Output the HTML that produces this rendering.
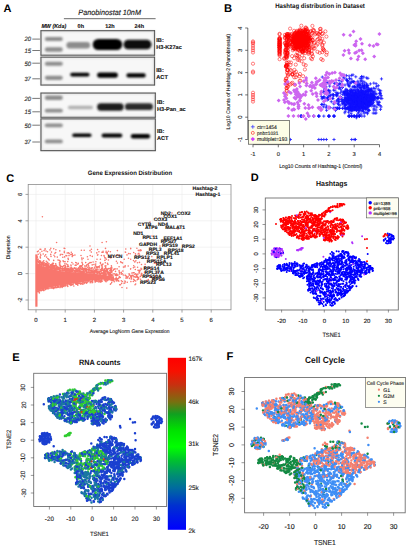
<!DOCTYPE html><html><head><meta charset="utf-8"><style>
html,body{margin:0;padding:0;background:#fff;width:410px;height:550px;overflow:hidden}
svg{display:block;font-family:"Liberation Sans",sans-serif;text-rendering:geometricPrecision}
</style></head><body>
<svg width="410" height="550" viewBox="0 0 410 550">
<defs><filter id="b1" x="-50%" y="-100%" width="200%" height="300%"><feGaussianBlur stdDeviation="1.0"/></filter><filter id="b2" x="-50%" y="-100%" width="200%" height="300%"><feGaussianBlur stdDeviation="1.3"/></filter></defs>
<rect width="410" height="550" fill="#fff"/>
<text x="3.4" y="11.9" font-size="11" font-weight="bold">A</text>
<text x="78.30" y="14.80" font-size="7.71" textLength="62.69" lengthAdjust="spacingAndGlyphs" font-style="italic" fill="#222" stroke="#222" stroke-width="0.15">Panobinostat 10nM</text>
<line x1="63.9" y1="18.7" x2="155.6" y2="18.7" stroke="#444" stroke-width="0.8"/>
<text x="41.40" y="28.00" font-size="5.70" textLength="24.80" lengthAdjust="spacingAndGlyphs" font-weight="bold" font-style="italic" fill="#111" stroke="#111" stroke-width="0.1">MW (Kda)</text>
<text x="80.8" y="28" font-size="5.5" font-weight="bold" text-anchor="middle" fill="#111" stroke="#111" stroke-width="0.12">0h</text>
<text x="110" y="28" font-size="5.5" font-weight="bold" text-anchor="middle" fill="#111" stroke="#111" stroke-width="0.12">12h</text>
<text x="139.3" y="28" font-size="5.5" font-weight="bold" text-anchor="middle" fill="#111" stroke="#111" stroke-width="0.12">24h</text>
<text x="24.44" y="41.40" font-size="6.26" textLength="6.57" lengthAdjust="spacingAndGlyphs" font-style="italic" fill="#333" stroke="#333" stroke-width="0.15">20</text>
<line x1="32.3" y1="39.1" x2="40" y2="39.1" stroke="#555" stroke-width="0.8"/>
<text x="24.40" y="52.80" font-size="6.27" textLength="6.58" lengthAdjust="spacingAndGlyphs" font-style="italic" fill="#333" stroke="#333" stroke-width="0.15">15</text>
<line x1="32.3" y1="50.5" x2="40" y2="50.5" stroke="#555" stroke-width="0.8"/>
<text x="24.40" y="65.50" font-size="6.29" textLength="6.60" lengthAdjust="spacingAndGlyphs" font-style="italic" fill="#333" stroke="#333" stroke-width="0.15">50</text>
<line x1="32.3" y1="63.2" x2="40" y2="63.2" stroke="#555" stroke-width="0.8"/>
<text x="24.40" y="81.10" font-size="6.12" textLength="6.42" lengthAdjust="spacingAndGlyphs" font-style="italic" fill="#333" stroke="#333" stroke-width="0.15">37</text>
<line x1="32.3" y1="78.8" x2="40" y2="78.8" stroke="#555" stroke-width="0.8"/>
<text x="24.44" y="100.70" font-size="6.26" textLength="6.57" lengthAdjust="spacingAndGlyphs" font-style="italic" fill="#333" stroke="#333" stroke-width="0.15">20</text>
<line x1="32.3" y1="98.4" x2="40" y2="98.4" stroke="#555" stroke-width="0.8"/>
<text x="24.40" y="114.10" font-size="6.27" textLength="6.58" lengthAdjust="spacingAndGlyphs" font-style="italic" fill="#333" stroke="#333" stroke-width="0.15">15</text>
<line x1="32.3" y1="111.8" x2="40" y2="111.8" stroke="#555" stroke-width="0.8"/>
<text x="24.40" y="127.50" font-size="6.29" textLength="6.60" lengthAdjust="spacingAndGlyphs" font-style="italic" fill="#333" stroke="#333" stroke-width="0.15">50</text>
<line x1="32.3" y1="125.2" x2="40" y2="125.2" stroke="#555" stroke-width="0.8"/>
<text x="24.40" y="144.30" font-size="6.12" textLength="6.42" lengthAdjust="spacingAndGlyphs" font-style="italic" fill="#333" stroke="#333" stroke-width="0.15">37</text>
<line x1="32.3" y1="142" x2="40" y2="142" stroke="#555" stroke-width="0.8"/>
<rect x="41" y="30.7" width="113.5" height="24.5" fill="#f7f7f7" stroke="#222" stroke-width="1.2"/>
<rect x="41.5" y="31.2" width="112.5" height="23.5" fill="none" stroke="#d8d8d8" stroke-width="1.2" filter="url(#b1)"/>
<rect x="41" y="57.2" width="113.5" height="27.8" fill="#f7f7f7" stroke="#222" stroke-width="1.2"/>
<rect x="41.5" y="57.7" width="112.5" height="26.8" fill="none" stroke="#d8d8d8" stroke-width="1.2" filter="url(#b1)"/>
<rect x="41" y="93.1" width="114.3" height="24.2" fill="#f7f7f7" stroke="#222" stroke-width="1.2"/>
<rect x="41.5" y="93.6" width="113.3" height="23.2" fill="none" stroke="#d8d8d8" stroke-width="1.2" filter="url(#b1)"/>
<rect x="41" y="118.9" width="114.3" height="31.7" fill="#f7f7f7" stroke="#222" stroke-width="1.2"/>
<rect x="41.5" y="119.4" width="113.3" height="30.7" fill="none" stroke="#d8d8d8" stroke-width="1.2" filter="url(#b1)"/>
<rect x="44.8" y="37.1" width="18" height="3.8" rx="1.9" fill="#8c8c8c" filter="url(#b2)"/>
<rect x="44.8" y="47.3" width="18" height="4.4" rx="2.2" fill="#8c8c8c" filter="url(#b2)"/>
<rect x="44.8" y="61.7" width="18" height="4.1" rx="2" fill="#8c8c8c" filter="url(#b2)"/>
<rect x="44.8" y="75.8" width="18" height="4.1" rx="2.1" fill="#8c8c8c" filter="url(#b2)"/>
<rect x="44.8" y="95.6" width="18" height="4.4" rx="2.2" fill="#8c8c8c" filter="url(#b2)"/>
<rect x="44.8" y="108.8" width="18" height="3.8" rx="1.9" fill="#8c8c8c" filter="url(#b2)"/>
<rect x="44.8" y="123.4" width="18" height="3.8" rx="1.9" fill="#8c8c8c" filter="url(#b2)"/>
<rect x="44.8" y="139.5" width="18" height="3.8" rx="1.9" fill="#8c8c8c" filter="url(#b2)"/>
<rect x="66.4" y="41.9" width="23.7" height="6.5" rx="3.2" fill="#8c8c8c" filter="url(#b1)"/>
<rect x="92.7" y="38.9" width="29.6" height="11.2" rx="5.6" fill="#000" filter="url(#b1)"/>
<rect x="123.5" y="39.8" width="28" height="9.5" rx="4.7" fill="#080808" filter="url(#b1)"/>
<rect x="70.2" y="72.7" width="19.3" height="3.8" rx="1.9" fill="#000" filter="url(#b1)"/>
<rect x="97.1" y="72.4" width="20.8" height="5.3" rx="2.6" fill="#000" filter="url(#b1)"/>
<rect x="126.4" y="73.3" width="19.3" height="4.1" rx="2" fill="#000" filter="url(#b1)"/>
<rect x="67.9" y="105.7" width="25.1" height="3.6" rx="1.8" fill="#b0b0b0" filter="url(#b1)"/>
<rect x="97.1" y="103.3" width="26.6" height="7.4" rx="3.7" fill="#1a1a1a" filter="url(#b1)"/>
<rect x="124.9" y="103.3" width="28.1" height="6.8" rx="3.4" fill="#2a2a2a" filter="url(#b1)"/>
<rect x="72.2" y="133.5" width="19.3" height="3.6" rx="1.8" fill="#000" filter="url(#b1)"/>
<rect x="101.6" y="133.5" width="20.7" height="4.1" rx="2.1" fill="#000" filter="url(#b1)"/>
<rect x="130.8" y="134.1" width="19.3" height="4.4" rx="2.2" fill="#000" filter="url(#b1)"/>
<text x="156.3" y="42.2" font-size="5.6" font-weight="bold" fill="#111" stroke="#111" stroke-width="0.12">IB:</text>
<text x="156.3" y="49.3" font-size="5.6" font-weight="bold" fill="#111" stroke="#111" stroke-width="0.12">H3-K27ac</text>
<text x="156.3" y="71.5" font-size="5.6" font-weight="bold" fill="#111" stroke="#111" stroke-width="0.12">IB:</text>
<text x="156.3" y="78.5" font-size="5.6" font-weight="bold" fill="#111" stroke="#111" stroke-width="0.12">ACT</text>
<text x="157" y="103.8" font-size="5.6" font-weight="bold" fill="#111" stroke="#111" stroke-width="0.12">IB:</text>
<text x="157" y="110.6" font-size="5.6" font-weight="bold" fill="#111" stroke="#111" stroke-width="0.12">H3-Pan_ac</text>
<text x="157" y="132.8" font-size="5.6" font-weight="bold" fill="#111" stroke="#111" stroke-width="0.12">IB:</text>
<text x="157" y="139.5" font-size="5.6" font-weight="bold" fill="#111" stroke="#111" stroke-width="0.12">ACT</text>
<text x="250.8" y="181.1" font-size="11" font-weight="bold">D</text>
<text x="316.00" y="186.40" font-size="7.39" textLength="31.40" lengthAdjust="spacingAndGlyphs" font-weight="bold" fill="#111">Hashtags</text>
<rect x="265.3" y="198" width="133" height="112" fill="none" stroke="#707070" stroke-width="0.9"/>
<path d="M265.3 297.9H262.5M265.3 283.3H262.5M265.3 268.6H262.5M265.3 253.9H262.5M265.3 239.2H262.5M265.3 224.5H262.5M265.3 209.9H262.5M281.6 309.8V312.5M302.9 309.8V312.5M324.3 309.8V312.5M345.7 309.8V312.5M367 309.8V312.5M388.4 309.8V312.5" stroke="#555" stroke-width="0.6" fill="none"/>
<text x="257.6" y="297.9" font-size="6" text-anchor="middle" fill="#222" transform="rotate(-90 257.6 297.9)" stroke="#222" stroke-width="0.12">-30</text>
<text x="257.6" y="283.3" font-size="6" text-anchor="middle" fill="#222" transform="rotate(-90 257.6 283.3)" stroke="#222" stroke-width="0.12">-20</text>
<text x="257.6" y="268.6" font-size="6" text-anchor="middle" fill="#222" transform="rotate(-90 257.6 268.6)" stroke="#222" stroke-width="0.12">-10</text>
<text x="257.6" y="253.9" font-size="6" text-anchor="middle" fill="#222" transform="rotate(-90 257.6 253.9)" stroke="#222" stroke-width="0.12">0</text>
<text x="257.6" y="239.2" font-size="6" text-anchor="middle" fill="#222" transform="rotate(-90 257.6 239.2)" stroke="#222" stroke-width="0.12">10</text>
<text x="257.6" y="224.5" font-size="6" text-anchor="middle" fill="#222" transform="rotate(-90 257.6 224.5)" stroke="#222" stroke-width="0.12">20</text>
<text x="257.6" y="209.9" font-size="6" text-anchor="middle" fill="#222" transform="rotate(-90 257.6 209.9)" stroke="#222" stroke-width="0.12">30</text>
<text x="281.6" y="323.3" font-size="6" text-anchor="middle" fill="#222" stroke="#222" stroke-width="0.12">-20</text>
<text x="302.9" y="323.3" font-size="6" text-anchor="middle" fill="#222" stroke="#222" stroke-width="0.12">-10</text>
<text x="324.3" y="323.3" font-size="6" text-anchor="middle" fill="#222" stroke="#222" stroke-width="0.12">0</text>
<text x="345.7" y="323.3" font-size="6" text-anchor="middle" fill="#222" stroke="#222" stroke-width="0.12">10</text>
<text x="367" y="323.3" font-size="6" text-anchor="middle" fill="#222" stroke="#222" stroke-width="0.12">20</text>
<text x="388.4" y="323.3" font-size="6" text-anchor="middle" fill="#222" stroke="#222" stroke-width="0.12">30</text>
<text x="322.40" y="337.20" font-size="6.02" textLength="18.30" lengthAdjust="spacingAndGlyphs" fill="#222" stroke="#222" stroke-width="0.12">TSNE1</text>
<path d="M300 212.6h0M330.9 239.2h0M315.5 214.9h0M341.5 223h0M318.9 220.8h0M289.8 234.9h0M318.5 221h0M335.8 227.4h0M308.2 222.6h0M294.3 234.5h0M294.5 231.7h0M304.7 233.6h0M294.1 230.8h0M323.5 230.3h0M336.6 231.9h0M287 232.3h0M285.3 229.7h0M329.4 239.1h0M338.8 237.1h0M317.8 220.8h0M291.9 221.5h0M290.5 221h0M341 226.5h0M321 232.3h0M317.7 231.9h0M295.4 235.1h0M306 216.6h0M290.9 231.3h0M339.7 227.5h0M335.4 237.8h0M319.5 231.5h0M316.8 216.1h0M367 261.2h0M293.5 235.2h0M292.3 220.7h0M280.4 219.4h0M316.6 234.8h0M285.1 231.3h0M325.7 228.4h0M317.1 232.3h0M332.4 221.7h0M325.2 214.3h0M305.9 225.5h0M319.2 223h0M387.3 234.2h0M341 235h0M295.5 223.6h0M301.7 229.5h0M286.1 225.9h0M289.9 229.2h0M294.2 227.8h0M328.8 235.7h0M331.9 240.8h0M318.9 221.6h0M316.8 217.2h0M313.5 228.8h0M325.8 228.4h0M302 229.9h0M303.8 221.4h0M331 230.2h0M295.6 231.4h0M297.5 236.1h0M387.2 234.7h0M303.5 214.1h0M308 216.2h0M331.6 236.2h0M326.3 227.5h0M325.6 240.3h0M314.5 218.7h0M330.6 222.1h0M316.7 220.4h0M325.6 224.7h0M285.5 230.9h0M336.1 237.5h0M290.8 231.6h0M309.2 231.8h0M318.9 223.3h0M342 224.6h0M310.8 235.3h0M326.2 234.1h0M316.4 219.9h0M317.3 216.6h0M286.7 221.4h0M311.7 232.3h0M320.3 234.7h0M289.5 219.2h0M314.5 215.9h0M337 230.1h0M283.7 218.3h0M367 248h0M337.7 236h0M347.4 226.1h0M306.7 211.6h0M334.5 206.3h0" stroke="#ff0000" stroke-width="2.0" stroke-linecap="round" fill="none"/>
<path d="M329.1 293.1h0M281.7 249h0M300.5 248.8h0M276.6 249.3h0M273.8 250.8h0M279 254.3h0M285.8 258.9h0M362.2 264.7h0M279.7 248.6h0M315.3 231.5h0M274.2 249h0" stroke="#b030ff" stroke-width="2.0" stroke-linecap="round" fill="none"/>
<path d="M326.8 296.3h0M333 262.9h0M353.4 282.3h0M303.2 265.7h0M294.5 263.6h0M361.2 266h0M348.2 291.2h0M345.3 273.5h0M286.5 264.8h0M339.5 273.5h0M314 275.5h0M284.4 267.2h0M345 293.3h0M336.4 285h0M360.9 276.7h0M329 259.8h0M316 281.3h0M350.4 270.5h0M339.2 298.6h0M308.7 268.7h0M308.4 281.2h0M308.9 276.5h0M349.1 287.9h0M361.8 272.3h0M349 268h0M320.1 281.2h0M320.3 295.7h0M343.1 288.5h0M354.6 283.6h0M344.8 292h0M335.2 262.2h0M318.4 280.8h0M331.7 305.7h0M309.4 279.2h0M333.9 263.6h0M330.8 300.8h0M336 276.7h0M391.3 236.8h0M333.2 286.9h0M364.3 273h0M324.8 262.2h0M347 288.7h0M340.2 279.4h0M356.8 277.1h0M285.5 269.3h0M310.6 292.5h0M370.2 267.2h0M281.3 253h0M284 270.6h0M309.3 285.4h0M354 281h0M306.6 265.4h0M317.7 284.3h0M315.4 288.5h0M337.4 261.1h0M348.5 255h0M337.1 261.6h0M319.6 276.8h0M353.5 260.6h0M315.5 267h0M351.7 257.2h0M333.4 291.8h0M360.8 262.8h0M333 269.3h0M328.8 286h0M348.6 266.8h0M356.4 270.4h0M333.9 295.3h0M360.4 272h0M347.1 269.7h0M390.8 241.3h0M316.8 284.6h0M336.4 284.9h0M338.1 270.9h0M325 294.2h0M320.8 287.8h0M314.3 286.8h0M330 279.8h0M370.1 268.5h0M390.9 242.6h0M359.4 276.2h0M331.6 295.2h0M301.6 266.9h0M352.3 259h0M320.1 280.1h0M359.4 275.5h0M348.6 253.4h0M346.4 274.7h0M363.7 268.6h0M334.4 279.4h0M327.9 272.3h0M341.6 263.5h0M319.1 273.4h0M327.8 259.9h0M293.5 267.4h0M316.2 294h0M352.9 277.4h0M331.8 285.8h0M327.9 267.6h0M318.4 281.8h0M333.1 271.2h0M343.1 293.6h0M327.1 298.5h0M342.3 291.2h0M354.5 274.1h0M389.3 234.9h0M338.5 288.8h0M343.1 296.4h0M350.6 269.6h0M331.2 284.5h0M313.6 277.1h0M346.2 263.7h0M302.8 275.2h0M309.5 283.5h0M308.9 270.2h0M355.4 265.4h0M317.4 275.3h0M339.7 271.5h0M329.3 283.9h0M351.6 279.6h0M368.4 271.9h0M389.1 238.3h0M339.2 260h0M340.9 290.6h0M349.9 288.9h0M309.4 274.7h0M325.8 267.6h0M327.9 267.9h0M348.7 267.4h0M318.5 284h0M331.8 271.4h0M354.8 270.5h0M323.6 293.7h0M331 284.1h0M318.7 269.9h0M280.4 249.6h0M347.7 274h0M313.4 272.8h0M317.6 273.5h0M310.2 288.6h0" stroke="#0000ff" stroke-width="2.0" stroke-linecap="round" fill="none"/>
<path d="M280.4 269h0M332.4 275h0M329.2 273.9h0M343.5 276h0M365 274.1h0M367.7 253.9h0M323.6 298.7h0M361.2 269.8h0M338 264.7h0M286.7 263.8h0M317.2 263.3h0M347.6 285.9h0M324.1 279.5h0M313 293.4h0M307.4 277.3h0M327.1 266.7h0M365.3 273.4h0M313.2 284.2h0M338.1 285.5h0M321.9 292.5h0M332.9 266h0M321.5 277.9h0M336.7 281.7h0M309.9 276.4h0M333 285.9h0M362.9 262.2h0M351.2 271.5h0M390.3 243h0M297.3 263.8h0M335.1 290h0M296.8 270.7h0M326.2 294.1h0M326.7 262.1h0M319.4 264.9h0M309.4 279.6h0M355.3 263.7h0M339.1 262.6h0M321.4 286.1h0M366.4 273.2h0M325 296.9h0M348.6 257.6h0M340.6 264.3h0M293 263.7h0M355 257.8h0M312.8 288.8h0M372.9 270.4h0M308.8 274.5h0M340.3 253.9h0M322.8 269.7h0M328.8 301.7h0M313.2 285.7h0M331.7 273.6h0M349.8 290.2h0M309.9 273h0M322.7 269.1h0M326.4 266.3h0M317.3 266.2h0M317.7 283.5h0M343.4 269.2h0M318.5 288.3h0M282.6 266.8h0M319.2 285.8h0M348.5 272.8h0M293.9 270.7h0M354.6 272h0M332.1 254.9h0M316.9 266.3h0M369.3 272.1h0M350.7 256.6h0M350.8 278.3h0M314 264.7h0M355.5 280.5h0M332 303.3h0M331.9 279h0M344.9 295.2h0M313.4 293.5h0M326.9 291.5h0M334 280h0M301.8 276.3h0M352.9 279.4h0M332.4 267.1h0M348.8 258.5h0M338.3 293h0M326.1 300.8h0M329.7 292.8h0M351.1 268.6h0M390.6 239.9h0M329.5 257.5h0M284 268.6h0M314.3 264.9h0M299.2 265h0M320.3 277.7h0M326.9 286.7h0M369.3 270.9h0M310.9 280h0M342.6 288.8h0M326.4 287.6h0M313.2 271.1h0M348.8 268.7h0M283.4 269.1h0M353.7 280.5h0M325.1 296.8h0M356.4 268.1h0M334.7 264h0M321.2 264.6h0M357.8 268.3h0M317 300.4h0M325.2 279.1h0M332.1 284.4h0M322.9 274.3h0M291.5 269.6h0M340.5 292.5h0M343.5 281.2h0M343.9 253.2h0M342.4 266.3h0M335.9 277.6h0M350.4 276.6h0" stroke="#0000ff" stroke-width="2.0" stroke-linecap="round" fill="none"/>
<path d="M295.9 222.3h0M340.3 222.9h0M283.8 220.1h0M291.5 220h0M303.3 236.8h0M320.1 220.1h0M341.1 230.5h0M307.6 235.3h0M302.6 229h0M285.2 228h0M316.3 216.5h0M310.8 214.7h0M289.6 217.5h0M343.7 233.6h0M337.5 223.8h0M291.9 233.7h0M324.5 235h0M324.4 216.4h0M295.8 230.8h0M304.2 234.9h0M310 232.3h0M310.5 222.3h0M338.6 227.2h0M291.6 233.6h0M321.7 233.6h0M320.9 231.9h0M302.7 237.8h0M312.3 215h0M299.7 225.1h0M339.5 205.4h0M329.8 240h0M334.8 234.5h0M281.1 225.6h0M308.3 236.9h0M348 226.4h0M299.8 227.4h0M341.9 204h0M316.8 230.7h0M327.8 230.5h0M318.5 216.5h0M328.1 211.1h0M282.3 220.7h0M306.7 220.9h0M383.5 236.4h0M307.2 220h0M326.7 236.6h0M333.7 233.2h0M291.5 235h0M312.2 232.6h0M332.5 222h0M344.1 221.3h0M284 219h0M334.5 233.9h0M318.8 219h0M281.1 219h0M311.9 227.9h0M317.9 230.6h0M328.1 235.2h0M331.7 221.4h0M288.6 227.1h0M323.8 225.2h0M323.6 229.7h0M301.3 225.1h0M324 224.9h0M288.9 229.1h0M307.5 225.5h0M303.9 238.3h0M327.3 221.9h0M325.4 228.2h0M292 224.4h0M303.1 236.1h0M326.1 234.8h0M344.3 222.8h0M282 220.7h0M325.9 238.9h0M289.6 231.6h0M304.5 226.5h0M344.8 226.2h0M301.2 235.4h0M293.3 231.3h0M323.3 235.9h0M295.4 226.3h0M290.6 231.1h0M329.1 237.6h0M322.9 229.1h0M320.7 222h0M336.6 229.2h0M307.6 217.2h0M300.2 225.4h0M295.9 217.8h0M296.4 227.4h0M325.3 224.8h0M339.5 224.7h0M298.3 228.2h0M295.9 216.3h0M300.2 220.9h0M344.8 222.1h0M300.8 229.1h0M317.5 231.9h0M285.7 222.7h0M343.4 220.8h0M332.6 210.3h0M341.5 205.5h0M330.3 237.8h0M288.6 222h0M383.5 236.3h0M311.7 236.8h0M334.4 231.5h0M286.4 224.5h0M302.2 236.1h0M289.9 233.1h0M337.8 230.9h0" stroke="#ff0000" stroke-width="2.0" stroke-linecap="round" fill="none"/>
<path d="M275.6 256.2h0M301.1 248.8h0M280.1 254.5h0M280.1 251.7h0M272.1 250.6h0M343 251.3h0M323.4 256.7h0M283.2 253.5h0M297 250.3h0M278.7 249.1h0M277 254.4h0M278.7 255.3h0M316.7 266.1h0M273 252.2h0M301.6 248.6h0M302.8 247.9h0" stroke="#b030ff" stroke-width="2.0" stroke-linecap="round" fill="none"/>
<path d="M327.9 269h0M334.2 295.2h0M331.7 297.5h0M331.2 293h0M277.6 268.7h0M355.1 270.5h0M308.1 275.5h0M323.5 266.4h0M307.1 279.1h0M344.4 253h0M330 259.9h0M338.8 272h0M323 289.6h0M348.9 276.8h0M364.3 272.7h0M319.5 272.8h0M351.3 261.9h0M338.9 258.3h0M357.2 265.6h0M337.8 264.1h0M285.2 268.9h0M332.9 260.4h0M334.1 285h0M320.1 302.7h0M364.1 262.1h0M346.9 252.8h0M320.3 269.5h0M308.8 290.3h0M331.4 280.6h0M337.1 267h0M323.4 277h0M339.5 264.1h0M347.7 270h0M337.4 293.5h0M326.6 301.3h0M348.7 259.8h0M368.7 266.1h0M320.2 292.8h0M309.8 268.1h0M350.4 266.5h0M316.6 299.4h0M335.5 292.4h0M338.2 255.6h0M347 268.2h0M350.5 279h0M301 267h0M349.5 265.6h0M335.5 271.1h0M339.2 261.5h0M346.1 270.1h0M306.8 264.9h0M356.7 276.1h0M278.4 252.4h0M316.8 290.5h0M308.5 275.5h0M338.3 273.6h0M307.1 278.1h0M341.5 274.7h0M365.3 273.7h0M313.4 290.3h0M331.4 299.6h0M322 266.4h0M329.7 263.2h0M323.7 293.1h0M333.1 263.2h0M292.4 264.3h0M347.8 269.7h0M312.6 278.7h0M291.5 263.2h0M328.4 301.2h0M338 267.1h0M306.9 278.2h0M363.4 266.7h0M390.6 239.2h0M346.6 279.8h0M350.7 276.2h0M347.6 272.2h0M338.9 289.6h0M393.2 236.2h0M355.3 276.9h0M365.1 270.9h0M353.3 268.9h0M326.3 260.2h0M336.6 251.3h0M306.3 264.7h0M339.8 276.9h0M358.1 260.5h0M333.4 294.3h0M331.5 270.4h0M294.7 265.8h0M330.7 269.8h0M346.7 277.6h0M369.9 269.7h0M334.5 285.9h0M306.5 272.5h0M334.8 267.8h0M304.2 270.1h0M366.4 268.6h0M394 238.2h0M289.5 264.2h0M329.8 300.7h0M291.2 270.8h0M338.1 281.2h0M391 238.3h0M344.6 254.5h0M310.6 289.9h0M294.9 265.2h0M337.2 294.4h0M339.6 290h0M284.6 266.1h0M287.8 270.2h0M353.3 262.7h0M388.6 241.5h0M345.3 268.7h0M337.1 300h0M306.7 276.5h0M355.8 273.7h0M351.3 274.4h0M293.6 271h0M336.7 288h0M323.9 269.2h0M309.6 281.8h0M352.3 285.9h0M333.6 274.2h0M282.3 270.3h0M354 275.1h0M292.3 264.7h0M308.1 280.1h0M307.5 267.8h0M350.1 287h0M337.3 271.5h0M349.7 265.6h0M339.8 272.1h0M312.8 273h0M308.2 290.7h0M325.8 276.1h0M352.9 271.5h0M352.3 277.6h0M341.5 293.6h0M324.9 295.7h0M366.5 270.8h0M281.8 270.5h0M315.7 293h0M342.3 273.9h0M321.7 299.2h0M389.8 238.4h0M357.6 272.1h0M334.6 299.4h0M326.8 261.6h0M307.8 272.6h0M296.7 263.2h0M329.1 273.6h0M301.6 270.2h0M297.2 270.7h0" stroke="#0000ff" stroke-width="2.0" stroke-linecap="round" fill="none"/>
<path d="M364.2 274.4h0M320.7 300.8h0M342.8 257.4h0M276.4 253.3h0M280.1 249.5h0M276.9 251.8h0M277.9 250.4h0M276.2 252.4h0M279.4 248h0M301.5 249.6h0M273.2 252.4h0M274.4 255.2h0M275.2 254.1h0M301.1 249.8h0" stroke="#b030ff" stroke-width="2.0" stroke-linecap="round" fill="none"/>
<path d="M321.9 228.6h0M343.3 226.5h0M289.8 234.1h0M318.7 229.8h0M311.8 223.1h0M341.6 227.6h0M326.2 235.2h0M326.2 232.5h0M315.7 226.2h0M334.7 218.8h0M320.8 218.9h0M337.5 206h0M328.6 208.3h0M282 226.9h0M321.9 213.8h0M337.2 206.6h0M303.2 232.1h0M309.5 230.2h0M291.5 231.4h0M302.3 221.6h0M284.9 220.1h0M340.3 203.9h0M299.2 230.8h0M325.2 229h0M307.6 227.1h0M314.6 230.1h0M304.2 230.9h0M280.8 221.7h0M299.6 227.5h0M324.1 216.2h0M333.7 236.6h0M335.7 236.9h0M312.3 226.4h0M304.7 212.4h0M341 222.6h0M317.1 224.3h0M291 233.7h0M297.6 223.6h0M287.1 221.3h0M306.3 235.9h0M280.5 219.5h0M313 230.1h0M325.6 236h0M326.4 211.4h0M314.2 235h0M321 214.9h0M316.2 228.5h0M292.6 233.3h0M290.9 225.3h0M336.4 226.8h0M281.9 228.1h0M332.8 206.9h0M336.2 218.3h0M324.8 240.6h0M312 227h0M327.4 232.8h0M292 215.9h0M305.1 228.8h0M313 218.4h0M295.1 215.5h0M315.8 216.4h0M329.9 237.1h0M299.8 235.9h0M297.8 217.2h0M305 214.3h0M301.6 239.2h0M317.1 232.1h0M342.9 234.6h0M322.6 227.7h0M325.4 213.1h0M304.1 214.5h0M300.5 217.6h0M347.4 225.8h0M345.2 223.1h0M313.3 236.5h0M324.5 224.3h0M320.4 221.7h0" stroke="#ff0000" stroke-width="2.0" stroke-linecap="round" fill="none"/>
<path d="M271.9 254.8h0M276.9 250.4h0M275.3 252.7h0M319 274.8h0M280.2 251.4h0M274.8 250.5h0" stroke="#b030ff" stroke-width="2.0" stroke-linecap="round" fill="none"/>
<path d="M316.8 225.7h0M341.2 226.4h0M283 225.2h0M305.8 223.6h0M330.7 232.2h0M313.7 229.6h0M310 230.4h0M385.2 234.1h0M301.2 235.7h0M332.7 230.3h0M316.2 230.4h0M305.7 223.8h0M322.6 232.3h0M299.6 235.6h0M303.6 234.7h0M302.3 229.7h0M311.4 225.9h0M327.5 211.5h0M317 231.6h0M304.7 220.8h0M325.1 211.8h0M299.1 222.7h0M286.2 228.8h0M284.4 220.3h0M293.4 221.8h0M329.9 230.5h0M292.9 232.3h0M322.7 216.1h0M322.4 214.4h0M346.4 228.6h0M337.1 218.5h0M324.4 231.6h0M326.9 210.5h0M321.9 233h0M312.2 233.2h0M301.6 232.8h0M315.7 218.4h0M290.5 228h0M328.5 240h0M339.7 220h0M313.5 223.7h0M310.4 236.7h0M326.8 211.6h0M324 234.8h0M329.4 208.2h0M310 232.9h0M314.3 228.8h0M325.8 223.5h0M309.5 233h0M300.4 223.5h0M333.4 230.6h0M340.1 223.9h0M307.2 219.9h0M299.5 232.1h0M310.9 226.9h0M342.5 233.4h0M298.9 226.3h0M304.1 220.3h0M286.1 221h0M312.4 230.9h0M340.6 223h0M308.4 218.2h0M337.9 225.9h0M333.9 230.6h0M333.6 234h0M315.3 220.5h0M321.1 228.4h0M309 236.5h0M327 230.3h0M304.9 237.3h0M340.6 204.3h0M280.7 219.6h0M326.3 234.6h0M327.9 229.5h0M310.5 219.3h0M284.3 228.9h0M294.2 222.8h0M337.7 226h0M300.4 232.7h0M284.1 227.2h0M327.4 211.7h0M284.2 227.4h0M315.8 237.5h0M287.1 223.2h0M293.9 218h0M322.9 225.1h0M331.4 241.5h0M317.6 233.3h0" stroke="#ff0000" stroke-width="2.0" stroke-linecap="round" fill="none"/>
<path d="M312.1 288.2h0M358.1 279.2h0M364.8 266h0M344.3 276.6h0M329.1 299.7h0M311.6 266.3h0M349.4 282.3h0M329.2 274.9h0M318.9 270.8h0M307.9 275.9h0M314.2 277.7h0M314.5 264.6h0M341.3 254h0M320.2 274.5h0M354.4 269.8h0M348 252.3h0M342.3 256.4h0M306.9 281.3h0M340.5 289.3h0M321.9 262.3h0M359.2 270.6h0M315.1 266h0M280.8 253.7h0M354.5 280.3h0M346 292.9h0M356.1 257.2h0M309.3 273.5h0M357.9 271h0M316.8 297.1h0M326.8 278.9h0M335.2 259.2h0M357.1 271.6h0M330.6 271.3h0M312.2 291.4h0M347.4 255.9h0M323.9 262.2h0M360.6 267.6h0M389.7 239.4h0M318.7 274.2h0M332 291.9h0M357.6 270.5h0M388.8 241.7h0M341.3 255.1h0M393.1 237.1h0M355.4 258h0M313 291.4h0M352.8 285.9h0M347.8 267.7h0M339.8 270.7h0M349.4 263.4h0M352.8 277.8h0M327.8 297.7h0M286.5 267.8h0M364.2 268.8h0M277.6 266.4h0M346.1 263.1h0M349.7 277h0M327.8 299.7h0M312.1 265.2h0M341.2 287h0M322.6 281.5h0M324.4 266h0M385.5 238.5h0M309.4 272.5h0M336.6 261h0M358.7 267.5h0M295.3 271.4h0M347.9 273.1h0M330.3 305h0M330.5 295.4h0M336.5 256.4h0M344.6 292.3h0M358.7 264.5h0M337.6 259.8h0M292.9 263.8h0M321 288.6h0M335.3 273.8h0M333.6 255.2h0M340.6 275.2h0M344 274h0M360.3 263.9h0M337.6 300.3h0M329.9 302.7h0M318.6 271.5h0M338.6 270.2h0M325.9 271.8h0M341.4 294.2h0M313 269.5h0M355.3 276.6h0M310.6 267.7h0M325.7 259.3h0M333.9 258.2h0M322.8 267.6h0M351.1 265h0M358.5 266.3h0M311.4 274.2h0M343.3 275.8h0M390.9 234.4h0M312.2 266.6h0M353.3 282.3h0M361.6 266.7h0M290.3 267.3h0M334.3 269.6h0M305 271.5h0M300.4 267.9h0M323.6 294.4h0M350.3 280.3h0M287 268.4h0M327.6 295.1h0M281.3 271h0M316.7 263.5h0M342.3 262.4h0M317.6 286.9h0M330.3 292h0M331.9 303.3h0M387.4 240.7h0M346.5 292.6h0M304 272h0M290.4 269.3h0M329.5 287.6h0M287.9 267.2h0M362.2 270h0M325 269.4h0M298.8 273.4h0M329.8 278.5h0M325.2 285.8h0M357.9 264.7h0M348.3 258.7h0M334.2 256.9h0M337.4 264.6h0M367.5 264.2h0M383.8 240.1h0M279.4 267.8h0M329.2 259.4h0M312.2 269.9h0M357.6 263.1h0M328.5 260.6h0M341.3 264.6h0M302.1 274.6h0M338.8 286.6h0M349.5 275.8h0M320.4 296.3h0M329.8 296.7h0M302.4 271.8h0M307.5 284.8h0M311.9 265.8h0M334.3 264.8h0M308.3 289.8h0M361.8 264.7h0M322.2 264.1h0M323.6 264.6h0" stroke="#0000ff" stroke-width="2.0" stroke-linecap="round" fill="none"/>
<path d="M344.7 272.3h0M321.2 303.1h0M313.8 265.3h0M366.1 273.7h0M372.4 268.5h0M324.3 266h0M350.5 287.8h0M352.4 274.6h0M292.1 265.6h0M325.5 268.9h0M336.1 282.9h0M391.7 239.6h0M357.4 272.9h0M311 278.6h0M329.2 266.1h0M304.2 274h0M331 258.4h0M295.3 272.8h0M324.2 294.6h0M347.2 291.9h0M321.3 273.3h0M289.5 263h0M336.3 292.3h0M345.3 294.1h0M334.1 267.2h0M334.3 299.2h0M349.1 287.5h0M366.8 273.1h0M318 295.7h0M319.1 290h0M332.1 297.1h0M322.5 304.1h0M339.7 268.9h0M319.5 282.7h0M317.5 295.8h0M313.3 279.5h0M316.1 284.2h0M338.8 281.1h0M277.2 268.3h0M331.3 264h0M357.1 272.9h0M331.8 295.4h0M281 268.2h0M354.1 257.6h0M294.7 265.4h0M337 273.9h0M326.4 285.7h0M336.6 259.7h0M332.9 256.8h0M310.8 282.4h0M320.1 291.1h0M309.8 276.4h0M329.8 295.8h0M286.7 272h0M300.6 276.6h0M319.7 296.3h0M304 273.5h0M337.1 277.8h0M309.1 288.5h0M320.3 300.7h0M313.3 293.5h0M338.6 281h0M318.7 273.8h0M311.7 278.5h0M344.8 294.4h0M327.2 303.1h0M316 290.6h0M323.6 306h0M306.4 272.7h0M299.7 269.8h0M344.7 257.8h0M336.8 256.8h0M301.7 271.2h0M324.7 293.7h0M360.2 266.7h0M340.2 279.3h0M349.4 268h0M359.3 272.1h0M321.2 291.6h0M314 298h0M342.3 272.3h0M362 270.8h0M326.7 272.4h0M362.8 270.5h0M334.8 277.6h0M361.4 265.9h0M369.5 269.4h0M322.3 271.6h0M350.1 268.6h0M321.8 282.7h0M312.8 293h0M342.5 262.8h0M311.9 267.7h0M313.7 290.3h0M349.3 286.1h0M343.1 258.3h0M346.1 262.5h0M320.2 291.6h0M328 287.3h0M346.4 282.4h0M361.1 262.1h0M348 255.4h0M313.7 297.4h0M353.9 279h0M316.9 273.4h0M337.6 261.6h0M331 278.5h0M335.4 297.9h0M304.9 270.9h0M340.5 284.2h0M327.1 263.6h0M327.1 301.7h0M318.7 277.3h0M296.3 270.7h0M337.5 272.3h0M334.7 279.4h0M333.2 285.8h0M343.9 290h0M336.2 269.8h0M368.6 267.1h0M354.6 258h0M356.6 261.9h0M326.6 269.1h0M346.5 277.4h0M339.5 299.1h0M346.6 283h0M352.5 261.8h0M316.6 287.2h0M280.6 265.9h0M354.4 261h0M363.5 266.7h0M315.9 282.6h0M349.5 259.7h0M338.3 281h0" stroke="#0000ff" stroke-width="2.0" stroke-linecap="round" fill="none"/>
<path d="M290.7 221.7h0M343.6 233.5h0M317.3 228.9h0M285.8 222.4h0M296.4 229.4h0M294 222.1h0M316.7 219.2h0M332.4 221.9h0M308.7 218.8h0M340.4 219.9h0M347.4 225.3h0M301.9 238.2h0M304.5 228.3h0M335.1 229h0M290.6 220.9h0M296.1 228.5h0M295.5 223.3h0M288.6 227.9h0M317 236.7h0M303.5 225.1h0M282.8 229.2h0M312.9 223.2h0M336.4 228.4h0M306.9 219.1h0M302.3 232h0M317.4 218.8h0M331.2 223.7h0M295.4 221.6h0M322.3 234.2h0M287 222.6h0M306.4 217.9h0M319 227.4h0M311.8 214.6h0M333.8 221.8h0M293.7 227.2h0M294.3 223.5h0M332.1 236.4h0M341.1 222.1h0M330.5 232.1h0M303.2 226.9h0M335.9 207.3h0M309.5 215.6h0M297.4 236.8h0M296.2 216.3h0M332.8 230.4h0M332.9 234.1h0M335.7 206.7h0M331.4 234.7h0M326.9 230.4h0M306.7 238.7h0M295.4 228.6h0M333.2 238.1h0M333.2 231.3h0M324 221.2h0M322.1 222.9h0M334.5 239.4h0M309 230.8h0M290.6 223.2h0M316.2 217.9h0M305.4 213.8h0M321.5 225.8h0M317.5 226.9h0M312.6 219.7h0M328.6 240.1h0M334.9 206.4h0M336.6 206.3h0M328.6 208.7h0M306.3 228.9h0M292.3 221.7h0M310.9 237.2h0M339.8 206.6h0M304.5 232.3h0M319.6 233.7h0M283.1 220.4h0M320.1 218.8h0M294 233.1h0M283.8 229.4h0M292.4 228.8h0M300.9 229.5h0M306.8 215.5h0M289.1 220h0M329.6 222.3h0M339.2 224.2h0M286.9 224.1h0M289.5 235.1h0M298.1 228.8h0M293 225.8h0M333.9 236.4h0M294.2 230.1h0M288.3 233.7h0M342.3 220.1h0M301.4 228.5h0M320.8 227.1h0M333.1 225.9h0M310.9 214.9h0M328.8 238.6h0M342.9 220.3h0M307.1 224.1h0M301.7 212.3h0M297.9 221h0" stroke="#ff0000" stroke-width="2.0" stroke-linecap="round" fill="none"/>
<path d="M327.4 295h0M301.7 248h0M352.1 242.2h0M281.2 252.8h0M276.1 254.8h0M316.9 266.4h0M361.1 266.3h0M280.2 254.3h0M353.2 258.1h0M275.4 248.4h0M275.4 256.9h0" stroke="#b030ff" stroke-width="2.0" stroke-linecap="round" fill="none"/>
<path d="M340.9 222.3h0M277.2 248.6h0M364.4 262.8h0M281.7 249.7h0M276.9 253.9h0M330.3 210.9h0M274.6 256.5h0M279.1 254.2h0M279.2 255.8h0M277.9 257h0M281.4 248.9h0M316.7 290.8h0" stroke="#b030ff" stroke-width="2.0" stroke-linecap="round" fill="none"/>
<path d="M323.4 279.8h0M319.9 303.9h0M353.3 256.4h0M330.4 253.7h0M301 270.4h0M326.5 273.9h0M360.4 262.1h0M346.7 284.1h0M278.6 265.5h0M339.3 284.2h0M312.4 264.9h0M338 289.4h0M343.4 296.1h0M300.3 273.5h0M308.4 281.2h0M342.2 252.1h0M393.5 236.3h0M317.5 280.4h0M359.1 270.8h0M304.2 277.5h0M320.8 275.9h0M347.8 276.6h0M332.8 296.2h0M325.8 265.8h0M305.5 267.1h0M334.7 303.7h0M345.7 265.5h0M355.4 263h0M300.6 271.3h0M309 269.7h0M303.3 263.7h0M372.6 268.5h0M294.6 271.8h0M354.4 281.1h0M333.8 253.4h0M350.6 288.5h0M336 291.6h0M325.3 275.6h0M312.7 281.6h0M391.7 235.1h0M335.1 279.2h0M309.1 278.7h0M332.1 298.1h0M346 272.3h0M338.4 262.8h0M330.4 294.3h0M328.3 295.2h0M300.2 266.5h0M317.3 283.5h0M352.2 261.5h0M309.8 275.8h0M344.6 294.9h0M319.2 263.7h0M328 263h0M345.8 291.4h0M309.4 274.3h0M341.6 297.5h0M368.9 267.1h0M350 257.8h0M316.2 266.1h0M334.5 260.8h0M295.7 266.4h0M340.2 256.1h0M337.6 267.4h0M304.2 272.7h0M286.1 265.1h0M326.4 287h0M316.2 283.3h0M323.2 276.8h0M338.9 279.3h0M327.5 263.2h0M353.2 260.7h0M330.4 294.8h0M347.4 277.9h0M361.3 276.4h0M333.6 280.6h0M364 264.7h0M309 269.6h0M359 271.8h0M315.2 291.7h0M320.3 262.9h0M314.3 293.4h0M353.6 274.7h0M342.3 267h0M291.1 269.3h0M350.6 270.7h0M349.2 275.7h0M329.3 268.2h0M302.3 266h0M348.9 274h0M342.7 251.1h0M316.6 276.8h0M301 275.4h0M342.4 255.2h0M345.6 275.8h0M358.2 270.4h0M365.3 264.7h0M328.5 282.6h0M311.7 267.2h0M349.3 257.5h0M323.5 273.5h0M330.5 265.9h0M319.1 304.4h0M329.7 300.5h0M314.2 279.4h0M338.5 256.2h0M298.9 276.3h0M331 295.5h0M291.1 268.2h0M314.5 289.4h0M332.6 260.1h0M333.1 302h0M301.3 268.1h0M323.2 263.4h0M336.7 260.9h0M326 276h0M337.4 263.1h0M349.7 269.5h0M292.9 273.1h0M318.1 298.8h0M337.8 268h0M334 296.3h0M343.9 289.9h0M368.5 269.9h0M319.2 285.5h0M323.6 271.5h0M312.2 291.4h0M360.6 274.1h0M314 265.8h0M338.1 295h0M339.7 278h0M311 273.8h0M347.2 268.1h0M297.6 265.9h0M314.4 266.5h0M314.6 280.6h0M357.7 278.6h0" stroke="#0000ff" stroke-width="2.0" stroke-linecap="round" fill="none"/>
<path d="M341.8 230.6h0M304 221.6h0M325.4 238h0M343.3 229.9h0M325.5 211.5h0M321 223.6h0M297 237.8h0M330.8 207.1h0M324.4 240h0M340.7 231.4h0M334.8 219.7h0M324.1 215.9h0M320.9 219.8h0M298.4 216.9h0M348.5 228.1h0M298.4 224.3h0M302 219.6h0M292.2 224.5h0M330.3 225.7h0M312.7 217.9h0M338.1 220.2h0M317.8 218.8h0M320.1 227.8h0M298.9 218.1h0M318.9 223.8h0M329.6 234.5h0M321.6 216.9h0M327.4 221h0M286 228.4h0M307.4 238.4h0M287.2 228.3h0M303.3 225.7h0M308.3 219.7h0M286.1 228.7h0M303.2 216.6h0M289.9 220.8h0M330.7 227h0M336.8 229h0M332.4 229.6h0M283 222.3h0M301.4 223.5h0M284.2 223h0M289.8 217.5h0M283.3 218.1h0M308.6 222.4h0M311.2 232.4h0M323.2 230.5h0M318.8 220.9h0M288.4 227.4h0M329.5 207.9h0M312.8 230.4h0M292.9 231.1h0M312 226.2h0M310.1 228h0M322.6 213.5h0M286.2 228.1h0M304.9 220.9h0M303.9 239.5h0M306.9 238.1h0M321.3 228.7h0M331.5 235.9h0M327.7 226.3h0M305.5 230.8h0M294 229.7h0M319.1 231.5h0M291 222.9h0M307.4 237.8h0M314.6 233.7h0M285.6 229.9h0M316.2 218.5h0M317.3 225.1h0M325.6 231h0M314.3 223.8h0M341.6 204.6h0M330.8 225.5h0M302.9 239.9h0M308.3 230.6h0M337.5 204.1h0M310.1 213.2h0M323.5 234.8h0M294.9 220.6h0M315.5 221.5h0M299.8 235.4h0M303 217.1h0M293 224.1h0M288.8 220.9h0M291.7 217.9h0M335.6 225.1h0M337.7 238.7h0M313.6 225.5h0M341.9 229h0M311.3 221.4h0M340.5 234.3h0M305.2 222.7h0M335 226.6h0M289.7 227.9h0" stroke="#ff0000" stroke-width="2.0" stroke-linecap="round" fill="none"/>
<path d="M293.3 268.9h0M340.7 279.1h0M331.1 292.3h0M328.3 263.7h0M327.9 279h0M328.5 282.8h0M331.7 259.4h0M332.1 272.4h0M320.3 267.1h0M328.7 300.9h0M372.4 268.2h0M299.1 275.9h0M387.2 243.4h0M327 300h0M321.6 285.3h0M350.3 284.2h0M323.3 293.4h0M317.4 276h0M292.1 264.4h0M358.9 261.3h0M330.6 263h0M366.1 272.2h0M332.2 272.1h0M306.5 268.8h0M320.9 281.8h0M340.1 286.7h0M314.1 279.5h0M341.5 274.1h0M300.9 275.3h0M293.8 273.5h0M338.2 268.4h0M320.7 274h0M336.1 262h0M393.2 239.5h0M389.2 239.2h0M321.1 270.6h0M338.8 292.5h0M317.5 284.8h0M284.4 264.1h0M276.4 257.2h0M364.8 266.9h0M337.8 269.1h0M277.2 268.9h0M332.6 305.3h0M289.5 268.5h0M351.2 267.8h0M348.2 273.7h0M333.5 278.9h0M343.7 275.1h0M312.2 285.5h0M392.3 235.9h0M343.7 286.8h0M338.6 258.8h0M356.7 261.9h0M333.2 274h0M328.3 291.2h0M295.2 271h0M286.3 267.8h0M368.3 269.2h0M348.6 286.5h0M308.2 289.7h0M332.1 279.7h0M306.6 266.2h0M341.2 292.5h0M319.6 277h0M317.1 265.1h0M360.6 271.8h0M326.5 268.5h0M350.3 273.4h0M343.6 267h0M315.8 293.7h0M324.3 261h0M320.4 275.9h0M386 243h0M283.5 268.5h0M371.5 268.5h0M338.8 251.4h0M324.1 294.5h0M278.8 265.3h0M329.4 268.8h0M317.4 273.1h0M352.9 270.6h0M336.8 258.8h0M342.4 251.3h0M307.8 275.7h0M305.9 267.1h0M293.4 271.7h0M326.6 265.1h0M336.3 299.3h0M335.6 257h0M317.2 299.8h0M297.4 263.8h0M338.2 272h0M313.8 281h0M329 283.7h0M309.1 286.3h0M279.9 249h0M309 290.1h0M291.8 267h0M324.5 292h0M309.2 288.2h0M353.7 266.8h0M351.6 260.5h0M358.5 280.1h0M277.5 266.3h0M326.8 280.9h0M333 256.6h0M322.3 292.6h0M325.2 292.5h0M342.1 274.1h0M341.9 272.6h0M309.2 276h0M333 305.2h0M304.1 263.4h0M309.3 274.8h0M302.7 265.2h0M322.3 288.6h0M314.5 264.4h0M324.6 266.4h0M326.4 284.9h0M365.5 271.9h0M322.4 270.6h0M302.8 268.7h0M343.3 264.4h0M303.1 278.3h0M331.1 264.8h0M345.6 277.7h0M333.6 265.4h0M300.8 265.4h0M352.8 264.2h0M385.3 239.3h0M343.7 251.2h0M361.6 272.4h0M346.8 264.6h0" stroke="#0000ff" stroke-width="2.0" stroke-linecap="round" fill="none"/>
<path d="M298.7 228.4h0M294.3 228.3h0M335.7 238h0M346.1 222.6h0M326 221.2h0M313.1 222.3h0M304.1 215.2h0M310.6 219.5h0M284.9 227.7h0M331.9 233.7h0M294.7 223h0M331.3 223.9h0M327 235.3h0M333.3 236.3h0M306.4 224.3h0M343.1 228.4h0M301.7 227.9h0M307.1 226.5h0M298 215.4h0M326.1 234.3h0M328 238.3h0M332.5 229.9h0M313.5 215.7h0M281.5 220.3h0M332.1 232h0M306.3 233.7h0M329.7 231.8h0M302.1 229.5h0M302.4 237.9h0M302.1 228.6h0M316.1 236.3h0M303 219.5h0M306.7 236.5h0M332.9 224.9h0M298.3 215.5h0M333.3 220.2h0M286.2 230.5h0M342.7 225h0M303.4 233.5h0M301.5 217.5h0M300.1 235.6h0M331.3 236.7h0M297.5 226.7h0M326.4 239.3h0M295.5 227.3h0M319.4 215.2h0M319 214.8h0M347.4 226.5h0M309 227.4h0M322 218.8h0M338.2 237.6h0M316.4 216.3h0M293.5 235.8h0M284.2 223.8h0M285.6 221h0M285.6 225.7h0M336.6 238h0M293.3 235.4h0M294.7 223.8h0M318.5 216.8h0M326 237h0M306.5 221.3h0M292.1 226.5h0M341.1 205h0M342.5 220.1h0M335.1 234.1h0M344.4 230.1h0M301.6 231.6h0M293.9 231.7h0M313 230.4h0M319.6 236h0M305.5 218.1h0M322 226.5h0M306.9 230.4h0M328.6 229.1h0M313.5 221h0M314.1 215.1h0M330.5 230.5h0M293.3 224.3h0M298.1 229.1h0M300.3 221.1h0M315.1 237h0M311.1 233.2h0M367 238.9h0M328 221.2h0M296.1 219h0M343.1 234.3h0M310.4 218.4h0M288.6 227.6h0M319.4 234.3h0M288.3 222.5h0M317.1 220.5h0M339.6 231.3h0M328.7 223.6h0M287.9 220.8h0M302.2 226.5h0M301.9 221.9h0M289.5 222.8h0" stroke="#ff0000" stroke-width="2.0" stroke-linecap="round" fill="none"/>
<path d="M279.3 249.3h0M305.8 227.9h0M274.4 249.1h0M297.4 250.1h0M275 249.6h0M275.3 255.8h0M272.3 251.2h0M301.5 270.6h0M272.1 250.7h0M329.8 281.8h0M290.4 270.8h0M343.7 234.8h0M341.6 235.2h0" stroke="#b030ff" stroke-width="2.0" stroke-linecap="round" fill="none"/>
<path d="M343.9 234.1h0M297.6 231h0M309.1 227.5h0M302.3 234.5h0M299.8 238.2h0M335.6 224.2h0M284.9 225.1h0M313.8 221.7h0M285.6 223.8h0M317.9 221.1h0M298.8 238.4h0M325.4 236.8h0M293.5 225.4h0M294.8 218.5h0M319.6 224.5h0M309.2 230.9h0M312.3 225.1h0M329.1 234.4h0M303 236.4h0M302.7 236.2h0M312.9 236.3h0M340.9 219.7h0M326.7 211.8h0M340.9 233.4h0M281 219.1h0M315 222.8h0M313.4 219h0M334.5 228.1h0M334.7 224.8h0M384.5 236h0M311.2 217h0M313.1 235.2h0M342.8 221.9h0M333.3 227h0M298.6 226.6h0M293 224.1h0M288.1 232.6h0M323.6 212.6h0M309.6 234.6h0M291.8 233.4h0M322.5 215.3h0M287.8 218.6h0M331.8 224.4h0M318.1 223.9h0M318.9 218.4h0M308 212.6h0M304.7 211.8h0M292.1 232.4h0M298.8 216.7h0M315.6 222.7h0M337.3 218.3h0M328.5 209.9h0M302.3 234.6h0M314.4 229.4h0M341.8 232h0M331.8 231.5h0M316.2 231.5h0M317.4 222.8h0M332.6 228.3h0M308.2 232.8h0M305 213.6h0M347.8 229h0M319.8 215h0M315.8 225.1h0M305.4 212.9h0M318 216.4h0M289.3 221h0M311.7 233.2h0M340.2 219.2h0M292 221.1h0M299.3 214.3h0M320.2 230h0M318.9 225.7h0M331 233.3h0M335.7 240h0M286.7 219.5h0M327.1 237.8h0M326.7 221.9h0M309.1 221.7h0M287.5 226.8h0M340.5 233.3h0M290 221.4h0M332.2 228.1h0M322.9 222.4h0" stroke="#ff0000" stroke-width="2.0" stroke-linecap="round" fill="none"/>
<path d="M313.3 280h0M363.7 268h0M327.6 260h0M337.8 264.9h0M360.6 273.9h0M322.3 292.3h0M318.7 300.5h0M328.7 290.5h0M366.7 269.5h0M329.8 274.3h0M317.7 273.1h0M308.8 266.6h0M280 265.1h0M346.8 272.8h0M313.4 283.2h0M351.3 269.7h0M341.3 261.7h0M355.3 274.7h0M361.8 268.6h0M351.4 261h0M337 259.8h0M342 279.1h0M315 281.8h0M325.9 271.5h0M337.6 300.4h0M327.9 291.2h0M298.6 270.5h0M330.5 276.4h0M388 236.9h0M389.7 241.2h0M301.5 273.2h0M354.8 277.6h0M315.6 273.6h0M356.6 266.9h0M325.2 286.2h0M320.7 298.4h0M312.1 288.5h0M329.1 273.5h0M292.7 265.7h0M315.1 274.1h0M387.7 233.6h0M309 283.2h0M331 275.6h0M316.7 289h0M342.6 266.2h0M341 267.4h0M349.6 271.9h0M342 261.4h0M349.5 273.1h0M331.4 275h0M328.5 263.8h0M297.1 264.8h0M346.4 260.2h0M347 267.5h0M325 265.8h0M346.7 278.9h0M315.2 278.2h0M332.5 273.8h0M352.2 277.3h0M341.4 256.8h0M332.6 258.4h0M320.2 302.4h0M309.5 279.7h0M308.1 266.7h0M284.6 264.5h0M295 263.5h0M326.1 283.4h0M349.6 281.8h0M329.6 262.3h0M346 268.8h0M323.4 277.1h0M326.9 279.4h0M292 271.1h0M315 266.8h0M297.9 270.2h0M296.2 273.2h0M388.8 240.2h0M313.8 265.2h0M326.7 289.3h0M392.3 239.1h0M278.3 268h0M298 273h0M345.9 290h0M333.4 301.9h0M330.4 290.4h0M282.3 252.7h0M334.3 275.5h0M355.7 258.2h0M317.3 297.9h0M358.8 261.2h0M331.9 252.1h0M372.2 269.6h0M283.1 252.4h0M333.2 268.3h0M351.9 287.2h0M316 263.8h0M340.2 292.9h0M352.5 281.7h0M329.3 258.3h0M315.5 283.9h0M360.4 274.8h0M300.8 276.1h0M338.5 265.2h0M331.8 288.2h0M364.7 262.2h0M341.8 259.7h0M360.1 265.9h0M310.7 277.6h0M334.6 302.3h0M336.1 300.4h0M311.3 285.5h0M310.1 268.8h0M338 280.2h0M321.1 300.4h0M331.3 277.8h0M330.8 266.6h0M357.8 274.5h0M362.1 272.2h0M362.2 272.7h0M302.4 273.9h0M348.7 266.3h0M350.3 272.5h0M360.1 274.4h0M310.4 283.4h0M360 275.9h0M344 256.4h0M347.2 252.6h0M321.2 265.9h0M347.4 291.1h0M337.9 262.4h0M335.1 258h0M308.6 270.9h0M352.6 261.8h0M333.4 295.1h0M359.9 259.9h0M389.4 235.3h0M345 274.4h0M341.3 269.5h0M336.7 267.7h0M328.2 288.8h0M334.7 303.4h0M336.7 282.2h0M341.9 278.6h0M354.3 278.2h0M280.9 253.3h0M350.6 275.9h0M337.1 266.1h0M319.8 280.7h0M331.2 291.7h0" stroke="#0000ff" stroke-width="2.0" stroke-linecap="round" fill="none"/>
<path d="M279.6 252.3h0M274.8 252.4h0M272.7 252h0M276.7 247.9h0M274.2 248.3h0M281.6 255.4h0M296.8 215.2h0M281.3 255.7h0M300.8 248.8h0M321.9 300.8h0M330.2 212.3h0M275.1 253.7h0" stroke="#b030ff" stroke-width="2.0" stroke-linecap="round" fill="none"/>
<path d="M330.8 278.9h0M362.1 236.3h0M281.6 249.1h0M282.7 251h0M274.7 248.6h0M352.5 243.2h0M298.2 250.5h0M278.3 255.8h0M298.5 250.1h0M271.5 253.4h0M277.5 256.4h0M277.9 250.4h0M282.2 252.7h0M313.8 230.3h0M344.9 285.5h0" stroke="#b030ff" stroke-width="2.0" stroke-linecap="round" fill="none"/>
<path d="M323.7 275.5h0M333.8 301.8h0M322.2 284.3h0M279.3 266.8h0M316.3 283.5h0M337.1 281h0M330.9 277.2h0M345.7 252.1h0M329.6 271.5h0M317.5 283.3h0M344.3 291.5h0M309.2 284.3h0M346.6 261.7h0M319.1 271.7h0M357.1 264.5h0M359.4 265.7h0M309 278h0M333.5 279.3h0M306.1 270h0M337.7 286.3h0M289.2 268.5h0M339.2 280.2h0M331.5 272.6h0M344.6 262.4h0M367.3 267.5h0M350.4 261.3h0M343.3 257.6h0M371.7 267.8h0M328.9 264.8h0M333 296.5h0M315.3 298.3h0M338.6 290.6h0M331 284.4h0M338 265.3h0M330.6 292.5h0M347.2 292.5h0M325.5 260.8h0M273.9 252.1h0M297.8 275h0M346 284.9h0M365 263.9h0M356.4 286.2h0M317.2 267.3h0M347.3 292.5h0M312.7 274.3h0M347.6 264.8h0M303.8 273h0M340.5 260.5h0M328.6 280.5h0M333 288.8h0M331.9 291.4h0M392.7 235.7h0M294.3 267.5h0M311.6 276h0M303.9 268h0M366 267.9h0M372.2 268.9h0M351.2 287.5h0M289.3 266.1h0M329.7 280.5h0M321.9 274.5h0M338.3 256.8h0M311.3 284.8h0M351.9 283.3h0M335.9 262.7h0M369.8 265.9h0M340.7 291.3h0M362 270.1h0M322.8 289.2h0M338.8 280.8h0M344.5 293.7h0M331.1 295.9h0M345.2 279.4h0M336.5 267.7h0M333.2 273.7h0M360.7 270.6h0M301.7 271.2h0M343.4 271.8h0M356.1 262.1h0M337.3 295.5h0M317.4 263.9h0M350.6 280.6h0M388.8 235.5h0M294.8 262h0M324.8 267.2h0M340.8 293.8h0M280.1 267.1h0M334.5 266.7h0M330 295.9h0M302.2 266.4h0M317.8 277.6h0M300.1 276.1h0M356 263.6h0M352.5 258.1h0M355 273h0M370.4 265.9h0M346.4 259.9h0M350.6 272.5h0M345.7 286.9h0M349.9 280.9h0M308.4 270.3h0M302.5 275.9h0M346.1 270.9h0M351.9 282.2h0M331 283.4h0M310.7 285.7h0M328.2 282.1h0M348.3 253.7h0M352.1 272.1h0M323.7 301.9h0M331.7 271.2h0M312.8 266.8h0M289.2 270.9h0M389.5 233.9h0M346.2 251.9h0M312.5 279.4h0M326.6 291.5h0M350.7 276.3h0M348.6 259.4h0M330.6 280h0M293 273.3h0M335.5 289.7h0M345.6 263.2h0M287.6 265.1h0M295.2 272.5h0M287.4 265.2h0" stroke="#0000ff" stroke-width="2.0" stroke-linecap="round" fill="none"/>
<path d="M291.7 235.9h0M326.1 212.2h0M347.7 228.1h0M343.1 219.8h0M311.9 213.3h0M307.1 219.9h0M300.8 214.7h0M342.1 219.5h0M301.1 223h0M330.9 211h0M305.6 224.7h0M314 230.5h0M280.7 220.5h0M325.8 211h0M283 226.3h0M308.5 218.8h0M328.5 237.3h0M329.1 210.7h0M308 238.7h0M309.7 219.8h0M325.5 214.8h0M335.3 227.5h0M364.9 239.2h0M384.7 235h0M286 217.4h0M339.8 203.9h0M329.5 211.2h0M337.2 238h0M327.5 240.2h0M319.9 220.5h0M305.8 217.5h0M341.5 230.4h0M303.2 229.8h0M288.3 218.1h0M302.1 225.1h0M327 229.8h0M308.9 219.4h0M309.1 219.1h0M306.8 238.1h0M285.9 217.5h0M340.4 204.3h0M322.3 214.3h0M316.9 230.6h0M291.5 224.1h0M280.5 219.6h0M314.4 222.1h0M335.9 225.3h0M317.9 218.5h0M314.9 235.7h0M296.3 226h0M324.9 213.9h0M296.8 237.2h0M304.6 219.2h0M288.2 224h0M339.1 230.6h0M293.3 225.1h0M333.3 222.1h0M283.1 224.4h0M288.6 217h0M313.5 229.6h0M292.6 227.2h0M330.6 230h0M322.1 228.1h0M283.4 221.3h0M325.5 239.6h0M321.7 230.7h0M327.8 232.3h0M333.5 233h0M325.4 238.9h0M290 231.3h0M310.2 232.5h0M342.2 220.8h0M303.1 239h0M323.8 239.9h0M312 220.7h0M309 238.7h0M325.2 235.5h0M324 232.3h0M325 231.5h0M304.5 231.9h0M313.2 230.4h0M290.7 220.7h0M307.1 223.4h0M280.8 221h0M289.7 217.1h0M298.3 222.4h0M288.5 228h0M339.7 203.9h0M284.2 229h0M332.8 206.2h0M300.7 233.1h0M292.6 225.4h0M308 217.1h0M325.1 237.7h0M294.4 234.9h0M307.6 222.8h0M307.8 224.4h0M300.4 224h0M320 219.3h0M321.9 226.4h0M322.3 226.4h0M300.6 214.9h0M325 225.8h0M286.1 223.2h0" stroke="#ff0000" stroke-width="2.0" stroke-linecap="round" fill="none"/>
<path d="M308.7 213.5h0M306.3 236.3h0M331.1 221h0M314.9 237.4h0M281.2 227.1h0M294.5 223.6h0M284.9 224h0M313 218.8h0M346 227.8h0M303.2 231.6h0M303.6 216.7h0M331.5 234.3h0M342.3 205.5h0M306.4 222.1h0M322.9 225.7h0M328.4 210.1h0M302.1 211.9h0M320 234.2h0M294.8 227h0M288 229.9h0M296.2 223.8h0M302.8 222.3h0M310.2 220.8h0M338.3 237.5h0M316.1 220h0M318.3 230.7h0M302.7 216.8h0M308.9 230h0M301.7 235.7h0M308.7 228.7h0M298 221h0M290.4 227.5h0M342.5 236.5h0M328.1 226.9h0M287.5 224.1h0M330.8 239.9h0M309.2 233h0M341.5 229.4h0M330.1 238.7h0M323 223.8h0M347.5 227.6h0M298.2 231.5h0M324.7 233.1h0M343.4 203.9h0M298 227.2h0M387.2 235.6h0M297.7 224h0M296.5 233.9h0M289.8 218.1h0M304 221.9h0M312.8 235.1h0M302.6 234.4h0M306.2 223.2h0M314.5 224.9h0M318.4 219.6h0M315.6 230.8h0M313.8 224.2h0M314.7 217h0M326 236.1h0M332.2 206.9h0M276 224h0M298.3 237h0M310.2 236.7h0M317 225.6h0M342.2 229.8h0M295.5 223.2h0M326.2 221.4h0M329.4 241.6h0M285.4 219.3h0M305.3 238.2h0M329.1 221.8h0M288.2 228.1h0M344.3 230.7h0M322.5 227.1h0M336.8 220.1h0M316.7 232.9h0M285.3 219.4h0M318.2 224.8h0M281.2 221.2h0M307 215.7h0M293.5 226.9h0M324.8 229.2h0M324.9 221.6h0M316.9 232.3h0M309 230.2h0M344.4 204.6h0M298.7 215.9h0M340.6 233.5h0M289.1 221.9h0M332.3 233.7h0M337.8 207.3h0M343.7 223.7h0M307.7 225.8h0M329.8 235.7h0M308.1 217.9h0" stroke="#ff0000" stroke-width="2.0" stroke-linecap="round" fill="none"/>
<path d="M281 249.7h0M299.2 249.6h0M352.7 264h0M300.1 249.5h0M277.1 256.2h0M323.7 237.9h0M278.8 249.7h0M273.3 253.8h0M278.6 256.9h0" stroke="#b030ff" stroke-width="2.0" stroke-linecap="round" fill="none"/>
<path d="M386.8 241.1h0M354.4 256.7h0M349.1 260.4h0M332.9 272h0M361.5 262.8h0M348.4 254.9h0M359 259.1h0M305.1 272.8h0M324.6 283.9h0M311.2 276.8h0M356.9 273.7h0M338.5 268.2h0M340.2 269.9h0M327.3 277.1h0M352.7 277.3h0M284.1 267.1h0M335 283.8h0M314.9 288.1h0M299.9 277.1h0M328 283.4h0M361.8 265.7h0M326.5 269.7h0M349.7 256.8h0M327.5 281.4h0M358.7 261.3h0M324.2 293.4h0M341 269.5h0M351.8 256.9h0M341.9 267.6h0M370.1 268.2h0M388.8 243.3h0M296.4 264.6h0M333.6 270.4h0M337.4 289h0M330.1 261h0M356.2 272h0M326 279.5h0M351.5 257.6h0M358.4 269.1h0M349.9 267.5h0M318.1 274.5h0M325.7 304.6h0M341.4 264.1h0M318.8 302.4h0M341.4 263.1h0M332.9 290.2h0M350.6 274.4h0M338.1 292.4h0M287.6 268.6h0M360.3 271h0M339.7 294.3h0M328.4 282.7h0M325.5 299.4h0M357.2 268.6h0M344.1 296.1h0M282.9 265h0M332.5 257.1h0M353.9 260.9h0M286 269.9h0M341.2 268.6h0M344.9 272.3h0M279.2 267.9h0M318.5 302.2h0M321.6 284.1h0M295.3 274.9h0M281 270h0M329.9 299h0M335.9 280h0M341 258.8h0M357.6 270.8h0M345.7 252.4h0M321.3 270.2h0M311.4 269.8h0M348.2 290.6h0M342 257.6h0M338 262h0M344.8 274.1h0M332.9 253h0M345.3 261.1h0M341.1 295.8h0M305.5 272.9h0M344.9 265.7h0M308.8 279.8h0M279.2 268.5h0M383.8 240.7h0M338.1 284h0M318.2 284.2h0M316.7 281.8h0M343.2 283.8h0M339 285.2h0M342.2 283.7h0M350.2 262.3h0M339.2 276.5h0M351.5 260.3h0M286.8 269h0M355.7 260.4h0M308 278.6h0M360.6 261.9h0M346.8 277.7h0M339.3 255.3h0M346.9 276.6h0M351.8 256.9h0M301.4 275.3h0M328.3 286.5h0M326 305.2h0M342.3 294.3h0M308.8 270.5h0M354.8 282.5h0M328.5 274.8h0M335 265.5h0M327.2 272.8h0M343.2 266.3h0M345.2 285.6h0M324.6 276.2h0M309.8 269h0M390.6 238.2h0M312.2 283.4h0M325.4 275h0M309.6 271.3h0M351.6 279.4h0M307.7 279.3h0M303.1 268.9h0M372.6 271.1h0M288.4 266.1h0M329.7 260.2h0M327.3 274.1h0M339.6 293.8h0M359.9 261.4h0M346.8 264.2h0M351.7 282.3h0M296.3 275h0M323 298.5h0M352.4 271.1h0M319.3 269.1h0M369.4 272.5h0M353 256.3h0M362 264.2h0M351.1 273h0M366.3 263.3h0M333.7 283h0M341.9 280.2h0M275.7 248.7h0" stroke="#0000ff" stroke-width="2.0" stroke-linecap="round" fill="none"/>
<rect x="366.3" y="197.9" width="32.2" height="20" fill="#fdfdf0" stroke="#555" stroke-width="0.6"/>
<circle cx="370.2" cy="202.8" r="1.7" fill="#0000ff"/><circle cx="370.2" cy="207.7" r="1.7" fill="#ff0000"/><circle cx="370.2" cy="212.9" r="1.7" fill="#b030ff"/>
<text x="373.5" y="204.6" font-size="4.3" fill="#222" stroke="#222" stroke-width="0.18">ctr=1355</text>
<text x="373.5" y="209.5" font-size="4.3" fill="#222" stroke="#222" stroke-width="0.18">pnb=938</text>
<text x="373.5" y="214.7" font-size="4.3" fill="#222" stroke="#222" stroke-width="0.18">multiplet=96</text>
<text x="12.2" y="360.8" font-size="11.2" font-weight="bold">E</text>
<text x="79.10" y="365.40" font-size="7.72" textLength="41.40" lengthAdjust="spacingAndGlyphs" font-weight="bold" fill="#111">RNA counts</text>
<rect x="33.7" y="373.3" width="132.9" height="133.2" fill="none" stroke="#707070" stroke-width="0.9"/>
<path d="M33.9 493H30.8M33.9 475.4H30.8M33.9 457.8H30.8M33.9 440.2H30.8M33.9 422.6H30.8M33.9 405H30.8M33.9 387.4H30.8M49.4 506.5V509.5M70.8 506.5V509.5M92.2 506.5V509.5M113.6 506.5V509.5M135 506.5V509.5M156.4 506.5V509.5" stroke="#555" stroke-width="0.6" fill="none"/>
<text x="25.5" y="493" font-size="6.3" text-anchor="middle" fill="#222" transform="rotate(-90 25.5 493)" stroke="#222" stroke-width="0.12">-30</text>
<text x="25.5" y="475.4" font-size="6.3" text-anchor="middle" fill="#222" transform="rotate(-90 25.5 475.4)" stroke="#222" stroke-width="0.12">-20</text>
<text x="25.5" y="457.8" font-size="6.3" text-anchor="middle" fill="#222" transform="rotate(-90 25.5 457.8)" stroke="#222" stroke-width="0.12">-10</text>
<text x="25.5" y="440.2" font-size="6.3" text-anchor="middle" fill="#222" transform="rotate(-90 25.5 440.2)" stroke="#222" stroke-width="0.12">0</text>
<text x="25.5" y="422.6" font-size="6.3" text-anchor="middle" fill="#222" transform="rotate(-90 25.5 422.6)" stroke="#222" stroke-width="0.12">10</text>
<text x="25.5" y="405" font-size="6.3" text-anchor="middle" fill="#222" transform="rotate(-90 25.5 405)" stroke="#222" stroke-width="0.12">20</text>
<text x="25.5" y="387.4" font-size="6.3" text-anchor="middle" fill="#222" transform="rotate(-90 25.5 387.4)" stroke="#222" stroke-width="0.12">30</text>
<text x="49.4" y="520.9" font-size="6.3" text-anchor="middle" fill="#222" stroke="#222" stroke-width="0.12">-20</text>
<text x="70.8" y="520.9" font-size="6.3" text-anchor="middle" fill="#222" stroke="#222" stroke-width="0.12">-10</text>
<text x="92.2" y="520.9" font-size="6.3" text-anchor="middle" fill="#222" stroke="#222" stroke-width="0.12">0</text>
<text x="113.6" y="520.9" font-size="6.3" text-anchor="middle" fill="#222" stroke="#222" stroke-width="0.12">10</text>
<text x="135" y="520.9" font-size="6.3" text-anchor="middle" fill="#222" stroke="#222" stroke-width="0.12">20</text>
<text x="156.4" y="520.9" font-size="6.3" text-anchor="middle" fill="#222" stroke="#222" stroke-width="0.12">30</text>
<text x="89.90" y="535.50" font-size="6.25" textLength="19.00" lengthAdjust="spacingAndGlyphs" fill="#222" stroke="#222" stroke-width="0.12">TSNE1</text>
<text x="10.70" y="448.90" font-size="6.28" textLength="19.10" lengthAdjust="spacingAndGlyphs" transform="rotate(-90 10.70 448.90)" fill="#222" stroke="#222" stroke-width="0.12">TSNE2</text>
<path d="M85.3 465.8h0" stroke="#d04010" stroke-width="2.5" stroke-linecap="round" fill="none"/>
<path d="M121.3 474.2h0M109.4 403.2h0M57.7 417.4h0M129.2 454.7h0M49.5 434.3h0M113.2 463.7h0M62.3 413.6h0M72.6 415.9h0M112.9 487.4h0M104.3 477.5h0M128.8 467.6h0M44.4 434.7h0M107.1 493.8h0M54.8 414.3h0M76.6 457.9h0M76.3 472.9h0M76.8 467.3h0M41.6 436.5h0M106.8 420.1h0M116.9 457.1h0M85.7 400.5h0M59.7 401.3h0M111 481.7h0M122.5 475.8h0M58.4 400.8h0M112.7 485.9h0M103.1 450.1h0M86.3 472.4h0M88.9 414.4h0M99.6 502.3h0M73.9 395.4h0M159.3 419.7h0M107.6 408.5h0M101.1 479.8h0M132.2 463.1h0M103.4 421h0M135 449h0M61.4 417.8h0M46.9 440.7h0M48.2 398.9h0M124.7 468h0M53.3 458.7h0M138.1 456.1h0M49.1 439.2h0M93.6 409.6h0M105.4 448.9h0M116.5 441.5h0M105 449.4h0M100.3 401.5h0M53.7 446.2h0M121.5 448.2h0M119.7 444.1h0M101.3 485.7h0M128.7 450.8h0M155.3 416.5h0M116.5 455.6h0M124.3 460h0M109 417.5h0M63.3 403.9h0M69.5 411h0M101.8 489.8h0M128.4 461.9h0M130.1 453.1h0M115 459.1h0M158.8 425.1h0M62 408.9h0M84.7 477h0M104.4 477.4h0M88.7 480.9h0M138.1 457.7h0M158.9 426.7h0M96.7 418.3h0M127.4 467h0M99.8 424.4h0M99.5 489.7h0M127.3 466.1h0M116.5 439.6h0M114.4 465.2h0M131.6 457.8h0M102.3 470.7h0M109.6 451.7h0M47.6 433.9h0M95.7 447.4h0M84.1 488.3h0M120.9 468.3h0M99.7 478.4h0M111 487.7h0M155.2 417.2h0M95 493.6h0M110.2 484.9h0M122.5 464.5h0M157.3 417.4h0M106.4 482.1h0M111 491.2h0M118.6 459h0M99.1 476.9h0M94.2 408.6h0M93.5 423.9h0M114.2 452h0M123.3 454h0M98.6 402.1h0M93.5 405.2h0M53.3 412.6h0M109.9 405h0M119.5 471.1h0M136.4 461.8h0M157.1 421.5h0M107.2 447.5h0M54.5 401.3h0M108.9 484.2h0M117.9 482.2h0M77.3 465.2h0M104.9 411.6h0M116.6 456.4h0M135 433.2h0M105.6 418.7h0M99.7 461.2h0M122.8 460.1h0M98.9 476.4h0M48.2 435h0M115.6 464.3h0M115.3 406.9h0M78.1 481.8h0M42 434.3h0" stroke="#1a3fd0" stroke-width="2.5" stroke-linecap="round" fill="none"/>
<path d="M67.9 390.7h0M100.9 450.9h0M86.8 400.5h0M71.1 454.3h0M107.4 463.7h0M68.3 434.1h0M76 402.7h0M91.4 411.9h0M104.5 413.9h0M101.8 451.8h0M103.9 467.6h0M84.7 394.9h0M92.7 450.2h0M87.5 467.6h0M83.4 455.9h0M73.8 406.2h0M87.1 403.2h0M100.9 458.7h0M96.7 478.7h0M57.7 410.6h0M97.9 471.2h0M88 471.6h0M84.7 396.2h0M95.8 462.3h0M81.4 410.1h0M69.9 411.4h0M71.7 401.3h0M98.9 411.8h0M87 463.5h0M61.4 456.4h0M101 461h0M83.2 413.4h0M81.4 468.1h0M107.6 461.3h0M104.1 420.5h0M77 413.7h0M84.3 399.5h0M85.2 395.4h0M88.2 417.2h0M82.4 394.6h0M91.5 488h0M86.6 459.4h0M85.5 463.7h0M74.6 389.5h0M102.5 383.1h0" stroke="#30cc30" stroke-width="2.5" stroke-linecap="round" fill="none"/>
<path d="M98.8 422.5h0M94.7 491.1h0M83.4 393.4h0M86.4 400.8h0M62.4 451.9h0M97.1 487.2h0M116.2 484.9h0M103.7 408.4h0M54.3 453.2h0M81.9 466.1h0M62.1 417h0M52.3 456.2h0M61.9 412.5h0M97 447.2h0M83.9 473h0M118.3 460.1h0M117 481h0M129.8 462.3h0M53.2 411.2h0M97.3 422.5h0M88 473h0M88.2 490.3h0M109 407.3h0M77.3 470.6h0M85.6 413.8h0M63.3 417.7h0M58.7 413.1h0M98.7 496.5h0M87.4 413.3h0M114.9 481.9h0M60.1 400.5h0M108.1 470.8h0M84.5 417.3h0M53 413.1h0M78.5 486.5h0M51.8 460.2h0M77.1 477.9h0M122 472.7h0M74.5 454h0M85.6 476.6h0M83.3 481.7h0M85 414.3h0M93.1 392.7h0M54 406.6h0M106 460.6h0M92.9 488.5h0M82.2 479.7h0M69.5 455.8h0M120.2 446.3h0M86.8 401.5h0M93.7 409.6h0M63.5 413.2h0M65.4 418.9h0M95.8 456.6h0M86.3 473.7h0M71.4 392.4h0M75.9 395h0M99.5 419h0M82.4 398h0M70.7 465.7h0M77.4 475.7h0M76.8 459.7h0M84.6 400h0M97.2 476.1h0M58.7 413.5h0M86.8 403.5h0M78.6 417.9h0M94.1 416.5h0M79.5 414.3h0M57.3 398.6h0M93.7 456.6h0M95.8 457h0M51.6 397.6h0M86.3 476.3h0M81.3 462.9h0" stroke="#1a78a0" stroke-width="2.5" stroke-linecap="round" fill="none"/>
<path d="M108.2 403h0M71.2 419.7h0M97.2 464.2h0M88 399.7h0M75.5 417.9h0M53 409.1h0M85.1 451.5h0M92 470.9h0M59.8 416h0M95 455.5h0M81.1 476.6h0M106.5 408.2h0M89.6 415.8h0M88.8 413.8h0M77.8 467.2h0M119.1 461.3h0M80.2 393.5h0M102.8 417h0M103 483.5h0M48.9 406.3h0M94.1 488.4h0M87.3 453.4h0M123.2 452h0M109.9 380.4h0M95.7 412.1h0M86.4 395.4h0M96 388.9h0M101.6 415.4h0M59.4 417.6h0M112 401.1h0M102.4 416.3h0M90.7 459.2h0M48.9 398.3h0M96.7 497.5h0M81.1 478.3h0M90.6 458.4h0M85.2 454.9h0M96 417.8h0M56.4 408.1h0M86.4 481.4h0M91.5 411.2h0M69.1 405.7h0M61.7 460.4h0M122.6 461.9h0M84.8 455h0M71.8 421.6h0M81.9 453.2h0M95.2 401.9h0M81.3 487.7h0M94.8 485.3h0M101.9 471.5h0M69.7 467.1h0M93.8 422.3h0M57.5 413.4h0M94 496.5h0M72.4 407.4h0M112.7 407h0M97.6 486.9h0M91.2 418.6h0M63.2 407.1h0M58.5 412.8h0M97.4 444.5h0M90.8 410.5h0M104.5 410.5h0M88.2 468.7h0M137.2 460.5h0M110.5 482.1h0M63.8 395.1h0M68.1 400.6h0M116.8 457.9h0M85.4 413.9h0M51.3 458.4h0M84.6 454.9h0M79.6 419.7h0M54.2 405h0M59.4 459h0M70.1 418.9h0M105.8 412.6h0" stroke="#1a78a0" stroke-width="2.5" stroke-linecap="round" fill="none"/>
<path d="M75.1 399.5h0M79.8 409h0M94.3 455h0M93.2 405.3h0" stroke="#d04010" stroke-width="2.5" stroke-linecap="round" fill="none"/>
<path d="M100.3 465.5h0M70.5 410.4h0M84.2 395.4h0M78.7 393.2h0M57.4 396.5h0M75.2 468.3h0M68.9 434.1h0M92.4 417.6h0M92.3 395.2h0M78.4 402.3h0M89.8 486.5h0M100.8 454.8h0M89.4 469h0M64.6 460.4h0M115.9 407.2h0M94.6 450.1h0M84.7 412.3h0M74.6 400.6h0M60.8 452h0M76.7 464.9h0M86.7 398.4h0M99.6 463.8h0M77.7 463.2h0M85.8 412.3h0M91.7 405.7h0M50.4 455.6h0M87 478.4h0M91.9 405.5h0M93.3 409.4h0M99.8 470.3h0M100.3 456h0M69.1 418h0M64.9 435.9h0M82.2 453.4h0M88.6 402h0M94.8 479.6h0M53.6 402.8h0M100.6 387.9h0M102.6 452.3h0M89.1 453.1h0M93.1 470.4h0M90.8 464.6h0M69.4 433.8h0M70.6 433h0M103.8 468.6h0" stroke="#30cc30" stroke-width="2.5" stroke-linecap="round" fill="none"/>
<path d="M63.8 402.3h0M51.7 399.7h0M48.3 458.3h0M59.4 399.5h0M111.4 466.7h0M132.9 464.4h0M135.6 440.2h0M109.1 412.2h0M91.5 493.9h0M129.2 459.3h0M106 453.1h0M54.6 452.1h0M115.5 478.6h0M111.6 415.9h0M105.4 404.1h0M80.9 487.5h0M43.4 443h0M63.7 412.5h0M72.1 417.4h0M133.3 463.6h0M77.9 414.3h0M106 478h0M59.4 415.8h0M70.5 420.9h0M104.6 473.5h0M47.9 441h0M100.9 478.5h0M130.8 450.1h0M67.6 405.6h0M107.4 382.1h0M158.3 427.2h0M65.2 452.1h0M97.7 423.5h0M76.2 419.8h0M67.7 408.4h0M77.3 471h0M107 450.7h0M89.3 478.8h0M50.1 400.4h0M151.5 419.2h0M134.4 463.4h0M92.9 491.8h0M94.6 419.5h0M116.5 444.6h0M108.5 452.7h0M122.9 444.8h0M80.7 482.1h0M80.1 414.6h0M140.9 460h0M100.4 401.9h0M48 437.5h0M108.3 440.2h0M51.8 398.4h0M117.7 483.8h0M85.6 475.7h0M99.6 401.2h0M111.3 458.5h0M39.9 436.3h0M116.4 462.8h0M56.7 410.5h0M100 441.4h0M75.4 406.2h0M137.3 462h0M118.6 443.5h0M118.7 469.4h0M110.9 437h0M91.3 443.5h0M51 439.7h0M123.5 472.1h0M59.8 404.9h0M71 418.9h0M94 417.3h0M100 499.4h0M112.8 489.7h0M112.2 402.9h0M49.9 400.5h0M120.8 470.8h0M116.8 445.7h0M106.2 487.1h0M61.1 413.1h0M119 457.8h0M97 420.7h0M158.6 423.4h0M51.8 457.9h0M46.5 434.4h0M44.8 440.8h0M67 453.6h0M75.5 396.2h0M68.1 406.1h0M63.8 396.9h0M64.3 408.5h0M78.7 471.5h0M107.5 405.1h0M66.1 409.4h0M94.3 480.6h0M46.5 441.9h0M81.1 460.8h0M112.7 402.1h0M68.7 410.5h0M111.3 400.6h0M121.6 472h0M109.4 382.1h0M93 491.6h0M124.3 457.2h0M98.2 420.9h0M56.4 402h0M151.5 419.1h0M125.7 457.5h0M102.3 413.4h0M84.9 496h0M100 476.7h0M40.9 438.1h0M108.5 486.5h0M111.4 472.9h0M111.8 439.3h0M110.3 455h0M57.8 415.3h0M118.3 467.4h0" stroke="#1a3fd0" stroke-width="2.5" stroke-linecap="round" fill="none"/>
<path d="M95.8 458.2h0M76 466.1h0M86.5 411.3h0M97.9 447.4h0M105.5 382.8h0M96.5 385.6h0M77.4 411.8h0M52.8 399.7h0M93.1 410.4h0M75.5 408.1h0M77.7 457.3h0M92 395h0M106.3 463.9h0M80.2 407.3h0M101 451.4h0M58.8 415.9h0M106 456.1h0M99.4 460h0M69.4 435h0M98.6 459.3h0M102.7 456.9h0M88.9 393.4h0M72.1 459.7h0M57.3 452.5h0M79.9 407.9h0M74.6 467.3h0M91.8 458.6h0M63 394.1h0M50.2 459.9h0M105.2 461.3h0M65.6 396.2h0M107.7 462h0M80.7 463.1h0M90.5 408.8h0M93.3 391.3h0M49.7 460.1h0M69 435.3h0M94.7 449.4h0M75.7 462.6h0M64.5 451.4h0M81.2 419.4h0M97 463.9h0M69.5 459.7h0M92.4 404.7h0M88.3 401.6h0" stroke="#30cc30" stroke-width="2.5" stroke-linecap="round" fill="none"/>
<path d="M102.1 489.7h0M99.6 492.4h0M99.1 487h0M45.4 458h0M111.3 407.4h0M123 460h0M132.2 464.7h0M109.5 408.7h0M112.3 439.1h0M106.8 461.9h0M90.9 483h0M116.8 467.7h0M132.3 462.8h0M94.1 417.8h0M87.4 462.9h0M119.2 449.8h0M102.6 398.1h0M105.8 452.4h0M100.8 448h0M102 477.5h0M49.9 407.8h0M89.8 392.1h0M110.7 444.4h0M132.1 450h0M114.8 438.9h0M71.1 414.1h0M67.1 412.5h0M99.3 472.3h0M105 455.9h0M107.4 452.4h0M115.6 459.5h0M105.3 487.7h0M44.2 439.5h0M116.7 447.3h0M88.1 486.8h0M72.1 412.7h0M47.9 434.9h0M103.4 486.4h0M106.1 442.2h0M114.9 457.4h0M118.4 470.2h0M44.7 437.7h0M117.4 454.2h0M67.5 408.6h0M103.4 460.8h0M107.2 449.3h0M114 459.6h0M74.7 453.3h0M45.8 436h0M124.7 466.8h0M101.6 419.5h0M46.3 438.4h0M84.7 484h0M103.7 419.8h0M109.4 465.1h0M133.3 463.9h0M81.3 483.9h0M99.3 495h0M44 438.4h0M47.2 433.1h0M91.6 487.2h0M72.6 390.5h0M108.9 402.7h0M115.7 459.1h0M59.4 451.4h0M96.3 496.9h0M65.5 403.9h0M131.3 455.5h0M158.6 422.6h0M114.5 471.2h0M54.9 401.1h0M115.6 462.2h0M106.8 483h0M161.2 419h0M123.2 467.8h0M133 460.6h0M121.3 458.2h0M94.2 447.8h0M104.5 437h0M74.1 418.6h0M107.7 467.7h0M48.3 399h0M126.1 448.1h0M101.3 488.6h0M80.8 411.6h0M93.5 418.7h0M62.6 454.5h0M114.6 468.6h0M137.9 459.2h0M102.5 478.6h0M134.3 457.8h0M162 421.4h0M97.7 496.4h0M106 472.9h0M41 438.4h0M159 421.5h0M112.5 440.9h0M60.5 415.5h0M42.3 441.8h0M43.1 440.4h0M105.1 488.8h0M107.5 483.5h0M121.2 450.7h0M156.6 425.3h0M113.2 457.9h0M104.2 397.5h0M105 495.4h0M92.7 424.2h0M95.3 414.9h0M59.9 394.6h0M119.3 464.7h0M73 410.1h0M61.5 460.7h0M104.6 481.1h0M80.9 397.6h0M120.2 478.5h0M101.5 464.6h0M122 465.6h0M97.8 420.1h0M75.4 456.9h0M118 479.9h0M67.7 418.6h0M117.7 454.3h0M72.8 392.7h0M120.8 461.3h0M120.3 468.7h0M109.4 487.8h0M92.8 490.4h0M134.5 460.4h0M71.9 393h0M68.4 396.7h0M83.6 487h0M110.2 464.2h0M89.6 494.5h0M157.8 421.6h0M125.5 462.1h0M115.3 406.5h0M102.5 494.7h0M113.1 403.3h0M65.1 460.3h0" stroke="#1a3fd0" stroke-width="2.5" stroke-linecap="round" fill="none"/>
<path d="M57.7 416.5h0M91.4 455.2h0M75 470.5h0M79.7 403.3h0M94.1 414.6h0M88.6 496.4h0M106.9 445.5h0M83.6 407h0M125.2 454.3h0M53.1 458.2h0M88 498.7h0M105.1 383.5h0M88.2 458.9h0M76.7 483.8h0M59.3 413.2h0M70.2 401.5h0M108.2 380.3h0M91.3 467.8h0M94.5 497h0M82.5 411.7h0M136.7 454.9h0M118.3 455.4h0M84.5 494.7h0M68.9 455.9h0M48.6 401.6h0M76.3 466.1h0M75 469.2h0M89.9 455.2h0M97.6 451.4h0M60.2 452.6h0M85 404.7h0M80.5 469.9h0M74.8 469.3h0M118.6 467h0M74.2 453.1h0M94.3 389.3h0M82.1 417.6h0M74.4 462.5h0M59.1 460.5h0M84.1 409.7h0M78.5 483.4h0M58.7 405.9h0M104.3 407.7h0M62.7 453.8h0M49.7 409.3h0M100.7 383.8h0M52.5 454.8h0M55.6 459.7h0M123.7 463.9h0M77.5 473.7h0M83.6 395.2h0M60.2 453.1h0M76 471.6h0M69.5 422.6h0M76.1 484.3h0M93.7 466.8h0M85 414.1h0M110.8 417h0" stroke="#1a78a0" stroke-width="2.5" stroke-linecap="round" fill="none"/>
<path d="M89.8 409.8h0M88.7 398.2h0" stroke="#d04010" stroke-width="2.5" stroke-linecap="round" fill="none"/>
<path d="M109.1 407.2h0M80 481.4h0M50.8 405.8h0M132.7 454.7h0M112.2 467.4h0M73.7 403.8h0M97 495.1h0M98.6 414.2h0M39.8 441.3h0M77.8 412h0M153.2 416.5h0M69.1 418.4h0M117.4 474.2h0M86.8 460.5h0M90.5 414.4h0M75.8 466.5h0M82.4 453h0M44.7 436h0M109.3 440.3h0M122.4 459.3h0M115.9 438.3h0M110.2 443.2h0M108.4 482.7h0M89.8 450.3h0M127.2 460.3h0M48.6 440h0M113.9 486.9h0M124 444.1h0M71.4 417.2h0M77.2 463.7h0M125.8 460.7h0M84.7 491.9h0M103.1 446.6h0M125.1 461.4h0M115.3 442.6h0M128.5 456.6h0M72.6 400.5h0M157.7 422.8h0M99.9 485.7h0M43.1 438.8h0M156.8 425.5h0M109.2 441.6h0M161.1 420h0M123.4 445.1h0M54.1 410.1h0M120.7 478.5h0M115.8 456.7h0M117.3 451.6h0M120.7 468.9h0M97.8 412.1h0M60.7 414.3h0M132.2 458h0M114 451.2h0M117.6 467.9h0M95.7 495.1h0M109.1 479.8h0M90.5 473.3h0M92.3 454.7h0M153.5 421.7h0M89.8 415.2h0M104.5 448.8h0M126.6 456.5h0M80.1 415.4h0M115.9 463.2h0M112.5 486.3h0M126.6 452.9h0M105.5 447.2h0M69.4 415h0M58.4 409.2h0M60.8 452.1h0M96.4 423.5h0M107.6 399.6h0M103.2 464h0M108.5 465.7h0M111.9 464.3h0M128.3 452.2h0M91.9 417.3h0M105.5 495.9h0M86.8 465.3h0M109.3 488.5h0M93.6 446.7h0M101.8 445.3h0M90.7 456.6h0M119 453.4h0M126.4 455.1h0M48 437.2h0M111.2 466.4h0M158.9 416.9h0M42.6 436.2h0M121.3 474.3h0M129.5 455.5h0M118.2 471.9h0M101.3 412.3h0M95.5 489.6h0M108 404.3h0M67.4 414h0M78.8 407.8h0M84.6 451.7h0M110.3 450.4h0M85.4 479.8h0M99.8 499.4h0M110.5 415.7h0M155.4 424.4h0M114.4 486.6h0M66.7 407.1h0M71.9 399.9h0M53.9 400.7h0M97.4 480.6h0M55.8 456.1h0M130.1 459.5h0M92.9 458.8h0M105.8 406.7h0M101.8 412.2h0M101.6 416.4h0M97.7 469.7h0M93.1 478.4h0M125.9 453.2h0M76.9 419.4h0M116.2 445.9h0M102.1 443.8h0M105.3 453h0M48.6 399.1h0M135.4 452.6h0M151.8 423.7h0M47.2 456.8h0M125.6 451.2h0M109.2 453h0M70 465h0M106.7 479.5h0M78.4 398.7h0M117.4 466.5h0M88.3 491h0M52.1 410.2h0M68.2 414.7h0M51.9 408.1h0M83.7 420.6h0M54.9 403.4h0M76.2 483.3h0M129.7 453.1h0M90.8 405.7h0M99.3 425.3h0" stroke="#1a3fd0" stroke-width="2.5" stroke-linecap="round" fill="none"/>
<path d="M126 470.6h0M79.5 455.1h0M100.6 411.9h0M82.1 468.7h0M88.1 464.9h0M74.7 473.1h0M67.4 418.2h0M82.9 454.7h0M122.4 471.8h0M70.2 411.2h0M84.9 413.5h0M80 485.2h0M66.9 402.8h0M125.6 460.1h0M52.3 400h0M61.3 401.7h0M54.3 456.9h0M45.4 455.1h0M114.3 409.9h0M105 397.8h0M77.3 462.5h0M92.3 413.4h0M63.2 461.2h0M98.2 501.4h0M98.4 490h0M104.4 443.2h0M83.6 397.7h0M88.9 481.7h0M101.5 441.8h0M78.2 419.5h0M97.8 498.7h0M86.5 461.3h0M97.3 385.4h0M93.8 461.6h0M123.3 467.4h0M78.5 456.7h0M77.9 415h0M82.2 410h0M93.7 403.7h0M77.4 415.1h0M58.2 456.2h0M102.2 459h0M72.8 461.3h0M68.2 457h0M91.5 488.8h0M54.9 457.5h0M49.1 460.7h0M98.2 485.9h0M71.8 461.9h0M108.5 380.7h0M94.2 417.1h0M97.1 446.8h0M95.9 410.9h0M96.4 448.2h0M62 403h0M105.6 406.8h0M97.7 491.5h0M70.3 461.7h0M52.1 408.4h0M79.8 454.4h0M61.7 397.2h0M85.5 415.5h0M91.5 453h0" stroke="#1a78a0" stroke-width="2.5" stroke-linecap="round" fill="none"/>
<path d="M84.7 406.4h0M81.5 411.1h0M97.1 465.4h0M84.1 412h0M73.6 404.1h0M94.7 470.2h0M79.3 406.6h0M98.5 461h0M95.4 389.3h0M91.8 450.2h0M93 389.7h0M86.6 464.5h0M80.9 485.1h0M107.7 460.4h0M95.7 492.7h0M90.6 394.9h0M90.3 392.8h0M80 453.8h0M94.8 388.1h0M81.4 404h0M94.7 389.5h0M106.5 459.7h0M80.9 458.9h0M79.3 464.5h0M80.1 455.4h0M68.3 403.8h0M75.1 399.4h0M58.3 458.7h0M80.3 412.7h0M108.5 403.2h0M76.3 397.4h0M66.6 463.6h0M83.2 400.1h0M89 409.6h0M94.9 412h0M72.8 420.3h0M80.1 459.4h0M75.4 477.3h0M95.3 389.6h0M102.3 453.2h0M90.1 452.5h0" stroke="#30cc30" stroke-width="2.5" stroke-linecap="round" fill="none"/>
<path d="M58.5 401.6h0M112.7 462.3h0M111.5 415.8h0M134.1 464h0M95.3 489.4h0M53.7 402.4h0M140.4 457.7h0M118.5 480.9h0M59.9 454.3h0M120 426.1h0M104 475h0M159.7 423.1h0M115.4 406h0M125.3 462.9h0M69.8 421.3h0M98.9 445.6h0M63.1 462.8h0M72.4 409.5h0M103 410.3h0M104.3 486.2h0M49 438.9h0M113.3 488.4h0M102.2 494.5h0M134.8 463.2h0M43.9 441.3h0M85.9 490.3h0M56.5 409.1h0M100 492h0M90.4 500.3h0M84.8 419.5h0M104.3 409.6h0M81.2 470.9h0M84.8 455.2h0M84 476.5h0M106.7 472.8h0M63.2 401.5h0M125 463h0M99.7 490h0M48.8 457.4h0M122 444.6h0M54.8 402.7h0M62.6 454h0M104.9 464.2h0M94.3 478.4h0M104.5 447.1h0M101.7 401.7h0M100.8 443.7h0M61.6 408.1h0M62.2 403.7h0M100 419.2h0M109 402.1h0M98.5 414.1h0M71.1 407.8h0M76.9 481.7h0M106.5 472.7h0M100.8 412h0M100.8 416.4h0M99.3 417.2h0M112.8 488.7h0M112.6 444.8h0M104.7 443.7h0M92.6 487.9h0M128.2 455.5h0M63.3 409.9h0M108.1 470.7h0M117.4 457.1h0M91.9 401h0M127.3 462h0M81.8 493.1h0M102.4 422.8h0M110.3 462.3h0M84.1 397.1h0M130 460.5h0M130.8 460.1h0M129.4 454.6h0M104.5 383.1h0M118 457.8h0M60.1 401.6h0M80.7 487.1h0M110.5 450.8h0M48 440.7h0M81.6 483.8h0M121.1 445.3h0M117.2 478.8h0M51 400h0M111.1 445.5h0M88 398.1h0M88.1 485.3h0M61.9 415.2h0M114.3 474.3h0M129.1 450h0M97.5 402.3h0M116 442h0M107.1 404.6h0M105.5 449.5h0M103.4 492.9h0M72.8 460.5h0M60.8 406.5h0M101.8 419.2h0M102.6 470.7h0M101.1 478.4h0M111.9 483.4h0M62 411.6h0M110.3 399.7h0M136.6 456h0M69.2 409.7h0M43.2 433.6h0M101 406.6h0M43.2 443.8h0M94.5 458.4h0M96.7 421.9h0M107.5 494.4h0M114.5 475.1h0M120.4 449.6h0M48.5 454.6h0M131.5 455.5h0M117.4 447.1h0" stroke="#1a3fd0" stroke-width="2.5" stroke-linecap="round" fill="none"/>
<path d="M81.7 453.9h0M94.8 412h0M104.1 459.3h0M78.8 393.4h0M75 404.5h0" stroke="#d04010" stroke-width="2.5" stroke-linecap="round" fill="none"/>
<path d="M89.1 499.2h0M92.2 454.7h0M64.3 410.9h0M120.4 465h0M61.8 402.1h0M100.3 401.8h0M76.6 398.1h0M108.3 399.4h0M93.4 458.2h0M78.9 469.8h0M92.1 489h0M115.1 485.8h0M89.1 463.5h0M57.3 451.1h0M117.1 480.4h0M64 409.7h0M63.4 403.5h0M87 483.5h0M107.6 458.2h0M71.3 405.7h0M87.4 474.7h0M85.4 490.5h0M50.7 410.6h0M70.2 414h0M99.1 404h0M45.1 457.5h0M99.2 452.4h0M90.2 416.5h0M86.8 408.4h0M78.7 474.4h0M88 484.8h0M77.7 467.2h0M97.7 490.5h0M54.6 461.9h0M68.4 467.4h0M103.8 384.3h0M87.6 491h0M71.8 463.7h0M105 468.8h0M88.2 496.4h0M81.1 487.7h0M64.1 395.1h0M79.6 469.7h0M103.6 383.6h0M95.1 499.1h0M83.8 484.2h0M91.5 502.6h0M74.3 462.7h0M67.6 459.2h0M74.6 422h0M101.2 421.2h0M89.9 403h0M89.1 485.4h0M85.4 407.8h0M94.6 462.4h0M80.4 399.2h0M96.5 423.7h0M129.1 455.1h0M137.4 458.8h0M90.2 461.4h0M96.5 386.1h0M78.8 420.2h0M89.7 474.7h0M107.7 383.4h0M72.4 414.3h0M79.8 456.8h0M114 450.5h0M95.9 480.2h0M51.6 410.8h0M60.3 410.1h0M68.8 410.9h0M81.6 492.3h0M54.7 404.5h0M121.9 470.3h0M84.8 463.6h0M57.4 417.6h0M65.9 410.1h0M108.4 476.6h0M95 497.5h0M64.2 460.3h0M105.4 462.2h0M56.2 416h0M122.6 445.2h0M124.6 449.8h0M114.5 468.4h0M84.4 480.1h0M110.8 399.9h0M122.4 448.7h0M69.5 390.3h0M65.8 400.8h0M83.8 474.7h0M106.2 472.7h0" stroke="#1a78a0" stroke-width="2.5" stroke-linecap="round" fill="none"/>
<path d="M85.2 410.2h0M69.6 433.1h0M84.6 398.6h0M97.1 454.9h0M72.1 464.3h0M58.5 400.6h0M102 456.1h0M80.8 403.3h0M74.8 398.5h0M85.3 398.1h0M74.3 397h0M79.6 393h0M77.4 394.3h0M65.3 419.7h0M86.6 464h0M69.6 461h0M101.1 413.1h0M76.9 412.5h0M58.4 403.3h0M73.3 392.2h0M89.4 406.5h0M102.7 468.6h0M102.8 383.3h0M74.2 410.2h0M87.4 416h0M74.7 394.2h0M56.9 399.6h0M98.9 469.7h0M95 451.9h0M86.6 468.2h0M88.7 408.1h0" stroke="#30cc30" stroke-width="2.5" stroke-linecap="round" fill="none"/>
<path d="M76.5 402.4h0M91.5 461.3h0M82.3 455.3h0" stroke="#d04010" stroke-width="2.5" stroke-linecap="round" fill="none"/>
<path d="M94.5 464.2h0M98.7 384.1h0M80.2 453.4h0M88.8 399.3h0M88.7 466.6h0M76.9 459.2h0M80.6 397.1h0M85.7 398.1h0M88 408.9h0M86.8 404.1h0M89.5 395.8h0M95.3 400.8h0M76.1 399.2h0M71.1 395.5h0M52.1 403.1h0M57.6 396.5h0M95.9 451.2h0M77.2 464.7h0M91.1 412.1h0M86.7 400.6h0M80.6 412.1h0M78 409.1h0M91 467.6h0M95.4 451.4h0M59 458.7h0M97.2 457.3h0M82.5 416h0M79.6 456.2h0M98.4 454.5h0M85.2 405.7h0M93.5 412.8h0M82.1 404.2h0M76.1 412.3h0M105.4 380.6h0M91.4 417.2h0M67.7 418h0M93.9 466.7h0M81.5 406.1h0M79.2 401.2h0M78.9 464.1h0M73.1 402.8h0" stroke="#30cc30" stroke-width="2.5" stroke-linecap="round" fill="none"/>
<path d="M91.3 471.2h0M109.7 412.2h0M87.8 500.2h0M71.8 401.4h0M93.3 421.1h0M121.2 443.2h0M111.2 411.4h0M98.3 440h0M68.9 460h0M128.4 450h0M114.6 476.4h0M108.8 402.3h0M107.2 476.5h0M92.3 423.6h0M105.9 482.7h0M111.4 490.8h0M102.8 399.2h0M68.2 463.7h0M76.3 472.9h0M110.2 438.1h0M161.5 419.2h0M127 460.4h0M115.7 467.5h0M100.7 491h0M116.5 409.2h0M102.6 499.9h0M45 433.8h0M123.4 451.1h0M132.3 450.9h0M69.9 399.1h0M71.2 452h0M98.2 406.4h0M122.4 472.8h0M101.7 439.6h0M118.6 481.7h0M49.5 435.2h0M106 399.9h0M103.9 485.4h0M97.5 416.9h0M159.7 417.7h0M103 470.5h0M75.3 421.6h0M113.9 462.2h0M106.3 450.8h0M98.3 488.7h0M68.1 455.3h0M98.6 408h0M104.7 410.4h0M120.1 449.3h0M100.3 411.1h0M77.7 466.5h0M50.9 402.3h0M112.5 489.3h0M87.1 452h0M113.7 485.2h0M44.7 440.2h0M109.5 492.4h0M136.9 456.1h0M117.9 444.9h0M102.4 448.5h0M63.5 455.2h0M108.2 442.9h0M60.8 412.8h0M79.9 406.9h0M105.5 456.3h0M72.1 462.7h0M94.3 479.9h0M54.1 409.3h0M106.8 470.6h0M72.8 400.7h0M71.8 422.9h0M98.3 489.2h0M115.3 468.9h0M129.3 467.1h0M101.5 472.2h0M132 453.2h0M95.6 407.1h0M73.4 412.5h0M126.9 461.6h0M42.5 443.3h0M82.2 487.5h0M61.8 411.2h0M110.2 455.8h0M87 413.3h0M118.5 460.4h0M58.9 403.1h0M117.2 466.4h0M116.8 464.3h0M46.9 440.6h0M75.3 420.9h0M110.6 436.8h0M53.4 411.5h0M84.5 467.7h0M110.3 441.8h0M113.6 466.4h0M126.1 460h0M133.3 453.1h0M117.2 444.5h0M87 500.7h0M106.4 443h0M66.7 467.1h0M98.9 490.1h0M58.9 457.3h0M47 442.5h0M100.5 447.6h0M101 497.9h0M77.9 391.4h0M105.3 451.3h0M70.9 396.1h0M117.7 458.9h0M60.8 404.5h0M60.8 463.3h0M56.7 400.6h0M101.9 491h0M111.8 483.4h0M103.5 405.7h0M136.5 459.3h0M105.6 422h0M80.1 485.2h0M128.6 464.4h0M109.8 410.3h0M81.9 454.4h0M106 489.5h0M45.7 444h0M107.6 469.1h0M49.2 434.2h0M115.1 457.2h0M84.6 484.5h0M125.6 469.8h0M57.6 409h0" stroke="#1a3fd0" stroke-width="2.5" stroke-linecap="round" fill="none"/>
<path d="M93.4 389.3h0M88.9 403.8h0M46.4 454.1h0M64.9 420.9h0M108.6 413.2h0M92 394.7h0M85.4 472h0M72.1 468.5h0M66.2 395.9h0M93.7 454.5h0M73.4 456h0M113.7 454h0M68.5 461h0M66.3 404.8h0M60.1 404.9h0M140.6 457.7h0M62.5 461.7h0M93.2 466.2h0M66.7 397.2h0M80.6 473.4h0M53.8 409.7h0M77 470h0M55.1 409.5h0M71.1 406.4h0M100 493.1h0M54 410h0M96.2 489.7h0M57.7 400.5h0M85.2 475.6h0M69.3 403.8h0M51.1 397.2h0M84.1 454.8h0M79.1 414.4h0M56.2 408.5h0M97.4 385h0M53.9 453.6h0M84.1 475.5h0M90.5 391.7h0M121.1 448.3h0M74.8 421.3h0M89.2 410h0M99.4 418.6h0M98.2 388.6h0M76.9 459.1h0M83.1 485.5h0M88.2 451h0M121.5 465.2h0M70.1 454.8h0M68.9 466h0M84 397.7h0M96.4 474.6h0M91.4 463.8h0M97.6 496h0M82 470.8h0M82.4 482.7h0M109.5 381.1h0M98.7 406.1h0M70.8 423.4h0M62.8 400.3h0M69.2 457.2h0M83.4 401.4h0M91.1 451.6h0M104.6 448.6h0M85.9 494h0M105.7 457.2h0M59.5 397h0M87.1 478.1h0M108.4 416.7h0M65.5 454.6h0M82.5 472.2h0M102.9 407.5h0" stroke="#1a78a0" stroke-width="2.5" stroke-linecap="round" fill="none"/>
<path d="M61.1 458.2h0M95.8 470.3h0M88.2 456h0M85.2 466.7h0M98.6 451.1h0M74.2 404.7h0M74.2 415.9h0M61.7 463.6h0M106.1 457.6h0M88.6 464.3h0M52.3 452.4h0M100.8 405.5h0M101.4 470.1h0M65.3 435.7h0M87.3 393.8h0M101.1 464.3h0M86.9 393.4h0M76.9 408.4h0M89.9 398.2h0M84.3 395.1h0M94.4 457.7h0M92.2 448.7h0M46.7 453.9h0M97.3 458.1h0M85.3 463.2h0M109 381.6h0M106.2 461.8h0M81.9 393.7h0M65.9 410.5h0M77.1 465.3h0M70.5 453.7h0M78.3 397.7h0M92.5 455.2h0M84.9 400.1h0M99 453.3h0" stroke="#30cc30" stroke-width="2.5" stroke-linecap="round" fill="none"/>
<path d="M96.2 452h0M96.6 496.5h0M78.5 399h0M140.4 457.4h0M67 466.6h0M89.5 477.9h0M99.8 415.9h0M91.2 487.5h0M62.6 403.2h0M59.9 452.8h0M94.9 417.8h0M101.2 419.1h0M134 462.1h0M100.1 462.1h0M69.6 409.1h0M94 416.7h0M74.3 458h0M100.4 411.4h0M88.7 473.7h0M81.4 394.4h0M68.8 465.8h0M70 409.8h0M85.4 477.2h0M73.6 409h0M70.9 398.9h0M74.5 419.3h0M54.1 412.2h0M110.6 405.5h0M71.3 415.8h0M69.3 396.6h0M111.7 479.7h0M96.2 484.9h0M115.4 407.3h0M74.5 455h0M87.5 467.9h0M61.2 418.1h0M111.6 455.9h0M69.4 460.2h0M62.6 404.2h0M92 488.9h0M110.5 399.6h0M110.3 437.1h0M75.7 466.3h0M73.7 456h0M61.3 461.5h0M94.5 453.7h0M104.2 494.7h0M85.1 495.2h0M65.2 452.1h0M80.9 412h0M81.7 472.7h0M73.3 397.3h0M89.9 407.3h0M96.5 410.4h0M76.9 483.6h0M81.4 400.7h0M94.7 472.5h0M100.9 443.4h0M97.7 473.6h0M90.2 486.6h0M68.1 400.9h0M95.9 401h0M64 398.4h0M111 416.8h0M90.2 481.7h0M82.4 452.8h0M56.4 408.6h0M87.3 416.7h0M56.2 402.5h0M90.3 460.2h0M70.9 469.4h0M101.5 454h0M68.6 454h0M70.1 407.4h0" stroke="#1a78a0" stroke-width="2.5" stroke-linecap="round" fill="none"/>
<path d="M66.5 409.6h0M62.2 409.5h0M108.6 470.4h0M99 486.2h0M103.7 421.1h0M114 402.7h0M93.9 401h0M47.2 434.6h0M96.4 474.9h0M99.6 446.7h0M81 402.3h0M72 393.8h0M155.2 427.6h0M94.9 495.4h0M52.8 408.8h0M118.2 476.6h0M99.2 404.2h0M126.8 449h0M111 409.6h0M75 407.4h0M65.8 394h0M95.9 421.5h0M108.1 479.5h0M82 470.9h0M49.3 399.9h0M109.5 464.4h0M100 414h0M97.6 413.7h0M70 411h0M70.2 421h0M84 419.1h0M104 450h0M161.2 423h0M157.2 422.6h0M89 460.3h0M106.7 486.5h0M44.3 444.2h0M132.7 455.8h0M105.7 458.4h0M45 458.1h0M100.5 501.8h0M57.4 457.8h0M119.1 456.9h0M66.2 394.2h0M116.1 463.9h0M111.6 465.6h0M80.1 478.1h0M101.2 399.8h0M42.2 434.5h0M160.3 418.6h0M67.9 418.2h0M99.2 419.5h0M65.4 407.6h0M94.3 422.7h0M63.3 408.3h0M106.5 446h0M124.7 449.7h0M63 460.7h0M54.2 456.9h0M106.1 420.7h0M136.3 458.5h0M42.9 435.1h0M61.4 418.5h0M116.6 479.3h0M52 404.1h0M76.1 483.1h0M100 471.1h0M109.1 486.5h0M53.4 400.7h0M53.4 406.4h0M104.6 421.1h0M43.1 442.5h0M85 453.6h0M40.1 437h0M128.5 461.7h0M118.3 463.6h0M83.7 487.9h0M88.3 466.6h0M154 427.1h0M51.4 457.7h0M139.5 457.7h0M106.7 437.2h0M86.3 395.8h0M93.9 420h0M40 436.4h0M60 407.3h0M120.8 460.3h0M104.7 446.1h0M103 416.5h0M112.4 411.6h0M103.5 443.9h0M69.5 413.4h0M61.7 413.6h0M87.5 418.8h0M96.9 475.9h0M77 479h0M74.8 412h0M47.8 434.3h0M59.7 455.9h0M92.4 485.9h0M77.1 481.4h0M98.4 412.1h0M121.7 455.7h0M61.2 404.7h0M119.5 448.1h0M126.4 471.6h0M45.4 455h0M93.1 486.5h0M110 464.4h0M109.8 462.6h0M77.1 466.7h0M100.9 501.8h0M72 451.6h0M83 420h0M78.9 415.4h0M135 422.2h0M58.2 460.5h0M111.6 417.3h0M94.3 477.4h0M133.4 461.8h0M109.5 417.7h0M70.7 458h0M111.3 452.8h0M107.5 413.1h0M96.6 403.9h0M55.7 400.5h0M113.5 468.7h0M120.7 452.5h0M69.8 401.9h0M153.3 422.7h0M57.3 402.9h0M111.7 437h0M129.6 462.3h0M114.8 453.1h0" stroke="#1a3fd0" stroke-width="2.5" stroke-linecap="round" fill="none"/>
<path d="M100 462.4h0M74.4 401.2h0" stroke="#d04010" stroke-width="2.5" stroke-linecap="round" fill="none"/>
<path d="M81.2 398.3h0M91.3 468h0M86.8 406.4h0" stroke="#d04010" stroke-width="2.5" stroke-linecap="round" fill="none"/>
<path d="M111.9 416.4h0M81.2 471.5h0M131.6 457.2h0M105.7 453.3h0M103.5 404.6h0M128.6 464.2h0M134.7 458.9h0M47.4 438.3h0M42.6 438.4h0M53.5 404.1h0M47.8 453.6h0M114.7 462.9h0M119.2 459.1h0M109.2 449.5h0M123.3 465.1h0M129.8 457.8h0M40.6 437.9h0M66.7 421.6h0M119.3 448.7h0M104.9 447.2h0M109.9 470.4h0M82.9 473.7h0M44.6 433h0M105.5 495.9h0M66.5 460.1h0M156 419.8h0M157.7 424.9h0M42 433.5h0M69.4 463.4h0M122.8 468.6h0M124.5 455.8h0M88.6 493.6h0M155.7 415.9h0M76.9 475.3h0M110.5 454.9h0M108.9 456.3h0M117.5 461.8h0M109.9 449.1h0M97 416.8h0M117.4 463.2h0M49.4 442h0M70.6 418.9h0M114.9 456.5h0M80.8 419.1h0M114.6 470.2h0M108.8 399.2h0M120.1 468.3h0M109.3 443.7h0M100.5 445.6h0M77.4 471.2h0M75.9 455.6h0M108.8 415.7h0M48.8 398.4h0M117.5 473.7h0M102.5 409.2h0M113.9 458h0M102.6 405.3h0M152.5 418.7h0M79.1 395.9h0M81 417.8h0M49.2 442.4h0M110.7 401.8h0M101.2 408h0M65.8 459.7h0M156.8 423.8h0M60.9 404.5h0M81.7 453.7h0M160.3 422.5h0M65.9 463.1h0M113.8 483.5h0M101.3 497.8h0M98.3 483.9h0M50.2 438.8h0M123.7 445.4h0M99.7 404.8h0M126.7 449h0M99.8 438.1h0M86 404.3h0M140.2 459h0M50.9 438.4h0M119.8 480.2h0M108.1 487h0M120.4 473.6h0M97.2 445.4h0M128.4 465.2h0M105.2 397.5h0M68.6 466.8h0M106.5 453.7h0M70.2 417.1h0M99.8 481.4h0M132.6 450.2h0M109.8 447.2h0M128.1 454.6h0M102.5 498.2h0M104.1 496h0M79.2 478.1h0M106 471.7h0M109.7 414h0M89 495.9h0M99.7 413.4h0M98.8 455.4h0M125.8 464.9h0M130.2 462.7h0M116.6 455h0M118.3 462.5h0M128.1 464.8h0M72.9 391.9h0M112 443.3h0M115.7 410.4h0M115.2 438.6h0M89.1 454.5h0M115.3 484.8h0M105.8 450.4h0M57.1 400.7h0M79.6 415.4h0M108.1 398.6h0M59.9 400.9h0M67.2 392.8h0M103.1 445.2h0M120.5 449.7h0M101.3 489.6h0M103.6 423.6h0M54.5 399h0M127.8 447.4h0M95 420.8h0M94.6 401.8h0M157.4 417.9h0M55.3 407.8h0M112.9 464.8h0M109.3 458.9h0M108.4 415.6h0M96.1 482h0M57.8 401.2h0M104.7 474.1h0M109.8 469.8h0M42.9 440h0M48.8 439.5h0M118.5 466.6h0M100.1 409.2h0M99.1 485.5h0" stroke="#1a3fd0" stroke-width="2.5" stroke-linecap="round" fill="none"/>
<path d="M65.5 412.7h0M95.5 447.5h0M70.2 417h0M67.7 421.4h0M96.6 484.1h0M97.7 464.7h0M85.6 463.2h0M76.7 455.4h0M81.3 475.3h0M93.8 461.4h0M95.8 484.9h0M93.3 419.7h0M61.4 406h0M93.1 478.9h0M80 481.7h0M62.7 397.7h0M97 463.7h0M60.5 454.3h0M84.6 482.3h0M70.8 419.2h0M96.4 452.1h0M64.9 453.3h0M114.3 447.7h0M100.4 464h0M88.1 498.3h0M52.5 452.9h0M62.9 451.8h0M97.5 450.3h0M64.7 393.8h0M59.8 460.8h0M82.9 455.7h0M64 463.3h0M66.5 407.4h0M55.9 414.6h0M94.7 482.7h0M46.1 457.1h0M77.4 417.1h0M55.6 397.9h0M85.2 493h0M86.8 397.7h0M75.9 390.7h0M101.1 457.5h0M66.7 395.6h0M83.4 476.2h0M83.5 402.7h0M78.6 468.7h0M77.9 458h0M99.2 468.9h0M130.1 462.2h0M70.3 464.2h0M100.5 409.5h0M78.3 475.5h0M76.1 414.9h0M127.9 466.6h0M87.7 393.6h0M83.7 405.7h0M73.2 391.1h0M88.1 411.6h0M76.5 460.6h0M98.9 415.5h0M102.6 499.6h0M98.1 390.4h0M122.2 469.3h0M87.6 472.4h0" stroke="#1a78a0" stroke-width="2.5" stroke-linecap="round" fill="none"/>
<path d="M77 408.6h0M52.7 405.7h0M90.2 486.2h0M81.6 401.6h0M86.6 496.1h0M85.8 400.9h0M98.4 467.2h0M83.5 463.8h0M82.9 464.4h0M98.9 466.2h0M87.5 405h0M77.1 412.6h0M80.2 405.6h0M99.3 465.5h0M92.9 454.4h0M83.1 469.3h0M94.6 389.7h0M82.9 402.9h0M94 475.6h0M94.8 470.8h0M91.5 390.7h0M59.7 415.6h0M68.6 434.1h0M90.4 393.9h0M102.2 466.1h0M83.9 452.1h0M72.6 389.8h0M60 414.4h0M96.4 387.4h0M82.3 410.8h0M84.1 413.4h0M85.3 403h0M85.9 395.2h0M89.8 496.4h0M77 401.6h0M104.6 456.7h0M105 454.8h0M90.8 402.5h0" stroke="#30cc30" stroke-width="2.5" stroke-linecap="round" fill="none"/>
<path d="M47.2 455.6h0M79.8 391.5h0M98.7 470.2h0M98.8 388.7h0M73.5 405.2h0M87 461.5h0M76.8 469.1h0M77.6 399.3h0M53.8 396.5h0M107.8 380.3h0M73.7 396.5h0M56.2 397.2h0M94.9 411.3h0M98.5 486.4h0M76.9 398.4h0M85.1 456.2h0M66.1 436.1h0M71.8 457.2h0M84.8 412.2h0M89.8 464.8h0M66.4 435.7h0M85.8 397.8h0M92.8 392.2h0M85.3 452.2h0M98.5 411.6h0M90 409.2h0M89.6 412.4h0M93.3 422.2h0M71 422.4h0M92.9 413.3h0M78.6 478.4h0M81.1 412h0M75 403.6h0M80.7 455.7h0M107.6 380.2h0M75.9 396h0M75.4 402.9h0M98.5 471.5h0M87.9 398.7h0M90.2 407.2h0M92.9 406.5h0" stroke="#30cc30" stroke-width="2.5" stroke-linecap="round" fill="none"/>
<path d="M101.8 497.6h0M111 399.3h0M105 472.7h0M113.6 438h0M97.5 461.3h0M112.2 485.3h0M130.1 419.1h0M77.1 476.7h0M81.9 412.2h0M114.6 449.5h0M125.1 453h0M49.4 434.4h0M96.4 420.4h0M101.4 470.7h0M75.9 422h0M93.4 393.3h0M105.6 479.1h0M50.5 436.7h0M57.1 457.7h0M132.9 422.6h0M107.1 471.8h0M152.7 417.6h0M42.5 433.8h0M112.5 450.4h0M135.3 456.6h0M118.3 449h0M111.2 444.6h0M139.7 456.9h0M96.8 453.3h0M105.1 421.2h0M95.4 423.7h0M100.9 491.3h0M109.4 412h0M98.9 476.7h0M70 405.6h0M115.1 486.5h0M41.7 438.1h0M65.7 465.5h0M124.3 478.9h0M115.2 486.4h0M74.7 421.3h0M120.4 427.4h0M115.5 453.3h0M108.5 448.2h0M96.5 472.1h0M100.9 482.1h0M160.7 418.4h0M62.2 456.4h0M133.9 456.9h0M140.1 458.2h0M119.1 480.4h0M57.1 454.8h0M106.2 443.7h0M79.2 477.2h0M119.8 475.4h0M103.8 450.8h0M46.2 442.5h0M137.8 454.6h0M108.6 485.1h0M103.8 405.9h0M129.9 459.6h0M106.7 472.5h0M82.8 418.4h0M64.2 406.7h0M112.4 487.9h0M99 490.6h0M113.2 470.8h0M128.6 460.2h0M64.6 420.2h0M72.5 398.6h0M39.3 439.6h0M69.6 460.9h0M107 412.3h0M101.2 402.1h0M111.3 461.7h0M124.1 450.1h0M105.2 490h0M45.4 443.2h0M156.7 418.2h0M60.5 408.1h0M108.7 488.1h0M48 456h0M45.7 436h0M70 455.1h0M93.4 423.1h0M120.5 445.3h0M95.7 414.3h0M122.9 463.1h0M101.4 415.1h0M138.3 454.6h0M118.6 462.5h0M78 414.6h0M113.6 479.7h0M117.8 472.6h0M50 438.7h0M76.3 459.8h0M114 460.6h0M119.9 474.1h0M79.9 400.3h0M76.8 422h0M93.1 418.1h0M91.9 414.2h0M72.4 413.8h0M120 462.1h0M48.7 400.8h0M57.1 460.6h0M157.5 416.2h0M114.1 437.8h0M56.4 409.1h0M68.6 415.3h0M60.4 406h0M93 420.8h0M118.7 467h0M116.6 446.7h0M112.8 478h0M60.8 463.4h0M103.4 483.1h0M113.5 451.4h0M55.3 453.7h0" stroke="#1a3fd0" stroke-width="2.5" stroke-linecap="round" fill="none"/>
<path d="M91.6 466.1h0M59.6 418.7h0M90.1 476.6h0M94 390.2h0M115.7 409.3h0M68.7 393.2h0M110 399h0M84.2 475.6h0M69 403.2h0M98.8 468.1h0M85.3 475.4h0M48.5 400.1h0M93.7 388.8h0M50.8 407.1h0M127.3 454.4h0M76.4 398.1h0M97 388.4h0M74 459.5h0M103.2 408.5h0M99.4 462.6h0M97.4 389h0M87.7 400.1h0M83.2 493.5h0M106.6 484.1h0M71 411.2h0M106 453.9h0M93.4 448.5h0M113.9 477.4h0M133 452.2h0M80.6 464.7h0M71.7 463.1h0M53.8 396.6h0M99.8 485.2h0M108.3 380.7h0M79.5 466.7h0M90.2 392.7h0M59.3 404.4h0M97.6 472.1h0M48.3 399.1h0M82.3 402.1h0M90.7 482.6h0M104.5 456.7h0M101.1 464h0M56.1 404.3h0M61.1 405.7h0M50.9 404.9h0M56.4 396h0M118.5 472.2h0M81.4 411.1h0M62.6 449.9h0M92.7 456.2h0M102.4 455.5h0M97.9 490.6h0M85.7 468.6h0M51.2 401.1h0M68 466.8h0M123.9 451.9h0M114.3 447.4h0M57.9 413.1h0M110.2 400.6h0M91.7 423.4h0M70.4 466.6h0M98.9 475.5h0M96.1 474h0M58.5 400.5h0M116.2 440h0M91.6 497.7h0M99.6 460.9h0M57.5 396.1h0M66.1 402.4h0M52 410.4h0M100.7 383h0M80.4 470.8h0M94.5 485.3h0M62.2 417.4h0M75.7 404.8h0M68.3 404.4h0M55.5 453.6h0M63.1 462.5h0M68.4 393.4h0M53.9 403.4h0" stroke="#1a78a0" stroke-width="2.5" stroke-linecap="round" fill="none"/>
<path d="M74.9 399.5h0M76.7 398.8h0M81.7 412h0M89.8 407.2h0" stroke="#d04010" stroke-width="2.5" stroke-linecap="round" fill="none"/>
<path d="M52.7 404.3h0M95.2 468h0M110.2 382.2h0M74.3 402.1h0M90.8 406.4h0M69.9 389.8h0M84 399.5h0M94.4 459.1h0M101.5 460h0M67.1 435.1h0M55.4 404.5h0M67.9 434.9h0M57.7 397.3h0M71.8 401.8h0M86.4 498.1h0M82.4 405.4h0M83.5 412.5h0M81.7 404.6h0M89.2 459.7h0M100.2 383.9h0M53.2 398.8h0M90.4 408.1h0M53.2 398.8h0M76.7 460.1h0M102.9 454.1h0M95.1 462.8h0M61.3 407.8h0M77.4 461.1h0M75.6 470.6h0M92.7 410.6h0M56.2 454.8h0M112.3 381.1h0M87.1 458.5h0M75.6 406.5h0M76 397h0" stroke="#30cc30" stroke-width="2.5" stroke-linecap="round" fill="none"/>
<path d="M76.5 391.8h0M154.8 424.8h0M122.3 443.6h0M99 400.8h0M129.5 450.8h0M116.4 441.3h0M127 446.4h0M80.8 398.1h0M113.9 408.9h0M124.8 463.9h0M108.1 459.4h0M71.1 413.4h0M99.4 416.7h0M120.6 468.2h0M51.9 456.1h0M87.9 416.6h0M55.8 411.4h0M102.9 476h0M70.6 402.3h0M82.8 481.3h0M129.7 454.4h0M86.2 412.4h0M117.6 443.6h0M70.6 395.7h0M126.7 449h0M119.7 443.8h0M69.5 418.4h0M138.1 457.3h0M156.8 427.4h0M64.3 453h0M48.8 435.2h0M105.4 482.2h0M65.8 400.8h0M58.2 408.6h0M110.4 419.3h0M93.9 470.9h0M119.4 444.6h0M126.4 458.4h0M86 464.9h0M93.6 501h0M98.7 423.4h0M109.4 410.8h0M109.4 452.4h0M86.6 498.4h0M98 422h0M109.3 451.2h0M100.8 483.7h0M118.6 464.8h0M92.6 415.3h0M106 486.4h0M128.2 460.7h0M107.6 488.6h0M65.9 408.2h0M155.2 418.3h0M65.6 404.3h0M64.4 416.2h0M125.1 457.8h0M112.1 490.7h0M50.7 453.5h0M100.4 444h0M121.9 448.6h0M53.9 459.4h0M109.2 457.8h0M112.9 462.3h0M80.7 417.7h0M74.1 403.4h0M103.8 471.5h0M45 443h0M108.9 446h0M125.6 460.4h0M113.6 438.4h0M82.6 396h0M116.1 484.3h0M109.9 444.6h0M105.9 449.9h0M93.9 418.9h0M112.7 464.4h0M100.8 439.2h0M113.2 448.8h0M43.8 404.3h0M66.1 420h0M109 490.5h0M78.1 419.6h0M112.9 454.3h0M76.7 471.3h0M151.8 424.4h0M106 476.3h0M111.1 476.1h0M106.9 477.8h0M63.3 403.4h0M97.3 425.4h0M118.1 450.2h0M107.1 467.3h0M119.5 447.9h0M91.6 421h0M73.2 421.3h0M123.6 448h0M128.6 449.8h0M114.7 468.7h0M114.8 467.5h0M119.8 443.8h0M96.2 479.3h0M93.9 501.7h0M110.2 488.6h0M122.7 474.5h0M96.4 465.3h0M46.6 435.2h0M111.1 455.1h0M113.1 478.2h0M92.5 467h0M49.1 401h0M74.9 394.4h0M158.6 421.4h0M80 475.6h0M41.1 440.1h0M71 458.1h0M92.8 401.4h0M84.8 414.3h0M140.5 460.9h0M46.4 443.8h0M97.6 447.8h0M108.5 415.8h0M95.2 464.4h0M107.5 488h0M127.8 449.1h0M114.8 452.6h0M119.7 474.3h0M64.1 465.4h0M90.9 493.7h0M120.3 460.9h0M137.4 462.5h0M120.9 443.1h0M100.2 416h0M119 463.1h0M134.3 451.4h0M101.7 475h0M109.8 471.8h0M43.5 434h0" stroke="#1a3fd0" stroke-width="2.5" stroke-linecap="round" fill="none"/>
<path d="M76.8 411.5h0" stroke="#d04010" stroke-width="2.5" stroke-linecap="round" fill="none"/>
<path d="M74.1 419.1h0M117.1 448h0M100.8 461.8h0M82.7 420.4h0M49 408.1h0M62.3 403.8h0M73 462.9h0M92.5 476.2h0M79.1 467.7h0M106.5 457.3h0M71.5 395.7h0M96.3 387.7h0M62.7 407.9h0M64.1 404.1h0M78.1 400.5h0M106.2 420.6h0M67.8 468h0M95.9 475.6h0M95.4 473.1h0M92.1 487.5h0M108.9 458.9h0M109.9 456.6h0M98.1 448.7h0M124.2 461.9h0M76.5 410h0M96 407.9h0M117.9 456.6h0M77.1 415.2h0M90.9 404.1h0M115.5 408.6h0M66.1 413.4h0M55.4 457.8h0M111.4 380.2h0M120.7 452.4h0M96.3 474.7h0M93.4 494.7h0M47 456.9h0M70.5 416.8h0M89.4 476.4h0M86.3 399.1h0M63.2 465.3h0M48.8 459.5h0M97.8 494.3h0M79.3 459.3h0M73.4 462.9h0M84.9 406.3h0M47 457.7h0M86.1 476.6h0M110.1 411.3h0M84.6 473.6h0M110.1 476h0M94.1 401.3h0M97 401.7h0M56.1 409.2h0M54.6 458.3h0M75.9 469.8h0M112.2 412.4h0M107.2 441.9h0M104.7 399.7h0M84.6 415h0M69.3 465.8h0M86.1 405.3h0M77.7 458.3h0M93.3 465.5h0M119.5 470.7h0M76.9 411.8h0M66.5 394.7h0M56.9 401.8h0M130 452.5h0M105.8 384.4h0M111.7 403.9h0M97.8 418.4h0" stroke="#1a78a0" stroke-width="2.5" stroke-linecap="round" fill="none"/>
<defs><linearGradient id="cb" x1="0" y1="0" x2="0" y2="1"><stop offset="0" stop-color="#ff0000"/><stop offset="0.076" stop-color="#f81000"/><stop offset="0.156" stop-color="#c83010"/><stop offset="0.257" stop-color="#787010"/><stop offset="0.327" stop-color="#10a020"/><stop offset="0.417" stop-color="#00e000"/><stop offset="0.518" stop-color="#00ff00"/><stop offset="0.598" stop-color="#00c030"/><stop offset="0.679" stop-color="#009070"/><stop offset="0.759" stop-color="#006aa0"/><stop offset="0.859" stop-color="#0030d0"/><stop offset="1" stop-color="#0000ff"/></linearGradient></defs>
<rect x="167.8" y="357.8" width="18.2" height="172" fill="url(#cb)"/>
<text x="188.4" y="360.7" font-size="6.4" fill="#222" stroke="#222" stroke-width="0.12">167k</text>
<text x="188.4" y="403.8" font-size="6.4" fill="#222" stroke="#222" stroke-width="0.12">46k</text>
<text x="188.4" y="446.1" font-size="6.4" fill="#222" stroke="#222" stroke-width="0.12">31k</text>
<text x="188.4" y="489.9" font-size="6.4" fill="#222" stroke="#222" stroke-width="0.12">25k</text>
<text x="188.4" y="532.7" font-size="6.4" fill="#222" stroke="#222" stroke-width="0.12">2k</text>
<text x="226.5" y="360.3" font-size="11.2" font-weight="bold">F</text>
<text x="305.00" y="362.90" font-size="8.87" textLength="40.00" lengthAdjust="spacingAndGlyphs" font-weight="bold" fill="#111">Cell Cycle</text>
<rect x="244.6" y="377.5" width="160.6" height="135.3" fill="none" stroke="#707070" stroke-width="0.9"/>
<path d="M244.6 498.3H241.5M244.6 480.5H241.5M244.6 462.7H241.5M244.6 444.9H241.5M244.6 427.1H241.5M244.6 409.3H241.5M244.6 391.5H241.5M263.6 512.7V515.8M289.6 512.7V515.8M315.6 512.7V515.8M341.6 512.7V515.8M367.6 512.7V515.8M393.6 512.7V515.8" stroke="#555" stroke-width="0.6" fill="none"/>
<text x="234.4" y="498.3" font-size="7.1" text-anchor="middle" fill="#222" transform="rotate(-90 234.4 498.3)" stroke="#222" stroke-width="0.15">-30</text>
<text x="234.4" y="480.5" font-size="7.1" text-anchor="middle" fill="#222" transform="rotate(-90 234.4 480.5)" stroke="#222" stroke-width="0.15">-20</text>
<text x="234.4" y="462.7" font-size="7.1" text-anchor="middle" fill="#222" transform="rotate(-90 234.4 462.7)" stroke="#222" stroke-width="0.15">-10</text>
<text x="234.4" y="444.9" font-size="7.1" text-anchor="middle" fill="#222" transform="rotate(-90 234.4 444.9)" stroke="#222" stroke-width="0.15">0</text>
<text x="234.4" y="427.1" font-size="7.1" text-anchor="middle" fill="#222" transform="rotate(-90 234.4 427.1)" stroke="#222" stroke-width="0.15">10</text>
<text x="234.4" y="409.3" font-size="7.1" text-anchor="middle" fill="#222" transform="rotate(-90 234.4 409.3)" stroke="#222" stroke-width="0.15">20</text>
<text x="234.4" y="391.5" font-size="7.1" text-anchor="middle" fill="#222" transform="rotate(-90 234.4 391.5)" stroke="#222" stroke-width="0.15">30</text>
<text x="263.6" y="529.2" font-size="7.1" text-anchor="middle" fill="#222" stroke="#222" stroke-width="0.15">-20</text>
<text x="289.6" y="529.2" font-size="7.1" text-anchor="middle" fill="#222" stroke="#222" stroke-width="0.15">-10</text>
<text x="315.6" y="529.2" font-size="7.1" text-anchor="middle" fill="#222" stroke="#222" stroke-width="0.15">0</text>
<text x="341.6" y="529.2" font-size="7.1" text-anchor="middle" fill="#222" stroke="#222" stroke-width="0.15">10</text>
<text x="367.6" y="529.2" font-size="7.1" text-anchor="middle" fill="#222" stroke="#222" stroke-width="0.15">20</text>
<text x="393.6" y="529.2" font-size="7.1" text-anchor="middle" fill="#222" stroke="#222" stroke-width="0.15">30</text>
<text x="313.90" y="545.40" font-size="7.24" textLength="22.00" lengthAdjust="spacingAndGlyphs" fill="#222" stroke="#222" stroke-width="0.12">TSNE1</text>
<text x="218.10" y="455.90" font-size="7.20" textLength="21.90" lengthAdjust="spacingAndGlyphs" transform="rotate(-90 218.10 455.90)" fill="#222" stroke="#222" stroke-width="0.12">TSNE2</text>
<path d="M304.9 397.6h0M336.5 407.4h0M309 404.7h0M289.9 459.2h0M279.4 456.7h0M263.7 439h0M269.6 458.1h0M267.1 461.1h0M296.6 462.8h0M296.9 472.3h0M254.1 441.1h0M297.5 475.6h0M316.2 455h0M367.6 453.8h0M268.3 463.6h0M266.5 465.1h0M316.6 396.9h0M304.9 460.7h0M392.2 421h0M321 483.8h0M303.5 484.8h0M288 460.7h0M278.1 461.3h0M324 482h0M289.4 470.7h0M394.4 426h0M299.1 422.4h0M307.1 399.6h0M297.5 470.1h0M314.7 493.2h0M302.4 467.9h0M328.1 387.2h0" stroke="#138a43" stroke-width="2.5" stroke-linecap="round" fill="none"/>
<path d="M318.6 496.4h0M326.2 455.8h0M351 479.3h0M360.5 459.6h0M321.5 492.4h0M344.7 490.1h0M341.1 468.7h0M334.1 468.7h0M303.1 471.1h0M279 421.4h0M291.8 420.3h0M340.8 492.6h0M278.8 416.9h0M330.3 482.7h0M360.1 472.6h0M257.5 439.3h0M305.5 478.1h0M347.3 465h0M345.7 486.1h0M268.2 415.5h0M310.5 478h0M310.8 495.6h0M307.7 404.8h0M276.2 405.6h0M338.4 486.9h0M352.4 480.9h0M340.5 491.1h0M328.8 454.9h0M308.5 477.5h0M311.6 418.8h0M324.6 507.7h0M327.2 456.6h0M293.4 399.6h0M275 417.5h0M329.8 472.6h0M397.2 424.2h0M326.5 484.9h0M364.2 468.1h0M343.2 487.1h0M278.2 422.2h0M276.6 404.7h0M260.5 445.4h0M262.2 403.1h0M334.9 475.8h0M298.9 491.7h0M263.2 443.9h0M297.3 483h0M351.8 477.8h0M307.6 481.7h0M331.6 453.6h0M306.8 418.7h0M331.1 454.2h0M309.9 472.6h0M268.8 451h0M349 448.9h0M326.7 490.9h0M336 422h0M280.5 408.2h0M288.1 415.3h0M327.3 495.1h0M269.1 410.9h0M361.7 457.9h0M396.5 429.6h0M273.7 414.9h0M279 413.2h0M306.5 482.1h0M330.4 482.5h0M332.4 465.5h0M316.5 493.7h0M311.3 486h0M322.5 476.3h0M396.6 431.2h0M358.3 472h0M324.8 429h0M324.5 494.9h0M310.5 476.7h0M309.1 405.7h0M327.8 475.8h0M302.5 414.5h0M336.7 456.6h0M280.7 417.6h0M261.4 438.5h0M309.3 468.5h0M305.7 493.5h0M350.4 473.4h0M324.7 483.6h0M308.4 478.8h0M326.3 465.9h0M338.5 493h0M392.1 421.6h0M319 498.9h0M337.4 490.1h0M352.4 469.4h0M394.7 421.9h0M304.7 417.8h0M332.9 487.3h0M338.5 496.5h0M347.6 463.9h0M342.3 456.8h0M303.7 402.2h0M297.6 480.8h0M296.9 464.6h0M307.3 470.8h0M317.2 409.5h0M268.3 417h0M321.7 481.2h0M297.2 418.1h0M309 407.8h0M348.8 476.1h0M369.3 466.7h0M333.8 452.3h0M335.8 489.4h0M300.2 418.7h0M346.8 487.4h0M310.7 421.6h0M317.4 461.5h0M266.3 401.8h0M308.5 481.4h0M324.8 466.1h0M352.8 465.1h0M323.7 481.5h0M308.8 464.3h0M262.1 439.6h0M307.5 468.7h0M298.4 486.9h0M254.7 438.9h0" stroke="#3f8ef5" stroke-width="2.5" stroke-linecap="round" fill="none"/>
<path d="M286 394.8h0M323.6 427h0M273.6 421.9h0M308.5 405h0M329.6 412.8h0M286.6 438.8h0M296 407h0M279.3 418h0M314.7 416.2h0M321.4 452h0M330.6 418.3h0M333.7 499.1h0M270.2 418.7h0M296.3 478h0M361.2 467.3h0M321.8 427h0M333.3 424.5h0M345.6 462h0M274.5 405.1h0M336 411.7h0M307.6 418.2h0M280.5 422.1h0M323.5 501.8h0M334.3 412.8h0M329.2 425.4h0M309.8 417.7h0M306.5 399.1h0M306.2 421.7h0M355.1 473h0M267.9 417.4h0M371.4 461h0M294.1 458.9h0M317.3 414h0M304.8 486.9h0M345.1 446.2h0M325.4 405.8h0M351.2 453h0M293.3 410.5h0M309.4 407.5h0M360 455.6h0M326.1 463.6h0M345.1 460.5h0M354.6 465h0M359.6 466.8h0M343.3 464.1h0M371.3 462.6h0M321.1 422.8h0M349.6 451.1h0M358.3 471.1h0M306.5 400.4h0M345.1 444.3h0M342.5 470.2h0M363.5 462.7h0M320 467.3h0M317.4 414h0M288.5 415.8h0M290.7 405.5h0M323.7 416.2h0M319.8 452.2h0M283 423.4h0M319.9 461.5h0M290.3 396.6h0M295.8 399.1h0M324.5 423.5h0M318.1 412.9h0M317.2 428.4h0M302.5 473.1h0M353.4 458.8h0M323.3 406.3h0M334.4 466.3h0M306.3 404.3h0M330 425h0M274.9 417.9h0M337.1 409.3h0M317.9 420.9h0M306 403.7h0M269.8 405.5h0M273.3 402.9h0M303.7 398.8h0M331.1 416h0M319.9 461.9h0M345.3 461.3h0M367.6 437.8h0M331.9 423.1h0M344.1 469.3h0M343.7 411.2h0M294.2 393.6h0" stroke="#f5806f" stroke-width="2.5" stroke-linecap="round" fill="none"/>
<path d="M281 406.5h0M266.4 403.9h0M262.2 463.2h0M325.4 470.5h0M365.1 469.4h0M336.1 416.6h0M360.5 464.2h0M299.2 397.4h0M273.3 400.7h0M339.2 420.3h0M331.7 408.4h0M287.3 438.7h0M315.9 422h0M319 460.4h0M291.2 421.9h0M365.5 468.6h0M298.8 406.6h0M333 412.5h0M275.8 420.3h0M326 459.6h0M362.5 454.9h0M348.3 466.2h0M285.7 409.9h0M328.4 421.4h0M344.4 411.6h0M353.3 456.8h0M320.2 393h0M312 484h0M264.5 404.6h0M294.2 404.9h0M387.6 423.7h0M294.8 403.8h0M366.8 468.3h0M318.5 423.9h0M327.1 419.8h0M335.4 457.5h0M352.9 449.6h0M296.7 469.8h0M325.6 406.2h0M335.1 444.9h0M339.7 405.3h0M328 420.7h0M308.9 402.6h0M298 468.1h0M318.2 459.9h0M307.8 416.7h0M307.1 459.8h0M320.2 422.2h0M314.9 410.1h0M338.8 463.4h0M345 467.8h0M314.7 415.5h0M352.5 466.8h0M295.1 410.5h0M347.7 448.2h0M319.2 406.1h0M316.9 413.8h0M317.8 421.8h0M339.9 407.2h0M264.2 404.7h0M317.6 426.8h0M291.5 411.7h0M340.5 411.3h0M287.6 422.5h0M322.2 492.1h0M314.4 423h0M280.4 411.4h0M348.2 462.7h0M321.4 425.1h0M321.9 449.2h0M303.5 458.3h0M260.1 439.1h0M313.8 414.8h0M311.2 406.2h0M318.7 484.7h0M281.7 412.8h0M334.1 409.4h0M302.1 465.8h0M345.4 462.8h0M354.7 462.1h0M328.3 457.1h0M322.9 425.4h0M272.1 406.3h0M356.3 462.4h0M327.8 417.8h0M269.5 409.3h0M316.7 475.4h0M273.8 419.7h0M289.4 437.6h0M332.1 417h0M347.4 472.4h0" stroke="#f5806f" stroke-width="2.5" stroke-linecap="round" fill="none"/>
<path d="M305.9 399.5h0M269.9 456.9h0M295 473.3h0M315.7 399.4h0M261.8 445.7h0M301 397.7h0M334.1 386.1h0M282.8 456.9h0M263 410.6h0M282.1 465.3h0M337.1 384.4h0M308.5 399.6h0M277.5 456.8h0M301.7 487.2h0M302.1 483.4h0M264.9 460.5h0M287.6 410h0M278.6 465.3h0M325.1 446.1h0M288.2 472.1h0M274.6 417.2h0M266.5 462.8h0M285 458.4h0M295.3 400.4h0M260.1 446.6h0M265.9 463.3h0M325.8 392h0M336.5 386.2h0M387.6 423.5h0M275.7 464h0M339.4 444h0" stroke="#138a43" stroke-width="2.5" stroke-linecap="round" fill="none"/>
<path d="M335 407.3h0M275.7 403.8h0M290 424.2h0M321.6 469.1h0M339 471.7h0M310.5 403.9h0M368.4 444.9h0M314.8 499.3h0M295.3 422.4h0M289.2 414.7h0M332.3 457.9h0M268 413.5h0M307 456.4h0M344 483.7h0M315.4 475.9h0M301.9 492.8h0M276.2 420.4h0M256.3 447.7h0M281 416.9h0M298.3 418.7h0M302.1 481.7h0M332.4 483.2h0M312.7 491.7h0M312.2 474.1h0M312.5 420.3h0M311.5 418.2h0M289.3 425.4h0M330.7 478.6h0M298.1 472.2h0M326.1 483.7h0M395.9 431.7h0M322.3 428h0M328.8 488.7h0M317.9 493.6h0M296.1 424.3h0M285.8 412.8h0M318.6 454.9h0M309.6 458.2h0M297.5 476.1h0M333.6 455.5h0M306.5 416.7h0M319.8 416.5h0M316.5 497.1h0M345.2 449.4h0M275.7 422h0M300.9 419h0M374.8 464.9h0M261.9 442.2h0M266.6 402.6h0M313.8 464.1h0M263 402.5h0M321.1 502.8h0M324.6 468.8h0M346.6 489h0M300.6 413.4h0M313.7 463.3h0M307.6 480.8h0M324.6 405.4h0M272.1 412.4h0M308.6 486.6h0M252.1 440.9h0M309.3 483.5h0M315.3 409.8h0M272.5 414.9h0M306.6 459.9h0M370.4 466.9h0M290.8 426h0M347.8 474.5h0M338.3 441.7h0M303 458h0M314.6 448.3h0M265.5 444.4h0M353.6 477.2h0M276.3 409.2h0M289.8 423.3h0M325 504.8h0M324.8 475.3h0M340.7 494.9h0M302.3 493h0M318.8 490.5h0M327.4 476.5h0M350.4 475.8h0M325.4 460.9h0M345.5 450.4h0M332.6 492.3h0M273.4 417.8h0M317.8 501.8h0M277.9 417.5h0M282.4 440.6h0M396.2 428h0M330.6 414.9h0M258.1 445.5h0M310.7 473.8h0M286.3 410.4h0M281.1 401.1h0M370.3 465.5h0M299.2 476.5h0M316.8 409.6h0M337.8 487.2h0M283.9 413.8h0M318.1 485.7h0M281.1 399.3h0M286.3 404.9h0M340.5 406.4h0M287.1 414.8h0M307.4 418.3h0M268.7 407.1h0M338.8 404.8h0M351.3 477.1h0M316.6 496.9h0M306.4 459.7h0M311.8 457.9h0M300.2 424.2h0M306.7 501.3h0M325.1 481.9h0M313.9 469.6h0M253.2 442.8h0M288.7 423.3h0M335.4 491.7h0M287.9 438.4h0M339 478h0M337.6 459.9h0M329.7 473.7h0" stroke="#3f8ef5" stroke-width="2.5" stroke-linecap="round" fill="none"/>
<path d="M258.7 462.9h0M309.8 467.9h0M268.1 463.1h0M320.8 389.6h0M312.6 396.3h0M331.3 387.6h0M296.7 489h0M335.1 384.3h0M297.9 462.2h0M261.8 439.5h0M287.2 460.7h0M257.9 442.4h0M315.3 399.2h0M294.3 458.2h0M302.3 489.1h0M257.1 443.1h0M301 411.6h0M261 437.8h0M276.7 457.5h0M301.4 475h0M275.7 456.2h0M332.3 460.9h0M396.3 427.1h0M330.5 441.7h0M293.7 458h0M279.6 459.3h0M318.2 393.4h0M293.9 467.5h0M328.4 461.8h0M311.5 397.6h0M291.2 464.6h0M273.2 457.4h0M275.3 465.4h0M299 488.6h0M279.8 458.6h0M325.9 387.9h0M267.3 459.7h0M271.1 464.6h0M393.8 429.8h0M294.2 472.3h0M278.3 465.6h0M297.8 478.8h0M349.7 483.7h0M264.5 464.8h0M305.2 399.4h0M276.7 458h0M295.2 461.8h0M292.1 396.9h0M301.6 468h0M296 489.5h0M316.9 395.5h0M395.3 426.1h0M295.6 467.6h0M282 456.2h0M341 407.6h0M288 464.6h0M282.7 465.3h0" stroke="#138a43" stroke-width="2.5" stroke-linecap="round" fill="none"/>
<path d="M353 465h0M308.7 415.7h0M314.7 460.1h0M294.7 475.5h0M336.6 413h0M340 443.8h0M322.6 452.2h0M333.3 466.8h0M345.5 472.7h0M364.3 467.7h0M317.9 422.3h0M317.9 419h0M355.6 459.1h0M328.3 402.4h0M331.7 386.8h0M326 452.8h0M364.1 454.8h0M343 443.6h0M310.8 463.8h0M267.7 404h0M331.2 460.8h0M316.7 414.7h0M334.1 457.2h0M344.1 464.4h0M318.5 502.4h0M295.3 412.4h0M369.6 459.7h0M262.7 405.8h0M346.2 459h0M285.5 412.9h0M329.2 465.8h0M333.8 454.1h0M342.1 464.5h0M355 471.8h0M327 423.9h0M329.5 424.2h0M365.5 468.9h0M312.8 460.1h0M322.2 456.2h0M291.8 394.6h0M326.3 456.2h0M306.9 409h0M344.1 464.1h0M275 420.3h0M283.1 408.1h0M294.4 474.3h0M363.1 460.4h0M342.7 476.3h0M347.7 472h0M270.3 405.4h0M344 467.1h0M353.3 472.8h0M365.2 465.5h0M350.9 463.1h0M293.6 423.1h0M262.3 403.2h0M324.3 465h0M317.1 423.2h0M323.4 464.2h0M366.8 462.7h0M253.4 443.1h0M396.8 425.9h0M254.9 446.5h0M255.9 445.1h0M330.1 401.7h0M316.2 428.7h0M300.7 412.2h0M319.4 419.3h0M353.9 468.9h0M276.4 398.8h0M348.5 469.7h0M315.1 463.5h0M301.9 401.9h0M280.1 398.3h0M351.8 470.6h0M322.4 424.6h0M295.9 476.7h0M283.3 400.4h0M334.4 466.9h0M350.4 466.2h0M306.8 418.5h0M338.2 421.5h0M336.5 493.1h0M313.5 413.2h0M367 465.3h0M291 397.2h0M263.9 465h0M286.7 400.9h0M343.6 410.8h0M318.7 454.2h0M310.9 405.9h0" stroke="#f5806f" stroke-width="2.5" stroke-linecap="round" fill="none"/>
<path d="M312.7 414.2h0M320 463.2h0M327.7 495h0M324.6 497.7h0M324 492.3h0M338.7 411.7h0M295.9 471.1h0M273.6 420.9h0M364.1 469.7h0M300.4 407.6h0M314 488.2h0M311.2 501.7h0M348.4 454.6h0M333.4 450.3h0M305.2 411.3h0M332.1 457.2h0M311.3 402.5h0M327.5 482.6h0M264.2 412.2h0M310.5 504.1h0M338.1 449.1h0M290 418.5h0M297.6 416.1h0M275.7 417.6h0M288.9 405.8h0M285.1 416.9h0M324.2 477.3h0M314.5 472.9h0M331.5 493h0M257.3 444.2h0M345.3 452.1h0M303.8 416h0M310.6 492.1h0M291.2 417.1h0M347.4 460.2h0M306.2 500.1h0M329.2 491.6h0M332.5 447h0M343.2 462.3h0M347.4 475.3h0M259.2 440.6h0M259.8 443h0M306.5 489.2h0M296.3 471.1h0M332.7 468.8h0M294.7 474.2h0M336.5 470.1h0M324.2 500.4h0M314.9 492.5h0M335.9 407h0M320.5 502.2h0M333.3 488.2h0M399.4 423.4h0M318.1 452.6h0M334.5 472.8h0M356.8 452.9h0M326.7 493.9h0M301.8 416h0M303.4 422h0M287.9 439.7h0M342.8 473.6h0M371.1 464.1h0M328.1 483.7h0M400.4 425.9h0M322.3 501.7h0M305.8 414.1h0M332.4 478h0M340.2 445.6h0M277 419.9h0M274.9 410.3h0M330.3 412.1h0M331.3 494h0M264 413.7h0M334.2 488.7h0M350.8 455.5h0M341.1 462.8h0M331.1 500.8h0M292.2 414.5h0M330.7 486.2h0M327 469.6h0M346.9 485h0M285.9 423h0M331.4 466.2h0M346.5 459.1h0M288 427.1h0M317.5 471.8h0M349.7 473.7h0M316.3 495.6h0M305.1 492.3h0M337.5 469.2h0M312.4 499.8h0M356.1 467h0M328.1 500h0M287.4 440h0M302.3 423.8h0M321.5 468.8h0M315.9 409h0" stroke="#3f8ef5" stroke-width="2.5" stroke-linecap="round" fill="none"/>
<path d="M336.1 411.5h0M300.8 486.5h0M364.9 459.5h0M293.1 408.1h0M323.4 418.6h0M298.2 416.4h0M300.2 460h0M346.2 479.3h0M325.8 416.2h0M305.7 416.4h0M313.5 418.8h0M303.3 473.7h0M352.2 464.2h0M344.4 442.9h0M304.4 459.6h0M262.7 444.7h0M356.4 465.7h0M288.8 415.6h0M323.2 466h0M343.7 447.3h0M359.8 461.5h0M284.9 407h0M356.1 465.1h0M353.5 449.9h0M334.5 465.3h0M346.1 456.5h0M278 406h0M322.4 416.5h0M364.2 462.9h0M342.1 456h0M342.5 414.2h0M331.2 402h0M346.5 472.9h0M300.7 458.6h0M315.7 459.5h0M315.8 417.8h0M318.7 392.2h0M357.4 461.4h0M344.3 468.1h0M323.2 495.2h0M330.4 448h0M340.3 491.5h0M357.4 457.7h0M331.8 452h0M274.5 413.6h0M320.7 428h0M334.4 403.9h0M298.7 424h0M359.4 457h0M315.2 421.8h0M299 461.6h0M327.3 450.1h0M313.8 461.5h0M348.2 458.3h0M357.2 459.9h0M299.9 469.5h0M396.6 421.3h0M300.9 460.3h0M317.4 408h0M360.9 460.4h0M326.7 416.7h0M299.3 412.2h0M337.8 420.1h0M284.6 411.4h0M291 404.1h0M301.2 417.1h0M316.4 463.7h0M327 420.8h0M311.7 414h0M344.8 450.7h0M327.6 448.5h0M331.5 457.8h0M262.6 403.4h0M318 421.5h0M388 428.2h0M320 415.3h0M356.1 456h0M320.7 453h0M310.8 496.3h0M278.9 407.2h0M266.8 412.8h0M305.3 425h0M270.3 407.7h0M313.1 457.3h0M324.3 429.9h0" stroke="#f5806f" stroke-width="2.5" stroke-linecap="round" fill="none"/>
<path d="M306.5 410.7h0M265.3 410.1h0M356.7 475.6h0M339.9 472.4h0M321.4 500.4h0M302.7 415.4h0M389.7 420.9h0M287.5 422.9h0M321.5 470.3h0M309 465.4h0M293 408.4h0M257.9 440.6h0M336.3 445h0M310.6 469.9h0M285.5 422.7h0M335.3 487.9h0M312.7 455.1h0M358.1 465.2h0M352.3 476.9h0M342 492.1h0M354.2 448.8h0M290.4 421.6h0M297.4 468.7h0M306.5 497.2h0M318.7 475.2h0M328.8 451.4h0M355.6 466.4h0M299.9 410.9h0M306.7 417.9h0M315.1 455h0M291.7 404.7h0M395.2 427.3h0M308.8 469.5h0M325 491h0M256 443.4h0M394.1 430.1h0M399.3 424.5h0M301.8 490.3h0M269.3 414.5h0M350.3 483.7h0M267.1 404.2h0M344.2 461.6h0M350.2 473.9h0M319.9 498h0M277.4 418.7h0M319.8 500.5h0M336.2 485h0M313.5 478.4h0M390 426.2h0M297.5 467.4h0M312.7 419.6h0M330.6 453.6h0M322.9 506.8h0M287.9 419.4h0M311.6 486.9h0M302.5 408.3h0M328.9 469h0M335.4 470.7h0M339.6 469.3h0M331.7 501.2h0M322.4 504.1h0M333 464.7h0M317.6 466.6h0M309.1 470.3h0M336.4 493.7h0M301.9 463.8h0M353.4 472.4h0M298.2 419.5h0M317.3 451.5h0M303.4 414.4h0M261.9 441.9h0M338.7 471.4h0M255.3 440.8h0M350.9 479.4h0M297.6 419.5h0M327.8 463.9h0M286.5 408h0M314.7 494.1h0M347.2 476.9h0M319.7 494.9h0M334.8 408.5h0M294.8 403.7h0M285.4 418.4h0M306.3 456.6h0M337.6 455.2h0M307.4 485h0M322.9 491.1h0M324.8 504.7h0M392.4 428.9h0M342.6 491.8h0M269.1 405h0M321.9 485.8h0M335.4 407.5h0M361.7 464.4h0M332.1 411h0M327.2 416.6h0M322.3 474.7h0M316.7 483.5h0M356.5 458h0M297 423.8h0M318.9 416.3h0M292 424.8h0M368.1 457.4h0M321.6 451.5h0M300.9 464.3h0M336.2 457.9h0M333.2 484.6h0M298.8 403h0M346.2 471.5h0M266.9 414.6h0M331.9 411.1h0M322.3 496.7h0M286.5 419.1h0M266.6 412.5h0M327.8 458.1h0M296.2 488.5h0M361.2 457.9h0M278.6 401.4h0M313.9 410h0M307.4 419.9h0M314.8 457.9h0" stroke="#3f8ef5" stroke-width="2.5" stroke-linecap="round" fill="none"/>
<path d="M251.9 446h0M295.7 471.5h0M303.7 457.9h0M337.5 447.9h0M294.4 478.1h0M319.5 393.5h0M300.8 490.4h0M316.6 393.9h0M336.3 446.4h0M313.7 399.1h0M269.6 461.8h0M313.3 397h0M258.8 460h0M280.4 466.1h0M300.9 419.8h0M305.2 401.9h0M277.4 456.9h0M326.9 446.5h0M318.7 393.6h0M308.7 466.2h0M321.8 389.5h0M274.3 461.1h0M292.1 466.3h0M286.5 461.9h0M270.3 462.4h0M263.3 465.6h0M290.9 466.9h0M274.4 463.6h0M271.3 461h0M296.3 401.7h0M284.5 468.5h0M304.7 404.3h0M335.4 384.7h0M261 461.7h0M288.6 470h0M289 466.6h0M295.1 482.4h0M319.4 393.8h0M300.5 459.3h0" stroke="#138a43" stroke-width="2.5" stroke-linecap="round" fill="none"/>
<path d="M311.9 504.6h0M302.8 458.7h0M307 414.5h0M319.4 494.7h0M315.6 459.6h0M347.5 486h0M281.7 415.2h0M349.8 469.9h0M306.3 402.8h0M335.2 403.7h0M317.1 463.1h0M329.9 480.1h0M343.7 410.3h0M288.4 425.8h0M299.4 474.9h0M321.5 459.7h0M323.8 450.4h0M315.4 494.3h0M343.5 491h0M311.9 468.4h0M330.2 491.5h0M263.1 443.6h0M341.2 493.7h0M327.5 461h0M327.8 499.8h0M345.8 485.6h0M367.4 468.1h0M280.6 407.8h0M308 495.6h0M309.3 488.7h0M325 497.3h0M313.4 505.7h0M334.3 463.1h0M290.3 410h0M309.8 479.8h0M307.3 495.7h0M265.1 415h0M301.7 407.6h0M294.4 402.8h0M333.2 477.9h0M288.8 418.4h0M324 408.3h0M280.4 405.7h0M324.1 457.2h0M324.8 495.3h0M270.2 406.9h0M331.1 469.2h0M318.2 483.5h0M330.6 451.9h0M310.5 490.1h0M279.2 408h0M336 406.3h0M322.3 495.8h0M290 412.2h0M310 496.3h0M297.6 398.4h0M282.9 424.2h0M331.1 473.8h0M310.7 501.7h0M302.2 493h0M333 477.8h0M308.7 469h0M300.3 474.8h0M324.2 421.6h0M340.6 494h0M319.1 504.5h0M305.5 489.4h0M314.7 508h0M316.1 493.2h0M359.3 460.4h0M280.5 414.2h0M346.2 462h0M315.2 405.2h0M311.9 490.6h0M303 498.4h0M297 416.9h0M305.7 401.3h0M307.4 412.2h0M301.3 403.4h0M328.4 473.7h0M320.8 428.2h0M313.1 466.4h0M293.7 414.5h0M299.3 424.7h0M312.6 479.8h0M301.6 492.3h0M291.5 418.7h0M337.8 455.6h0M300.5 461.7h0M302.7 489h0M309.8 420.5h0M342.1 455.3h0M310.6 490.6h0M278.8 419.6h0M320.1 485.4h0M266.3 415.2h0M276.8 414.4h0M344.5 446.7h0M333.7 408.9h0M302.7 497.6h0M351.6 475.3h0M306.6 468.6h0M323.8 474.8h0M329.1 498.2h0M283.7 414.5h0M335.3 481.7h0M319 456.7h0M319 502.9h0M308.8 473.2h0M331.7 467.2h0M328.3 475.8h0M326.4 483.5h0M339.5 488.6h0M278.9 416h0M271.8 420.5h0M369.5 460.9h0M287.7 414.1h0M256.1 438.3h0M311.3 412.5h0M326.3 410.9h0M299.3 397.6h0M342.6 473.4h0M334.2 499.7h0M342.7 480.2h0M306.2 485.2h0M338.2 404.2h0M352.2 453.5h0M363.3 460.4h0M305.4 479.8h0M332.7 477.7h0" stroke="#3f8ef5" stroke-width="2.5" stroke-linecap="round" fill="none"/>
<path d="M340.4 467.2h0M276.4 459.1h0M291.2 469.3h0M280.3 467.8h0M273.2 455.9h0M307.2 402.4h0M258.4 462.4h0M262.9 462.2h0M279.6 458.9h0M299.2 479.5h0M298 472.2h0M269.9 466.9h0M286.7 472.4h0M329.7 388.4h0M290.9 468.7h0M297.1 486.8h0M329.5 387.7h0M318.7 416.4h0M293.9 467.7h0M285.7 464.1h0M288.2 465.9h0M318.5 467.3h0M328.5 387.3h0M330.5 387.2h0M320.9 390.1h0M334.4 387.5h0M342.5 479.4h0M292 465.5h0M281.6 465.2h0M262.5 459.5h0" stroke="#138a43" stroke-width="2.5" stroke-linecap="round" fill="none"/>
<path d="M274.7 405.9h0M339.1 420.2h0M366.5 468.9h0M268.8 406.7h0M374.1 462.6h0M288.2 437.8h0M278.7 406.3h0M325.4 406.1h0M296.7 402.3h0M349.4 430.7h0M397.6 427.6h0M355.8 467.9h0M291.5 413.8h0M328.8 414.7h0M274.6 404.8h0M256.9 446h0M281.3 414.1h0M272.2 413.4h0M306.7 424h0M330.4 414h0M302.3 476h0M306.6 460.1h0M305.6 481.7h0M355.5 468h0M313.1 421h0M351.8 449.4h0M293.8 401.2h0M309.1 412.8h0M300.3 397.2h0M327.1 406h0M326.1 448.4h0M278.4 412.5h0M325.1 423.7h0M323.2 418.5h0M281.5 399.3h0M326 416.4h0M326 420.9h0M340.4 449.6h0M330.8 448.4h0M294.2 426.5h0M334.9 475.7h0M326.5 425.7h0M326.4 417.5h0M358.2 467h0M312.9 407.3h0M328 427.3h0M337.5 467.2h0M274.6 407.6h0M292.6 396.3h0M312.2 410.8h0M361.5 465.4h0M362.5 465h0M360.8 459.5h0M360.4 459.9h0M370.6 463.7h0M347 462.7h0M276.6 405.9h0M261.9 445.4h0M350.7 450h0M346 484h0M265.5 404.2h0M338.5 450.3h0M310.5 402.3h0M287.1 415.3h0M294.3 398.3h0M360.4 454.8h0M272.8 403.8h0M322.1 406.6h0M270 408.8h0M331.8 454.3h0M273.3 422.1h0M277.5 410.8h0M327.3 423.7h0M330.1 464.2h0M337.5 403.9h0M352.5 449.9h0M354.9 454.6h0M256.1 448.6h0M318.4 463.3h0M321.1 426.4h0M349.9 454.4h0M294.7 408.8h0M288.1 394.5h0M283.5 405.1h0M346.2 451.9h0" stroke="#f5806f" stroke-width="2.5" stroke-linecap="round" fill="none"/>
<path d="M336.9 416.6h0M310.2 505.6h0M316.9 425.6h0M350.9 448h0M338.7 415.8h0M323 444.7h0M287.2 464.9h0M359.5 454.8h0M315.7 428.1h0M335.6 417.6h0M328.4 403.4h0M311.4 403.5h0M357.9 465.3h0M284.1 400.1h0M344.1 472.5h0M317.4 459.4h0M345.1 413.6h0M341.7 458.9h0M353.5 455.9h0M284.1 409.1h0M288.5 403.3h0M276.6 409.2h0M327.1 444.3h0M332.3 404.1h0M316.8 471.2h0M309 408.4h0M301.5 478.5h0M322.1 421.4h0M319.4 405.1h0M342 467.2h0M332.7 455.7h0M289.9 399.7h0M273.7 404.8h0M323.3 412.3h0M330.8 414.7h0M349.5 454.1h0M325.5 415.4h0M287.8 408.1h0M266.8 407.4h0M320.1 456h0M257.9 444.9h0M265.7 401.4h0M369.9 460.9h0M346.8 449.7h0M299.7 418.8h0M328 453.3h0M314.3 416.5h0M271.9 412.8h0M269.3 413.6h0M292 404.9h0M350.7 453.1h0M360.7 472.1h0M324.3 423h0M363.9 458.1h0M319.7 411.4h0M357.8 466.6h0M304.5 490.7h0M351.3 470.1h0M337.5 460.7h0M309.3 417.7h0M345.9 471.4h0M345.5 469.2h0M295 425.4h0M338 441.4h0M268.5 415.8h0M337.6 446.5h0M365.5 458h0M346 449.2h0M323.1 459.4h0M303.3 475.8h0M260.7 447.2h0M325.7 452.4h0M289.6 427.9h0M314.6 421.7h0M279.9 404.5h0M331.5 456.1h0M289.7 400.3h0M346.5 463.8h0M308 499.3h0M369.4 464.2h0M331.9 426.5h0M302.6 410.4h0M359.8 469.4h0M337 414.7h0M299.8 405.5h0M259.1 448.7h0M343.5 462.1h0M303.5 460.2h0M292.4 407.1h0M328.6 411.9h0M273.5 413.3h0" stroke="#f5806f" stroke-width="2.5" stroke-linecap="round" fill="none"/>
<path d="M314.5 476.3h0M290.9 405.7h0M311.6 408.1h0M318.3 469.2h0M282.4 425.4h0M335.8 406.6h0M333.9 481.6h0M301.1 458.3h0M332.3 487.9h0M338.9 496.1h0M399.8 423.6h0M307.3 477h0M311.3 471.6h0M326 496.2h0M328.3 505.2h0M258.3 438.4h0M364.3 455.7h0M322.9 410.8h0M374.4 462.6h0M352.3 477.9h0M347.7 486.8h0M263.7 439.8h0M301.5 401.3h0M307.7 402.3h0M329.8 490.6h0M310.5 413.2h0M284.7 401.4h0M397.6 422.1h0M269 414h0M328.7 475.6h0M295 426.1h0M270.5 413.8h0M290 410.7h0M325.1 498.4h0M296.1 403.4h0M269.1 414.3h0M323.1 493.9h0M320.4 495h0M307.1 480.7h0M265.4 406.6h0M340.3 494.6h0M273.6 400.7h0M309.4 456.8h0M341.8 490.4h0M296.5 406.7h0M336.7 497.7h0M305.7 459.7h0M301.6 416.4h0M277.4 417.2h0M300.7 411.3h0M331.8 461.2h0M298.3 413.5h0M318.1 485h0M305.7 480.6h0M314.2 472.6h0M333.3 475.6h0M319.4 456.2h0M290.8 427.4h0M294.5 425.8h0M312 414.4h0M323 494.4h0M343.7 474h0M326.9 477.2h0M292.8 416.9h0M310.7 455.8h0M255.2 448h0M278.7 415.6h0M347.6 465.3h0M275.1 407.4h0M321.6 462.2h0M260.5 445.3h0M303.8 420.4h0M306.2 472.7h0M341.6 471.4h0M356.8 465h0M320.7 479.7h0M300.3 461.1h0M314.7 468.7h0M309.2 506.1h0M322.1 501.4h0M307.1 410h0M317.1 417.2h0M303.4 408.4h0M323.5 410.5h0M296.1 416.7h0M326.3 503.2h0M304.9 405.7h0M314.3 456.5h0M330.7 453.4h0M285.8 422.5h0M317.7 471.7h0M277.5 408.8h0M332.1 462h0M272.5 404.8h0M327.4 496.3h0M275.9 401.3h0M339.4 488.5h0M329.4 410h0M314.8 466.2h0M303.1 459.3h0M332.4 494.7h0M334.3 474.2h0M263.4 438.9h0M335.3 421.1h0M306.3 489.7h0M356.2 474.9h0" stroke="#3f8ef5" stroke-width="2.5" stroke-linecap="round" fill="none"/>
<path d="M317.1 393.5h0M342.8 481.5h0M260 458.9h0M323.5 388.2h0M286.4 468.7h0M296.3 478h0M337.4 442.8h0M315.3 398.9h0M291.2 473.5h0M292.7 460.9h0M286.8 466h0M297 464.1h0M290.1 456.8h0M279.5 466.6h0M312.3 400h0M297.1 475h0M286.3 460.2h0M298 471.4h0M297.4 469.7h0M308.9 404.9h0M321.9 389.1h0M280.8 460h0M335 447.6h0M291.2 467.7h0M269.1 458.5h0M313.5 395.9h0M322.9 392.7h0M297 464h0M303.5 492.8h0M275.2 463.6h0M288.8 459.6h0M287.3 471h0M305.7 401.9h0M332.9 447.7h0M284.7 472.1h0M323.7 495.4h0M275.2 462.2h0M303.6 487.9h0M336.7 385.2h0M331.7 384.6h0M298.3 395.5h0M287.6 462.1h0M277.4 468.2h0M309.4 483.2h0M300.9 490.4h0M299.4 469.1h0M283.2 459.5h0M303.8 477.3h0" stroke="#138a43" stroke-width="2.5" stroke-linecap="round" fill="none"/>
<path d="M329.5 425.6h0M317.7 405.2h0M324.6 451.5h0M302 406.6h0M299 403.2h0M374.1 462.3h0M324.9 420.4h0M324.1 408.5h0M276.4 457.6h0M318.8 422.3h0M326.5 423.6h0M323.3 455.9h0M366.4 467.1h0M338.4 413.9h0M294.7 411.7h0M317.8 421.2h0M320.1 426h0M325.5 415.8h0M325.1 418.4h0M287.2 470.8h0M293.7 420.4h0M322.1 418.1h0M332.5 462.5h0M288.7 415.4h0M288.6 414.2h0M330 454.8h0M293 413.4h0M257.4 448.9h0M289.7 403.1h0M294.2 423.8h0M273.3 462.7h0M326 409.8h0M284 398.4h0M344.6 468.9h0M339.2 470.6h0M338 409.8h0M282.9 440.3h0M324.1 424h0M283 412h0M318.1 427.2h0M280.5 412.6h0M333 450.8h0M355.1 454.6h0M297 412.7h0M332.5 425.2h0M369.2 463.4h0M306 399.3h0M266.8 408.4h0M268.5 404.9h0M268.5 410.7h0M330.6 425.6h0M306.8 458.5h0M359.8 466.7h0M318.3 462.6h0M347.3 468.6h0M339.1 460.8h0M315.5 453.5h0M373 462.6h0M317.6 424.5h0M252.1 441.1h0M294 405.4h0M276.5 411.7h0M321.8 463h0M350.3 465.2h0M337.8 403.9h0M328.8 420.9h0M318.4 458.5h0M329.4 448.6h0M278.6 418h0M297.1 484.2h0M297 488.8h0M323.1 416.5h0M351.4 460.6h0M348.8 452.8h0M304.5 424.4h0M320.1 405.2h0M281.3 402.6h0M338.5 421.2h0M298.7 401.9h0M316 460.1h0M339.2 421.7h0M271.8 406.8h0M365.7 466.7h0M336.6 422.2h0M306.8 404.4h0M334.2 417.5h0M271.3 404.8h0M326.9 458.9h0M288.8 411.7h0M350.3 457.3h0M288.4 406.1h0M273.2 407.2h0M361 467.3h0M343 457.9h0" stroke="#f5806f" stroke-width="2.5" stroke-linecap="round" fill="none"/>
<path d="M284.4 414h0M279.2 413.9h0M335.6 475.4h0M320.4 456.8h0M342.1 407h0M320 475.3h0M260.9 439.3h0M320.7 480h0M325 467.3h0M310.7 460.8h0M320.9 501.9h0M291.1 397.9h0M392.1 432.1h0M318.8 500.8h0M267.7 413.1h0M312.3 483h0M347.2 481.7h0M314.4 492.7h0M279.6 407.5h0M307.1 471.7h0M357.7 453.8h0M293.8 409h0M325.2 467h0M288.1 413.4h0M311.4 478.8h0M302.5 398.6h0M334.9 484.6h0M263.5 404.1h0M336.6 469.3h0M288.9 425.5h0M311.2 469.2h0M305.6 423.6h0M399.5 427.5h0M311.7 465.2h0M333.2 491.7h0M307.3 482.4h0M364.8 460.7h0M332 463.3h0M325.7 507.2h0M348.3 461.8h0M326.8 475.2h0M300.8 483.3h0M326.6 404.1h0M254.9 439.1h0M269.3 416.6h0M398.4 423.1h0M290.2 420.2h0M286.1 422.7h0M339.3 484.8h0M326.5 469.3h0M320.5 490.1h0M343.7 411.6h0M278.1 423h0M345.2 484.4h0M325.1 476.2h0M336.2 491.7h0M309.9 472.9h0M256 447.3h0M252.3 441.6h0M277.9 422.5h0M305.2 493.1h0M279.6 408.4h0M310.9 471.6h0M390.7 431.7h0M315.4 494.2h0M307.2 468.2h0M330.8 450.9h0M337.6 441.8h0M340.1 416h0M330.1 500h0M288 417.8h0M332.6 466.8h0M301.9 416.4h0M309.9 423.2h0M321.3 481h0M292.7 401.5h0M312.8 411.6h0M294.5 416.3h0M261.6 438.9h0M302.5 405h0M315.8 491.1h0M303.1 397.8h0M277.9 409h0M357.2 476.6h0M283.7 414.9h0M318.7 477.6h0M322.3 478.7h0M313.1 491.9h0M316.7 491.7h0M337.2 469.4h0M337 467.5h0M297.2 471.7h0M326.2 507.2h0M286.3 405.2h0M299.5 419.8h0M313.2 486.9h0M272.1 413h0M309.7 421.1h0M318.2 482.5h0M313.3 465.1h0M338.7 457.6h0M321 408.2h0M323.8 458.1h0M341.5 473.8h0" stroke="#3f8ef5" stroke-width="2.5" stroke-linecap="round" fill="none"/>
<path d="M277.9 463.1h0M323.9 491.5h0M284.9 471.6h0M283.6 398.2h0M293.9 462.9h0M303.1 476h0M278.5 468.6h0M394.6 427.1h0M267.1 457.2h0M258.3 463h0M287.8 400.8h0M309.7 397.9h0M309.2 397.5h0M280.1 465.6h0M269.4 461.8h0M312.8 402.4h0M255.6 439.7h0M296 488.3h0M294.1 459.9h0M287.9 465.2h0M266 462.6h0M333.2 441.8h0M308.5 399.9h0M260.3 458.7h0M336 385.6h0M295.5 471.3h0M293.2 460.9h0M278 466.5h0M307 500.6h0M282.8 456.9h0M302.8 477.8h0M320.8 414.8h0M276.1 460.8h0M297.3 486.5h0M258.7 459.9h0M326.2 448.2h0M291 456.4h0M297.3 470.3h0M289.3 458.6h0M367.6 426.7h0M274.3 465.4h0M303.7 457.6h0M289.5 462.9h0M289.8 474.5h0M287 458.9h0M389.9 427.2h0M339.2 441.7h0" stroke="#138a43" stroke-width="2.5" stroke-linecap="round" fill="none"/>
<path d="M285.8 425.8h0M296.8 460.2h0M261.7 458.4h0M302.3 480.4h0M304.3 478.8h0M284.3 465h0M393.1 424.2h0M287.9 468.4h0M300.8 486.9h0M277.1 459.2h0M263.6 446.7h0M282.5 458.1h0M335.8 403.4h0M336.4 448.4h0M318.5 393.8h0M295.8 460.5h0M267.3 457.7h0M279.9 456.6h0M276.3 465.7h0M388.8 423.2h0M283.5 464.6h0M398.4 427h0M259.6 462h0M283.6 468h0M314.8 394.8h0M313.4 398.1h0M324.7 409.1h0M309 401.9h0M287 471.8h0M320.8 391.5h0M299.7 483.2h0M289 469.1h0M298.7 480.6h0M339.6 448h0M310.1 397.7h0M308 399.4h0M335 402.8h0M328.2 505h0M322.8 394.5h0M313.8 406.8h0" stroke="#138a43" stroke-width="2.5" stroke-linecap="round" fill="none"/>
<path d="M339.5 420.9h0M302.2 476.6h0M363.5 462.1h0M332.1 458.2h0M329.4 408.8h0M359.8 469.1h0M302.8 405.9h0M367.2 463.8h0M261.2 443h0M268.6 408.4h0M307.8 405.2h0M342.9 467.8h0M348.4 464.1h0M336.3 454.3h0M361.2 462.7h0M348.6 453.5h0M331 452h0M317 424.1h0M279.7 401.9h0M301 409.9h0M335.9 461.2h0M346.4 466.8h0M337.1 453.9h0M321.4 421.2h0M320.7 457h0M343.2 461.3h0M349.5 473.3h0M325.7 450.3h0M335.8 420.1h0M262.9 402.6h0M322.1 455.1h0M328.1 413.6h0M342 462.9h0M299.6 400.1h0M338.1 406.1h0M326.5 412.3h0M281.4 468.3h0M394.1 428.3h0M277.6 408.8h0M271.5 419h0M264.5 443.4h0M353.8 450.1h0M324.9 442.8h0M308 408.6h0M373.9 463.9h0M295.7 394.8h0M326.5 462.4h0M291.8 393.9h0M284.6 399.8h0M305.1 407h0M331.4 401.7h0M288.9 421.5h0M359.2 459.5h0M298.3 462.9h0M332.3 476.7h0M336.9 418.4h0M356.4 469.9h0M361.6 467.1h0M345.2 459.9h0M347.3 467.5h0M325.7 413.9h0M296 419.3h0M292.1 396h0M344.2 414.8h0M305.2 410h0M273 405h0M300.3 419.8h0M285.2 396.9h0M328.8 449.9h0M296.6 465.5h0M350 454.5h0M323.7 419.9h0M329.5 428.1h0M269.8 403.2h0M358.9 452.2h0M319.1 425.3h0M318.5 406.1h0M297.1 405.8h0M394.9 422.4h0M336.3 463.8h0M330.6 461.6h0M273.8 405.4h0M255.7 444.7h0M262.8 444.2h0M347.6 471.6h0M325.2 413.6h0M310.1 477.4h0" stroke="#f5806f" stroke-width="2.5" stroke-linecap="round" fill="none"/>
<path d="M283.1 417.1h0M297.1 412.9h0M319.6 452.3h0M288.8 421.4h0M267.6 410h0M313.2 491.4h0M308.8 501.4h0M320.9 489.3h0M322.2 469.7h0M307.6 468.1h0M255.4 443.1h0M353.3 470.1h0M252.9 442.6h0M284.6 426.1h0M337.1 475.5h0M317.6 466.3h0M257.7 437.6h0M331.8 501.3h0M320 490.1h0M323.1 472.2h0M395.2 429.4h0M254.7 438.1h0M352.8 473.6h0M305 468.7h0M354.9 460.7h0M278.1 410.3h0M316.7 484h0M311.2 498.9h0M321.4 468.7h0M304.3 469.4h0M392.7 420.3h0M297 480.4h0M323.7 471.2h0M309.8 409.3h0M306.4 487.5h0M297.3 417h0M337.8 459.8h0M346.2 468.2h0M289.6 423.6h0M324.2 470.5h0M289.4 423.4h0M342.5 452.5h0M301.7 423.6h0M316.4 459.3h0M342.8 475.2h0M304.5 474.4h0M325.5 469h0M310.7 503.7h0M297.6 476.2h0M304.3 407.2h0M302.3 402.6h0M317.8 480.7h0M346.4 478.8h0M314.5 473.1h0M318.8 475.8h0M282.2 397.9h0M328.3 409.6h0M304.3 460.5h0M302 422.2h0M263.3 447.1h0M284.3 411.8h0M302.8 458.6h0M318.6 487.8h0M341.9 488.7h0M326.6 503.1h0M297.7 421.6h0M323 489.1h0M276.1 420h0M287 438.7h0M271.1 402.1h0M327.8 471.1h0M307.1 498.3h0M357.6 453.8h0M265.5 443.1h0M349.2 485.3h0M305.5 456.9h0M334.9 492.2h0M349.9 478.7h0M276.5 418.9h0M321.7 450.2h0M304.9 481.3h0M359.6 470.2h0M332.9 458.6h0M324.8 486.5h0M364.7 455h0M336.9 452h0M299 473.7h0M328.1 503.6h0M330 501.3h0M303.6 415.2h0M311.7 501.3h0M324.8 417.8h0M324.1 473.9h0M323.6 460.3h0M361.7 467.6h0M305.8 417.8h0M307.2 407.2h0M359.2 469.8h0M359 471.6h0M343.5 443.3h0M311.8 459.4h0M292.6 395.2h0M343.7 490h0M332.2 455.2h0M276.3 405.1h0M310.6 416h0M312.7 501.8h0M326.7 494.8h0M309 410.7h0M270.8 412.1h0M340.8 469.8h0M335.3 420h0M320.3 487.2h0M330.7 479.2h0M337 474.8h0M352.1 474.3h0M331.1 459.7h0M324 490.8h0" stroke="#3f8ef5" stroke-width="2.5" stroke-linecap="round" fill="none"/>
<path d="M314.9 471.1h0M327.2 503h0M313 481.8h0M300.5 395.7h0M305.8 480.7h0M287.4 407.4h0M331.2 477.8h0M323.6 473.1h0M323.5 475.2h0M307.3 480.5h0M303.1 416.5h0M342.8 454.3h0M309.2 466.4h0M355.5 457.8h0M296.4 402.3h0M320.7 424.8h0M331.9 484.2h0M333.8 476.8h0M389.1 422h0M324.4 467.6h0M255.2 438.5h0M340.3 455.2h0M338.7 449.3h0M321.2 458.1h0M326.2 496.6h0M293.1 400.7h0M304.6 498.8h0M333 489.3h0M289.9 415.6h0M323.7 481.8h0M323.3 491.6h0M343.4 491.7h0M317 453.3h0M342 482.5h0M296.8 403.1h0M306.9 461.1h0M343.6 491.6h0M301.5 469.7h0M294.3 425.8h0M349.9 431.9h0M335.4 453h0M320.8 477.1h0M326.2 487.3h0M324.9 490.4h0M283.9 440.7h0M300.1 471.7h0M348.3 485.6h0M275.7 408.7h0M322.2 477.1h0M312.6 469.8h0M262.3 403.3h0M349.1 480.5h0M329.8 455.6h0M371 459.5h0M284.3 440.3h0M335.5 490.3h0M329.7 410.2h0M313.8 487.8h0M333.2 477.6h0M304.2 422.8h0M281.5 411.1h0M340.2 493.2h0M323.9 495.8h0M330.5 461.6h0M326.5 468.9h0M282.1 424.7h0M251.3 444.3h0M277.8 410h0M338.8 466.7h0M331.4 495.3h0M347.5 477.3h0M394 422.6h0M302.5 415.4h0M335.7 493.3h0M328 460.4h0M322.6 495.9h0M259.1 440.6h0M312.9 413.6h0M307.7 473.6h0M265.8 405.4h0M312.5 416.8h0M319.9 418.7h0M326.7 419.6h0M371.7 459.5h0M273.9 417.5h0M298.4 419h0M341.6 484.9h0M346.8 477.6h0M264.3 443.4h0M342.1 465.6h0M349.2 479.2h0M323.7 480.6h0M302.9 416.3h0M299.1 483.5h0M320.4 479.1h0M274.7 404.7h0M314.8 503.1h0M262.7 405h0M324.6 465.8h0M273.5 400.3h0M395 420.6h0M272.1 413.5h0M277 410.3h0M318.5 490.5h0M295.8 400.2h0M316.6 425.3h0M279.2 421.9h0M345.2 451.5h0M340.6 483.2h0M286.5 408.7h0M312.7 411.6h0M329.2 488.3h0M341.5 456.2h0" stroke="#3f8ef5" stroke-width="2.5" stroke-linecap="round" fill="none"/>
<path d="M275.9 423.1h0M344.1 413.6h0M338.5 403.6h0M294.6 403.7h0M337.2 403.2h0M322 466.3h0M340 490.5h0M323.6 392.9h0M292.9 409.5h0M262.5 404.4h0M265.3 411.4h0M358.3 459.3h0M321.5 392.5h0M326.8 475.7h0M295.8 426.5h0M297.9 403.5h0M329 412.9h0M265 441.3h0M269 400.7h0M367.9 461.4h0M347.3 453.8h0M373.3 461.8h0M331.3 425.6h0M319.5 428.3h0M310.2 404.4h0M336.5 416.4h0M271.8 401.4h0M288.6 410h0M318.8 415.7h0M332.3 458.8h0M254.3 442.8h0M365.1 457h0M354.6 484.1h0M344 458.1h0M268.9 400.8h0M366.3 461.8h0M306.6 416.6h0M373.8 463.1h0M299.8 482.3h0M303.6 406.3h0M361.4 464.6h0M359.9 465.2h0M291.7 402.8h0M271.7 408.6h0M333.6 416.7h0M326.6 406.4h0M354.3 454.9h0M265.5 409.2h0M272.2 400.2h0M307.2 457h0M279.7 454.7h0M277.1 412.5h0M316.2 461h0M317.1 427.6h0M354.2 456.7h0M349.9 450h0M352.9 468.1h0M317 426.7h0M342.5 452.1h0M347.6 467.5h0M337.4 404.8h0M289.9 426.9h0M315 427.9h0M300.6 404.6h0M296.9 426.5h0M316.6 422.6h0M315.3 418.7h0M316.5 417.7h0M291.5 418.2h0M302.1 416.4h0M344.8 444.7h0M349.4 467h0M294.7 407.9h0M301.7 460.6h0M283.9 406.7h0M342.2 442.4h0M266.8 414.7h0M325.9 387.1h0M286.9 419.7h0M295.2 407.2h0M347.8 472h0M323.3 476.5h0M295.5 409.1h0M313.1 411.6h0M286.7 397.6h0M316.4 410.8h0M269.1 407.6h0" stroke="#f5806f" stroke-width="2.5" stroke-linecap="round" fill="none"/>
<path d="M317.8 394.4h0M260.9 460.5h0M287 397.4h0M341.6 442.7h0M361.6 423.5h0M297.2 481.8h0M317.5 392.9h0M263.7 439h0M296.9 474.1h0M293.5 464.5h0M317 397.5h0M273 462.6h0M365 427.1h0M334.5 384.3h0M321.9 393.1h0M283.4 470.5h0M297 402.7h0M290.6 468.1h0M398.9 422.8h0M335.1 384.7h0M279.1 461.3h0M313.1 396.8h0M290.8 462.1h0M273 459.7h0M332.6 448.4h0M259.7 447.2h0M307.8 402h0M341.1 475.9h0M316.4 396.3h0M288.2 465.9h0M258.7 447.9h0M261.9 460.9h0M288.7 460h0M323.3 416h0M286.1 471.8h0M296.2 464.8h0M289.1 471.6h0M272.9 465.5h0M334.3 384.3h0M301.2 475.8h0M310.3 402.9h0M277.5 468.4h0M271 458.5h0M280.2 467.4h0M270.7 458.5h0" stroke="#138a43" stroke-width="2.5" stroke-linecap="round" fill="none"/>
<path d="M296.6 396h0M352.2 448.3h0M345.8 452.8h0M360.9 455.7h0M263.1 412.4h0M279.3 408.1h0M345 446.1h0M267.7 408.6h0M342 413.2h0M355.2 468.9h0M332.9 462.2h0M290.5 399.8h0M324.4 421.2h0M350.1 473.2h0M313.8 410.7h0M288.6 394h0M279.7 412.2h0M271.4 415.8h0M298.5 404.8h0M332.6 425h0M361.2 459.2h0M318.3 464h0M346.4 448.4h0M357.5 453.8h0M296.8 415.9h0M349 448.6h0M337.1 461.5h0M371.3 462.2h0M262.9 439.8h0M326.9 464.9h0M322.7 453.5h0M354.5 466.8h0M296.6 414.3h0M337.7 423.8h0M285.1 439.7h0M320.2 412.2h0M348.6 449.4h0M357.1 463.3h0M346.8 461.4h0M270.9 408.7h0M323.5 427.9h0M336.5 415.1h0M336.5 457.3h0M322.6 426.5h0M314 408.4h0M343.9 413h0M347.7 469.7h0M316.1 419.7h0M359.4 465.7h0M283.6 412.5h0M350.2 457.2h0M392.1 422.7h0M283.3 408.6h0M355.6 462.7h0M273.7 401.5h0M339.7 496h0M336.2 462.7h0M290.9 406.1h0M340.7 467.2h0M302.8 408.9h0M322.4 499.6h0M335.9 450.8h0M356.1 465.4h0M303.9 400.2h0M312 464.6h0M337.1 449.4h0M332.3 454.7h0M317.7 423.4h0M326 443.9h0M306.7 410.6h0M388 428.9h0M337.4 415.6h0M321.8 430h0M347.1 455h0M348.7 452.6h0M314.8 425.5h0M321.5 406h0M339.9 416.7h0M359.8 454.6h0M313.4 412.4h0M333.8 446.6h0M343.1 472.5h0M349.1 448.5h0M268.2 403h0M328.6 459h0M308.2 409.6h0M263.2 405.3h0M294.6 398.6h0M396.3 425.9h0M297.7 466h0M316.2 415h0M316.4 405.7h0M374.3 465.8h0M335.4 420.2h0M358.9 453.9h0M272.7 406.1h0M349.7 465.8h0M370.5 467.4h0M350.5 447.8h0M361.5 457.4h0M295.4 410.8h0M322.4 422.8h0M256.4 438.6h0" stroke="#f5806f" stroke-width="2.5" stroke-linecap="round" fill="none"/>
<path d="M391.6 429.4h0M293.7 423.6h0M323.9 405h0M326.1 466.8h0M304.1 424.9h0M357.8 451.2h0M301.8 402.3h0M315.9 481.3h0M334.9 464.3h0M289.9 417.8h0M319.2 473h0M293.8 406.4h0M310.4 421h0M328.6 481.2h0M289.4 406.6h0M305.6 403.8h0M320 480.7h0M308.3 416.8h0M289.3 399.9h0M319.5 478.2h0M315.5 492.8h0M335.9 463.8h0M288 422.9h0M331.6 487.4h0M283.6 405.1h0M274.3 412.9h0M317.7 476h0M308.1 469.9h0M317.3 506.3h0M297.3 419.6h0M308.9 503.8h0M336.4 456.1h0M283.9 417.7h0M332.4 491.6h0M334.4 493.8h0M320.6 479.8h0M286.1 439.6h0M281.8 420.7h0M317 500h0M325.5 448.7h0M351.7 453.4h0M301.6 422.1h0M289.2 421.2h0M312.3 481.5h0M293.6 407.7h0M303.7 409.7h0M305 416.9h0M329.7 476.6h0M258.2 447.7h0M341.6 443.1h0M344.7 489.5h0M340.5 469.4h0M341.1 453.6h0M256.8 408.6h0M283.9 424.4h0M336 495.7h0M298.4 424.1h0M340.7 459.2h0M332.4 481.4h0M308.2 481.7h0M306.4 478.7h0M338.6 481.2h0M333.5 482.9h0M337.4 481.1h0M280.5 407.7h0M317.9 405.5h0M333.8 472.3h0M268.2 403h0M292.5 425.8h0M271.7 413.6h0M353.8 452.8h0M342.9 473.7h0M330.8 403.9h0M306.4 419.5h0M320.4 484.4h0M317.6 507.1h0M337.5 493.9h0M352.7 479.6h0M319.1 467.8h0M260.2 439.8h0M338.6 459.9h0M341 483.3h0M315.9 472h0M300.8 480.7h0M316.9 470.5h0M348.8 475.8h0M306.6 418.7h0M297 416.2h0M260 448.6h0M284.4 398.9h0M322.2 452.5h0M319.2 469.4h0M334.2 493.3h0M343 457.4h0M349 479.4h0M314 499h0M309.5 463.4h0M325.3 420.5h0M348.2 468h0M366.7 456.3h0M327.1 480.1h0M337 476.8h0M339.2 408.2h0M295.9 401.3h0" stroke="#3f8ef5" stroke-width="2.5" stroke-linecap="round" fill="none"/>
<path d="M292.3 467.8h0M299.7 472.7h0M337.5 386.2h0M266.7 460.9h0M320.6 391.9h0M281.4 408.4h0M304.2 486.4h0M285.9 473.1h0M394.1 432h0M281.7 457.8h0M326 488.9h0M270.9 462.7h0M338.9 384.2h0M265.2 458.3h0M269 464.3h0M260.7 461.8h0M308.5 503.4h0M308.5 403.3h0M280.4 470.3h0M262.9 464.4h0M299.9 464.2h0M325.3 387.9h0M292.7 467.9h0M296.8 476.3h0M260.7 462.6h0M269.9 463.2h0M295.8 474.8h0M287.7 470.8h0M296.8 465h0M320.7 470.2h0M297.9 463.2h0M278.1 412.1h0M253.5 444.8h0M295.5 475.7h0M289.9 463h0M271.9 459.7h0M340 385.2h0M281.5 470.4h0M332.1 388.4h0" stroke="#138a43" stroke-width="2.5" stroke-linecap="round" fill="none"/>
<rect x="365.5" y="377.5" width="40" height="29.9" fill="#fdfdf0" stroke="#555" stroke-width="0.6"/>
<text x="366.80" y="385.30" font-size="5.16" textLength="37.10" lengthAdjust="spacingAndGlyphs" fill="#222" stroke="#222" stroke-width="0.1">Cell Cycle Phase</text>
<circle cx="378.9" cy="389.7" r="1.1" fill="#f5806f"/><circle cx="378.9" cy="395.8" r="1.1" fill="#138a43"/><circle cx="378.9" cy="401.8" r="1.1" fill="#3f8ef5"/>
<text x="383.2" y="391.6" font-size="5.2" fill="#222" stroke="#222" stroke-width="0.1">G1</text>
<text x="383.2" y="397.7" font-size="5.2" fill="#222" stroke="#222" stroke-width="0.1">G2M</text>
<text x="383.2" y="403.7" font-size="5.2" fill="#222" stroke="#222" stroke-width="0.1">S</text>
<text x="6.2" y="181.7" font-size="11" font-weight="bold">C</text>
<text x="87.80" y="174.60" font-size="6.36" textLength="84.40" lengthAdjust="spacingAndGlyphs" font-weight="bold" fill="#111">Gene Expression Distribution</text>
<path d="M36 184.4V309.8M65.2 184.4V309.8M94.4 184.4V309.8M123.6 184.4V309.8M152.8 184.4V309.8M182 184.4V309.8M211.2 184.4V309.8M28.2 300H231M28.2 273.6H231M28.2 247.2H231M28.2 220.8H231M28.2 194.4H231" stroke="#e6e6e6" stroke-width="0.5" fill="none"/>
<rect x="28.2" y="184.4" width="202.8" height="125.4" fill="none" stroke="#8c8c8c" stroke-width="0.8"/>
<path d="M28.2 300H25.5M28.2 273.6H25.5M28.2 247.2H25.5M28.2 220.8H25.5M28.2 194.4H25.5M36 309.8V312.6M65.2 309.8V312.6M94.4 309.8V312.6M123.6 309.8V312.6M152.8 309.8V312.6M182 309.8V312.6M211.2 309.8V312.6" stroke="#666" stroke-width="0.6" fill="none"/>
<text x="22" y="300" font-size="5.8" text-anchor="middle" fill="#222" transform="rotate(-90 22 300)" stroke="#222" stroke-width="0.12">-2</text>
<text x="22" y="273.6" font-size="5.8" text-anchor="middle" fill="#222" transform="rotate(-90 22 273.6)" stroke="#222" stroke-width="0.12">0</text>
<text x="22" y="247.2" font-size="5.8" text-anchor="middle" fill="#222" transform="rotate(-90 22 247.2)" stroke="#222" stroke-width="0.12">2</text>
<text x="22" y="220.8" font-size="5.8" text-anchor="middle" fill="#222" transform="rotate(-90 22 220.8)" stroke="#222" stroke-width="0.12">4</text>
<text x="22" y="194.4" font-size="5.8" text-anchor="middle" fill="#222" transform="rotate(-90 22 194.4)" stroke="#222" stroke-width="0.12">6</text>
<text x="36" y="321.6" font-size="6" text-anchor="middle" fill="#222" stroke="#222" stroke-width="0.12">0</text>
<text x="65.2" y="321.6" font-size="6" text-anchor="middle" fill="#222" stroke="#222" stroke-width="0.12">1</text>
<text x="94.4" y="321.6" font-size="6" text-anchor="middle" fill="#222" stroke="#222" stroke-width="0.12">2</text>
<text x="123.6" y="321.6" font-size="6" text-anchor="middle" fill="#222" stroke="#222" stroke-width="0.12">3</text>
<text x="152.8" y="321.6" font-size="6" text-anchor="middle" fill="#222" stroke="#222" stroke-width="0.12">4</text>
<text x="182" y="321.6" font-size="6" text-anchor="middle" fill="#222" stroke="#222" stroke-width="0.12">5</text>
<text x="211.2" y="321.6" font-size="6" text-anchor="middle" fill="#222" stroke="#222" stroke-width="0.12">6</text>
<text x="10.50" y="259.30" font-size="5.39" textLength="24.00" lengthAdjust="spacingAndGlyphs" transform="rotate(-90 10.50 259.30)" fill="#222" stroke="#222" stroke-width="0.12">Dispersion</text>
<text x="89.80" y="332.60" font-size="5.26" textLength="79.70" lengthAdjust="spacingAndGlyphs" fill="#222" stroke="#222" stroke-width="0.12">Average LogNorm Gene Expression</text>
<polygon points="37,263 42,266 50,268.5 60,271 75,272.5 92,273.5 105,275 114,276.5 114,278.5 105,279.5 92,280.5 78,283 60,285.6 50,287.5 42,289.5 37,291" fill="#f8766d"/>
<rect x="35.3" y="254.4" width="2.2" height="52.3" fill="#f8766d"/>
<path d="M70.9 265.1h0M71.9 269.4h0M75.1 270.6h0M75.4 271.4h0M84.2 272.6h0M59.8 269.7h0M43.8 265.2h0M40.1 261.6h0M110.7 269.3h0M83.2 271.8h0M48.8 265h0M41.5 265.4h0M51.3 268.8h0M71.8 271.4h0M70 269.8h0M85 269.2h0M74.5 270.5h0M57.9 267.7h0M111.8 267.2h0M90.1 273.2h0M60.6 270.8h0M42.3 264.1h0M94.5 267.3h0M66 268h0M108.9 275.6h0M52.7 269.1h0M105.3 262.7h0M66.8 270h0M42.5 263.3h0M57.2 266.7h0M43.5 263.4h0M93.9 264.5h0M45.8 267.2h0M41.5 264.6h0M96.8 271.7h0M70.6 268.2h0M51.3 268.7h0M85.3 271.1h0M45.7 265.7h0M57.2 269.4h0M109.8 274.5h0M103.4 271.3h0M52.8 265h0M85.1 268.5h0M44.5 265.1h0M56.4 270h0M95 272.2h0M42.5 264.4h0M43.8 265h0M82.1 271.5h0M64.9 263.9h0M73.3 269.8h0M80.1 271.3h0M48.6 266.8h0M105.1 273.6h0M51.2 267h0M92.5 271.1h0M108.3 274.4h0M103.2 271.1h0M44.8 265.3h0M39.9 263.1h0M89.8 272.7h0M56.3 268.4h0M59 267.2h0M50.2 268.4h0M54.1 268.5h0M79 269.8h0M58 267.3h0M105.8 274.9h0M57.2 269.8h0M70.4 270.1h0M64.7 270.7h0M79.9 270.5h0M103.8 271.8h0M110.5 272h0M80.8 268.2h0M47.5 267.3h0M105.3 274.9h0M89.6 272.6h0M84.7 272.9h0M73.2 272h0M112 272.1h0M42.6 262.5h0M104.5 272.9h0M92.3 271.5h0M105.6 267.5h0M63.4 268.7h0M102.3 266.1h0M68.3 270.2h0M80 265.8h0M83.9 269.3h0M82.7 269.6h0M43 261.5h0M103 264.1h0M91.6 268.5h0M80.6 269h0M70 271.3h0M93.3 272.2h0M39.2 262.2h0M54.3 267.7h0M89.4 267.9h0M106 275.1h0M56.2 267.6h0M87.9 273h0M52.2 266.2h0M86.5 265.9h0M70.1 269.7h0M86.9 271h0M51.9 264.5h0M105.6 271.7h0M103 270.4h0M60.7 268.4h0M47.2 262.8h0M100.7 274.3h0M90.3 270.4h0M49.7 267.7h0M70.8 271.7h0M68 269.6h0M83.9 269.8h0M99.9 274.3h0M110.7 274.2h0M39.4 264.2h0M102.5 268.1h0M79.8 271.3h0M60.2 270.9h0M47.2 267.1h0M71.1 265.9h0M54.8 268.9h0M47.6 264.3h0M70.5 270.7h0M84.2 269.2h0M108.9 268.7h0M88.3 271.9h0M50.4 265.7h0M37.8 260h0M50.4 267.9h0M57.4 267.8h0M76 268.1h0M83.1 272.8h0M96.4 269.8h0M105 266.1h0M91.2 268.6h0M46.7 264.1h0M105.2 273.2h0M65.3 265.7h0M96.8 270.4h0M107.8 269h0M52.4 268.2h0M91.1 271.1h0M90.8 268.2h0M53 263h0M110.3 268.2h0M77.3 271.8h0M105.2 271.2h0M101.2 273.5h0M70.1 270.9h0M78.3 272.2h0M39.1 261.7h0M97.7 267.2h0M50 266.6h0M62.1 270.8h0M48.2 266.5h0M75.7 271.4h0M88.7 265.9h0M107.9 264.4h0M43.5 266.2h0M53.6 267.2h0M91.7 272.9h0M84.9 265.8h0M79 271.7h0M60.4 266.8h0M104.5 269.1h0M52.6 264.9h0M76.3 265.1h0M80 271.4h0M74.7 268.4h0M82.4 263.3h0M75.7 270.9h0M67 270.4h0M73.8 268.2h0M88.8 268.8h0M68 270.2h0M108.8 272.4h0M72.5 271h0M46.5 263.2h0M104.5 271.6h0M72.7 271.4h0M83.3 270.8h0M106.4 269.8h0M38.7 261.2h0M51.6 268.3h0M61.2 266.6h0M63.7 270.3h0M91.8 272.2h0M46.2 265.4h0M51.8 268.8h0M76.8 269.4h0M68 270.6h0M76.7 271.3h0M84.3 270.9h0M84.9 265.8h0M82.9 271.6h0M101.3 273.8h0M97.8 267.3h0M104.7 273.4h0M106.2 271.6h0M53.4 263.6h0M47 267.5h0M55 269.4h0M44.3 264.8h0M99.4 267.7h0M46.5 265.3h0M67.2 271.5h0M52.1 268.5h0M88.2 264.6h0M45.7 263.7h0M74.9 272.3h0M88.4 268.7h0M51.2 267.7h0M39.8 264.2h0M78.4 268.1h0M48 267.6h0M50.8 267.3h0M111.3 267.5h0M106.5 273.9h0M108.4 274.6h0M71.7 271.9h0M72 269.2h0M75.6 268.3h0M38 262.3h0M89.6 272h0M71 270.4h0M92.5 271.3h0M49.4 267.3h0M75.4 265.2h0M97.1 273.2h0M89.9 269.8h0M67.3 268.3h0M82 262.4h0M97.4 273.8h0M56.4 266.1h0M95.3 270.3h0M98.1 266.7h0M103 269.5h0M89.1 272.6h0M67.4 266.3h0M91.2 270.1h0M72.2 270.9h0M37.8 261.5h0M83.8 268.8h0M54.4 265.7h0M62.3 269.7h0M86.5 268.9h0M66.2 270h0M112 271.6h0M94.1 268.8h0M110.5 269.6h0M92.4 272.7h0M56.2 269.3h0M51.7 268.4h0M65.2 269.6h0M104.9 273h0M78.3 263.4h0M79.6 272.3h0M111.6 270.6h0M42.7 262.9h0M81.8 272.8h0M106.8 273.9h0M49 266.6h0M74.2 272h0M82.8 264.6h0M68.6 269h0M76.5 269.8h0M58.4 269h0M86.1 270.2h0M90.7 272.2h0M59.2 268.6h0M40.2 264.8h0M48.7 268h0M104.3 270.5h0M93.1 262h0M107.8 271.2h0M42.5 264.1h0M72.8 270.3h0M110 275.6h0M107.3 269.9h0M91.2 262.5h0M98.3 271.9h0M82.3 269h0M71.2 269h0M52.3 265.9h0M46.3 266.4h0M70.2 270.2h0M56.7 267.4h0M80.7 267.3h0M76.8 269.6h0M111.8 268.8h0M54.9 268.4h0M45.5 263.7h0M83.9 268.9h0M63.9 270.8h0M79.4 267.3h0M81.4 268.7h0M51.2 265.5h0M55.7 263.7h0M102.9 273.5h0M40 263.1h0M68.9 270.9h0M83.8 269.3h0M42.4 264.4h0M43.5 265.1h0M84.3 268.8h0M65 269.4h0M62.8 271h0M92.9 272.8h0M46 266.4h0M97.7 269h0M53 266h0M68.8 271.6h0M64.7 265.8h0M86 269.8h0M78.1 272.5h0M93 269.8h0M64.7 269.9h0M44.3 266h0M43.2 265.7h0M79.3 267.3h0M59.4 270.4h0M95.2 271.3h0M86.7 272h0M43.1 265.1h0M89 267.4h0M58.2 268.8h0M91.4 270.5h0M64.5 267.8h0M79.7 268.9h0M105.9 265.9h0M69.8 269.3h0M97.2 272.9h0M67 269.1h0M107.1 272.6h0M64.1 270h0M64.4 269.4h0M66.1 269.2h0M51.6 264.5h0M77.5 270.2h0M99.7 271.9h0M93.9 272.7h0M103.1 274.6h0M75.7 271.8h0M77.8 264.2h0M85.8 269h0M97.3 269.2h0M96.1 271.9h0M43.3 263h0M104.4 271.4h0M43.4 265.5h0M92.9 271.9h0M85.7 273.1h0M94.4 270.9h0M76.1 272.2h0M62.3 268.2h0M109.6 273.2h0M77.3 269h0M91.1 271.1h0M67.8 264.9h0M99 270.1h0M97.4 267h0M99.5 266.1h0M85 266.9h0M76.3 271h0M68.6 266.2h0M68.5 268.6h0M111.3 269.9h0M65.2 270.5h0M68.9 270h0M58.9 269.7h0M60.1 270.8h0M45.6 264.6h0M50.5 264.9h0M41.7 262.8h0M105.2 273.5h0M39.7 263.5h0M53.3 268.2h0M54.7 268.9h0M53.8 265.8h0M50.9 268.4h0M93.8 271.2h0M60.4 265.8h0M73 270.4h0M56.5 265.3h0M62.7 266.9h0M78.1 268.7h0M53.6 268.6h0M40.7 261.3h0M65.9 269.7h0M76.6 269.8h0M111.3 275.7h0M86.3 273.1h0M72.4 271.7h0M64.9 270.1h0M82.5 267.3h0M48.8 266.9h0M56.5 268h0M102.2 268.5h0M111.5 275.4h0M57 268.6h0M94.8 273.3h0M37.1 261.2h0M98.7 266.8h0M43.2 265.9h0M44.3 262.9h0M73 264h0M81 271.1h0M101.3 272h0M68.3 266.4h0M105.8 268.1h0M52.6 266.4h0M77.8 270.6h0M99.4 274h0M60.4 270.6h0M59.9 269.9h0M72 271.5h0M88.5 269.7h0M44.9 264.8h0M109.5 272.6h0M99.2 274h0M65.3 271.1h0M90.3 273h0M71.4 267.8h0M37.8 259.5h0M52.5 268.9h0M83.2 272.1h0M77.5 269.3h0M59.4 269.3h0M87 269.9h0M56.2 268.6h0M61.7 266.5h0M107.9 268.7h0M61.9 269.3h0M99 272.3h0M44.1 265.9h0M87.8 272.6h0M67.2 269.8h0M99.8 272.8h0M54 268.8h0M48.8 266.2h0M42.5 264.4h0M106 270.3h0M85.5 271.1h0M94.5 272h0M61.9 268.5h0M67.9 268.5h0M89.5 273h0M110.6 274.3h0M82.6 267.7h0M38.4 262.8h0M85.8 270.1h0M45 264.8h0M96.1 270.5h0M98.9 272.4h0M94.5 272.2h0M104.7 271h0M74.5 271.5h0M47.6 266h0M75.7 262.5h0M90.7 272.1h0M107.9 272.9h0M84 272.5h0M55.3 268.7h0M80.2 271.7h0M106.7 271.5h0M64.1 269.9h0M110 275.3h0M47.2 265h0M79.1 270.2h0M79 272h0M111.4 265.9h0M98.3 272.5h0M98.8 273h0M58.6 268.9h0M80 271.2h0M99.3 272.2h0M42.7 263.5h0M39.4 261.6h0M107.5 263.3h0M86.4 271.1h0M92.3 267.9h0M65.6 266.8h0M38.2 261.5h0M52 267.5h0M66 271.2h0M79.7 270.8h0M56.8 267.1h0M79.6 270.2h0M39.8 261.8h0M87.3 267.2h0M82 265.5h0M72.2 268.2h0M88.7 270.4h0M93.9 273.7h0M111.6 270.7h0M99.9 271.7h0M69.5 269.3h0M79.4 269.1h0M76.4 270.2h0M69.4 269.6h0M41.1 264.3h0M91.4 268.2h0M81.8 269.4h0M93.4 271.8h0M42.2 263.1h0M46.3 264.5h0M66.8 270.4h0M40.9 264.4h0M54.9 266.5h0M60 269.3h0M42.1 265h0M105.3 268.6h0M102 273.3h0M68.6 271.1h0M93 270.9h0M79.5 271.4h0M96.4 272.9h0M46.3 261.3h0M37 261.8h0M55.3 269.1h0M41.7 263.8h0M104.1 273.1h0M63.7 268.5h0M80.9 272h0M104.4 274.6h0M60.1 264.1h0M110.3 275.8h0M72.4 271.5h0M106.2 271.6h0M104.3 272.1h0M63.6 265.8h0M72.4 269h0M111.7 267.6h0M52.2 267.8h0M103 272.6h0M40.8 262.3h0M60.5 268.1h0M104.5 270.1h0M47.1 264.7h0M89.2 269.4h0M42.9 265.3h0M53.7 267.9h0M51.7 265h0M50.6 268.3h0M96.3 267.8h0M64.9 268.1h0M81.2 266.4h0M54.2 267.5h0M87 264.8h0M57.8 269.6h0M110.7 274.4h0M70 268h0M40.4 264.5h0M82 272.3h0M97.2 271h0M43.5 265.6h0M55.4 265.2h0M57.9 268.7h0M104.3 274.1h0M111.1 270.9h0M93.3 272.7h0M65.9 268.2h0M50.5 267.3h0M78.7 270.6h0M86.4 270.3h0M95.7 269h0M100.4 273.9h0M88.3 263.7h0M50 267.7h0M95.5 271h0M54.7 266.4h0M70 271.2h0M96.3 266.7h0M54.7 267.7h0M80.5 272.6h0M74.4 267.9h0M90.6 272.2h0M79.9 271.2h0M48.4 266.8h0M38.3 261.4h0M70.1 271.9h0M56.7 269.8h0M105 273.4h0M79.7 266.6h0M54.8 268.4h0M48 267.6h0M60.6 270.2h0M83.6 270.1h0M81.2 272.4h0M43.6 265.9h0M56.1 268.5h0M49 266.4h0M96 266.6h0M41.6 263.9h0M53.2 267.9h0M109.8 270.6h0M94.1 272.5h0M111 272.8h0M92.9 270.1h0M39.9 264.5h0M47.6 262.4h0M66.5 270.7h0M42.7 263.8h0M39.6 260.7h0M92.1 273.3h0M54.2 269.5h0M55.1 266.2h0M71.6 269.3h0M62.3 270h0M110.6 274.9h0M67.2 271.1h0M85.7 269.9h0M89.1 272h0M101.8 267h0M71.7 268.4h0M66.5 269.9h0M95.6 270.5h0M53.2 268.3h0M78.2 270.8h0M49.3 267.8h0M72.1 270h0M60.1 262.1h0M87.9 269.2h0M101.7 273.4h0M42.5 263.9h0M88.9 271.3h0M38.4 262.5h0M50.7 268.5h0M106.3 270.7h0M90.6 273h0M48.5 265.6h0M107.2 270.5h0M91.3 268.2h0M105 271.1h0M65.8 271.2h0M43.2 264.8h0M94.8 271.4h0M75.9 269.3h0M54.9 268.8h0M40.1 263h0M39.4 261.9h0M60.4 267.7h0M47.2 266.2h0M106.2 252.7h0M108.4 260h0M47.5 251.7h0M59.8 260.8h0M72.5 255h0M125.3 252.1h0M61 254.2h0M53.7 248.7h0M38.2 259.3h0M90 262.6h0M138.9 253.4h0M102 264.5h0M53.7 260.4h0M101.5 265.2h0M125.6 252.2h0M97.6 249.6h0M74.9 255.1h0M40.6 254.9h0M64.6 256.9h0M59.8 250.9h0M72.2 256.6h0M49.2 260h0M55.9 249.7h0M66 255.6h0M47.8 258.5h0M105.6 258h0M105.5 248.4h0M71.1 254.6h0M40.8 255.3h0M40.2 256.9h0M92.3 256.4h0M64.3 252.6h0M38.2 254.2h0M128.5 258.2h0M58 260h0M51 256.4h0M95.6 265.2h0M68.1 258.4h0M134.8 261.9h0M97 259.2h0M73.1 255.5h0M59.4 262.9h0M127 254.9h0M130.7 248.7h0M46.6 257.1h0M62.6 254.5h0M139.1 250.7h0M51.5 252.1h0M103.1 252.2h0M37 257.8h0M71.3 252.3h0M82 259.7h0M88 259.2h0M89.4 263h0M138.1 254h0M66.5 264h0M63.1 260.9h0M104.9 260.4h0M137.5 262.8h0M48.6 259.2h0M81.7 258.1h0M68.8 253.1h0M111.2 257.6h0M55.7 252.5h0M64.3 251.2h0M84.2 250.3h0M40.8 249.2h0M43.8 260.7h0M44.7 256.1h0M114 256.7h0M48.9 263.6h0M125.8 249h0M57.3 257.1h0M116.9 255.1h0M107.3 252.5h0M107.3 253.9h0M65.1 261.7h0M122.5 262.9h0M90.2 255.6h0M106.3 259.2h0M121.1 262.4h0M45.7 254.8h0M101.9 252.2h0M50.8 248.2h0M92.2 264.9h0M138.3 250.4h0M104 255.5h0M97.5 255.1h0M133.7 265.8h0M39.8 260.8h0M45.1 248.8h0M60.4 261.2h0M141.2 250.2h0M64.8 248.5h0M87.4 256.7h0M69.2 253.6h0M117.4 263.1h0M60.2 255.1h0M95.9 261.8h0M139.6 255h0M104.7 257.8h0M117.4 250.6h0M50 249.9h0M133.7 252.5h0M81.4 250.2h0M64.1 248.3h0M90 250.6h0M96.8 252.9h0M54.8 256.7h0M68.4 252.7h0M40 249.2h0M128.6 253.6h0M41.9 251.3h0M80.9 265.9h0M52.4 263.6h0M81 255.5h0M118.2 255.1h0M40.4 257.9h0M100.4 259.2h0M59.5 264.9h0M125.2 265.9h0M76.5 263h0M108.4 251.2h0M38.4 251h0M45.1 249.3h0M67.7 261.6h0M62.8 257.3h0M37.4 251.8h0M136.9 248.2h0M85.7 262.6h0M116.4 261.2h0M71.9 262.5h0M120.7 261.8h0M140.2 249.8h0M135.8 255.2h0M106.1 252.5h0M130.7 248.4h0M91.3 252.1h0M70.8 254.6h0M100.4 262.6h0M68.3 259.5h0M67.2 253h0M130.2 253.8h0M43.2 254h0M110.4 251.8h0M110.5 257.8h0M103.1 251.2h0M44.1 250.6h0M66.8 255.8h0M37.4 257h0M72.3 253.8h0M86.8 265.1h0M52.6 263.8h0M63.8 261.6h0M44.3 265.8h0M75.1 265.3h0M54 255.3h0M106.1 251.2h0M59.1 260.2h0M135.4 253.8h0M50.7 254.4h0M140.7 250.7h0M97.9 254.8h0M98.9 251.8h0M95.7 264h0M124.2 259.3h0M83.2 258.2h0M44.8 263.1h0M104.2 256.2h0M101.4 255.5h0M116.2 277.3h0M124.1 283.2h0M121.6 283.4h0M118.8 277.9h0M124.9 266.9h0M106.4 268.7h0M119.7 284.7h0M113.1 276h0M130.9 281.6h0M136.4 276.2h0M105.3 280.9h0M109.8 275.4h0M135.3 269.5h0M134.8 267h0M133.5 260.6h0M102.7 273.6h0M136.5 275.6h0M133.9 272.8h0M119.1 266.7h0M108.2 273.3h0M111.7 274.9h0M123.3 275h0M133.1 272.8h0M133.6 276.7h0M135.9 277.3h0M138 270.2h0M133.5 279.3h0M104.2 278.8h0M101.5 268.9h0M135 284.7h0M104.9 277.1h0M135.7 281h0M125.9 278.1h0M141.5 275.4h0M108.7 268.6h0M130.6 269.1h0M108.3 272.9h0M100.6 269.9h0M114.3 273.7h0M111.7 282.6h0M125.3 275.4h0M105.4 272.1h0M129.1 273.9h0M104.9 275.5h0M139.5 272.9h0M108.2 272.5h0M141.8 273.6h0M115.1 268.9h0M113 274h0M126.5 278h0M117.8 278.7h0M119.2 271.9h0M121.3 280.8h0M129.6 274.8h0M109.9 272.2h0M136.7 274.5h0M112 280.8h0M119.1 270.5h0M139.2 270.2h0M125.3 281.8h0M118.8 281.3h0M111.8 278.2h0M118.5 280.5h0M129.2 275.3h0M128.2 276.7h0M105.6 280.2h0M137.6 276.4h0M114.3 281.7h0M134.5 280.4h0M122.9 271.1h0M104.2 276.6h0M115.3 275.2h0M115.7 275.2h0M114.4 269.2h0M137.7 277.5h0M126.6 276.2h0M119.7 272.9h0M113.3 280.6h0M128.2 266h0M141 268.3h0M141.7 269.1h0M127.3 282.2h0M129.4 278.4h0M119.4 276.5h0M116.9 274.5h0M141.6 273.6h0M108.8 273.7h0M116.6 278.5h0M131.2 279.1h0M127.3 278h0M126.2 276.3h0M134.1 272.7h0M130.7 276.9h0M119.7 274h0M100.7 282.1h0M137.6 267.2h0M101 270.9h0M122.4 281.5h0M104.7 276h0M121.3 272.4h0M105.2 272.6h0M103.7 273.8h0M121.5 274.1h0M110.4 284.2h0M117.4 279.8h0M119 277.7h0M123.4 267.1h0M104.4 277.4h0M135.7 284h0M122 287.5h0M117.1 268.9h0M140.5 270h0M117.4 279.4h0M134.4 276.7h0M130.8 275.8h0M122.3 273.7h0M101.2 277.8h0M140.6 279.2h0M127 277.4h0M117.5 275.2h0M103.3 274.6h0M138.6 278.9h0M113.8 269.2h0M137.2 277h0M139.8 271.1h0M138 274.1h0M116.6 274h0M110.8 283.8h0M115.5 271.4h0M115.1 278.9h0M118.1 275h0M135.1 277h0M102.6 268.5h0M116.8 275.4h0M109.4 279.6h0M113.2 279.2h0M120.3 277.5h0M120.5 284.8h0M100.4 263.6h0M100.3 281.7h0M124.9 281.1h0M125.1 275.3h0M115.5 274.3h0M124.8 283h0M113.2 270.3h0M131.7 276.6h0M102.2 277.9h0M111.3 278.2h0M133.4 267.7h0M116.9 281h0M112 275.3h0M141.3 274.6h0M134.9 274.4h0M134.4 280.4h0M133.1 275.4h0M132.1 275.2h0M102 270.2h0M138.9 272h0M126.8 288.1h0M131.6 278.1h0M84 283.6h0M70.9 284.1h0M92.1 282.7h0M43.1 289.5h0M100.3 281.4h0M67.6 285.1h0M73.3 284.1h0M62.9 285.4h0M96.5 280.6h0M104.6 279.7h0M91 281.2h0M46.6 288.5h0M62.1 286.5h0M111.7 279.1h0M54.1 287.8h0M105 280.1h0M47 289h0M39.5 291h0M72 284.9h0M112.2 279.7h0M77 283.5h0M100.1 280.8h0M45.5 288.6h0M84.5 282.5h0M53.4 287.2h0M65.3 285.3h0M84.9 282.8h0M83.5 282.1h0M105.2 280.3h0M75.9 284.3h0M116.4 279.2h0M55.9 287.7h0M58.2 286.1h0M57.8 287.3h0M42.2 289.9h0M95 281.1h0M72.1 284.8h0M116 279.4h0M110.7 280h0M55.7 286.7h0M98 280.7h0M105.6 279.9h0M39.8 290.6h0M81.7 283.6h0M64 286.4h0M98.9 282h0M102.3 281.1h0M54.7 287.6h0M53.1 288.2h0M46.8 288.6h0M99 281.8h0M111.8 279.8h0M92.8 282h0M95.2 282.1h0M60.6 286.5h0M58.4 287.2h0M57.2 287.4h0M57.5 286.2h0M60.7 285.5h0M76.3 283.8h0M59.1 286h0M78.2 283.7h0M107.8 280.3h0M106.2 281h0M86.4 283.1h0M80.3 283h0M90.5 282.3h0M58 286.8h0M41.4 290.6h0M100.8 280.2h0M55.9 287.3h0M96.1 280.5h0M113.4 279.9h0M65.2 284.9h0M55.8 286.9h0M113.2 278.7h0M90.2 282.8h0M45.3 289.6h0M82.8 284.3h0M62.1 287.4h0M107.6 280.6h0M42.5 289.9h0M39.4 292.9h0M92.5 281.7h0M106.3 279.6h0M43.3 290.4h0M79.7 283.2h0M65.7 285.9h0M77.4 283.6h0M70.8 285.5h0M76.4 284.3h0M82.2 282.8h0M115.8 279h0M61.3 285.6h0M64.2 285.7h0M116.1 280.8h0M113.9 280.3h0M112.7 279.5h0M38.6 291.8h0M92.5 280.5h0M86.6 283.2h0M44 290.5h0M79.1 283.1h0M46.1 288.6h0M107.4 279.4h0M39.6 290.3h0M104.2 280h0M84 283.1h0M98.3 280h0M42.5 289.4h0M101.3 281.7h0M70 284.4h0M64.2 285.1h0M99.4 280.1h0M58.2 287h0M64.2 285.6h0M91.7 281.3h0M108.4 279.3h0M51.2 287.7h0M75.8 283.9h0M100.5 280.2h0M90 281.5h0M58.1 286.7h0M108 279.3h0M51.9 287.2h0M63.7 285.9h0M95.8 281h0M80.7 284.1h0M43.4 289.2h0M54.6 287.4h0M70.6 285h0M65.9 284.8h0M110.8 279.8h0M48 288.1h0M101 280h0M101 280.7h0M67.7 284.8h0M97.1 281.4h0M75.5 283.4h0M77.4 283.2h0M67.8 286.5h0M48.6 288.7h0M53.7 288.6h0M112.4 280.4h0M64.7 285.4h0M94.9 280.5h0M113.6 278.7h0M91.9 281h0M108.5 279.5h0M73.8 286h0M67.2 285.1h0M113 279.2h0M42.8 289.7h0M41 290.7h0M61.9 285.5h0M79.7 283.2h0M80.8 284.1h0M79.7 283.4h0M113.7 279.2h0M43.2 289.5h0M62.1 285.5h0M77.8 285.3h0M50 288.1h0M60.8 286.6h0M101.2 280.9h0M85.9 281.8h0M105.5 280.1h0M113.5 278.7h0M116.2 280.2h0M69.4 284.5h0M41.2 290.1h0M96.6 280.7h0M54.1 287.4h0M101.7 279.8h0M77.4 283.7h0M51.8 288.1h0M38.2 290.7h0M58.1 286.2h0M87.1 282.1h0M87.5 282.1h0M62.7 286.5h0M84.1 283.5h0M70.8 285.1h0M63.9 285.3h0M111 279.1h0M106.1 281.7h0M108.4 279.7h0M116.7 279.5h0M60.4 286.3h0M56 287.8h0M84.3 283.2h0M60 287.6h0M44.9 289.1h0M82.3 283.1h0M77.3 284.2h0M67.7 285.1h0M37.1 291.8h0M83.5 282h0M88.2 281.6h0M77.3 283.2h0M42.4 216.8h0M56.6 242.5h0M102.1 242.5h0M106.4 241.7h0M91.4 249.2h0M54.9 253.2h0M69 255.6h0M40 253h0M46 251h0M90 246h0M144.5 272.3h0M159.1 262.6h0M143.3 257.3h0M154 261.3h0M154.9 276.5h0M137.6 279.4h0M145.1 266.5h0M146.7 280.5h0M144.7 268h0M138.7 277.7h0M145.1 264.2h0M135.9 260.8h0M155 276.7h0M159.4 279.8h0M150.6 276.5h0M151.3 276.9h0M154 259.8h0M154.4 263.2h0M137.3 279.8h0M130.7 268.8h0M140.3 276.4h0M148.3 279.6h0M158 272.4h0M131.9 273h0M133.3 281.5h0M156.1 263.4h0M135.6 273.7h0M152.7 281.6h0M148.7 258.4h0M151.8 256.6h0M156 275.8h0M153.6 278.6h0M147.1 280.5h0M149.2 268.3h0M141.5 264.5h0M130.7 259.3h0M153.9 261.2h0M149.6 275.9h0M150.8 268.9h0M139.5 262.4h0M143 224h0M150 222h0M160 218h0M168 214h0M172 213h0M140 232h0M152 236h0M178 229h0M165 240h0M147 243h0M160 246h0M152 250h0" stroke="#f8766d" stroke-width="1.6" stroke-linecap="round" fill="none"/>
<text x="160.7" y="214.7" font-size="5.0" font-weight="bold" fill="#111" stroke="#111" stroke-width="0.12">ND2</text>
<text x="177" y="214.7" font-size="5.0" font-weight="bold" fill="#111" stroke="#111" stroke-width="0.12">COX2</text>
<text x="163.4" y="218" font-size="5.0" font-weight="bold" fill="#111" stroke="#111" stroke-width="0.12">COX1</text>
<text x="153.7" y="221.1" font-size="5.0" font-weight="bold" fill="#111" stroke="#111" stroke-width="0.12">COX3</text>
<text x="158" y="225.7" font-size="5.0" font-weight="bold" fill="#111" stroke="#111" stroke-width="0.12">ND4</text>
<text x="137.8" y="225.7" font-size="5.0" font-weight="bold" fill="#111" stroke="#111" stroke-width="0.12">CYTB</text>
<text x="145" y="229.3" font-size="5.0" font-weight="bold" fill="#111" stroke="#111" stroke-width="0.12">ATP6</text>
<text x="165.2" y="229.3" font-size="5.0" font-weight="bold" fill="#111" stroke="#111" stroke-width="0.12">MALAT1</text>
<text x="133.2" y="235.4" font-size="5.0" font-weight="bold" fill="#111" stroke="#111" stroke-width="0.12">ND1</text>
<text x="142.4" y="238.5" font-size="5.0" font-weight="bold" fill="#111" stroke="#111" stroke-width="0.12">RPL11</text>
<text x="163.4" y="239.9" font-size="5.0" font-weight="bold" fill="#111" stroke="#111" stroke-width="0.12">EEF1A1</text>
<text x="160.7" y="243.1" font-size="5.0" font-weight="bold" fill="#111" stroke="#111" stroke-width="0.12">RPS27</text>
<text x="139" y="245.9" font-size="5.0" font-weight="bold" fill="#111" stroke="#111" stroke-width="0.12">GAPDH</text>
<text x="162" y="247.1" font-size="5.0" font-weight="bold" fill="#111" stroke="#111" stroke-width="0.12">RPS19</text>
<text x="181.8" y="248.1" font-size="5.0" font-weight="bold" fill="#111" stroke="#111" stroke-width="0.12">RPS2</text>
<text x="148.8" y="250.9" font-size="5.0" font-weight="bold" fill="#111" stroke="#111" stroke-width="0.12">RPL3</text>
<text x="167.8" y="251.5" font-size="5.0" font-weight="bold" fill="#111" stroke="#111" stroke-width="0.12">RPS18</text>
<text x="146.1" y="254.7" font-size="5.0" font-weight="bold" fill="#111" stroke="#111" stroke-width="0.12">RPS3</text>
<text x="163.8" y="255.3" font-size="5.0" font-weight="bold" fill="#111" stroke="#111" stroke-width="0.12">RPL41</text>
<text x="133.9" y="258.6" font-size="5.0" font-weight="bold" fill="#111" stroke="#111" stroke-width="0.12">RPS12</text>
<text x="156.6" y="258.9" font-size="5.0" font-weight="bold" fill="#111" stroke="#111" stroke-width="0.12">RPLP1</text>
<text x="107.7" y="257.5" font-size="5.0" font-weight="bold" fill="#111" stroke="#111" stroke-width="0.12">MYCN</text>
<text x="146.8" y="262.8" font-size="5.0" font-weight="bold" fill="#111" stroke="#111" stroke-width="0.12">RPS15A</text>
<text x="156" y="266.1" font-size="5.0" font-weight="bold" fill="#111" stroke="#111" stroke-width="0.12">RPL13</text>
<text x="143.4" y="269.7" font-size="5.0" font-weight="bold" fill="#111" stroke="#111" stroke-width="0.12">RPS14</text>
<text x="144.6" y="273.5" font-size="5.0" font-weight="bold" fill="#111" stroke="#111" stroke-width="0.12">RPL37A</text>
<text x="142.2" y="277.7" font-size="5.0" font-weight="bold" fill="#111" stroke="#111" stroke-width="0.12">RPS10A</text>
<text x="151.7" y="280.9" font-size="5.0" font-weight="bold" fill="#111" stroke="#111" stroke-width="0.12">RPS6</text>
<text x="139.9" y="284.3" font-size="5.0" font-weight="bold" fill="#111" stroke="#111" stroke-width="0.12">RPS23</text>
<text x="192.4" y="190.3" font-size="5.2" font-weight="bold" fill="#111" stroke="#111" stroke-width="0.1">Hashtag-2</text>
<text x="195.4" y="196.3" font-size="5.2" font-weight="bold" fill="#111" stroke="#111" stroke-width="0.1">Hashtag-1</text>
<path d="M355.7 96.6h3.2M357.3 95v3.2M355.9 101h3.2M357.5 99.4v3.2M350.6 100.5h3.2M352.2 98.9v3.2M366.1 97.1h3.2M367.7 95.5v3.2M365.5 98h3.2M367.1 96.4v3.2M360.7 98.4h3.2M362.3 96.8v3.2M345 94.8h3.2M346.6 93.2v3.2M361.5 96.7h3.2M363.1 95.1v3.2M344.8 108.7h3.2M346.4 107.1v3.2M350.9 101.9h3.2M352.5 100.3v3.2M360 99.6h3.2M361.6 98v3.2M361.6 102.8h3.2M363.2 101.2v3.2M360 97.3h3.2M361.6 95.7v3.2M352.6 90.2h3.2M354.2 88.6v3.2M361.9 93h3.2M363.5 91.4v3.2M353 103.3h3.2M354.6 101.7v3.2M355 99.9h3.2M356.6 98.3v3.2M362.5 98h3.2M364.1 96.4v3.2M354.3 104.5h3.2M355.9 102.9v3.2M353.7 92.8h3.2M355.3 91.2v3.2M351.5 98.1h3.2M353.1 96.5v3.2M360.9 107.3h3.2M362.5 105.7v3.2M358 92.4h3.2M359.6 90.8v3.2M342.4 101.1h3.2M344 99.5v3.2M356.9 103.7h3.2M358.5 102.1v3.2M361.4 99.7h3.2M363 98.1v3.2M346.5 94.9h3.2M348.1 93.3v3.2M362.7 94.3h3.2M364.3 92.7v3.2M368.6 97.4h3.2M370.2 95.8v3.2M358.6 106.3h3.2M360.2 104.7v3.2M362.3 102.6h3.2M363.9 101v3.2M354.2 106.1h3.2M355.8 104.5v3.2M350.3 102.2h3.2M351.9 100.6v3.2M367.4 110.2h3.2M369 108.6v3.2M346.6 98.1h3.2M348.2 96.5v3.2M368.6 96.3h3.2M370.2 94.7v3.2M343.2 112.8h3.2M344.8 111.2v3.2M360.4 103.3h3.2M362 101.7v3.2M349.2 94.1h3.2M350.8 92.5v3.2M366 98.5h3.2M367.6 96.9v3.2M359.5 97h3.2M361.1 95.4v3.2M369.8 96h3.2M371.4 94.4v3.2M361.6 96.4h3.2M363.2 94.8v3.2M345.8 92.5h3.2M347.4 90.9v3.2M364.9 96.5h3.2M366.5 94.9v3.2M342.7 102.8h3.2M344.3 101.2v3.2M364.1 109.1h3.2M365.7 107.5v3.2M356.3 93.9h3.2M357.9 92.3v3.2M347.7 90.7h3.2M349.3 89.1v3.2M361.8 100.2h3.2M363.4 98.6v3.2M360.1 95.9h3.2M361.7 94.3v3.2M358.6 93.2h3.2M360.2 91.6v3.2M352.6 101.6h3.2M354.2 100v3.2M365.6 99.2h3.2M367.2 97.6v3.2M351 94.3h3.2M352.6 92.7v3.2M368.8 101.7h3.2M370.4 100.1v3.2M347.2 100.1h3.2M348.8 98.5v3.2M356.5 101h3.2M358.1 99.4v3.2M368.3 104.9h3.2M369.9 103.3v3.2M367.2 106.1h3.2M368.8 104.5v3.2M351.7 96h3.2M353.3 94.4v3.2M366.2 94.8h3.2M367.8 93.2v3.2M360.3 98.6h3.2M361.9 97v3.2M358.8 96.3h3.2M360.4 94.7v3.2M356.3 97.9h3.2M357.9 96.3v3.2M362 99.4h3.2M363.6 97.8v3.2M363.5 96.3h3.2M365.1 94.7v3.2M372.9 97.6h3.2M374.5 96v3.2M354.4 101.4h3.2M356 99.8v3.2M357.6 94.4h3.2M359.2 92.8v3.2M355.1 97.3h3.2M356.7 95.7v3.2M371.6 113.1h3.2M373.2 111.5v3.2M349.1 98.1h3.2M350.7 96.5v3.2M360.7 98.1h3.2M362.3 96.5v3.2M354.4 95.9h3.2M356 94.3v3.2M359.8 102.2h3.2M361.4 100.6v3.2M376.1 97.5h3.2M377.7 95.9v3.2M353.5 99.9h3.2M355.1 98.3v3.2M355.9 99.7h3.2M357.5 98.1v3.2M337 102h3.2M338.6 100.4v3.2M365.3 105.6h3.2M366.9 104v3.2M357.2 94.3h3.2M358.8 92.7v3.2M364.2 91.4h3.2M365.8 89.8v3.2M344.7 101.3h3.2M346.3 99.7v3.2M355.1 96h3.2M356.7 94.4v3.2M365.9 113.7h3.2M367.5 112.1v3.2M365.9 107.1h3.2M367.5 105.5v3.2M362.8 107.3h3.2M364.4 105.7v3.2M359 93h3.2M360.6 91.4v3.2M356.5 98.3h3.2M358.1 96.7v3.2M363.7 98.6h3.2M365.3 97v3.2M357 91.2h3.2M358.6 89.6v3.2M365.6 100.9h3.2M367.2 99.3v3.2M378.5 105.5h3.2M380.1 103.9v3.2M364.6 100.8h3.2M366.2 99.2v3.2M358.7 95.6h3.2M360.3 94v3.2M359.3 95.9h3.2M360.9 94.3v3.2M346.1 107.4h3.2M347.7 105.8v3.2M362.3 104.5h3.2M363.9 102.9v3.2M349.9 107.2h3.2M351.5 105.6v3.2M367.3 95.4h3.2M368.9 93.8v3.2M368.8 104.4h3.2M370.4 102.8v3.2M357.7 105.5h3.2M359.3 103.9v3.2M363.5 90.9h3.2M365.1 89.3v3.2M350.9 91h3.2M352.5 89.4v3.2M365.2 100.3h3.2M366.8 98.7v3.2M342.7 91.8h3.2M344.3 90.2v3.2M356.9 102.6h3.2M358.5 101v3.2M360.7 97.2h3.2M362.3 95.6v3.2M369 104.8h3.2M370.6 103.2v3.2M366.3 91.4h3.2M367.9 89.8v3.2M368.7 100.3h3.2M370.3 98.7v3.2M352 93.9h3.2M353.6 92.3v3.2M358.5 98.7h3.2M360.1 97.1v3.2M368.5 100.8h3.2M370.1 99.2v3.2M340.2 101.4h3.2M341.8 99.8v3.2M343.6 95h3.2M345.2 93.4v3.2M360.1 102.6h3.2M361.7 101v3.2M357.6 94.9h3.2M359.2 93.3v3.2M358.3 92.3h3.2M359.9 90.7v3.2M357.2 93.8h3.2M358.8 92.2v3.2M369 90.7h3.2M370.6 89.1v3.2M352.6 94.7h3.2M354.2 93.1v3.2M343.4 105.2h3.2M345 103.6v3.2M342.8 93.6h3.2M344.4 92v3.2M348.3 99.4h3.2M349.9 97.8v3.2M356.2 99.5h3.2M357.8 97.9v3.2M353.2 98.1h3.2M354.8 96.5v3.2M371.3 99.1h3.2M372.9 97.5v3.2M361.7 94h3.2M363.3 92.4v3.2M356.2 106.1h3.2M357.8 104.5v3.2M353.4 93.6h3.2M355 92v3.2M345.2 102.6h3.2M346.8 101v3.2M365.3 95.1h3.2M366.9 93.5v3.2M357.7 95.1h3.2M359.3 93.5v3.2M358.9 105.7h3.2M360.5 104.1v3.2M345.8 102.8h3.2M347.4 101.2v3.2M364.7 102.4h3.2M366.3 100.8v3.2M350.8 103.5h3.2M352.4 101.9v3.2M346 100h3.2M347.6 98.4v3.2M348.7 97.4h3.2M350.3 95.8v3.2M339.7 97.6h3.2M341.3 96v3.2M352.8 109.8h3.2M354.4 108.2v3.2M363.2 100.8h3.2M364.8 99.2v3.2M340.7 104h3.2M342.3 102.4v3.2M359.9 101.8h3.2M361.5 100.2v3.2M363.6 95.4h3.2M365.2 93.8v3.2M362.7 97.6h3.2M364.3 96v3.2M367.8 95.8h3.2M369.4 94.2v3.2M361.1 110.5h3.2M362.7 108.9v3.2M364.5 92.4h3.2M366.1 90.8v3.2M355.4 101.9h3.2M357 100.3v3.2M372.4 108.8h3.2M374 107.2v3.2M361.2 86.4h3.2M362.8 84.8v3.2M350.6 95.7h3.2M352.2 94.1v3.2M372 100h3.2M373.6 98.4v3.2M361.9 94.5h3.2M363.5 92.9v3.2M350.8 99.8h3.2M352.4 98.2v3.2M359.9 94.9h3.2M361.5 93.3v3.2M357.4 100.4h3.2M359 98.8v3.2M349.9 101.3h3.2M351.5 99.7v3.2M364.4 98.8h3.2M366 97.2v3.2M351.2 103.9h3.2M352.8 102.3v3.2M377.9 93.3h3.2M379.5 91.7v3.2M362.5 113.2h3.2M364.1 111.6v3.2M362.4 96.8h3.2M364 95.2v3.2M370.4 97.1h3.2M372 95.5v3.2M357.1 96.6h3.2M358.7 95v3.2M342.9 93.8h3.2M344.5 92.2v3.2M360.1 103.1h3.2M361.7 101.5v3.2M367.7 89.7h3.2M369.3 88.1v3.2M347 102.9h3.2M348.6 101.3v3.2M359.9 98.4h3.2M361.5 96.8v3.2M354.6 104.6h3.2M356.2 103v3.2M373.8 93.8h3.2M375.4 92.2v3.2M348.6 106.6h3.2M350.2 105v3.2M370.6 94.1h3.2M372.2 92.5v3.2M371.5 95h3.2M373.1 93.4v3.2M351 98h3.2M352.6 96.4v3.2M341.3 103.4h3.2M342.9 101.8v3.2M357.2 96.6h3.2M358.8 95v3.2M352.1 100h3.2M353.7 98.4v3.2M361.1 97.3h3.2M362.7 95.7v3.2M362.5 98.2h3.2M364.1 96.6v3.2M355.2 95.1h3.2M356.8 93.5v3.2M358 103.8h3.2M359.6 102.2v3.2M352.9 99.4h3.2M354.5 97.8v3.2M356.8 98.5h3.2M358.4 96.9v3.2M357.7 98.4h3.2M359.3 96.8v3.2M356.6 106.1h3.2M358.2 104.5v3.2M360.9 93.7h3.2M362.5 92.1v3.2M361 100.4h3.2M362.6 98.8v3.2M361 104.5h3.2M362.6 102.9v3.2M343.3 99h3.2M344.9 97.4v3.2M350.6 95.4h3.2M352.2 93.8v3.2M349.4 113.4h3.2M351 111.8v3.2M349.8 90.9h3.2M351.4 89.3v3.2M354.8 106.7h3.2M356.4 105.1v3.2M351.9 96.6h3.2M353.5 95v3.2M361.4 98.4h3.2M363 96.8v3.2M368.9 95.6h3.2M370.5 94v3.2M357.5 96.2h3.2M359.1 94.6v3.2M370.2 94.2h3.2M371.8 92.6v3.2M365.4 105.2h3.2M367 103.6v3.2M356.5 95.5h3.2M358.1 93.9v3.2M355.4 93.6h3.2M357 92v3.2M362.2 94.5h3.2M363.8 92.9v3.2M356 85.7h3.2M357.6 84.1v3.2M367.1 100.5h3.2M368.7 98.9v3.2M358.3 85.5h3.2M359.9 83.9v3.2M355.1 94.7h3.2M356.7 93.1v3.2M365.1 99.3h3.2M366.7 97.7v3.2M348.8 98.4h3.2M350.4 96.8v3.2M360.4 93.3h3.2M362 91.7v3.2M363.6 99.2h3.2M365.2 97.6v3.2M364.1 96.5h3.2M365.7 94.9v3.2M359.2 99.1h3.2M360.8 97.5v3.2M355.8 95.7h3.2M357.4 94.1v3.2M349.7 102.7h3.2M351.3 101.1v3.2M357.7 107.2h3.2M359.3 105.6v3.2M354.4 110.1h3.2M356 108.5v3.2M352.5 96.3h3.2M354.1 94.7v3.2M362 99.7h3.2M363.6 98.1v3.2M355.9 106.9h3.2M357.5 105.3v3.2M371.5 96.6h3.2M373.1 95v3.2M366 104.1h3.2M367.6 102.5v3.2M356.3 109.1h3.2M357.9 107.5v3.2M363.6 94.4h3.2M365.2 92.8v3.2M343.3 99.6h3.2M344.9 98v3.2M362.4 108.8h3.2M364 107.2v3.2M343.8 105.1h3.2M345.4 103.5v3.2M352.9 106.9h3.2M354.5 105.3v3.2M357.9 98h3.2M359.5 96.4v3.2M362.5 95.6h3.2M364.1 94v3.2M369.1 93.1h3.2M370.7 91.5v3.2M347.7 102.1h3.2M349.3 100.5v3.2M349.6 105.1h3.2M351.2 103.5v3.2M357 99.3h3.2M358.6 97.7v3.2M361.4 107.9h3.2M363 106.3v3.2M348.3 99.5h3.2M349.9 97.9v3.2M356.1 101h3.2M357.7 99.4v3.2M357.2 103.4h3.2M358.8 101.8v3.2M363 97.5h3.2M364.6 95.9v3.2M357 103h3.2M358.6 101.4v3.2M356.3 113.9h3.2M357.9 112.3v3.2M350.2 99.2h3.2M351.8 97.6v3.2M346.2 98.3h3.2M347.8 96.7v3.2M358.8 106.7h3.2M360.4 105.1v3.2M355.8 101h3.2M357.4 99.4v3.2M361.2 96.1h3.2M362.8 94.5v3.2M357.4 103.9h3.2M359 102.3v3.2M356.6 99.7h3.2M358.2 98.1v3.2M363.2 97.8h3.2M364.8 96.2v3.2M352.2 106.6h3.2M353.8 105v3.2M354.8 103.3h3.2M356.4 101.7v3.2M349.2 100h3.2M350.8 98.4v3.2M353.9 98.8h3.2M355.5 97.2v3.2M361.6 101.6h3.2M363.2 100v3.2M375.3 101.1h3.2M376.9 99.5v3.2M366 98.7h3.2M367.6 97.1v3.2M366.1 112.1h3.2M367.7 110.5v3.2M352 98h3.2M353.6 96.4v3.2M362.2 86.9h3.2M363.8 85.3v3.2M360.1 92.5h3.2M361.7 90.9v3.2M363.5 94.3h3.2M365.1 92.7v3.2M361.5 100.2h3.2M363.1 98.6v3.2M361.5 105.1h3.2M363.1 103.5v3.2M366.6 104.8h3.2M368.2 103.2v3.2M359.6 88h3.2M361.2 86.4v3.2M356 99.3h3.2M357.6 97.7v3.2M366.5 99.2h3.2M368.1 97.6v3.2M351.5 98h3.2M353.1 96.4v3.2M362.1 95.6h3.2M363.7 94v3.2M351.8 90h3.2M353.4 88.4v3.2M370.3 99.3h3.2M371.9 97.7v3.2M359.7 101.7h3.2M361.3 100.1v3.2M368.4 103.1h3.2M370 101.5v3.2M362.8 101.9h3.2M364.4 100.3v3.2M352.4 95.5h3.2M354 93.9v3.2M367.8 99.4h3.2M369.4 97.8v3.2M352.5 95h3.2M354.1 93.4v3.2M357.3 97.7h3.2M358.9 96.1v3.2M369.2 93.3h3.2M370.8 91.7v3.2M353.7 87.1h3.2M355.3 85.5v3.2M357.7 95.2h3.2M359.3 93.6v3.2M352.7 99.6h3.2M354.3 98v3.2M344.4 89.8h3.2M346 88.2v3.2M368 105.9h3.2M369.6 104.3v3.2M346.2 108h3.2M347.8 106.4v3.2M366.6 101.8h3.2M368.2 100.2v3.2M357.2 101h3.2M358.8 99.4v3.2M356.7 105.2h3.2M358.3 103.6v3.2M357.8 107.1h3.2M359.4 105.5v3.2M357.1 97.7h3.2M358.7 96.1v3.2M361.2 100.6h3.2M362.8 99v3.2M350.8 98.5h3.2M352.4 96.9v3.2M354 91h3.2M355.6 89.4v3.2M363.5 100h3.2M365.1 98.4v3.2M354.1 103.1h3.2M355.7 101.5v3.2M350.5 101.2h3.2M352.1 99.6v3.2M359.9 96.6h3.2M361.5 95v3.2M362 88.1h3.2M363.6 86.5v3.2M352.3 99.3h3.2M353.9 97.7v3.2M378.9 109.4h3.2M380.5 107.8v3.2M353.7 98.5h3.2M355.3 96.9v3.2M358.8 97.2h3.2M360.4 95.6v3.2M355.8 97.4h3.2M357.4 95.8v3.2M358.1 95.2h3.2M359.7 93.6v3.2M343.3 104.1h3.2M344.9 102.5v3.2M357.6 104.9h3.2M359.2 103.3v3.2M349.7 96h3.2M351.3 94.4v3.2M352.7 96h3.2M354.3 94.4v3.2M363.3 97.7h3.2M364.9 96.1v3.2M361.5 99.9h3.2M363.1 98.3v3.2M347 99.5h3.2M348.6 97.9v3.2M361.1 102.2h3.2M362.7 100.6v3.2M356.9 95.4h3.2M358.5 93.8v3.2M351 95.9h3.2M352.6 94.3v3.2M371.8 102.3h3.2M373.4 100.7v3.2M358.8 100.2h3.2M360.4 98.6v3.2M369.4 97.7h3.2M371 96.1v3.2M364.5 103.1h3.2M366.1 101.5v3.2M357.5 99.4h3.2M359.1 97.8v3.2M344.2 91.6h3.2M345.8 90v3.2M364.5 108.7h3.2M366.1 107.1v3.2M363.3 100.1h3.2M364.9 98.5v3.2M361.1 97.4h3.2M362.7 95.8v3.2M346.3 100.5h3.2M347.9 98.9v3.2M369 102.4h3.2M370.6 100.8v3.2M349.9 106.6h3.2M351.5 105v3.2M348.4 97.6h3.2M350 96v3.2M370.5 97.1h3.2M372.1 95.5v3.2M359.5 87.4h3.2M361.1 85.8v3.2M353.7 103h3.2M355.3 101.4v3.2M361.7 96.4h3.2M363.3 94.8v3.2M350 105.6h3.2M351.6 104v3.2M359.9 98h3.2M361.5 96.4v3.2M347.7 100.4h3.2M349.3 98.8v3.2M353.5 96.9h3.2M355.1 95.3v3.2M356.8 99.8h3.2M358.4 98.2v3.2M355 93.7h3.2M356.6 92.1v3.2M368.2 101.3h3.2M369.8 99.7v3.2M364.1 103.4h3.2M365.7 101.8v3.2M358.2 95.3h3.2M359.8 93.7v3.2M369.2 101.4h3.2M370.8 99.8v3.2M357.1 98.3h3.2M358.7 96.7v3.2M346.3 99.3h3.2M347.9 97.7v3.2M352.5 97.4h3.2M354.1 95.8v3.2M349.1 109.9h3.2M350.7 108.3v3.2M358 98h3.2M359.6 96.4v3.2M353.5 94.6h3.2M355.1 93v3.2M355.6 102.6h3.2M357.2 101v3.2M361.3 107.8h3.2M362.9 106.2v3.2M352.5 99.5h3.2M354.1 97.9v3.2M364.1 100.2h3.2M365.7 98.6v3.2M360 102.9h3.2M361.6 101.3v3.2M360 90.5h3.2M361.6 88.9v3.2M352.5 86.7h3.2M354.1 85.1v3.2M352.8 99.3h3.2M354.4 97.7v3.2M359 93.9h3.2M360.6 92.3v3.2M348.3 110.6h3.2M349.9 109v3.2M362.3 95.1h3.2M363.9 93.5v3.2M362.4 85.3h3.2M364 83.7v3.2M359.2 98h3.2M360.8 96.4v3.2M364.7 97.4h3.2M366.3 95.8v3.2M370.3 106h3.2M371.9 104.4v3.2M354.8 117.8h3.2M356.4 116.2v3.2M363.8 101.4h3.2M365.4 99.8v3.2M364.7 87.8h3.2M366.3 86.2v3.2M357.6 100.7h3.2M359.2 99.1v3.2M353.9 103.8h3.2M355.5 102.2v3.2M352.9 95.9h3.2M354.5 94.3v3.2M357.9 99h3.2M359.5 97.4v3.2M356.3 94.5h3.2M357.9 92.9v3.2M361.4 100.1h3.2M363 98.5v3.2M362.7 100.2h3.2M364.3 98.6v3.2M348.9 91.6h3.2M350.5 90v3.2M361.2 104.5h3.2M362.8 102.9v3.2M365.8 97.5h3.2M367.4 95.9v3.2M345.8 90.7h3.2M347.4 89.1v3.2M360.2 94.6h3.2M361.8 93v3.2M359.2 100.2h3.2M360.8 98.6v3.2M345.9 94.2h3.2M347.5 92.6v3.2M357.9 100.9h3.2M359.5 99.3v3.2M360.3 98.9h3.2M361.9 97.3v3.2M362.8 101.3h3.2M364.4 99.7v3.2M357.4 110.8h3.2M359 109.2v3.2M354.4 95.7h3.2M356 94.1v3.2M367.8 101.3h3.2M369.4 99.7v3.2M356.7 90.9h3.2M358.3 89.3v3.2M355.2 95.4h3.2M356.8 93.8v3.2M370.4 99.1h3.2M372 97.5v3.2M367 103.2h3.2M368.6 101.6v3.2M359.2 99.8h3.2M360.8 98.2v3.2M358.5 93.3h3.2M360.1 91.7v3.2M375.8 102.9h3.2M377.4 101.3v3.2M353.3 96.7h3.2M354.9 95.1v3.2M349.7 96.7h3.2M351.3 95.1v3.2M362 100.8h3.2M363.6 99.2v3.2M361.7 107.7h3.2M363.3 106.1v3.2M363.4 107.6h3.2M365 106v3.2M352.4 102.3h3.2M354 100.7v3.2M354.6 94.8h3.2M356.2 93.2v3.2M358.3 101.5h3.2M359.9 99.9v3.2M361.8 90.9h3.2M363.4 89.3v3.2M357.7 97.4h3.2M359.3 95.8v3.2M367.1 97.9h3.2M368.7 96.3v3.2M347.9 86h3.2M349.5 84.4v3.2M374.4 110h3.2M376 108.4v3.2M357.4 97.1h3.2M359 95.5v3.2M365 95.8h3.2M366.6 94.2v3.2M355.6 105h3.2M357.2 103.4v3.2M358.4 93.8h3.2M360 92.2v3.2M349.4 104.9h3.2M351 103.3v3.2M357.5 109.7h3.2M359.1 108.1v3.2M355.7 101.7h3.2M357.3 100.1v3.2M361.1 103.1h3.2M362.7 101.5v3.2M351 101.5h3.2M352.6 99.9v3.2M357.3 102.9h3.2M358.9 101.3v3.2M357.8 95.3h3.2M359.4 93.7v3.2M366.7 90.2h3.2M368.3 88.6v3.2M351.7 101.6h3.2M353.3 100v3.2M338.8 89.2h3.2M340.4 87.6v3.2M352.2 99.5h3.2M353.8 97.9v3.2M361.6 106.6h3.2M363.2 105v3.2M361.2 99.5h3.2M362.8 97.9v3.2M343.8 97.8h3.2M345.4 96.2v3.2M366.7 109.4h3.2M368.3 107.8v3.2M363.8 98.2h3.2M365.4 96.6v3.2M361.3 97h3.2M362.9 95.4v3.2M367.6 100.6h3.2M369.2 99v3.2M364.3 101.6h3.2M365.9 100v3.2M363.2 103.7h3.2M364.8 102.1v3.2M356.8 90.1h3.2M358.4 88.5v3.2M361 100.2h3.2M362.6 98.6v3.2M349 103.6h3.2M350.6 102v3.2M359.1 94.3h3.2M360.7 92.7v3.2M360.9 96.6h3.2M362.5 95v3.2M357.3 92.1h3.2M358.9 90.5v3.2M354.7 102.3h3.2M356.3 100.7v3.2M364.4 99h3.2M366 97.4v3.2M355.5 102.4h3.2M357.1 100.8v3.2M355.7 96h3.2M357.3 94.4v3.2M360.3 105.8h3.2M361.9 104.2v3.2M360.9 98.4h3.2M362.5 96.8v3.2M350.1 95.2h3.2M351.7 93.6v3.2M355.5 101.2h3.2M357.1 99.6v3.2M363.7 92.3h3.2M365.3 90.7v3.2M352.4 97h3.2M354 95.4v3.2M351 87h3.2M352.6 85.4v3.2M353.9 93h3.2M355.5 91.4v3.2M352.7 95h3.2M354.3 93.4v3.2M374.5 113h3.2M376.1 111.4v3.2M354.4 96.7h3.2M356 95.1v3.2M357 102.9h3.2M358.6 101.3v3.2M374 98.9h3.2M375.6 97.3v3.2M345.2 94.8h3.2M346.8 93.2v3.2M344.6 93.2h3.2M346.2 91.6v3.2M353.3 98.6h3.2M354.9 97v3.2M367.2 98.7h3.2M368.8 97.1v3.2M347.1 108.4h3.2M348.7 106.8v3.2M366.6 95.4h3.2M368.2 93.8v3.2M351.5 94.8h3.2M353.1 93.2v3.2M361.4 95.9h3.2M363 94.3v3.2M340.5 101h3.2M342.1 99.4v3.2M364.5 95.4h3.2M366.1 93.8v3.2M364.3 112.5h3.2M365.9 110.9v3.2M358.9 96.7h3.2M360.5 95.1v3.2M377 104.5h3.2M378.6 102.9v3.2M355.2 99.2h3.2M356.8 97.6v3.2M364.4 101.7h3.2M366 100.1v3.2M366.4 103.6h3.2M368 102v3.2M359.7 102.2h3.2M361.3 100.6v3.2M358.9 103.1h3.2M360.5 101.5v3.2M345.5 93.5h3.2M347.1 91.9v3.2M360 102.3h3.2M361.6 100.7v3.2M359.2 94.1h3.2M360.8 92.5v3.2M350.2 100h3.2M351.8 98.4v3.2M361.8 96.5h3.2M363.4 94.9v3.2M355.1 110.6h3.2M356.7 109v3.2M367.1 97.6h3.2M368.7 96v3.2M357.8 100.9h3.2M359.4 99.3v3.2M359.7 101.6h3.2M361.3 100v3.2M349.9 103.3h3.2M351.5 101.7v3.2M353.1 102.6h3.2M354.7 101v3.2M348.9 96h3.2M350.5 94.4v3.2M347.7 95.8h3.2M349.3 94.2v3.2M350 97.5h3.2M351.6 95.9v3.2M368.1 98.3h3.2M369.7 96.7v3.2M352.1 99.1h3.2M353.7 97.5v3.2M358.8 108.6h3.2M360.4 107v3.2M353 98.5h3.2M354.6 96.9v3.2M354.1 98.9h3.2M355.7 97.3v3.2M363.2 95.3h3.2M364.8 93.7v3.2M364.5 96.2h3.2M366.1 94.6v3.2M355.5 99.5h3.2M357.1 97.9v3.2M355.6 101h3.2M357.2 99.4v3.2M356.3 108.6h3.2M357.9 107v3.2M355.1 99.5h3.2M356.7 97.9v3.2M350.3 99.5h3.2M351.9 97.9v3.2M361.6 100.2h3.2M363.2 98.6v3.2M373.4 113.3h3.2M375 111.7v3.2M356.1 109.1h3.2M357.7 107.5v3.2M365.1 85.2h3.2M366.7 83.6v3.2M338.7 98.7h3.2M340.3 97.1v3.2M361.6 101h3.2M363.2 99.4v3.2M361.8 111.4h3.2M363.4 109.8v3.2M364.1 97.4h3.2M365.7 95.8v3.2M357.8 102.5h3.2M359.4 100.9v3.2M362.5 102h3.2M364.1 100.4v3.2M359.4 102.1h3.2M361 100.5v3.2M340.6 99.5h3.2M342.2 97.9v3.2M359.2 95.3h3.2M360.8 93.7v3.2M351 99.5h3.2M352.6 97.9v3.2M362.3 98.6h3.2M363.9 97v3.2M367.1 88.7h3.2M368.7 87.1v3.2M350.8 109.6h3.2M352.4 108v3.2M364.2 91.2h3.2M365.8 89.6v3.2M364.7 95h3.2M366.3 93.4v3.2M353 103.2h3.2M354.6 101.6v3.2M364.4 104.2h3.2M366 102.6v3.2M343.9 104.7h3.2M345.5 103.1v3.2M376.6 89.1h3.2M378.2 87.5v3.2M352.4 103.3h3.2M354 101.7v3.2M359.4 103.4h3.2M361 101.8v3.2M367.6 99.8h3.2M369.2 98.2v3.2M349.4 92.4h3.2M351 90.8v3.2M353.2 98.2h3.2M354.8 96.6v3.2M357.6 101h3.2M359.2 99.4v3.2M360.1 103.1h3.2M361.7 101.5v3.2M343.7 111.2h3.2M345.3 109.6v3.2M348 103.4h3.2M349.6 101.8v3.2M357.5 99.1h3.2M359.1 97.5v3.2M361.9 98.7h3.2M363.5 97.1v3.2M351.6 103.2h3.2M353.2 101.6v3.2M341.6 100.3h3.2M343.2 98.7v3.2M361.3 96.5h3.2M362.9 94.9v3.2M356.7 100.3h3.2M358.3 98.7v3.2M364.8 99.3h3.2M366.4 97.7v3.2M363.3 96.2h3.2M364.9 94.6v3.2M359.3 92.4h3.2M360.9 90.8v3.2M353.3 101.3h3.2M354.9 99.7v3.2M351.5 103.6h3.2M353.1 102v3.2M369.5 89.9h3.2M371.1 88.3v3.2M357.8 96.3h3.2M359.4 94.7v3.2M366.6 95h3.2M368.2 93.4v3.2M366.8 106.1h3.2M368.4 104.5v3.2M352.8 96.9h3.2M354.4 95.3v3.2M368.6 98.8h3.2M370.2 97.2v3.2M351.1 101.3h3.2M352.7 99.7v3.2M352.6 104h3.2M354.2 102.4v3.2M369.1 102.7h3.2M370.7 101.1v3.2M357.8 87.8h3.2M359.4 86.2v3.2M366.7 97.6h3.2M368.3 96v3.2M353 97.2h3.2M354.6 95.6v3.2M370 96h3.2M371.6 94.4v3.2M367.2 98.8h3.2M368.8 97.2v3.2M361.6 100.4h3.2M363.2 98.8v3.2M360.9 92.4h3.2M362.5 90.8v3.2M346.8 99.7h3.2M348.4 98.1v3.2M359.5 102.4h3.2M361.1 100.8v3.2M355.3 95.1h3.2M356.9 93.5v3.2M372.9 96h3.2M374.5 94.4v3.2M360.1 107.7h3.2M361.7 106.1v3.2M372.3 98.9h3.2M373.9 97.3v3.2M357.4 105.3h3.2M359 103.7v3.2M357.2 105.2h3.2M358.8 103.6v3.2M358.2 96.9h3.2M359.8 95.3v3.2M357.9 97.9h3.2M359.5 96.3v3.2M351.2 91.7h3.2M352.8 90.1v3.2M352.7 109.1h3.2M354.3 107.5v3.2M356.2 103.4h3.2M357.8 101.8v3.2M350 101.3h3.2M351.6 99.7v3.2M359.9 105.7h3.2M361.5 104.1v3.2M356.6 91.7h3.2M358.2 90.1v3.2M362.8 100.2h3.2M364.4 98.6v3.2M358.6 100h3.2M360.2 98.4v3.2M357.3 95.4h3.2M358.9 93.8v3.2M357 112.2h3.2M358.6 110.6v3.2M357.5 104.1h3.2M359.1 102.5v3.2M362.6 102.6h3.2M364.2 101v3.2M358.8 87.7h3.2M360.4 86.1v3.2M349.7 105.4h3.2M351.3 103.8v3.2M346.9 112.2h3.2M348.5 110.6v3.2M343.4 97.4h3.2M345 95.8v3.2M352.8 109.4h3.2M354.4 107.8v3.2M346.4 96.1h3.2M348 94.5v3.2M351.8 101.3h3.2M353.4 99.7v3.2M360.2 92.1h3.2M361.8 90.5v3.2M372.4 93.8h3.2M374 92.2v3.2M358.7 98.4h3.2M360.3 96.8v3.2M371.3 91.7h3.2M372.9 90.1v3.2M355.3 96.9h3.2M356.9 95.3v3.2M359.8 99.1h3.2M361.4 97.5v3.2M353.9 106.5h3.2M355.5 104.9v3.2M353.6 107.6h3.2M355.2 106v3.2M366.9 96.5h3.2M368.5 94.9v3.2M348.5 91.9h3.2M350.1 90.3v3.2M364.4 109.6h3.2M366 108v3.2M371.6 95h3.2M373.2 93.4v3.2M373.3 105.9h3.2M374.9 104.3v3.2M361.7 97.1h3.2M363.3 95.5v3.2M359.2 98.4h3.2M360.8 96.8v3.2M365.7 107.4h3.2M367.3 105.8v3.2M348.2 106.8h3.2M349.8 105.2v3.2M353.4 102.6h3.2M355 101v3.2M360.4 97.9h3.2M362 96.3v3.2M357.9 103h3.2M359.5 101.4v3.2M354.3 94.3h3.2M355.9 92.7v3.2M363.5 98.8h3.2M365.1 97.2v3.2M355.2 91h3.2M356.8 89.4v3.2M353.2 95.9h3.2M354.8 94.3v3.2M366.4 100.8h3.2M368 99.2v3.2M363.9 105.3h3.2M365.5 103.7v3.2M365.3 98.3h3.2M366.9 96.7v3.2M345.6 95.8h3.2M347.2 94.2v3.2M350.9 92.5h3.2M352.5 90.9v3.2M352.5 100.2h3.2M354.1 98.6v3.2M359.8 101.1h3.2M361.4 99.5v3.2M359.6 102.3h3.2M361.2 100.7v3.2M362.8 99.3h3.2M364.4 97.7v3.2M359.3 114.1h3.2M360.9 112.5v3.2M366.5 99.2h3.2M368.1 97.6v3.2M344.1 98.8h3.2M345.7 97.2v3.2M361.2 93.6h3.2M362.8 92v3.2M349.4 91.1h3.2M351 89.5v3.2M356.5 86.5h3.2M358.1 84.9v3.2M356.5 95.7h3.2M358.1 94.1v3.2M354.9 105.3h3.2M356.5 103.7v3.2M366 94.5h3.2M367.6 92.9v3.2M369.3 94.8h3.2M370.9 93.2v3.2M353.3 108.3h3.2M354.9 106.7v3.2M352.7 103h3.2M354.3 101.4v3.2M351.5 96.2h3.2M353.1 94.6v3.2M360.1 100.8h3.2M361.7 99.2v3.2M359 100.1h3.2M360.6 98.5v3.2M359.3 95.3h3.2M360.9 93.7v3.2M364.9 103h3.2M366.5 101.4v3.2M346.2 91.7h3.2M347.8 90.1v3.2M358.5 93.4h3.2M360.1 91.8v3.2M345.2 101.1h3.2M346.8 99.5v3.2M357.9 107.1h3.2M359.5 105.5v3.2M353.7 95.5h3.2M355.3 93.9v3.2M365.8 90.8h3.2M367.4 89.2v3.2M351.1 106.9h3.2M352.7 105.3v3.2M361.6 94.3h3.2M363.2 92.7v3.2M359.1 106.3h3.2M360.7 104.7v3.2M363.6 95.1h3.2M365.2 93.5v3.2M361.9 102h3.2M363.5 100.4v3.2M360 95.1h3.2M361.6 93.5v3.2M353.4 109.2h3.2M355 107.6v3.2M360.2 96.8h3.2M361.8 95.2v3.2M357.8 94.6h3.2M359.4 93v3.2M353.2 99.8h3.2M354.8 98.2v3.2M355.3 96.3h3.2M356.9 94.7v3.2M369.8 100.7h3.2M371.4 99.1v3.2M373.3 91.2h3.2M374.9 89.6v3.2M363.7 96.2h3.2M365.3 94.6v3.2M371.1 100.3h3.2M372.7 98.7v3.2M356.8 105h3.2M358.4 103.4v3.2M361.2 92.2h3.2M362.8 90.6v3.2M361.7 97.1h3.2M363.3 95.5v3.2M356.1 98.5h3.2M357.7 96.9v3.2M346.8 93.7h3.2M348.4 92.1v3.2M354.5 105.3h3.2M356.1 103.7v3.2M352 103.8h3.2M353.6 102.2v3.2M364.2 93.7h3.2M365.8 92.1v3.2M347.4 94.4h3.2M349 92.8v3.2M364.4 102.5h3.2M366 100.9v3.2M346.4 103.3h3.2M348 101.7v3.2M352.8 97.5h3.2M354.4 95.9v3.2M354.9 110.2h3.2M356.5 108.6v3.2M359.4 107.6h3.2M361 106v3.2M364.5 105.8h3.2M366.1 104.2v3.2M352.4 103.9h3.2M354 102.3v3.2M353.5 92.4h3.2M355.1 90.8v3.2M364.1 96.1h3.2M365.7 94.5v3.2M360.1 107.6h3.2M361.7 106v3.2M353.7 102.3h3.2M355.3 100.7v3.2M350.2 96.6h3.2M351.8 95v3.2M352 103.2h3.2M353.6 101.6v3.2M349.7 110.4h3.2M351.3 108.8v3.2M362.2 92.2h3.2M363.8 90.6v3.2M359 104.6h3.2M360.6 103v3.2M337.1 98.4h3.2M338.7 96.8v3.2M366.9 97.8h3.2M368.5 96.2v3.2M364.7 91.4h3.2M366.3 89.8v3.2M366.2 101.7h3.2M367.8 100.1v3.2M365.6 95.2h3.2M367.2 93.6v3.2M346 101.5h3.2M347.6 99.9v3.2M346.9 99.9h3.2M348.5 98.3v3.2M362 105.1h3.2M363.6 103.5v3.2M342.1 92.4h3.2M343.7 90.8v3.2M360.5 91.5h3.2M362.1 89.9v3.2M347.6 93.7h3.2M349.2 92.1v3.2M373.4 88.6h3.2M375 87v3.2M356.1 97.9h3.2M357.7 96.3v3.2M356.5 94h3.2M358.1 92.4v3.2M365.5 98.9h3.2M367.1 97.3v3.2M347.3 95.4h3.2M348.9 93.8v3.2M354.1 96h3.2M355.7 94.4v3.2M359.7 90.7h3.2M361.3 89.1v3.2M366.3 101.8h3.2M367.9 100.2v3.2M360.3 89.9h3.2M361.9 88.3v3.2M353.6 97h3.2M355.2 95.4v3.2M366.7 92.6h3.2M368.3 91v3.2M361.6 106.4h3.2M363.2 104.8v3.2M348.1 98h3.2M349.7 96.4v3.2M360.6 85.7h3.2M362.2 84.1v3.2M351.1 93.3h3.2M352.7 91.7v3.2M363.5 108.3h3.2M365.1 106.7v3.2M351.4 98.5h3.2M353 96.9v3.2M353.9 100.2h3.2M355.5 98.6v3.2M361.2 103.7h3.2M362.8 102.1v3.2M361.2 102.8h3.2M362.8 101.2v3.2M353.5 96.5h3.2M355.1 94.9v3.2M353.3 97.8h3.2M354.9 96.2v3.2M369.8 99.2h3.2M371.4 97.6v3.2M356.6 95.4h3.2M358.2 93.8v3.2M354.9 93.6h3.2M356.5 92v3.2M347.9 96h3.2M349.5 94.4v3.2M353.8 103.6h3.2M355.4 102v3.2M371.1 103.9h3.2M372.7 102.3v3.2M371 95.8h3.2M372.6 94.2v3.2M368.7 104.6h3.2M370.3 103v3.2M366.8 91.6h3.2M368.4 90v3.2M356.8 100.1h3.2M358.4 98.5v3.2M376.3 98.4h3.2M377.9 96.8v3.2M354.5 102.7h3.2M356.1 101.1v3.2M361 97.6h3.2M362.6 96v3.2M359 90.1h3.2M360.6 88.5v3.2M355.2 96.8h3.2M356.8 95.2v3.2M368.7 104.7h3.2M370.3 103.1v3.2M365.5 89.6h3.2M367.1 88v3.2M347.4 105.2h3.2M349 103.6v3.2M349.8 109.2h3.2M351.4 107.6v3.2M361.1 109.3h3.2M362.7 107.7v3.2M361.4 91.6h3.2M363 90v3.2M345.4 101.1h3.2M347 99.5v3.2M343.1 95.2h3.2M344.7 93.6v3.2M352.1 100.8h3.2M353.7 99.2v3.2M358.1 96.4h3.2M359.7 94.8v3.2M355 99.3h3.2M356.6 97.7v3.2M353.5 98.7h3.2M355.1 97.1v3.2M348.8 99h3.2M350.4 97.4v3.2M343 102h3.2M344.6 100.4v3.2M372.2 98.9h3.2M373.8 97.3v3.2M348.1 98h3.2M349.7 96.4v3.2M350.3 108.2h3.2M351.9 106.6v3.2M352.1 95.4h3.2M353.7 93.8v3.2M360.6 99.9h3.2M362.2 98.3v3.2M350.6 105.1h3.2M352.2 103.5v3.2M367.9 98.1h3.2M369.5 96.5v3.2M350.4 110.7h3.2M352 109.1v3.2M347.3 86.1h3.2M348.9 84.5v3.2M348.9 99.8h3.2M350.5 98.2v3.2M359.3 100.2h3.2M360.9 98.6v3.2M355.5 106.7h3.2M357.1 105.1v3.2M349.7 90.3h3.2M351.3 88.7v3.2M351.9 94.8h3.2M353.5 93.2v3.2M344.8 100.8h3.2M346.4 99.2v3.2M359.6 93.8h3.2M361.2 92.2v3.2M349.1 96.2h3.2M350.7 94.6v3.2M360.6 103.3h3.2M362.2 101.7v3.2M361.3 104.2h3.2M362.9 102.6v3.2M351.6 99.5h3.2M353.2 97.9v3.2M337.1 99.9h3.2M338.7 98.3v3.2M350.1 107.2h3.2M351.7 105.6v3.2M354.4 95.3h3.2M356 93.7v3.2M354.6 92.6h3.2M356.2 91v3.2M348.9 106.4h3.2M350.5 104.8v3.2M369.4 97.2h3.2M371 95.6v3.2M364.8 103.8h3.2M366.4 102.2v3.2M363.8 98h3.2M365.4 96.4v3.2M362.6 99.2h3.2M364.2 97.6v3.2M366.8 102.8h3.2M368.4 101.2v3.2M350.3 107.3h3.2M351.9 105.7v3.2M366.5 103.3h3.2M368.1 101.7v3.2M349.7 104.4h3.2M351.3 102.8v3.2M354.3 106.2h3.2M355.9 104.6v3.2M355.5 102.7h3.2M357.1 101.1v3.2M353.5 104.5h3.2M355.1 102.9v3.2M357.9 101.8h3.2M359.5 100.2v3.2M358.5 98h3.2M360.1 96.4v3.2M360.2 111.1h3.2M361.8 109.5v3.2M353.6 103.6h3.2M355.2 102v3.2M363.5 107.8h3.2M365.1 106.2v3.2M352.2 100.9h3.2M353.8 99.3v3.2M355.1 94.1h3.2M356.7 92.5v3.2M354.3 94.2h3.2M355.9 92.6v3.2M346.5 109.1h3.2M348.1 107.5v3.2M366.9 97h3.2M368.5 95.4v3.2M361.4 98.7h3.2M363 97.1v3.2M361.3 105.9h3.2M362.9 104.3v3.2M364.9 102.2h3.2M366.5 100.6v3.2M365.1 98.9h3.2M366.7 97.3v3.2M342.7 106.2h3.2M344.3 104.6v3.2M366.2 100.1h3.2M367.8 98.5v3.2M354.7 98.1h3.2M356.3 96.5v3.2M354.4 102.3h3.2M356 100.7v3.2M328.9 95.3h3.2M330.5 93.7v3.2M361.2 95.9h3.2M362.8 94.3v3.2M327.1 92.7h3.2M328.7 91.1v3.2M372.5 96.7h3.2M374.1 95.1v3.2M327.5 83.7h3.2M329.1 82.1v3.2M334.4 94.6h3.2M336 93v3.2M364.3 95.1h3.2M365.9 93.5v3.2M366.7 93.7h3.2M368.3 92.1v3.2M363 88.2h3.2M364.6 86.6v3.2M324.8 106h3.2M326.4 104.4v3.2M357.9 98.2h3.2M359.5 96.6v3.2M376.3 104.4h3.2M377.9 102.8v3.2M335.1 83.9h3.2M336.7 82.3v3.2M320.4 98.8h3.2M322 97.2v3.2M320.6 104.4h3.2M322.2 102.8v3.2M324.5 107.7h3.2M326.1 106.1v3.2M338.6 96.6h3.2M340.2 95v3.2M372 100.7h3.2M373.6 99.1v3.2M349.2 89.1h3.2M350.8 87.5v3.2M354.6 93.3h3.2M356.2 91.7v3.2M346.3 98h3.2M347.9 96.4v3.2M368.1 99.9h3.2M369.7 98.3v3.2M341.8 102.8h3.2M343.4 101.2v3.2M345.1 104.7h3.2M346.7 103.1v3.2M343.1 91.8h3.2M344.7 90.2v3.2M367.4 110.5h3.2M369 108.9v3.2M354.1 96.7h3.2M355.7 95.1v3.2M378.8 93.4h3.2M380.4 91.8v3.2M362.4 92.7h3.2M364 91.1v3.2M356.5 102.2h3.2M358.1 100.6v3.2M379.1 90.8h3.2M380.7 89.2v3.2M338.4 105.2h3.2M340 103.6v3.2M345.7 90.2h3.2M347.3 88.6v3.2M361.3 100.9h3.2M362.9 99.3v3.2M356.3 84.8h3.2M357.9 83.2v3.2M336.9 104.6h3.2M338.5 103v3.2M319.8 96.7h3.2M321.4 95.1v3.2M355.3 87.9h3.2M356.9 86.3v3.2M369.3 94.3h3.2M370.9 92.7v3.2M370.3 97.5h3.2M371.9 95.9v3.2M369 89.2h3.2M370.6 87.6v3.2M336.3 103.5h3.2M337.9 101.9v3.2M371.4 91.9h3.2M373 90.3v3.2M375.2 107.1h3.2M376.8 105.5v3.2M340.8 87.5h3.2M342.4 85.9v3.2M368.1 91h3.2M369.7 89.4v3.2M331.9 96h3.2M333.5 94.4v3.2M333.9 110.5h3.2M335.5 108.9v3.2M356.6 99.8h3.2M358.2 98.2v3.2M332.3 103.9h3.2M333.9 102.3v3.2M335.2 95.9h3.2M336.8 94.3v3.2M347.6 109.8h3.2M349.2 108.2v3.2M325 91.3h3.2M326.6 89.7v3.2M333.8 108.6h3.2M335.4 107v3.2M354.9 83.1h3.2M356.5 81.5v3.2M351.4 105.8h3.2M353 104.2v3.2M348.6 100.3h3.2M350.2 98.7v3.2M331.4 98.7h3.2M333 97.1v3.2M330.7 98.3h3.2M332.3 96.7v3.2M354 103.1h3.2M355.6 101.5v3.2M344.1 100.4h3.2M345.7 98.8v3.2M322.4 96.5h3.2M324 94.9v3.2M380.3 98.6h3.2M381.9 97v3.2M358.1 93.4h3.2M359.7 91.8v3.2M367.5 90.2h3.2M369.1 88.6v3.2M340.7 87.3h3.2M342.3 85.7v3.2M351.3 94h3.2M352.9 92.4v3.2M379.8 95.8h3.2M381.4 94.2v3.2M372.3 106.1h3.2M373.9 104.5v3.2M335.6 95.1h3.2M337.2 93.5v3.2M367 110.5h3.2M368.6 108.9v3.2M366.3 87.5h3.2M367.9 85.9v3.2M369.4 90.2h3.2M371 88.6v3.2M322 97.4h3.2M323.6 95.8v3.2M331.9 94.6h3.2M333.5 93v3.2M322.8 93.1h3.2M324.4 91.5v3.2M353.6 90.1h3.2M355.2 88.5v3.2M377.2 102.3h3.2M378.8 100.7v3.2M375 86.3h3.2M376.6 84.7v3.2M343.8 91.9h3.2M345.4 90.3v3.2M327 90.2h3.2M328.6 88.6v3.2M354 97.5h3.2M355.6 95.9v3.2M358.6 84.8h3.2M360.2 83.2v3.2M343.6 99.2h3.2M345.2 97.6v3.2M346.9 85.1h3.2M348.5 83.5v3.2M379.9 78.9h3.2M381.5 77.3v3.2M333.2 90.2h3.2M334.8 88.6v3.2M341.1 94.6h3.2M342.7 93v3.2M374.5 83.7h3.2M376.1 82.1v3.2M322.6 104.4h3.2M324.2 102.8v3.2M367.5 98.8h3.2M369.1 97.2v3.2M379.5 106.9h3.2M381.1 105.3v3.2M323.1 88h3.2M324.7 86.4v3.2M376.7 85.7h3.2M378.3 84.1v3.2M360.8 99.2h3.2M362.4 97.6v3.2M365.7 86.1h3.2M367.3 84.5v3.2M326.1 98.7h3.2M327.7 97.1v3.2M327.2 90.6h3.2M328.8 89v3.2M348.9 93.2h3.2M350.5 91.6v3.2M328.4 91h3.2M330 89.4v3.2M360.9 83.6h3.2M362.5 82v3.2M331.6 95h3.2M333.2 93.4v3.2M321.9 91.1h3.2M323.5 89.5v3.2M376.4 98.4h3.2M378 96.8v3.2M372.3 92.7h3.2M373.9 91.1v3.2M346.9 98.8h3.2M348.5 97.2v3.2M325.6 82.5h3.2M327.2 80.9v3.2M357.9 102.5h3.2M359.5 100.9v3.2M347.2 103.8h3.2M348.8 102.2v3.2M348.7 83.7h3.2M350.3 82.1v3.2M357.9 92.6h3.2M359.5 91v3.2M323.2 91.7h3.2M324.8 90.1v3.2M363 100.1h3.2M364.6 98.5v3.2M372.6 97.5h3.2M374.2 95.9v3.2M335.9 99.9h3.2M337.5 98.3v3.2M336.2 93.6h3.2M337.8 92v3.2M370.7 98.4h3.2M372.3 96.8v3.2M349.5 91.9h3.2M351.1 90.3v3.2M339 92.9h3.2M340.6 91.3v3.2M379.1 98.2h3.2M380.7 96.6v3.2M323.2 86.9h3.2M324.8 85.3v3.2M332.5 103.1h3.2M334.1 101.5v3.2M348.7 97.4h3.2M350.3 95.8v3.2M332 90.1h3.2M333.6 88.5v3.2M341.8 77.1h3.2M343.4 75.5v3.2M375.9 97.6h3.2M377.5 96v3.2M325.6 100.1h3.2M327.2 98.5v3.2M323.2 79.9h3.2M324.8 78.3v3.2M363.8 101.9h3.2M365.4 100.3v3.2M320.7 77.1h3.2M322.3 75.5v3.2M368.7 98.3h3.2M370.3 96.7v3.2M319.8 92.4h3.2M321.4 90.8v3.2M370.2 100.9h3.2M371.8 99.3v3.2M346.1 96.8h3.2M347.7 95.2v3.2M375.1 94h3.2M376.7 92.4v3.2M328.1 86.1h3.2M329.7 84.5v3.2M330.6 94.4h3.2M332.2 92.8v3.2M331.7 108.2h3.2M333.3 106.6v3.2M324.5 86.9h3.2M326.1 85.3v3.2M349.8 90.4h3.2M351.4 88.8v3.2M336.3 93.1h3.2M337.9 91.5v3.2M362.7 85.7h3.2M364.3 84.1v3.2M369 100.6h3.2M370.6 99v3.2M323.7 98.6h3.2M325.3 97v3.2M364.2 106.5h3.2M365.8 104.9v3.2M323.1 89.2h3.2M324.7 87.6v3.2M368.9 103.7h3.2M370.5 102.1v3.2M372.2 83.1h3.2M373.8 81.5v3.2M349.6 79h3.2M351.2 77.4v3.2M348.7 94.4h3.2M350.3 92.8v3.2M372.7 96.5h3.2M374.3 94.9v3.2M370.2 91h3.2M371.8 89.4v3.2M342 92.1h3.2M343.6 90.5v3.2M355.8 89.6h3.2M357.4 88v3.2M320 104.4h3.2M321.6 102.8v3.2M351 97.1h3.2M352.6 95.5v3.2M327 99.2h3.2M328.6 97.6v3.2M372.3 110h3.2M373.9 108.4v3.2M339.2 97.9h3.2M340.8 96.3v3.2M365.3 103.4h3.2M366.9 101.8v3.2M323.4 82.5h3.2M325 80.9v3.2M349.8 109.9h3.2M351.4 108.3v3.2M350.9 105.5h3.2M352.5 103.9v3.2M321 97.9h3.2M322.6 96.3v3.2M378.5 95.2h3.2M380.1 93.6v3.2M325.9 91.1h3.2M327.5 89.5v3.2M334.9 95.2h3.2M336.5 93.6v3.2M325.6 97.8h3.2M327.2 96.2v3.2M362.2 95.5h3.2M363.8 93.9v3.2M356.1 94.6h3.2M357.7 93v3.2M354.7 108h3.2M356.3 106.4v3.2M326 97.8h3.2M327.6 96.2v3.2M372.5 96.5h3.2M374.1 94.9v3.2M327.2 98.3h3.2M328.8 96.7v3.2M349.7 102.3h3.2M351.3 100.7v3.2M327.1 96h3.2M328.7 94.4v3.2M344.3 89.2h3.2M345.9 87.6v3.2M372 88.1h3.2M373.6 86.5v3.2M328.6 107.6h3.2M330.2 106v3.2M329.7 101.7h3.2M331.3 100.1v3.2M369.9 88.9h3.2M371.5 87.3v3.2M345.2 99h3.2M346.8 97.4v3.2M370.7 103.7h3.2M372.3 102.1v3.2M376.9 97.3h3.2M378.5 95.7v3.2M366.9 99.1h3.2M368.5 97.5v3.2M340.1 91.1h3.2M341.7 89.5v3.2M346.2 82h3.2M347.8 80.4v3.2M375.1 97.7h3.2M376.7 96.1v3.2M369.2 94.5h3.2M370.8 92.9v3.2M351.1 98.1h3.2M352.7 96.5v3.2M377.9 90.6h3.2M379.5 89v3.2M345.3 98.4h3.2M346.9 96.8v3.2M358.1 102.3h3.2M359.7 100.7v3.2M323.9 88.8h3.2M325.5 87.2v3.2M346 97.6h3.2M347.6 96v3.2M328.2 96.1h3.2M329.8 94.5v3.2M378.6 93h3.2M380.2 91.4v3.2M358.2 110.5h3.2M359.8 108.9v3.2M368.8 83.9h3.2M370.4 82.3v3.2M321.8 106.8h3.2M323.4 105.2v3.2M358.7 97.2h3.2M360.3 95.6v3.2M336.3 84.3h3.2M337.9 82.7v3.2M352.6 86.3h3.2M354.2 84.7v3.2M334.9 101h3.2M336.5 99.4v3.2M351.3 110.5h3.2M352.9 108.9v3.2M337.2 88.3h3.2M338.8 86.7v3.2M338.3 98.4h3.2M339.9 96.8v3.2M355.8 99.2h3.2M357.4 97.6v3.2M377.8 102.2h3.2M379.4 100.6v3.2M348 96.5h3.2M349.6 94.9v3.2M352.1 93.6h3.2M353.7 92v3.2M327.7 92.8h3.2M329.3 91.2v3.2M337.5 101.4h3.2M339.1 99.8v3.2M334.5 92.4h3.2M336.1 90.8v3.2M325 110.3h3.2M326.6 108.7v3.2M356.7 100.3h3.2M358.3 98.7v3.2M354.3 99.1h3.2M355.9 97.5v3.2M362.8 100.3h3.2M364.4 98.7v3.2M347.7 106.3h3.2M349.3 104.7v3.2M348.2 99.2h3.2M349.8 97.6v3.2M343.4 85h3.2M345 83.4v3.2M340.2 81.4h3.2M341.8 79.8v3.2M345.9 80.4h3.2M347.5 78.8v3.2M332.8 83.5h3.2M334.4 81.9v3.2M362.9 85h3.2M364.5 83.4v3.2M352.1 81.6h3.2M353.7 80v3.2M342.4 75h3.2M344 73.4v3.2M342.8 77.9h3.2M344.4 76.3v3.2M338 87.3h3.2M339.6 85.7v3.2M363.2 82.3h3.2M364.8 80.7v3.2M334.6 83h3.2M336.2 81.4v3.2M347.9 78.4h3.2M349.5 76.8v3.2M336.2 85.2h3.2M337.8 83.6v3.2M366.3 78.3h3.2M367.9 76.7v3.2M337.8 83.7h3.2M339.4 82.1v3.2M344.8 79.2h3.2M346.4 77.6v3.2M354.2 76.8h3.2M355.8 75.2v3.2M361.4 81.3h3.2M363 79.7v3.2M358.5 78.3h3.2M360.1 76.7v3.2M359.3 81.9h3.2M360.9 80.3v3.2M360.2 78.7h3.2M361.8 77.1v3.2M364.8 86.5h3.2M366.4 84.9v3.2M363.2 88.2h3.2M364.8 86.6v3.2M359.5 80.4h3.2M361.1 78.8v3.2M350 75.3h3.2M351.6 73.7v3.2M352.6 82.6h3.2M354.2 81v3.2M360.1 76.5h3.2M361.7 74.9v3.2M353.9 83.1h3.2M355.5 81.5v3.2M348.4 82.1h3.2M350 80.5v3.2M358 84.3h3.2M359.6 82.7v3.2M346.2 80.8h3.2M347.8 79.2v3.2M346 83.9h3.2M347.6 82.3v3.2M360.2 76.8h3.2M361.8 75.2v3.2M350.1 82.3h3.2M351.7 80.7v3.2M338.9 84.1h3.2M340.5 82.5v3.2M337.5 80.5h3.2M339.1 78.9v3.2M353 87h3.2M354.6 85.4v3.2M365 83.9h3.2M366.6 82.3v3.2M362.2 77h3.2M363.8 75.4v3.2M366.3 85.5h3.2M367.9 83.9v3.2M347.5 76h3.2M349.1 74.4v3.2M332.7 87.6h3.2M334.3 86v3.2M352.4 81.6h3.2M354 80v3.2M365 77.9h3.2M366.6 76.3v3.2M351.4 74.9h3.2M353 73.3v3.2M350.7 81.3h3.2M352.3 79.7v3.2M356.6 83h3.2M358.2 81.4v3.2M345 80.3h3.2M346.6 78.7v3.2M344.8 75.5h3.2M346.4 73.9v3.2M356.3 81.2h3.2M357.9 79.6v3.2M317.2 116.1h3.2M318.8 114.5v3.2M357.7 116.1h3.2M359.3 114.5v3.2M352.6 116.1h3.2M354.2 114.5v3.2M355.1 116.1h3.2M356.7 114.5v3.2M322.2 116.1h3.2M323.8 114.5v3.2M332.4 116.1h3.2M334 114.5v3.2M357.7 116.1h3.2M359.3 114.5v3.2M362.7 116.1h3.2M364.3 114.5v3.2M355.1 116.1h3.2M356.7 114.5v3.2M360.2 116.1h3.2M361.8 114.5v3.2M350.1 116.1h3.2M351.7 114.5v3.2M312.1 116.1h3.2M313.7 114.5v3.2M327.3 116.1h3.2M328.9 114.5v3.2M352.6 116.1h3.2M354.2 114.5v3.2M350.1 116.1h3.2M351.7 114.5v3.2M352.6 116.1h3.2M354.2 114.5v3.2M312.1 116.1h3.2M313.7 114.5v3.2M347.5 116.1h3.2M349.1 114.5v3.2M327.3 116.1h3.2M328.9 114.5v3.2M317.2 116.1h3.2M318.8 114.5v3.2M347.5 116.1h3.2M349.1 114.5v3.2M350.1 116.1h3.2M351.7 114.5v3.2M357.7 116.1h3.2M359.3 114.5v3.2M327.3 116.1h3.2M328.9 114.5v3.2M347.5 116.1h3.2M349.1 114.5v3.2M332.4 116.1h3.2M334 114.5v3.2M332.4 116.1h3.2M334 114.5v3.2M357.7 116.1h3.2M359.3 114.5v3.2M327.3 116.1h3.2M328.9 114.5v3.2M307.1 116.1h3.2M308.7 114.5v3.2M317.2 116.1h3.2M318.8 114.5v3.2M352.6 116.1h3.2M354.2 114.5v3.2M307.1 116.1h3.2M308.7 114.5v3.2M357.7 116.1h3.2M359.3 114.5v3.2M299.5 116.1h3.2M301.1 114.5v3.2M299.5 116.1h3.2M301.1 114.5v3.2M347.5 116.1h3.2M349.1 114.5v3.2M299.5 116.1h3.2M301.1 114.5v3.2M347.5 116.1h3.2M349.1 114.5v3.2M355.1 116.1h3.2M356.7 114.5v3.2M317.2 116.1h3.2M318.8 114.5v3.2M299.5 116.1h3.2M301.1 114.5v3.2M299.5 116.1h3.2M301.1 114.5v3.2M332.4 116.1h3.2M334 114.5v3.2M327.3 116.1h3.2M328.9 114.5v3.2M348.7 108.3h3.2M350.3 106.7v3.2M350.6 108.3h3.2M352.2 106.7v3.2M341.1 108.3h3.2M342.7 106.7v3.2M353.6 108.3h3.2M355.2 106.7v3.2M349.8 108.3h3.2M351.4 106.7v3.2M365.2 108.3h3.2M366.8 106.7v3.2M351.3 108.3h3.2M352.9 106.7v3.2M345.9 108.3h3.2M347.5 106.7v3.2M336.4 108.3h3.2M338 106.7v3.2M337.5 108.3h3.2M339.1 106.7v3.2M357.3 108.3h3.2M358.9 106.7v3.2M335.9 108.3h3.2M337.5 106.7v3.2M335.7 108.3h3.2M337.3 106.7v3.2M338 108.3h3.2M339.6 106.7v3.2M349.5 108.3h3.2M351.1 106.7v3.2M359.4 108.3h3.2M361 106.7v3.2M352.5 108.3h3.2M354.1 106.7v3.2M358.9 108.3h3.2M360.5 106.7v3.2M334.4 108.3h3.2M336 106.7v3.2M332.8 108.3h3.2M334.4 106.7v3.2M357.7 108.3h3.2M359.3 106.7v3.2M343 108.3h3.2M344.6 106.7v3.2M355.9 108.3h3.2M357.5 106.7v3.2M344 108.3h3.2M345.6 106.7v3.2M337.9 108.3h3.2M339.5 106.7v3.2M341.1 108.3h3.2M342.7 106.7v3.2M335.6 108.3h3.2M337.2 106.7v3.2M362.1 108.3h3.2M363.7 106.7v3.2M351.5 108.3h3.2M353.1 106.7v3.2M343.8 108.3h3.2M345.4 106.7v3.2M347.2 108.3h3.2M348.8 106.7v3.2M345 108.3h3.2M346.6 106.7v3.2M334.2 108.3h3.2M335.8 106.7v3.2M361.6 108.3h3.2M363.2 106.7v3.2M351.5 108.3h3.2M353.1 106.7v3.2M288.8 139.5h3.2M290.4 137.9v3.2M317.2 139.5h3.2M318.8 137.9v3.2M319.7 139.5h3.2M321.3 137.9v3.2M322.2 139.5h3.2M323.8 137.9v3.2M324.8 139.5h3.2M326.4 137.9v3.2M332.4 139.5h3.2M334 137.9v3.2M350.1 139.5h3.2M351.7 137.9v3.2M352.6 139.5h3.2M354.2 137.9v3.2M353.9 139.5h3.2M355.5 137.9v3.2" stroke="#1010ff" stroke-width="0.75" fill="none"/>
<path d="M304.5 42.4a1.6 1.6 0 1 0 3.2 0a1.6 1.6 0 1 0-3.2 0M296 43.7a1.6 1.6 0 1 0 3.2 0a1.6 1.6 0 1 0-3.2 0M310.8 37.6a1.6 1.6 0 1 0 3.2 0a1.6 1.6 0 1 0-3.2 0M301.8 44.6a1.6 1.6 0 1 0 3.2 0a1.6 1.6 0 1 0-3.2 0M306.8 46.8a1.6 1.6 0 1 0 3.2 0a1.6 1.6 0 1 0-3.2 0M296.6 34.1a1.6 1.6 0 1 0 3.2 0a1.6 1.6 0 1 0-3.2 0M305 42.5a1.6 1.6 0 1 0 3.2 0a1.6 1.6 0 1 0-3.2 0M302.7 42.2a1.6 1.6 0 1 0 3.2 0a1.6 1.6 0 1 0-3.2 0M292.5 35.5a1.6 1.6 0 1 0 3.2 0a1.6 1.6 0 1 0-3.2 0M299.8 36.4a1.6 1.6 0 1 0 3.2 0a1.6 1.6 0 1 0-3.2 0M303.3 45.3a1.6 1.6 0 1 0 3.2 0a1.6 1.6 0 1 0-3.2 0M300 44.8a1.6 1.6 0 1 0 3.2 0a1.6 1.6 0 1 0-3.2 0M301.3 36.5a1.6 1.6 0 1 0 3.2 0a1.6 1.6 0 1 0-3.2 0M304.5 27.8a1.6 1.6 0 1 0 3.2 0a1.6 1.6 0 1 0-3.2 0M297.2 34.3a1.6 1.6 0 1 0 3.2 0a1.6 1.6 0 1 0-3.2 0M303.9 36.6a1.6 1.6 0 1 0 3.2 0a1.6 1.6 0 1 0-3.2 0M294.9 37.4a1.6 1.6 0 1 0 3.2 0a1.6 1.6 0 1 0-3.2 0M301.5 39.8a1.6 1.6 0 1 0 3.2 0a1.6 1.6 0 1 0-3.2 0M301.2 45.4a1.6 1.6 0 1 0 3.2 0a1.6 1.6 0 1 0-3.2 0M299.1 37.4a1.6 1.6 0 1 0 3.2 0a1.6 1.6 0 1 0-3.2 0M298.1 37.1a1.6 1.6 0 1 0 3.2 0a1.6 1.6 0 1 0-3.2 0M306.6 39.2a1.6 1.6 0 1 0 3.2 0a1.6 1.6 0 1 0-3.2 0M297.3 38.3a1.6 1.6 0 1 0 3.2 0a1.6 1.6 0 1 0-3.2 0M298.3 43.2a1.6 1.6 0 1 0 3.2 0a1.6 1.6 0 1 0-3.2 0M297.7 30.9a1.6 1.6 0 1 0 3.2 0a1.6 1.6 0 1 0-3.2 0M303 36.8a1.6 1.6 0 1 0 3.2 0a1.6 1.6 0 1 0-3.2 0M303.9 49.2a1.6 1.6 0 1 0 3.2 0a1.6 1.6 0 1 0-3.2 0M301.6 36.7a1.6 1.6 0 1 0 3.2 0a1.6 1.6 0 1 0-3.2 0M298.1 46.1a1.6 1.6 0 1 0 3.2 0a1.6 1.6 0 1 0-3.2 0M302.5 41.9a1.6 1.6 0 1 0 3.2 0a1.6 1.6 0 1 0-3.2 0M305 42.9a1.6 1.6 0 1 0 3.2 0a1.6 1.6 0 1 0-3.2 0M299.8 35.1a1.6 1.6 0 1 0 3.2 0a1.6 1.6 0 1 0-3.2 0M304.6 34.8a1.6 1.6 0 1 0 3.2 0a1.6 1.6 0 1 0-3.2 0M298.2 29.5a1.6 1.6 0 1 0 3.2 0a1.6 1.6 0 1 0-3.2 0M294.6 43.6a1.6 1.6 0 1 0 3.2 0a1.6 1.6 0 1 0-3.2 0M299.1 33.6a1.6 1.6 0 1 0 3.2 0a1.6 1.6 0 1 0-3.2 0M301.5 30.4a1.6 1.6 0 1 0 3.2 0a1.6 1.6 0 1 0-3.2 0M303.5 36.5a1.6 1.6 0 1 0 3.2 0a1.6 1.6 0 1 0-3.2 0M294.9 42.1a1.6 1.6 0 1 0 3.2 0a1.6 1.6 0 1 0-3.2 0M299.7 46.2a1.6 1.6 0 1 0 3.2 0a1.6 1.6 0 1 0-3.2 0M295.2 46.7a1.6 1.6 0 1 0 3.2 0a1.6 1.6 0 1 0-3.2 0M297 36a1.6 1.6 0 1 0 3.2 0a1.6 1.6 0 1 0-3.2 0M301.8 39.2a1.6 1.6 0 1 0 3.2 0a1.6 1.6 0 1 0-3.2 0M301.7 44.7a1.6 1.6 0 1 0 3.2 0a1.6 1.6 0 1 0-3.2 0M297.6 43.1a1.6 1.6 0 1 0 3.2 0a1.6 1.6 0 1 0-3.2 0M294.3 42.9a1.6 1.6 0 1 0 3.2 0a1.6 1.6 0 1 0-3.2 0M294.5 40.9a1.6 1.6 0 1 0 3.2 0a1.6 1.6 0 1 0-3.2 0M303.2 39.1a1.6 1.6 0 1 0 3.2 0a1.6 1.6 0 1 0-3.2 0M299.4 38.2a1.6 1.6 0 1 0 3.2 0a1.6 1.6 0 1 0-3.2 0M298.1 45.2a1.6 1.6 0 1 0 3.2 0a1.6 1.6 0 1 0-3.2 0M289.4 34.3a1.6 1.6 0 1 0 3.2 0a1.6 1.6 0 1 0-3.2 0M300.7 51.9a1.6 1.6 0 1 0 3.2 0a1.6 1.6 0 1 0-3.2 0M300.8 43.1a1.6 1.6 0 1 0 3.2 0a1.6 1.6 0 1 0-3.2 0M298.7 39.6a1.6 1.6 0 1 0 3.2 0a1.6 1.6 0 1 0-3.2 0M295.6 48.1a1.6 1.6 0 1 0 3.2 0a1.6 1.6 0 1 0-3.2 0M295.7 36.5a1.6 1.6 0 1 0 3.2 0a1.6 1.6 0 1 0-3.2 0M294.5 47.9a1.6 1.6 0 1 0 3.2 0a1.6 1.6 0 1 0-3.2 0M299.1 30.6a1.6 1.6 0 1 0 3.2 0a1.6 1.6 0 1 0-3.2 0M294.5 34.9a1.6 1.6 0 1 0 3.2 0a1.6 1.6 0 1 0-3.2 0M300.1 38.5a1.6 1.6 0 1 0 3.2 0a1.6 1.6 0 1 0-3.2 0M306.3 45.5a1.6 1.6 0 1 0 3.2 0a1.6 1.6 0 1 0-3.2 0M298.6 42.4a1.6 1.6 0 1 0 3.2 0a1.6 1.6 0 1 0-3.2 0M302 40.1a1.6 1.6 0 1 0 3.2 0a1.6 1.6 0 1 0-3.2 0M300.4 36.6a1.6 1.6 0 1 0 3.2 0a1.6 1.6 0 1 0-3.2 0M297.9 39.9a1.6 1.6 0 1 0 3.2 0a1.6 1.6 0 1 0-3.2 0M296.1 33.9a1.6 1.6 0 1 0 3.2 0a1.6 1.6 0 1 0-3.2 0M303.3 31.7a1.6 1.6 0 1 0 3.2 0a1.6 1.6 0 1 0-3.2 0M291.3 44.6a1.6 1.6 0 1 0 3.2 0a1.6 1.6 0 1 0-3.2 0M298.8 35.2a1.6 1.6 0 1 0 3.2 0a1.6 1.6 0 1 0-3.2 0M297 45.5a1.6 1.6 0 1 0 3.2 0a1.6 1.6 0 1 0-3.2 0M309 40.9a1.6 1.6 0 1 0 3.2 0a1.6 1.6 0 1 0-3.2 0M299.7 45.3a1.6 1.6 0 1 0 3.2 0a1.6 1.6 0 1 0-3.2 0M309 38.1a1.6 1.6 0 1 0 3.2 0a1.6 1.6 0 1 0-3.2 0M297.7 42a1.6 1.6 0 1 0 3.2 0a1.6 1.6 0 1 0-3.2 0M299.1 38.3a1.6 1.6 0 1 0 3.2 0a1.6 1.6 0 1 0-3.2 0M299.9 44.5a1.6 1.6 0 1 0 3.2 0a1.6 1.6 0 1 0-3.2 0M306.6 45.5a1.6 1.6 0 1 0 3.2 0a1.6 1.6 0 1 0-3.2 0M306 36.7a1.6 1.6 0 1 0 3.2 0a1.6 1.6 0 1 0-3.2 0M292 35.4a1.6 1.6 0 1 0 3.2 0a1.6 1.6 0 1 0-3.2 0M301 44.8a1.6 1.6 0 1 0 3.2 0a1.6 1.6 0 1 0-3.2 0M309.8 34a1.6 1.6 0 1 0 3.2 0a1.6 1.6 0 1 0-3.2 0M288.1 35.3a1.6 1.6 0 1 0 3.2 0a1.6 1.6 0 1 0-3.2 0M295.8 49.1a1.6 1.6 0 1 0 3.2 0a1.6 1.6 0 1 0-3.2 0M302.6 47.5a1.6 1.6 0 1 0 3.2 0a1.6 1.6 0 1 0-3.2 0M297.3 40.4a1.6 1.6 0 1 0 3.2 0a1.6 1.6 0 1 0-3.2 0M297.2 46.3a1.6 1.6 0 1 0 3.2 0a1.6 1.6 0 1 0-3.2 0M286.8 41.8a1.6 1.6 0 1 0 3.2 0a1.6 1.6 0 1 0-3.2 0M305.2 34.4a1.6 1.6 0 1 0 3.2 0a1.6 1.6 0 1 0-3.2 0M306.9 38.7a1.6 1.6 0 1 0 3.2 0a1.6 1.6 0 1 0-3.2 0M300.4 44.8a1.6 1.6 0 1 0 3.2 0a1.6 1.6 0 1 0-3.2 0M286.3 45a1.6 1.6 0 1 0 3.2 0a1.6 1.6 0 1 0-3.2 0M294.6 46a1.6 1.6 0 1 0 3.2 0a1.6 1.6 0 1 0-3.2 0M299 39.1a1.6 1.6 0 1 0 3.2 0a1.6 1.6 0 1 0-3.2 0M295.5 36.6a1.6 1.6 0 1 0 3.2 0a1.6 1.6 0 1 0-3.2 0M300.3 36.5a1.6 1.6 0 1 0 3.2 0a1.6 1.6 0 1 0-3.2 0M304.4 34.6a1.6 1.6 0 1 0 3.2 0a1.6 1.6 0 1 0-3.2 0M297.1 44.4a1.6 1.6 0 1 0 3.2 0a1.6 1.6 0 1 0-3.2 0M299.3 34.5a1.6 1.6 0 1 0 3.2 0a1.6 1.6 0 1 0-3.2 0M287.2 36.7a1.6 1.6 0 1 0 3.2 0a1.6 1.6 0 1 0-3.2 0M296.3 37.3a1.6 1.6 0 1 0 3.2 0a1.6 1.6 0 1 0-3.2 0M301.2 42.9a1.6 1.6 0 1 0 3.2 0a1.6 1.6 0 1 0-3.2 0M294.6 42.8a1.6 1.6 0 1 0 3.2 0a1.6 1.6 0 1 0-3.2 0M301.6 47.1a1.6 1.6 0 1 0 3.2 0a1.6 1.6 0 1 0-3.2 0M299.2 44.2a1.6 1.6 0 1 0 3.2 0a1.6 1.6 0 1 0-3.2 0M295.4 47.2a1.6 1.6 0 1 0 3.2 0a1.6 1.6 0 1 0-3.2 0M290.2 38.7a1.6 1.6 0 1 0 3.2 0a1.6 1.6 0 1 0-3.2 0M300.2 43.2a1.6 1.6 0 1 0 3.2 0a1.6 1.6 0 1 0-3.2 0M297.7 36a1.6 1.6 0 1 0 3.2 0a1.6 1.6 0 1 0-3.2 0M299.5 39.1a1.6 1.6 0 1 0 3.2 0a1.6 1.6 0 1 0-3.2 0M298.3 37.5a1.6 1.6 0 1 0 3.2 0a1.6 1.6 0 1 0-3.2 0M297.2 46.5a1.6 1.6 0 1 0 3.2 0a1.6 1.6 0 1 0-3.2 0M302.5 37.8a1.6 1.6 0 1 0 3.2 0a1.6 1.6 0 1 0-3.2 0M294 39.9a1.6 1.6 0 1 0 3.2 0a1.6 1.6 0 1 0-3.2 0M300 39.1a1.6 1.6 0 1 0 3.2 0a1.6 1.6 0 1 0-3.2 0M315.5 39.8a1.6 1.6 0 1 0 3.2 0a1.6 1.6 0 1 0-3.2 0M299 43.2a1.6 1.6 0 1 0 3.2 0a1.6 1.6 0 1 0-3.2 0M295.9 55.6a1.6 1.6 0 1 0 3.2 0a1.6 1.6 0 1 0-3.2 0M296.6 41.9a1.6 1.6 0 1 0 3.2 0a1.6 1.6 0 1 0-3.2 0M293.3 40.5a1.6 1.6 0 1 0 3.2 0a1.6 1.6 0 1 0-3.2 0M301.4 34.7a1.6 1.6 0 1 0 3.2 0a1.6 1.6 0 1 0-3.2 0M310.9 40.3a1.6 1.6 0 1 0 3.2 0a1.6 1.6 0 1 0-3.2 0M294.4 46.9a1.6 1.6 0 1 0 3.2 0a1.6 1.6 0 1 0-3.2 0M306.1 44a1.6 1.6 0 1 0 3.2 0a1.6 1.6 0 1 0-3.2 0M298.9 36.9a1.6 1.6 0 1 0 3.2 0a1.6 1.6 0 1 0-3.2 0M299.8 40a1.6 1.6 0 1 0 3.2 0a1.6 1.6 0 1 0-3.2 0M300.5 51.1a1.6 1.6 0 1 0 3.2 0a1.6 1.6 0 1 0-3.2 0M298 37.6a1.6 1.6 0 1 0 3.2 0a1.6 1.6 0 1 0-3.2 0M292.3 48.8a1.6 1.6 0 1 0 3.2 0a1.6 1.6 0 1 0-3.2 0M301.9 42.4a1.6 1.6 0 1 0 3.2 0a1.6 1.6 0 1 0-3.2 0M301.1 50.8a1.6 1.6 0 1 0 3.2 0a1.6 1.6 0 1 0-3.2 0M298.7 45.7a1.6 1.6 0 1 0 3.2 0a1.6 1.6 0 1 0-3.2 0M302.9 31.8a1.6 1.6 0 1 0 3.2 0a1.6 1.6 0 1 0-3.2 0M296.8 36.3a1.6 1.6 0 1 0 3.2 0a1.6 1.6 0 1 0-3.2 0M294.1 42.6a1.6 1.6 0 1 0 3.2 0a1.6 1.6 0 1 0-3.2 0M300.9 44.4a1.6 1.6 0 1 0 3.2 0a1.6 1.6 0 1 0-3.2 0M305.6 39.2a1.6 1.6 0 1 0 3.2 0a1.6 1.6 0 1 0-3.2 0M292.2 48.1a1.6 1.6 0 1 0 3.2 0a1.6 1.6 0 1 0-3.2 0M295.8 52.1a1.6 1.6 0 1 0 3.2 0a1.6 1.6 0 1 0-3.2 0M304.8 43.1a1.6 1.6 0 1 0 3.2 0a1.6 1.6 0 1 0-3.2 0M295.9 40.9a1.6 1.6 0 1 0 3.2 0a1.6 1.6 0 1 0-3.2 0M296.8 34.2a1.6 1.6 0 1 0 3.2 0a1.6 1.6 0 1 0-3.2 0M306.1 37a1.6 1.6 0 1 0 3.2 0a1.6 1.6 0 1 0-3.2 0M301.9 36a1.6 1.6 0 1 0 3.2 0a1.6 1.6 0 1 0-3.2 0M301.2 41.4a1.6 1.6 0 1 0 3.2 0a1.6 1.6 0 1 0-3.2 0M304.5 39.5a1.6 1.6 0 1 0 3.2 0a1.6 1.6 0 1 0-3.2 0M302.1 32.9a1.6 1.6 0 1 0 3.2 0a1.6 1.6 0 1 0-3.2 0M309.1 40.8a1.6 1.6 0 1 0 3.2 0a1.6 1.6 0 1 0-3.2 0M304.7 48.4a1.6 1.6 0 1 0 3.2 0a1.6 1.6 0 1 0-3.2 0M295.1 39a1.6 1.6 0 1 0 3.2 0a1.6 1.6 0 1 0-3.2 0M295.6 46.4a1.6 1.6 0 1 0 3.2 0a1.6 1.6 0 1 0-3.2 0M294.7 38.6a1.6 1.6 0 1 0 3.2 0a1.6 1.6 0 1 0-3.2 0M291.7 38a1.6 1.6 0 1 0 3.2 0a1.6 1.6 0 1 0-3.2 0M304.3 51.2a1.6 1.6 0 1 0 3.2 0a1.6 1.6 0 1 0-3.2 0M301.2 37.1a1.6 1.6 0 1 0 3.2 0a1.6 1.6 0 1 0-3.2 0M292.6 38.5a1.6 1.6 0 1 0 3.2 0a1.6 1.6 0 1 0-3.2 0M296.9 38.1a1.6 1.6 0 1 0 3.2 0a1.6 1.6 0 1 0-3.2 0M303 38.5a1.6 1.6 0 1 0 3.2 0a1.6 1.6 0 1 0-3.2 0M286.3 37.4a1.6 1.6 0 1 0 3.2 0a1.6 1.6 0 1 0-3.2 0M307.9 46.8a1.6 1.6 0 1 0 3.2 0a1.6 1.6 0 1 0-3.2 0M312.4 43.1a1.6 1.6 0 1 0 3.2 0a1.6 1.6 0 1 0-3.2 0M291.9 47.6a1.6 1.6 0 1 0 3.2 0a1.6 1.6 0 1 0-3.2 0M306.4 38a1.6 1.6 0 1 0 3.2 0a1.6 1.6 0 1 0-3.2 0M295.5 43.8a1.6 1.6 0 1 0 3.2 0a1.6 1.6 0 1 0-3.2 0M287.1 46.6a1.6 1.6 0 1 0 3.2 0a1.6 1.6 0 1 0-3.2 0M291.3 40a1.6 1.6 0 1 0 3.2 0a1.6 1.6 0 1 0-3.2 0M297.5 36.3a1.6 1.6 0 1 0 3.2 0a1.6 1.6 0 1 0-3.2 0M299.9 41.8a1.6 1.6 0 1 0 3.2 0a1.6 1.6 0 1 0-3.2 0M302 33.5a1.6 1.6 0 1 0 3.2 0a1.6 1.6 0 1 0-3.2 0M296.8 40.2a1.6 1.6 0 1 0 3.2 0a1.6 1.6 0 1 0-3.2 0M296.2 45.3a1.6 1.6 0 1 0 3.2 0a1.6 1.6 0 1 0-3.2 0M294.1 43.6a1.6 1.6 0 1 0 3.2 0a1.6 1.6 0 1 0-3.2 0M292.2 42.2a1.6 1.6 0 1 0 3.2 0a1.6 1.6 0 1 0-3.2 0M296.9 39.3a1.6 1.6 0 1 0 3.2 0a1.6 1.6 0 1 0-3.2 0M303.7 30.7a1.6 1.6 0 1 0 3.2 0a1.6 1.6 0 1 0-3.2 0M296.5 41.7a1.6 1.6 0 1 0 3.2 0a1.6 1.6 0 1 0-3.2 0M301.6 44.1a1.6 1.6 0 1 0 3.2 0a1.6 1.6 0 1 0-3.2 0M304.4 37.2a1.6 1.6 0 1 0 3.2 0a1.6 1.6 0 1 0-3.2 0M298.9 34.7a1.6 1.6 0 1 0 3.2 0a1.6 1.6 0 1 0-3.2 0M295.4 42.2a1.6 1.6 0 1 0 3.2 0a1.6 1.6 0 1 0-3.2 0M296.6 42.1a1.6 1.6 0 1 0 3.2 0a1.6 1.6 0 1 0-3.2 0M291.9 41.5a1.6 1.6 0 1 0 3.2 0a1.6 1.6 0 1 0-3.2 0M303.7 38.3a1.6 1.6 0 1 0 3.2 0a1.6 1.6 0 1 0-3.2 0M304.1 38.4a1.6 1.6 0 1 0 3.2 0a1.6 1.6 0 1 0-3.2 0M303.4 46.1a1.6 1.6 0 1 0 3.2 0a1.6 1.6 0 1 0-3.2 0M297 49.7a1.6 1.6 0 1 0 3.2 0a1.6 1.6 0 1 0-3.2 0M311.2 30.1a1.6 1.6 0 1 0 3.2 0a1.6 1.6 0 1 0-3.2 0M298.5 43.4a1.6 1.6 0 1 0 3.2 0a1.6 1.6 0 1 0-3.2 0M301.5 45.6a1.6 1.6 0 1 0 3.2 0a1.6 1.6 0 1 0-3.2 0M305.4 29a1.6 1.6 0 1 0 3.2 0a1.6 1.6 0 1 0-3.2 0M290.5 44.5a1.6 1.6 0 1 0 3.2 0a1.6 1.6 0 1 0-3.2 0M305 33.9a1.6 1.6 0 1 0 3.2 0a1.6 1.6 0 1 0-3.2 0M302.6 39.5a1.6 1.6 0 1 0 3.2 0a1.6 1.6 0 1 0-3.2 0M298.3 40.3a1.6 1.6 0 1 0 3.2 0a1.6 1.6 0 1 0-3.2 0M295.9 43a1.6 1.6 0 1 0 3.2 0a1.6 1.6 0 1 0-3.2 0M296.4 33a1.6 1.6 0 1 0 3.2 0a1.6 1.6 0 1 0-3.2 0M289 35.9a1.6 1.6 0 1 0 3.2 0a1.6 1.6 0 1 0-3.2 0M291.2 48.4a1.6 1.6 0 1 0 3.2 0a1.6 1.6 0 1 0-3.2 0M288 45.5a1.6 1.6 0 1 0 3.2 0a1.6 1.6 0 1 0-3.2 0M301.2 43.3a1.6 1.6 0 1 0 3.2 0a1.6 1.6 0 1 0-3.2 0M298.8 45.8a1.6 1.6 0 1 0 3.2 0a1.6 1.6 0 1 0-3.2 0M299.6 49a1.6 1.6 0 1 0 3.2 0a1.6 1.6 0 1 0-3.2 0M300.2 43.4a1.6 1.6 0 1 0 3.2 0a1.6 1.6 0 1 0-3.2 0M292.9 34.7a1.6 1.6 0 1 0 3.2 0a1.6 1.6 0 1 0-3.2 0M307 43.7a1.6 1.6 0 1 0 3.2 0a1.6 1.6 0 1 0-3.2 0M305.9 39a1.6 1.6 0 1 0 3.2 0a1.6 1.6 0 1 0-3.2 0M304.4 37a1.6 1.6 0 1 0 3.2 0a1.6 1.6 0 1 0-3.2 0M299.8 43.4a1.6 1.6 0 1 0 3.2 0a1.6 1.6 0 1 0-3.2 0M306.1 44.6a1.6 1.6 0 1 0 3.2 0a1.6 1.6 0 1 0-3.2 0M298.9 37.4a1.6 1.6 0 1 0 3.2 0a1.6 1.6 0 1 0-3.2 0M289.4 37.6a1.6 1.6 0 1 0 3.2 0a1.6 1.6 0 1 0-3.2 0M296.7 42.2a1.6 1.6 0 1 0 3.2 0a1.6 1.6 0 1 0-3.2 0M301.5 40.6a1.6 1.6 0 1 0 3.2 0a1.6 1.6 0 1 0-3.2 0M300 44.2a1.6 1.6 0 1 0 3.2 0a1.6 1.6 0 1 0-3.2 0M294.8 42.4a1.6 1.6 0 1 0 3.2 0a1.6 1.6 0 1 0-3.2 0M297 45.8a1.6 1.6 0 1 0 3.2 0a1.6 1.6 0 1 0-3.2 0M305.7 32.3a1.6 1.6 0 1 0 3.2 0a1.6 1.6 0 1 0-3.2 0M291.1 42.9a1.6 1.6 0 1 0 3.2 0a1.6 1.6 0 1 0-3.2 0M303.6 53.1a1.6 1.6 0 1 0 3.2 0a1.6 1.6 0 1 0-3.2 0M303.8 40.5a1.6 1.6 0 1 0 3.2 0a1.6 1.6 0 1 0-3.2 0M302.6 35.8a1.6 1.6 0 1 0 3.2 0a1.6 1.6 0 1 0-3.2 0M305.6 47.8a1.6 1.6 0 1 0 3.2 0a1.6 1.6 0 1 0-3.2 0M302.3 40.2a1.6 1.6 0 1 0 3.2 0a1.6 1.6 0 1 0-3.2 0M302.3 48.3a1.6 1.6 0 1 0 3.2 0a1.6 1.6 0 1 0-3.2 0M294.3 37.1a1.6 1.6 0 1 0 3.2 0a1.6 1.6 0 1 0-3.2 0M304.6 32.3a1.6 1.6 0 1 0 3.2 0a1.6 1.6 0 1 0-3.2 0M290.5 34.2a1.6 1.6 0 1 0 3.2 0a1.6 1.6 0 1 0-3.2 0M297.3 42.3a1.6 1.6 0 1 0 3.2 0a1.6 1.6 0 1 0-3.2 0M297.2 37.7a1.6 1.6 0 1 0 3.2 0a1.6 1.6 0 1 0-3.2 0M304.5 45.3a1.6 1.6 0 1 0 3.2 0a1.6 1.6 0 1 0-3.2 0M302.1 40a1.6 1.6 0 1 0 3.2 0a1.6 1.6 0 1 0-3.2 0M295.1 36.3a1.6 1.6 0 1 0 3.2 0a1.6 1.6 0 1 0-3.2 0M294.3 43.4a1.6 1.6 0 1 0 3.2 0a1.6 1.6 0 1 0-3.2 0M298.6 40.5a1.6 1.6 0 1 0 3.2 0a1.6 1.6 0 1 0-3.2 0M294.8 43.2a1.6 1.6 0 1 0 3.2 0a1.6 1.6 0 1 0-3.2 0M304.8 40.2a1.6 1.6 0 1 0 3.2 0a1.6 1.6 0 1 0-3.2 0M300.6 41.1a1.6 1.6 0 1 0 3.2 0a1.6 1.6 0 1 0-3.2 0M303.8 34.6a1.6 1.6 0 1 0 3.2 0a1.6 1.6 0 1 0-3.2 0M298.4 36.7a1.6 1.6 0 1 0 3.2 0a1.6 1.6 0 1 0-3.2 0M294.8 40.9a1.6 1.6 0 1 0 3.2 0a1.6 1.6 0 1 0-3.2 0M293.1 43.7a1.6 1.6 0 1 0 3.2 0a1.6 1.6 0 1 0-3.2 0M314.9 45.4a1.6 1.6 0 1 0 3.2 0a1.6 1.6 0 1 0-3.2 0M305.6 39.5a1.6 1.6 0 1 0 3.2 0a1.6 1.6 0 1 0-3.2 0M300.4 51.7a1.6 1.6 0 1 0 3.2 0a1.6 1.6 0 1 0-3.2 0M300.1 48.4a1.6 1.6 0 1 0 3.2 0a1.6 1.6 0 1 0-3.2 0M295.6 44.7a1.6 1.6 0 1 0 3.2 0a1.6 1.6 0 1 0-3.2 0M297.1 31.6a1.6 1.6 0 1 0 3.2 0a1.6 1.6 0 1 0-3.2 0M307.7 50a1.6 1.6 0 1 0 3.2 0a1.6 1.6 0 1 0-3.2 0M297.1 45.1a1.6 1.6 0 1 0 3.2 0a1.6 1.6 0 1 0-3.2 0M299.7 49.7a1.6 1.6 0 1 0 3.2 0a1.6 1.6 0 1 0-3.2 0M291.4 41.4a1.6 1.6 0 1 0 3.2 0a1.6 1.6 0 1 0-3.2 0M295 35.5a1.6 1.6 0 1 0 3.2 0a1.6 1.6 0 1 0-3.2 0M297.4 39.9a1.6 1.6 0 1 0 3.2 0a1.6 1.6 0 1 0-3.2 0M296.5 36.9a1.6 1.6 0 1 0 3.2 0a1.6 1.6 0 1 0-3.2 0M305 41.4a1.6 1.6 0 1 0 3.2 0a1.6 1.6 0 1 0-3.2 0M296.3 38a1.6 1.6 0 1 0 3.2 0a1.6 1.6 0 1 0-3.2 0M299.4 36a1.6 1.6 0 1 0 3.2 0a1.6 1.6 0 1 0-3.2 0M299.4 40.4a1.6 1.6 0 1 0 3.2 0a1.6 1.6 0 1 0-3.2 0M303 45.2a1.6 1.6 0 1 0 3.2 0a1.6 1.6 0 1 0-3.2 0M292.5 38.6a1.6 1.6 0 1 0 3.2 0a1.6 1.6 0 1 0-3.2 0M297.9 37.9a1.6 1.6 0 1 0 3.2 0a1.6 1.6 0 1 0-3.2 0M303.1 39.1a1.6 1.6 0 1 0 3.2 0a1.6 1.6 0 1 0-3.2 0M295.9 32.9a1.6 1.6 0 1 0 3.2 0a1.6 1.6 0 1 0-3.2 0M287.1 44.9a1.6 1.6 0 1 0 3.2 0a1.6 1.6 0 1 0-3.2 0M292.5 30.8a1.6 1.6 0 1 0 3.2 0a1.6 1.6 0 1 0-3.2 0M297.1 42a1.6 1.6 0 1 0 3.2 0a1.6 1.6 0 1 0-3.2 0M302 34.6a1.6 1.6 0 1 0 3.2 0a1.6 1.6 0 1 0-3.2 0M303.9 41.3a1.6 1.6 0 1 0 3.2 0a1.6 1.6 0 1 0-3.2 0M299.8 46.5a1.6 1.6 0 1 0 3.2 0a1.6 1.6 0 1 0-3.2 0M300.3 42.4a1.6 1.6 0 1 0 3.2 0a1.6 1.6 0 1 0-3.2 0M287.6 39.8a1.6 1.6 0 1 0 3.2 0a1.6 1.6 0 1 0-3.2 0M298.3 36.9a1.6 1.6 0 1 0 3.2 0a1.6 1.6 0 1 0-3.2 0M302.1 40.5a1.6 1.6 0 1 0 3.2 0a1.6 1.6 0 1 0-3.2 0M298 32.6a1.6 1.6 0 1 0 3.2 0a1.6 1.6 0 1 0-3.2 0M300 35.6a1.6 1.6 0 1 0 3.2 0a1.6 1.6 0 1 0-3.2 0M301.2 34a1.6 1.6 0 1 0 3.2 0a1.6 1.6 0 1 0-3.2 0M304 46.8a1.6 1.6 0 1 0 3.2 0a1.6 1.6 0 1 0-3.2 0M301.8 32.7a1.6 1.6 0 1 0 3.2 0a1.6 1.6 0 1 0-3.2 0M306 42.6a1.6 1.6 0 1 0 3.2 0a1.6 1.6 0 1 0-3.2 0M307.5 36.3a1.6 1.6 0 1 0 3.2 0a1.6 1.6 0 1 0-3.2 0M302.4 44.4a1.6 1.6 0 1 0 3.2 0a1.6 1.6 0 1 0-3.2 0M301.2 38.3a1.6 1.6 0 1 0 3.2 0a1.6 1.6 0 1 0-3.2 0M288.4 43.4a1.6 1.6 0 1 0 3.2 0a1.6 1.6 0 1 0-3.2 0M291.3 50.3a1.6 1.6 0 1 0 3.2 0a1.6 1.6 0 1 0-3.2 0M300.1 36.3a1.6 1.6 0 1 0 3.2 0a1.6 1.6 0 1 0-3.2 0M298.9 48.7a1.6 1.6 0 1 0 3.2 0a1.6 1.6 0 1 0-3.2 0M292.3 36.4a1.6 1.6 0 1 0 3.2 0a1.6 1.6 0 1 0-3.2 0M298 39.4a1.6 1.6 0 1 0 3.2 0a1.6 1.6 0 1 0-3.2 0M297.6 40.1a1.6 1.6 0 1 0 3.2 0a1.6 1.6 0 1 0-3.2 0M295.6 44.4a1.6 1.6 0 1 0 3.2 0a1.6 1.6 0 1 0-3.2 0M291.8 40.7a1.6 1.6 0 1 0 3.2 0a1.6 1.6 0 1 0-3.2 0M298.7 35a1.6 1.6 0 1 0 3.2 0a1.6 1.6 0 1 0-3.2 0M311 39.9a1.6 1.6 0 1 0 3.2 0a1.6 1.6 0 1 0-3.2 0M286.3 47.1a1.6 1.6 0 1 0 3.2 0a1.6 1.6 0 1 0-3.2 0M305.8 38.4a1.6 1.6 0 1 0 3.2 0a1.6 1.6 0 1 0-3.2 0M298.2 45.7a1.6 1.6 0 1 0 3.2 0a1.6 1.6 0 1 0-3.2 0M301.5 39.2a1.6 1.6 0 1 0 3.2 0a1.6 1.6 0 1 0-3.2 0M304.6 33.8a1.6 1.6 0 1 0 3.2 0a1.6 1.6 0 1 0-3.2 0M307.2 35.7a1.6 1.6 0 1 0 3.2 0a1.6 1.6 0 1 0-3.2 0M293.1 37.8a1.6 1.6 0 1 0 3.2 0a1.6 1.6 0 1 0-3.2 0M293.2 44.5a1.6 1.6 0 1 0 3.2 0a1.6 1.6 0 1 0-3.2 0M295 47a1.6 1.6 0 1 0 3.2 0a1.6 1.6 0 1 0-3.2 0M294.7 33.2a1.6 1.6 0 1 0 3.2 0a1.6 1.6 0 1 0-3.2 0M298.6 32.5a1.6 1.6 0 1 0 3.2 0a1.6 1.6 0 1 0-3.2 0M299.7 50.2a1.6 1.6 0 1 0 3.2 0a1.6 1.6 0 1 0-3.2 0M295.6 32.4a1.6 1.6 0 1 0 3.2 0a1.6 1.6 0 1 0-3.2 0M304.7 41.8a1.6 1.6 0 1 0 3.2 0a1.6 1.6 0 1 0-3.2 0M297.8 34.5a1.6 1.6 0 1 0 3.2 0a1.6 1.6 0 1 0-3.2 0M301.6 42a1.6 1.6 0 1 0 3.2 0a1.6 1.6 0 1 0-3.2 0M305 40.6a1.6 1.6 0 1 0 3.2 0a1.6 1.6 0 1 0-3.2 0M293.8 48.6a1.6 1.6 0 1 0 3.2 0a1.6 1.6 0 1 0-3.2 0M288.5 28.6a1.6 1.6 0 1 0 3.2 0a1.6 1.6 0 1 0-3.2 0M300.2 32a1.6 1.6 0 1 0 3.2 0a1.6 1.6 0 1 0-3.2 0M300 40.3a1.6 1.6 0 1 0 3.2 0a1.6 1.6 0 1 0-3.2 0M300.2 39.5a1.6 1.6 0 1 0 3.2 0a1.6 1.6 0 1 0-3.2 0M292.2 41a1.6 1.6 0 1 0 3.2 0a1.6 1.6 0 1 0-3.2 0M304.2 29.4a1.6 1.6 0 1 0 3.2 0a1.6 1.6 0 1 0-3.2 0M297 38.7a1.6 1.6 0 1 0 3.2 0a1.6 1.6 0 1 0-3.2 0M302.8 33.1a1.6 1.6 0 1 0 3.2 0a1.6 1.6 0 1 0-3.2 0M301.7 42.4a1.6 1.6 0 1 0 3.2 0a1.6 1.6 0 1 0-3.2 0M308 39.2a1.6 1.6 0 1 0 3.2 0a1.6 1.6 0 1 0-3.2 0M299.7 25.7a1.6 1.6 0 1 0 3.2 0a1.6 1.6 0 1 0-3.2 0M291.4 40.9a1.6 1.6 0 1 0 3.2 0a1.6 1.6 0 1 0-3.2 0M293.6 33a1.6 1.6 0 1 0 3.2 0a1.6 1.6 0 1 0-3.2 0M294.4 39.8a1.6 1.6 0 1 0 3.2 0a1.6 1.6 0 1 0-3.2 0M301 42.4a1.6 1.6 0 1 0 3.2 0a1.6 1.6 0 1 0-3.2 0M298.8 42.9a1.6 1.6 0 1 0 3.2 0a1.6 1.6 0 1 0-3.2 0M295.7 45.2a1.6 1.6 0 1 0 3.2 0a1.6 1.6 0 1 0-3.2 0M300.2 42.4a1.6 1.6 0 1 0 3.2 0a1.6 1.6 0 1 0-3.2 0M293.9 43.1a1.6 1.6 0 1 0 3.2 0a1.6 1.6 0 1 0-3.2 0M310.1 47.2a1.6 1.6 0 1 0 3.2 0a1.6 1.6 0 1 0-3.2 0M296.3 43.7a1.6 1.6 0 1 0 3.2 0a1.6 1.6 0 1 0-3.2 0M298.9 36.8a1.6 1.6 0 1 0 3.2 0a1.6 1.6 0 1 0-3.2 0M295.4 39.4a1.6 1.6 0 1 0 3.2 0a1.6 1.6 0 1 0-3.2 0M301.6 32.3a1.6 1.6 0 1 0 3.2 0a1.6 1.6 0 1 0-3.2 0M296.2 44.5a1.6 1.6 0 1 0 3.2 0a1.6 1.6 0 1 0-3.2 0M302.7 41.1a1.6 1.6 0 1 0 3.2 0a1.6 1.6 0 1 0-3.2 0M296.2 42.3a1.6 1.6 0 1 0 3.2 0a1.6 1.6 0 1 0-3.2 0M306 49.1a1.6 1.6 0 1 0 3.2 0a1.6 1.6 0 1 0-3.2 0M298 32.1a1.6 1.6 0 1 0 3.2 0a1.6 1.6 0 1 0-3.2 0M300.9 44.8a1.6 1.6 0 1 0 3.2 0a1.6 1.6 0 1 0-3.2 0M296 35.6a1.6 1.6 0 1 0 3.2 0a1.6 1.6 0 1 0-3.2 0M301.4 42.9a1.6 1.6 0 1 0 3.2 0a1.6 1.6 0 1 0-3.2 0M296 47.5a1.6 1.6 0 1 0 3.2 0a1.6 1.6 0 1 0-3.2 0M292.3 38.9a1.6 1.6 0 1 0 3.2 0a1.6 1.6 0 1 0-3.2 0M301.7 43.4a1.6 1.6 0 1 0 3.2 0a1.6 1.6 0 1 0-3.2 0M302.7 44.3a1.6 1.6 0 1 0 3.2 0a1.6 1.6 0 1 0-3.2 0M300.9 51.4a1.6 1.6 0 1 0 3.2 0a1.6 1.6 0 1 0-3.2 0M303.3 31.2a1.6 1.6 0 1 0 3.2 0a1.6 1.6 0 1 0-3.2 0M303.4 41.1a1.6 1.6 0 1 0 3.2 0a1.6 1.6 0 1 0-3.2 0M301.5 40.5a1.6 1.6 0 1 0 3.2 0a1.6 1.6 0 1 0-3.2 0M299.7 41.1a1.6 1.6 0 1 0 3.2 0a1.6 1.6 0 1 0-3.2 0M301.5 42.5a1.6 1.6 0 1 0 3.2 0a1.6 1.6 0 1 0-3.2 0M298.8 43.3a1.6 1.6 0 1 0 3.2 0a1.6 1.6 0 1 0-3.2 0M302.9 33.9a1.6 1.6 0 1 0 3.2 0a1.6 1.6 0 1 0-3.2 0M303 38.3a1.6 1.6 0 1 0 3.2 0a1.6 1.6 0 1 0-3.2 0M306.3 45.1a1.6 1.6 0 1 0 3.2 0a1.6 1.6 0 1 0-3.2 0M309.9 51a1.6 1.6 0 1 0 3.2 0a1.6 1.6 0 1 0-3.2 0M302.8 40.1a1.6 1.6 0 1 0 3.2 0a1.6 1.6 0 1 0-3.2 0M301.1 48.8a1.6 1.6 0 1 0 3.2 0a1.6 1.6 0 1 0-3.2 0M305.1 39.4a1.6 1.6 0 1 0 3.2 0a1.6 1.6 0 1 0-3.2 0M299.6 35.3a1.6 1.6 0 1 0 3.2 0a1.6 1.6 0 1 0-3.2 0M299.8 40.3a1.6 1.6 0 1 0 3.2 0a1.6 1.6 0 1 0-3.2 0M303.6 41.2a1.6 1.6 0 1 0 3.2 0a1.6 1.6 0 1 0-3.2 0M300.9 42.8a1.6 1.6 0 1 0 3.2 0a1.6 1.6 0 1 0-3.2 0M296.1 40.7a1.6 1.6 0 1 0 3.2 0a1.6 1.6 0 1 0-3.2 0M296 39.5a1.6 1.6 0 1 0 3.2 0a1.6 1.6 0 1 0-3.2 0M297.8 43.7a1.6 1.6 0 1 0 3.2 0a1.6 1.6 0 1 0-3.2 0M298.5 47.2a1.6 1.6 0 1 0 3.2 0a1.6 1.6 0 1 0-3.2 0M302.7 37.7a1.6 1.6 0 1 0 3.2 0a1.6 1.6 0 1 0-3.2 0M287.1 40.7a1.6 1.6 0 1 0 3.2 0a1.6 1.6 0 1 0-3.2 0M296.8 37.9a1.6 1.6 0 1 0 3.2 0a1.6 1.6 0 1 0-3.2 0M309.7 43.2a1.6 1.6 0 1 0 3.2 0a1.6 1.6 0 1 0-3.2 0M298.5 45.2a1.6 1.6 0 1 0 3.2 0a1.6 1.6 0 1 0-3.2 0M300.8 37.2a1.6 1.6 0 1 0 3.2 0a1.6 1.6 0 1 0-3.2 0M300.4 40.3a1.6 1.6 0 1 0 3.2 0a1.6 1.6 0 1 0-3.2 0M293.5 41.2a1.6 1.6 0 1 0 3.2 0a1.6 1.6 0 1 0-3.2 0M294.2 42.7a1.6 1.6 0 1 0 3.2 0a1.6 1.6 0 1 0-3.2 0M307.1 40.4a1.6 1.6 0 1 0 3.2 0a1.6 1.6 0 1 0-3.2 0M295.2 46.4a1.6 1.6 0 1 0 3.2 0a1.6 1.6 0 1 0-3.2 0M291.2 43.4a1.6 1.6 0 1 0 3.2 0a1.6 1.6 0 1 0-3.2 0M309.7 42.1a1.6 1.6 0 1 0 3.2 0a1.6 1.6 0 1 0-3.2 0M297.9 46.2a1.6 1.6 0 1 0 3.2 0a1.6 1.6 0 1 0-3.2 0M296.7 35.9a1.6 1.6 0 1 0 3.2 0a1.6 1.6 0 1 0-3.2 0M304.1 41.8a1.6 1.6 0 1 0 3.2 0a1.6 1.6 0 1 0-3.2 0M294.9 37.3a1.6 1.6 0 1 0 3.2 0a1.6 1.6 0 1 0-3.2 0M310.8 25.9a1.6 1.6 0 1 0 3.2 0a1.6 1.6 0 1 0-3.2 0M306.2 40.7a1.6 1.6 0 1 0 3.2 0a1.6 1.6 0 1 0-3.2 0M302.6 42.8a1.6 1.6 0 1 0 3.2 0a1.6 1.6 0 1 0-3.2 0M295 44.3a1.6 1.6 0 1 0 3.2 0a1.6 1.6 0 1 0-3.2 0M299.2 37.4a1.6 1.6 0 1 0 3.2 0a1.6 1.6 0 1 0-3.2 0M306.6 34.1a1.6 1.6 0 1 0 3.2 0a1.6 1.6 0 1 0-3.2 0M301.4 52.4a1.6 1.6 0 1 0 3.2 0a1.6 1.6 0 1 0-3.2 0M306.7 38.4a1.6 1.6 0 1 0 3.2 0a1.6 1.6 0 1 0-3.2 0M295.5 34a1.6 1.6 0 1 0 3.2 0a1.6 1.6 0 1 0-3.2 0M294.6 42.3a1.6 1.6 0 1 0 3.2 0a1.6 1.6 0 1 0-3.2 0M299.2 41a1.6 1.6 0 1 0 3.2 0a1.6 1.6 0 1 0-3.2 0M298.7 51.4a1.6 1.6 0 1 0 3.2 0a1.6 1.6 0 1 0-3.2 0M291.9 41.4a1.6 1.6 0 1 0 3.2 0a1.6 1.6 0 1 0-3.2 0M302.8 41.1a1.6 1.6 0 1 0 3.2 0a1.6 1.6 0 1 0-3.2 0M292.9 47.3a1.6 1.6 0 1 0 3.2 0a1.6 1.6 0 1 0-3.2 0M292.9 35.1a1.6 1.6 0 1 0 3.2 0a1.6 1.6 0 1 0-3.2 0M293.9 36.9a1.6 1.6 0 1 0 3.2 0a1.6 1.6 0 1 0-3.2 0M292.9 46.2a1.6 1.6 0 1 0 3.2 0a1.6 1.6 0 1 0-3.2 0M295.7 34.2a1.6 1.6 0 1 0 3.2 0a1.6 1.6 0 1 0-3.2 0M295.3 42a1.6 1.6 0 1 0 3.2 0a1.6 1.6 0 1 0-3.2 0M295.8 43.7a1.6 1.6 0 1 0 3.2 0a1.6 1.6 0 1 0-3.2 0M304 44.2a1.6 1.6 0 1 0 3.2 0a1.6 1.6 0 1 0-3.2 0M297.8 47.3a1.6 1.6 0 1 0 3.2 0a1.6 1.6 0 1 0-3.2 0M295.2 40.4a1.6 1.6 0 1 0 3.2 0a1.6 1.6 0 1 0-3.2 0M306.6 31.4a1.6 1.6 0 1 0 3.2 0a1.6 1.6 0 1 0-3.2 0M292.6 42.1a1.6 1.6 0 1 0 3.2 0a1.6 1.6 0 1 0-3.2 0M289.4 42.6a1.6 1.6 0 1 0 3.2 0a1.6 1.6 0 1 0-3.2 0M299.2 37.7a1.6 1.6 0 1 0 3.2 0a1.6 1.6 0 1 0-3.2 0M301.5 46.3a1.6 1.6 0 1 0 3.2 0a1.6 1.6 0 1 0-3.2 0M292.6 48.7a1.6 1.6 0 1 0 3.2 0a1.6 1.6 0 1 0-3.2 0M307.4 47.6a1.6 1.6 0 1 0 3.2 0a1.6 1.6 0 1 0-3.2 0M304 39.5a1.6 1.6 0 1 0 3.2 0a1.6 1.6 0 1 0-3.2 0M303.8 49.5a1.6 1.6 0 1 0 3.2 0a1.6 1.6 0 1 0-3.2 0M301.2 38.8a1.6 1.6 0 1 0 3.2 0a1.6 1.6 0 1 0-3.2 0M298.9 38.4a1.6 1.6 0 1 0 3.2 0a1.6 1.6 0 1 0-3.2 0M293 33.4a1.6 1.6 0 1 0 3.2 0a1.6 1.6 0 1 0-3.2 0M293.2 41.7a1.6 1.6 0 1 0 3.2 0a1.6 1.6 0 1 0-3.2 0M303.5 38.1a1.6 1.6 0 1 0 3.2 0a1.6 1.6 0 1 0-3.2 0M307.2 41.1a1.6 1.6 0 1 0 3.2 0a1.6 1.6 0 1 0-3.2 0M293.2 39a1.6 1.6 0 1 0 3.2 0a1.6 1.6 0 1 0-3.2 0M301.6 49.5a1.6 1.6 0 1 0 3.2 0a1.6 1.6 0 1 0-3.2 0M303.7 34.4a1.6 1.6 0 1 0 3.2 0a1.6 1.6 0 1 0-3.2 0M294.6 36.1a1.6 1.6 0 1 0 3.2 0a1.6 1.6 0 1 0-3.2 0M299.4 35.8a1.6 1.6 0 1 0 3.2 0a1.6 1.6 0 1 0-3.2 0M296.2 36.5a1.6 1.6 0 1 0 3.2 0a1.6 1.6 0 1 0-3.2 0M302.5 40.5a1.6 1.6 0 1 0 3.2 0a1.6 1.6 0 1 0-3.2 0M297.3 41.7a1.6 1.6 0 1 0 3.2 0a1.6 1.6 0 1 0-3.2 0M302.6 33.3a1.6 1.6 0 1 0 3.2 0a1.6 1.6 0 1 0-3.2 0M298.2 36.3a1.6 1.6 0 1 0 3.2 0a1.6 1.6 0 1 0-3.2 0M299.5 30.8a1.6 1.6 0 1 0 3.2 0a1.6 1.6 0 1 0-3.2 0M305.3 36.8a1.6 1.6 0 1 0 3.2 0a1.6 1.6 0 1 0-3.2 0M301.2 43.7a1.6 1.6 0 1 0 3.2 0a1.6 1.6 0 1 0-3.2 0M290.6 36.5a1.6 1.6 0 1 0 3.2 0a1.6 1.6 0 1 0-3.2 0M295.2 44.4a1.6 1.6 0 1 0 3.2 0a1.6 1.6 0 1 0-3.2 0M304.5 39.4a1.6 1.6 0 1 0 3.2 0a1.6 1.6 0 1 0-3.2 0M293.3 34.7a1.6 1.6 0 1 0 3.2 0a1.6 1.6 0 1 0-3.2 0M297.4 35.7a1.6 1.6 0 1 0 3.2 0a1.6 1.6 0 1 0-3.2 0M293.2 48.8a1.6 1.6 0 1 0 3.2 0a1.6 1.6 0 1 0-3.2 0M295.8 36.7a1.6 1.6 0 1 0 3.2 0a1.6 1.6 0 1 0-3.2 0M288.3 46.7a1.6 1.6 0 1 0 3.2 0a1.6 1.6 0 1 0-3.2 0M304 27.6a1.6 1.6 0 1 0 3.2 0a1.6 1.6 0 1 0-3.2 0M297.7 46a1.6 1.6 0 1 0 3.2 0a1.6 1.6 0 1 0-3.2 0M296.6 45.1a1.6 1.6 0 1 0 3.2 0a1.6 1.6 0 1 0-3.2 0M307 37.1a1.6 1.6 0 1 0 3.2 0a1.6 1.6 0 1 0-3.2 0M294.2 36.4a1.6 1.6 0 1 0 3.2 0a1.6 1.6 0 1 0-3.2 0M287.5 40.7a1.6 1.6 0 1 0 3.2 0a1.6 1.6 0 1 0-3.2 0M299 42.2a1.6 1.6 0 1 0 3.2 0a1.6 1.6 0 1 0-3.2 0M294 44.2a1.6 1.6 0 1 0 3.2 0a1.6 1.6 0 1 0-3.2 0M289.1 38.5a1.6 1.6 0 1 0 3.2 0a1.6 1.6 0 1 0-3.2 0M293.8 37.8a1.6 1.6 0 1 0 3.2 0a1.6 1.6 0 1 0-3.2 0M303.4 44.6a1.6 1.6 0 1 0 3.2 0a1.6 1.6 0 1 0-3.2 0M292.6 40.6a1.6 1.6 0 1 0 3.2 0a1.6 1.6 0 1 0-3.2 0M302.5 48a1.6 1.6 0 1 0 3.2 0a1.6 1.6 0 1 0-3.2 0M298.6 46.3a1.6 1.6 0 1 0 3.2 0a1.6 1.6 0 1 0-3.2 0M306.7 38.9a1.6 1.6 0 1 0 3.2 0a1.6 1.6 0 1 0-3.2 0M290.4 44a1.6 1.6 0 1 0 3.2 0a1.6 1.6 0 1 0-3.2 0M299.3 43.6a1.6 1.6 0 1 0 3.2 0a1.6 1.6 0 1 0-3.2 0M299.4 38.8a1.6 1.6 0 1 0 3.2 0a1.6 1.6 0 1 0-3.2 0M300 43.2a1.6 1.6 0 1 0 3.2 0a1.6 1.6 0 1 0-3.2 0M306.5 36.2a1.6 1.6 0 1 0 3.2 0a1.6 1.6 0 1 0-3.2 0M297.3 41.6a1.6 1.6 0 1 0 3.2 0a1.6 1.6 0 1 0-3.2 0M295.4 48.6a1.6 1.6 0 1 0 3.2 0a1.6 1.6 0 1 0-3.2 0M297.2 40.7a1.6 1.6 0 1 0 3.2 0a1.6 1.6 0 1 0-3.2 0M297 46.1a1.6 1.6 0 1 0 3.2 0a1.6 1.6 0 1 0-3.2 0M286.3 50.5a1.6 1.6 0 1 0 3.2 0a1.6 1.6 0 1 0-3.2 0M303.4 50.8a1.6 1.6 0 1 0 3.2 0a1.6 1.6 0 1 0-3.2 0M301.9 37.1a1.6 1.6 0 1 0 3.2 0a1.6 1.6 0 1 0-3.2 0M298.4 41a1.6 1.6 0 1 0 3.2 0a1.6 1.6 0 1 0-3.2 0M303.2 41.2a1.6 1.6 0 1 0 3.2 0a1.6 1.6 0 1 0-3.2 0M298.6 36.3a1.6 1.6 0 1 0 3.2 0a1.6 1.6 0 1 0-3.2 0M298.6 30.3a1.6 1.6 0 1 0 3.2 0a1.6 1.6 0 1 0-3.2 0M293 43.1a1.6 1.6 0 1 0 3.2 0a1.6 1.6 0 1 0-3.2 0M297.5 40.1a1.6 1.6 0 1 0 3.2 0a1.6 1.6 0 1 0-3.2 0M295.4 30.8a1.6 1.6 0 1 0 3.2 0a1.6 1.6 0 1 0-3.2 0M302.3 50.9a1.6 1.6 0 1 0 3.2 0a1.6 1.6 0 1 0-3.2 0M298.8 37.3a1.6 1.6 0 1 0 3.2 0a1.6 1.6 0 1 0-3.2 0M305.2 38.8a1.6 1.6 0 1 0 3.2 0a1.6 1.6 0 1 0-3.2 0M294.8 36.7a1.6 1.6 0 1 0 3.2 0a1.6 1.6 0 1 0-3.2 0M291.9 40.4a1.6 1.6 0 1 0 3.2 0a1.6 1.6 0 1 0-3.2 0M292.6 33.7a1.6 1.6 0 1 0 3.2 0a1.6 1.6 0 1 0-3.2 0M302.6 29.5a1.6 1.6 0 1 0 3.2 0a1.6 1.6 0 1 0-3.2 0M297.3 41.5a1.6 1.6 0 1 0 3.2 0a1.6 1.6 0 1 0-3.2 0M296.4 34.9a1.6 1.6 0 1 0 3.2 0a1.6 1.6 0 1 0-3.2 0M293.2 37.2a1.6 1.6 0 1 0 3.2 0a1.6 1.6 0 1 0-3.2 0M297.1 37.1a1.6 1.6 0 1 0 3.2 0a1.6 1.6 0 1 0-3.2 0M300.2 45.2a1.6 1.6 0 1 0 3.2 0a1.6 1.6 0 1 0-3.2 0M296.6 50.3a1.6 1.6 0 1 0 3.2 0a1.6 1.6 0 1 0-3.2 0M294.1 44.2a1.6 1.6 0 1 0 3.2 0a1.6 1.6 0 1 0-3.2 0M304.3 43.2a1.6 1.6 0 1 0 3.2 0a1.6 1.6 0 1 0-3.2 0M300.3 42.2a1.6 1.6 0 1 0 3.2 0a1.6 1.6 0 1 0-3.2 0M292 37.8a1.6 1.6 0 1 0 3.2 0a1.6 1.6 0 1 0-3.2 0M309.1 37.7a1.6 1.6 0 1 0 3.2 0a1.6 1.6 0 1 0-3.2 0M305.4 37.8a1.6 1.6 0 1 0 3.2 0a1.6 1.6 0 1 0-3.2 0M304.1 30a1.6 1.6 0 1 0 3.2 0a1.6 1.6 0 1 0-3.2 0M290.1 44.5a1.6 1.6 0 1 0 3.2 0a1.6 1.6 0 1 0-3.2 0M291 40.8a1.6 1.6 0 1 0 3.2 0a1.6 1.6 0 1 0-3.2 0M296.9 44.9a1.6 1.6 0 1 0 3.2 0a1.6 1.6 0 1 0-3.2 0M301.4 31a1.6 1.6 0 1 0 3.2 0a1.6 1.6 0 1 0-3.2 0M306.2 31.4a1.6 1.6 0 1 0 3.2 0a1.6 1.6 0 1 0-3.2 0M299.6 38.6a1.6 1.6 0 1 0 3.2 0a1.6 1.6 0 1 0-3.2 0M306.7 35.7a1.6 1.6 0 1 0 3.2 0a1.6 1.6 0 1 0-3.2 0M304.2 42.6a1.6 1.6 0 1 0 3.2 0a1.6 1.6 0 1 0-3.2 0M296.7 44.4a1.6 1.6 0 1 0 3.2 0a1.6 1.6 0 1 0-3.2 0M305.7 45.5a1.6 1.6 0 1 0 3.2 0a1.6 1.6 0 1 0-3.2 0M300 39.4a1.6 1.6 0 1 0 3.2 0a1.6 1.6 0 1 0-3.2 0M298.4 42.4a1.6 1.6 0 1 0 3.2 0a1.6 1.6 0 1 0-3.2 0M301.2 44.8a1.6 1.6 0 1 0 3.2 0a1.6 1.6 0 1 0-3.2 0M299.7 33.9a1.6 1.6 0 1 0 3.2 0a1.6 1.6 0 1 0-3.2 0M296.1 34.7a1.6 1.6 0 1 0 3.2 0a1.6 1.6 0 1 0-3.2 0M305.6 31.2a1.6 1.6 0 1 0 3.2 0a1.6 1.6 0 1 0-3.2 0M294.4 31.8a1.6 1.6 0 1 0 3.2 0a1.6 1.6 0 1 0-3.2 0M304.5 33.1a1.6 1.6 0 1 0 3.2 0a1.6 1.6 0 1 0-3.2 0M304.2 41.6a1.6 1.6 0 1 0 3.2 0a1.6 1.6 0 1 0-3.2 0M304 39.9a1.6 1.6 0 1 0 3.2 0a1.6 1.6 0 1 0-3.2 0M296.6 43.9a1.6 1.6 0 1 0 3.2 0a1.6 1.6 0 1 0-3.2 0M278 49.3a1.6 1.6 0 1 0 3.2 0a1.6 1.6 0 1 0-3.2 0M278 47.7a1.6 1.6 0 1 0 3.2 0a1.6 1.6 0 1 0-3.2 0M278 55.7a1.6 1.6 0 1 0 3.2 0a1.6 1.6 0 1 0-3.2 0M278 45a1.6 1.6 0 1 0 3.2 0a1.6 1.6 0 1 0-3.2 0M278 54.6a1.6 1.6 0 1 0 3.2 0a1.6 1.6 0 1 0-3.2 0M278 43.4a1.6 1.6 0 1 0 3.2 0a1.6 1.6 0 1 0-3.2 0M278 39.1a1.6 1.6 0 1 0 3.2 0a1.6 1.6 0 1 0-3.2 0M278 40.1a1.6 1.6 0 1 0 3.2 0a1.6 1.6 0 1 0-3.2 0M278 37.9a1.6 1.6 0 1 0 3.2 0a1.6 1.6 0 1 0-3.2 0M278 38.2a1.6 1.6 0 1 0 3.2 0a1.6 1.6 0 1 0-3.2 0M278 33.8a1.6 1.6 0 1 0 3.2 0a1.6 1.6 0 1 0-3.2 0M278 47.3a1.6 1.6 0 1 0 3.2 0a1.6 1.6 0 1 0-3.2 0M278 51.5a1.6 1.6 0 1 0 3.2 0a1.6 1.6 0 1 0-3.2 0M278 47.7a1.6 1.6 0 1 0 3.2 0a1.6 1.6 0 1 0-3.2 0M278 52.3a1.6 1.6 0 1 0 3.2 0a1.6 1.6 0 1 0-3.2 0M278 39.4a1.6 1.6 0 1 0 3.2 0a1.6 1.6 0 1 0-3.2 0M278 59.2a1.6 1.6 0 1 0 3.2 0a1.6 1.6 0 1 0-3.2 0M278 46.7a1.6 1.6 0 1 0 3.2 0a1.6 1.6 0 1 0-3.2 0M278 41.6a1.6 1.6 0 1 0 3.2 0a1.6 1.6 0 1 0-3.2 0M278 43.4a1.6 1.6 0 1 0 3.2 0a1.6 1.6 0 1 0-3.2 0M278 42a1.6 1.6 0 1 0 3.2 0a1.6 1.6 0 1 0-3.2 0M278 52.6a1.6 1.6 0 1 0 3.2 0a1.6 1.6 0 1 0-3.2 0M278 49.3a1.6 1.6 0 1 0 3.2 0a1.6 1.6 0 1 0-3.2 0M278 47.6a1.6 1.6 0 1 0 3.2 0a1.6 1.6 0 1 0-3.2 0M278 44.1a1.6 1.6 0 1 0 3.2 0a1.6 1.6 0 1 0-3.2 0M278 43.5a1.6 1.6 0 1 0 3.2 0a1.6 1.6 0 1 0-3.2 0M278 38.5a1.6 1.6 0 1 0 3.2 0a1.6 1.6 0 1 0-3.2 0M278 53.7a1.6 1.6 0 1 0 3.2 0a1.6 1.6 0 1 0-3.2 0M278 45.1a1.6 1.6 0 1 0 3.2 0a1.6 1.6 0 1 0-3.2 0M278 34.4a1.6 1.6 0 1 0 3.2 0a1.6 1.6 0 1 0-3.2 0M278 39.6a1.6 1.6 0 1 0 3.2 0a1.6 1.6 0 1 0-3.2 0M278 45.4a1.6 1.6 0 1 0 3.2 0a1.6 1.6 0 1 0-3.2 0M278 41.9a1.6 1.6 0 1 0 3.2 0a1.6 1.6 0 1 0-3.2 0M278 48a1.6 1.6 0 1 0 3.2 0a1.6 1.6 0 1 0-3.2 0M278 39.3a1.6 1.6 0 1 0 3.2 0a1.6 1.6 0 1 0-3.2 0M278 49.7a1.6 1.6 0 1 0 3.2 0a1.6 1.6 0 1 0-3.2 0M278 42.2a1.6 1.6 0 1 0 3.2 0a1.6 1.6 0 1 0-3.2 0M278 45.4a1.6 1.6 0 1 0 3.2 0a1.6 1.6 0 1 0-3.2 0M278 50.9a1.6 1.6 0 1 0 3.2 0a1.6 1.6 0 1 0-3.2 0M278 45.6a1.6 1.6 0 1 0 3.2 0a1.6 1.6 0 1 0-3.2 0M278 47.1a1.6 1.6 0 1 0 3.2 0a1.6 1.6 0 1 0-3.2 0M278 50.5a1.6 1.6 0 1 0 3.2 0a1.6 1.6 0 1 0-3.2 0M278 45.9a1.6 1.6 0 1 0 3.2 0a1.6 1.6 0 1 0-3.2 0M278 51.5a1.6 1.6 0 1 0 3.2 0a1.6 1.6 0 1 0-3.2 0M278 40.5a1.6 1.6 0 1 0 3.2 0a1.6 1.6 0 1 0-3.2 0M278 43.9a1.6 1.6 0 1 0 3.2 0a1.6 1.6 0 1 0-3.2 0M278 41.1a1.6 1.6 0 1 0 3.2 0a1.6 1.6 0 1 0-3.2 0M278 43a1.6 1.6 0 1 0 3.2 0a1.6 1.6 0 1 0-3.2 0M278 45.2a1.6 1.6 0 1 0 3.2 0a1.6 1.6 0 1 0-3.2 0M278 54.2a1.6 1.6 0 1 0 3.2 0a1.6 1.6 0 1 0-3.2 0M284.8 45.5a1.6 1.6 0 1 0 3.2 0a1.6 1.6 0 1 0-3.2 0M285.1 56.6a1.6 1.6 0 1 0 3.2 0a1.6 1.6 0 1 0-3.2 0M284.7 43.8a1.6 1.6 0 1 0 3.2 0a1.6 1.6 0 1 0-3.2 0M284.6 49.8a1.6 1.6 0 1 0 3.2 0a1.6 1.6 0 1 0-3.2 0M284 54.8a1.6 1.6 0 1 0 3.2 0a1.6 1.6 0 1 0-3.2 0M286.1 54.7a1.6 1.6 0 1 0 3.2 0a1.6 1.6 0 1 0-3.2 0M285.9 36.7a1.6 1.6 0 1 0 3.2 0a1.6 1.6 0 1 0-3.2 0M284.7 35.8a1.6 1.6 0 1 0 3.2 0a1.6 1.6 0 1 0-3.2 0M284.5 56.7a1.6 1.6 0 1 0 3.2 0a1.6 1.6 0 1 0-3.2 0M285.1 35.7a1.6 1.6 0 1 0 3.2 0a1.6 1.6 0 1 0-3.2 0M285.9 44.9a1.6 1.6 0 1 0 3.2 0a1.6 1.6 0 1 0-3.2 0M285.8 56.1a1.6 1.6 0 1 0 3.2 0a1.6 1.6 0 1 0-3.2 0M284.5 44.9a1.6 1.6 0 1 0 3.2 0a1.6 1.6 0 1 0-3.2 0M285.2 45.7a1.6 1.6 0 1 0 3.2 0a1.6 1.6 0 1 0-3.2 0M284.6 48.4a1.6 1.6 0 1 0 3.2 0a1.6 1.6 0 1 0-3.2 0M285.5 53.8a1.6 1.6 0 1 0 3.2 0a1.6 1.6 0 1 0-3.2 0M285.6 35.9a1.6 1.6 0 1 0 3.2 0a1.6 1.6 0 1 0-3.2 0M285.6 45.8a1.6 1.6 0 1 0 3.2 0a1.6 1.6 0 1 0-3.2 0M285.2 34a1.6 1.6 0 1 0 3.2 0a1.6 1.6 0 1 0-3.2 0M284.9 46.2a1.6 1.6 0 1 0 3.2 0a1.6 1.6 0 1 0-3.2 0M285.4 40.8a1.6 1.6 0 1 0 3.2 0a1.6 1.6 0 1 0-3.2 0M283.8 53.1a1.6 1.6 0 1 0 3.2 0a1.6 1.6 0 1 0-3.2 0M285 52.2a1.6 1.6 0 1 0 3.2 0a1.6 1.6 0 1 0-3.2 0M284.5 58.4a1.6 1.6 0 1 0 3.2 0a1.6 1.6 0 1 0-3.2 0M284.1 51.4a1.6 1.6 0 1 0 3.2 0a1.6 1.6 0 1 0-3.2 0M285.8 35.4a1.6 1.6 0 1 0 3.2 0a1.6 1.6 0 1 0-3.2 0M286.2 53a1.6 1.6 0 1 0 3.2 0a1.6 1.6 0 1 0-3.2 0M285.7 43.3a1.6 1.6 0 1 0 3.2 0a1.6 1.6 0 1 0-3.2 0M285.4 57.6a1.6 1.6 0 1 0 3.2 0a1.6 1.6 0 1 0-3.2 0M283.5 52.6a1.6 1.6 0 1 0 3.2 0a1.6 1.6 0 1 0-3.2 0M282.7 58.1a1.6 1.6 0 1 0 3.2 0a1.6 1.6 0 1 0-3.2 0M283.4 42.7a1.6 1.6 0 1 0 3.2 0a1.6 1.6 0 1 0-3.2 0M284.4 50.1a1.6 1.6 0 1 0 3.2 0a1.6 1.6 0 1 0-3.2 0M283.3 37.5a1.6 1.6 0 1 0 3.2 0a1.6 1.6 0 1 0-3.2 0M282.8 58.9a1.6 1.6 0 1 0 3.2 0a1.6 1.6 0 1 0-3.2 0M285.6 34.1a1.6 1.6 0 1 0 3.2 0a1.6 1.6 0 1 0-3.2 0M284.2 56.9a1.6 1.6 0 1 0 3.2 0a1.6 1.6 0 1 0-3.2 0M285.6 52.7a1.6 1.6 0 1 0 3.2 0a1.6 1.6 0 1 0-3.2 0M284.9 55.2a1.6 1.6 0 1 0 3.2 0a1.6 1.6 0 1 0-3.2 0M283.5 50a1.6 1.6 0 1 0 3.2 0a1.6 1.6 0 1 0-3.2 0M285.5 53.3a1.6 1.6 0 1 0 3.2 0a1.6 1.6 0 1 0-3.2 0M285.6 50.4a1.6 1.6 0 1 0 3.2 0a1.6 1.6 0 1 0-3.2 0M288.5 38a1.6 1.6 0 1 0 3.2 0a1.6 1.6 0 1 0-3.2 0M284.5 46.4a1.6 1.6 0 1 0 3.2 0a1.6 1.6 0 1 0-3.2 0M283.3 34.9a1.6 1.6 0 1 0 3.2 0a1.6 1.6 0 1 0-3.2 0M285.1 39.1a1.6 1.6 0 1 0 3.2 0a1.6 1.6 0 1 0-3.2 0M284.6 42.5a1.6 1.6 0 1 0 3.2 0a1.6 1.6 0 1 0-3.2 0M284.5 36.6a1.6 1.6 0 1 0 3.2 0a1.6 1.6 0 1 0-3.2 0M285.2 40a1.6 1.6 0 1 0 3.2 0a1.6 1.6 0 1 0-3.2 0M284.6 49.9a1.6 1.6 0 1 0 3.2 0a1.6 1.6 0 1 0-3.2 0M286.4 41.2a1.6 1.6 0 1 0 3.2 0a1.6 1.6 0 1 0-3.2 0M287.3 39.3a1.6 1.6 0 1 0 3.2 0a1.6 1.6 0 1 0-3.2 0M286.3 34.1a1.6 1.6 0 1 0 3.2 0a1.6 1.6 0 1 0-3.2 0M286.5 35a1.6 1.6 0 1 0 3.2 0a1.6 1.6 0 1 0-3.2 0M285 37.8a1.6 1.6 0 1 0 3.2 0a1.6 1.6 0 1 0-3.2 0M283.1 43.4a1.6 1.6 0 1 0 3.2 0a1.6 1.6 0 1 0-3.2 0M283.3 38.2a1.6 1.6 0 1 0 3.2 0a1.6 1.6 0 1 0-3.2 0M285.8 35.9a1.6 1.6 0 1 0 3.2 0a1.6 1.6 0 1 0-3.2 0M284.3 45a1.6 1.6 0 1 0 3.2 0a1.6 1.6 0 1 0-3.2 0M287.5 33.9a1.6 1.6 0 1 0 3.2 0a1.6 1.6 0 1 0-3.2 0M286 66.8a1.6 1.6 0 1 0 3.2 0a1.6 1.6 0 1 0-3.2 0M285.9 85.9a1.6 1.6 0 1 0 3.2 0a1.6 1.6 0 1 0-3.2 0M285.2 87.8a1.6 1.6 0 1 0 3.2 0a1.6 1.6 0 1 0-3.2 0M284.7 78.6a1.6 1.6 0 1 0 3.2 0a1.6 1.6 0 1 0-3.2 0M285.1 62.5a1.6 1.6 0 1 0 3.2 0a1.6 1.6 0 1 0-3.2 0M285.6 70.4a1.6 1.6 0 1 0 3.2 0a1.6 1.6 0 1 0-3.2 0M284.9 66.9a1.6 1.6 0 1 0 3.2 0a1.6 1.6 0 1 0-3.2 0M284.6 66.6a1.6 1.6 0 1 0 3.2 0a1.6 1.6 0 1 0-3.2 0M284.6 65.4a1.6 1.6 0 1 0 3.2 0a1.6 1.6 0 1 0-3.2 0M283.9 80.4a1.6 1.6 0 1 0 3.2 0a1.6 1.6 0 1 0-3.2 0M285.7 65.1a1.6 1.6 0 1 0 3.2 0a1.6 1.6 0 1 0-3.2 0M285.4 82.8a1.6 1.6 0 1 0 3.2 0a1.6 1.6 0 1 0-3.2 0M284.3 66.6a1.6 1.6 0 1 0 3.2 0a1.6 1.6 0 1 0-3.2 0M284.5 94.7a1.6 1.6 0 1 0 3.2 0a1.6 1.6 0 1 0-3.2 0M285 91a1.6 1.6 0 1 0 3.2 0a1.6 1.6 0 1 0-3.2 0M285.1 65.9a1.6 1.6 0 1 0 3.2 0a1.6 1.6 0 1 0-3.2 0M284.4 78.6a1.6 1.6 0 1 0 3.2 0a1.6 1.6 0 1 0-3.2 0M285.4 82.9a1.6 1.6 0 1 0 3.2 0a1.6 1.6 0 1 0-3.2 0M285.2 64.8a1.6 1.6 0 1 0 3.2 0a1.6 1.6 0 1 0-3.2 0M285.5 72.8a1.6 1.6 0 1 0 3.2 0a1.6 1.6 0 1 0-3.2 0M285 85.2a1.6 1.6 0 1 0 3.2 0a1.6 1.6 0 1 0-3.2 0M285.3 69.9a1.6 1.6 0 1 0 3.2 0a1.6 1.6 0 1 0-3.2 0M284.4 66.1a1.6 1.6 0 1 0 3.2 0a1.6 1.6 0 1 0-3.2 0M285.3 90.6a1.6 1.6 0 1 0 3.2 0a1.6 1.6 0 1 0-3.2 0M285 65.5a1.6 1.6 0 1 0 3.2 0a1.6 1.6 0 1 0-3.2 0M284.9 88.3a1.6 1.6 0 1 0 3.2 0a1.6 1.6 0 1 0-3.2 0M284.9 82a1.6 1.6 0 1 0 3.2 0a1.6 1.6 0 1 0-3.2 0M286.3 86.9a1.6 1.6 0 1 0 3.2 0a1.6 1.6 0 1 0-3.2 0M285.6 63a1.6 1.6 0 1 0 3.2 0a1.6 1.6 0 1 0-3.2 0M284.6 80.8a1.6 1.6 0 1 0 3.2 0a1.6 1.6 0 1 0-3.2 0M251.4 41.4a1.6 1.6 0 1 0 3.2 0a1.6 1.6 0 1 0-3.2 0M251.4 43.6a1.6 1.6 0 1 0 3.2 0a1.6 1.6 0 1 0-3.2 0M251.4 45.8a1.6 1.6 0 1 0 3.2 0a1.6 1.6 0 1 0-3.2 0M251.4 48.1a1.6 1.6 0 1 0 3.2 0a1.6 1.6 0 1 0-3.2 0M251.4 50.3a1.6 1.6 0 1 0 3.2 0a1.6 1.6 0 1 0-3.2 0M251.4 52.5a1.6 1.6 0 1 0 3.2 0a1.6 1.6 0 1 0-3.2 0M251.4 42.5a1.6 1.6 0 1 0 3.2 0a1.6 1.6 0 1 0-3.2 0M251.4 72.6a1.6 1.6 0 1 0 3.2 0a1.6 1.6 0 1 0-3.2 0M251.4 71.5a1.6 1.6 0 1 0 3.2 0a1.6 1.6 0 1 0-3.2 0M251.4 63.7a1.6 1.6 0 1 0 3.2 0a1.6 1.6 0 1 0-3.2 0M251.4 92.7a1.6 1.6 0 1 0 3.2 0a1.6 1.6 0 1 0-3.2 0M251.4 94.9a1.6 1.6 0 1 0 3.2 0a1.6 1.6 0 1 0-3.2 0M251.4 97.1a1.6 1.6 0 1 0 3.2 0a1.6 1.6 0 1 0-3.2 0M251.4 99.4a1.6 1.6 0 1 0 3.2 0a1.6 1.6 0 1 0-3.2 0M251.4 101.6a1.6 1.6 0 1 0 3.2 0a1.6 1.6 0 1 0-3.2 0M286.3 70.2a1.6 1.6 0 1 0 3.2 0a1.6 1.6 0 1 0-3.2 0M294.4 55.1a1.6 1.6 0 1 0 3.2 0a1.6 1.6 0 1 0-3.2 0M298 80.9a1.6 1.6 0 1 0 3.2 0a1.6 1.6 0 1 0-3.2 0M303.3 69.5a1.6 1.6 0 1 0 3.2 0a1.6 1.6 0 1 0-3.2 0M297.6 56.5a1.6 1.6 0 1 0 3.2 0a1.6 1.6 0 1 0-3.2 0M294.4 71.8a1.6 1.6 0 1 0 3.2 0a1.6 1.6 0 1 0-3.2 0M295.8 75a1.6 1.6 0 1 0 3.2 0a1.6 1.6 0 1 0-3.2 0M290.8 82.8a1.6 1.6 0 1 0 3.2 0a1.6 1.6 0 1 0-3.2 0M286.3 69.9a1.6 1.6 0 1 0 3.2 0a1.6 1.6 0 1 0-3.2 0M291.1 74.2a1.6 1.6 0 1 0 3.2 0a1.6 1.6 0 1 0-3.2 0M304.1 65.2a1.6 1.6 0 1 0 3.2 0a1.6 1.6 0 1 0-3.2 0M289.8 83.6a1.6 1.6 0 1 0 3.2 0a1.6 1.6 0 1 0-3.2 0M290.5 56.1a1.6 1.6 0 1 0 3.2 0a1.6 1.6 0 1 0-3.2 0M290.6 74.7a1.6 1.6 0 1 0 3.2 0a1.6 1.6 0 1 0-3.2 0M290.6 74.2a1.6 1.6 0 1 0 3.2 0a1.6 1.6 0 1 0-3.2 0M288.3 69.7a1.6 1.6 0 1 0 3.2 0a1.6 1.6 0 1 0-3.2 0M289.5 70.4a1.6 1.6 0 1 0 3.2 0a1.6 1.6 0 1 0-3.2 0M286.3 74.6a1.6 1.6 0 1 0 3.2 0a1.6 1.6 0 1 0-3.2 0M296.1 59.9a1.6 1.6 0 1 0 3.2 0a1.6 1.6 0 1 0-3.2 0M294.2 64.6a1.6 1.6 0 1 0 3.2 0a1.6 1.6 0 1 0-3.2 0M289.3 62.5a1.6 1.6 0 1 0 3.2 0a1.6 1.6 0 1 0-3.2 0M292.5 58.2a1.6 1.6 0 1 0 3.2 0a1.6 1.6 0 1 0-3.2 0M293.3 84.9a1.6 1.6 0 1 0 3.2 0a1.6 1.6 0 1 0-3.2 0M286.3 75.8a1.6 1.6 0 1 0 3.2 0a1.6 1.6 0 1 0-3.2 0M302.6 58.2a1.6 1.6 0 1 0 3.2 0a1.6 1.6 0 1 0-3.2 0M303.9 81.5a1.6 1.6 0 1 0 3.2 0a1.6 1.6 0 1 0-3.2 0M288.8 84.5a1.6 1.6 0 1 0 3.2 0a1.6 1.6 0 1 0-3.2 0M290.9 73.7a1.6 1.6 0 1 0 3.2 0a1.6 1.6 0 1 0-3.2 0M294.3 77.2a1.6 1.6 0 1 0 3.2 0a1.6 1.6 0 1 0-3.2 0M287.2 62.2a1.6 1.6 0 1 0 3.2 0a1.6 1.6 0 1 0-3.2 0M292.8 72.8a1.6 1.6 0 1 0 3.2 0a1.6 1.6 0 1 0-3.2 0M300.5 55.4a1.6 1.6 0 1 0 3.2 0a1.6 1.6 0 1 0-3.2 0M289 64.9a1.6 1.6 0 1 0 3.2 0a1.6 1.6 0 1 0-3.2 0M287 74.1a1.6 1.6 0 1 0 3.2 0a1.6 1.6 0 1 0-3.2 0M302.2 64.4a1.6 1.6 0 1 0 3.2 0a1.6 1.6 0 1 0-3.2 0M292.6 77.3a1.6 1.6 0 1 0 3.2 0a1.6 1.6 0 1 0-3.2 0M297.9 60.2a1.6 1.6 0 1 0 3.2 0a1.6 1.6 0 1 0-3.2 0M300 61.2a1.6 1.6 0 1 0 3.2 0a1.6 1.6 0 1 0-3.2 0M292.8 69.9a1.6 1.6 0 1 0 3.2 0a1.6 1.6 0 1 0-3.2 0M296.7 58.6a1.6 1.6 0 1 0 3.2 0a1.6 1.6 0 1 0-3.2 0M298.8 80.7a1.6 1.6 0 1 0 3.2 0a1.6 1.6 0 1 0-3.2 0M301.5 76.2a1.6 1.6 0 1 0 3.2 0a1.6 1.6 0 1 0-3.2 0M298.4 74a1.6 1.6 0 1 0 3.2 0a1.6 1.6 0 1 0-3.2 0M295.8 55.8a1.6 1.6 0 1 0 3.2 0a1.6 1.6 0 1 0-3.2 0M297.6 76.3a1.6 1.6 0 1 0 3.2 0a1.6 1.6 0 1 0-3.2 0M324.8 54.8a1.6 1.6 0 1 0 3.2 0a1.6 1.6 0 1 0-3.2 0M311.4 46.8a1.6 1.6 0 1 0 3.2 0a1.6 1.6 0 1 0-3.2 0M306.9 52.7a1.6 1.6 0 1 0 3.2 0a1.6 1.6 0 1 0-3.2 0M313 48.6a1.6 1.6 0 1 0 3.2 0a1.6 1.6 0 1 0-3.2 0M325.3 52.5a1.6 1.6 0 1 0 3.2 0a1.6 1.6 0 1 0-3.2 0M308.9 31.1a1.6 1.6 0 1 0 3.2 0a1.6 1.6 0 1 0-3.2 0M314.2 33.4a1.6 1.6 0 1 0 3.2 0a1.6 1.6 0 1 0-3.2 0M318.2 35.4a1.6 1.6 0 1 0 3.2 0a1.6 1.6 0 1 0-3.2 0M311.3 56.4a1.6 1.6 0 1 0 3.2 0a1.6 1.6 0 1 0-3.2 0M320.8 45.7a1.6 1.6 0 1 0 3.2 0a1.6 1.6 0 1 0-3.2 0M316.5 39a1.6 1.6 0 1 0 3.2 0a1.6 1.6 0 1 0-3.2 0M320.7 52.2a1.6 1.6 0 1 0 3.2 0a1.6 1.6 0 1 0-3.2 0M312.3 30.8a1.6 1.6 0 1 0 3.2 0a1.6 1.6 0 1 0-3.2 0M315.9 51.8a1.6 1.6 0 1 0 3.2 0a1.6 1.6 0 1 0-3.2 0M318.1 52.8a1.6 1.6 0 1 0 3.2 0a1.6 1.6 0 1 0-3.2 0M321.1 60.1a1.6 1.6 0 1 0 3.2 0a1.6 1.6 0 1 0-3.2 0M322.3 42.5a1.6 1.6 0 1 0 3.2 0a1.6 1.6 0 1 0-3.2 0M312.1 30a1.6 1.6 0 1 0 3.2 0a1.6 1.6 0 1 0-3.2 0M310.2 53.3a1.6 1.6 0 1 0 3.2 0a1.6 1.6 0 1 0-3.2 0M306 43.1a1.6 1.6 0 1 0 3.2 0a1.6 1.6 0 1 0-3.2 0M320.7 38.8a1.6 1.6 0 1 0 3.2 0a1.6 1.6 0 1 0-3.2 0M313.4 34.4a1.6 1.6 0 1 0 3.2 0a1.6 1.6 0 1 0-3.2 0M306.9 51.2a1.6 1.6 0 1 0 3.2 0a1.6 1.6 0 1 0-3.2 0M318.4 29.1a1.6 1.6 0 1 0 3.2 0a1.6 1.6 0 1 0-3.2 0M318.2 38.3a1.6 1.6 0 1 0 3.2 0a1.6 1.6 0 1 0-3.2 0M321.2 48.3a1.6 1.6 0 1 0 3.2 0a1.6 1.6 0 1 0-3.2 0M324.8 36.6a1.6 1.6 0 1 0 3.2 0a1.6 1.6 0 1 0-3.2 0M311.9 48.3a1.6 1.6 0 1 0 3.2 0a1.6 1.6 0 1 0-3.2 0M321.9 49.8a1.6 1.6 0 1 0 3.2 0a1.6 1.6 0 1 0-3.2 0M308.5 32.3a1.6 1.6 0 1 0 3.2 0a1.6 1.6 0 1 0-3.2 0M316 44a1.6 1.6 0 1 0 3.2 0a1.6 1.6 0 1 0-3.2 0M318.9 31.3a1.6 1.6 0 1 0 3.2 0a1.6 1.6 0 1 0-3.2 0M307.4 50.1a1.6 1.6 0 1 0 3.2 0a1.6 1.6 0 1 0-3.2 0M305.9 47.6a1.6 1.6 0 1 0 3.2 0a1.6 1.6 0 1 0-3.2 0M315.3 33a1.6 1.6 0 1 0 3.2 0a1.6 1.6 0 1 0-3.2 0M318.9 42.1a1.6 1.6 0 1 0 3.2 0a1.6 1.6 0 1 0-3.2 0M313.2 42.3a1.6 1.6 0 1 0 3.2 0a1.6 1.6 0 1 0-3.2 0M310.4 33.2a1.6 1.6 0 1 0 3.2 0a1.6 1.6 0 1 0-3.2 0M321.5 33.4a1.6 1.6 0 1 0 3.2 0a1.6 1.6 0 1 0-3.2 0M307.8 39a1.6 1.6 0 1 0 3.2 0a1.6 1.6 0 1 0-3.2 0M320.7 44.7a1.6 1.6 0 1 0 3.2 0a1.6 1.6 0 1 0-3.2 0M323.8 31.4a1.6 1.6 0 1 0 3.2 0a1.6 1.6 0 1 0-3.2 0M320.5 34a1.6 1.6 0 1 0 3.2 0a1.6 1.6 0 1 0-3.2 0M318.5 32.1a1.6 1.6 0 1 0 3.2 0a1.6 1.6 0 1 0-3.2 0M307.4 37.9a1.6 1.6 0 1 0 3.2 0a1.6 1.6 0 1 0-3.2 0M319.7 41a1.6 1.6 0 1 0 3.2 0a1.6 1.6 0 1 0-3.2 0M310.4 59.2a1.6 1.6 0 1 0 3.2 0a1.6 1.6 0 1 0-3.2 0M317.5 33.9a1.6 1.6 0 1 0 3.2 0a1.6 1.6 0 1 0-3.2 0M310.4 54.3a1.6 1.6 0 1 0 3.2 0a1.6 1.6 0 1 0-3.2 0M309.3 58.3a1.6 1.6 0 1 0 3.2 0a1.6 1.6 0 1 0-3.2 0M319.1 28.8a1.6 1.6 0 1 0 3.2 0a1.6 1.6 0 1 0-3.2 0M321.8 49.4a1.6 1.6 0 1 0 3.2 0a1.6 1.6 0 1 0-3.2 0M319.6 59a1.6 1.6 0 1 0 3.2 0a1.6 1.6 0 1 0-3.2 0M322.6 50.6a1.6 1.6 0 1 0 3.2 0a1.6 1.6 0 1 0-3.2 0M304.6 40.4a1.6 1.6 0 1 0 3.2 0a1.6 1.6 0 1 0-3.2 0M307.5 52.2a1.6 1.6 0 1 0 3.2 0a1.6 1.6 0 1 0-3.2 0M305.8 46.5a1.6 1.6 0 1 0 3.2 0a1.6 1.6 0 1 0-3.2 0M316.5 34.4a1.6 1.6 0 1 0 3.2 0a1.6 1.6 0 1 0-3.2 0M305.4 33.8a1.6 1.6 0 1 0 3.2 0a1.6 1.6 0 1 0-3.2 0M306.9 53.9a1.6 1.6 0 1 0 3.2 0a1.6 1.6 0 1 0-3.2 0" stroke="#f00" stroke-width="0.5" fill="none"/>
<path d="M355 51l2 2-2 2-2-2zM349.2 51l2 2-2 2-2-2zM369.6 43.3l2 2-2 2-2-2zM376.5 42.3l2 2-2 2-2-2zM377.8 42.6l2 2-2 2-2-2zM343.6 32.8l2 2-2 2-2-2zM360.5 37l2 2-2 2-2-2zM359.1 48.6l2 2-2 2-2-2zM358.6 54.6l2 2-2 2-2-2zM343.4 52.9l2 2-2 2-2-2zM350.9 56.4l2 2-2 2-2-2zM355.6 43.7l2 2-2 2-2-2zM379.4 32l2 2-2 2-2-2zM356.2 39.3l2 2-2 2-2-2zM354.3 43.1l2 2-2 2-2-2zM356.4 50.2l2 2-2 2-2-2zM357.6 57.4l2 2-2 2-2-2zM361.6 48.3l2 2-2 2-2-2zM344.6 48.8l2 2-2 2-2-2zM362.9 51.3l2 2-2 2-2-2zM362 41.7l2 2-2 2-2-2zM374.2 54.4l2 2-2 2-2-2zM355.5 42.1l2 2-2 2-2-2zM373.5 44.1l2 2-2 2-2-2zM365.2 57.3l2 2-2 2-2-2zM350.2 33.3l2 2-2 2-2-2zM353.5 29.4l2 2-2 2-2-2zM348.6 48.2l2 2-2 2-2-2zM311.9 80.5l2 2-2 2-2-2zM325.8 72.9l2 2-2 2-2-2zM325.1 85.4l2 2-2 2-2-2zM313.3 84.4l2 2-2 2-2-2zM330.9 79.9l2 2-2 2-2-2zM333 79.2l2 2-2 2-2-2zM323.5 80.7l2 2-2 2-2-2zM325.1 91.3l2 2-2 2-2-2zM336.7 81.9l2 2-2 2-2-2zM316 81.9l2 2-2 2-2-2zM326 78.5l2 2-2 2-2-2zM334.7 100.7l2 2-2 2-2-2zM328 75.5l2 2-2 2-2-2zM316.7 94.2l2 2-2 2-2-2zM325.9 82.1l2 2-2 2-2-2zM326.5 90.1l2 2-2 2-2-2zM320.3 82.9l2 2-2 2-2-2zM329.4 71.9l2 2-2 2-2-2zM326 87.3l2 2-2 2-2-2zM306.1 78.1l2 2-2 2-2-2zM322.8 84.6l2 2-2 2-2-2zM316.4 79.9l2 2-2 2-2-2zM310.4 83.4l2 2-2 2-2-2zM324.8 82.3l2 2-2 2-2-2zM333.7 84.5l2 2-2 2-2-2zM324.5 79.2l2 2-2 2-2-2zM312.2 85.6l2 2-2 2-2-2zM324.4 78.7l2 2-2 2-2-2zM317.8 79.5l2 2-2 2-2-2zM326.7 92.2l2 2-2 2-2-2zM312.7 91.9l2 2-2 2-2-2zM324.9 82.8l2 2-2 2-2-2zM329.3 79.4l2 2-2 2-2-2zM319.7 78.1l2 2-2 2-2-2zM330 81.4l2 2-2 2-2-2zM327.5 91.1l2 2-2 2-2-2zM326.6 89.7l2 2-2 2-2-2zM314.9 85.9l2 2-2 2-2-2zM324.9 84.3l2 2-2 2-2-2zM321.3 89.5l2 2-2 2-2-2zM325.2 88.1l2 2-2 2-2-2zM313.2 83.5l2 2-2 2-2-2zM334.8 86.2l2 2-2 2-2-2zM315.8 76.3l2 2-2 2-2-2zM336.8 85.6l2 2-2 2-2-2zM296.9 91.5l2 2-2 2-2-2zM320.8 92l2 2-2 2-2-2zM306 89.9l2 2-2 2-2-2zM284.8 100.2l2 2-2 2-2-2zM289.2 90l2 2-2 2-2-2zM299.3 81l2 2-2 2-2-2zM296.5 90.8l2 2-2 2-2-2zM299.1 92l2 2-2 2-2-2zM316 91l2 2-2 2-2-2zM309.7 84.3l2 2-2 2-2-2zM294 88.3l2 2-2 2-2-2zM295.7 92.2l2 2-2 2-2-2zM299.7 92.8l2 2-2 2-2-2zM295 82.5l2 2-2 2-2-2zM296.5 88.2l2 2-2 2-2-2zM311.2 88.7l2 2-2 2-2-2zM306.3 83.6l2 2-2 2-2-2zM306.8 81.4l2 2-2 2-2-2zM287.7 79.8l2 2-2 2-2-2zM298.8 104.6l2 2-2 2-2-2zM293.7 102.2l2 2-2 2-2-2zM298.4 102.8l2 2-2 2-2-2zM290.9 90.9l2 2-2 2-2-2zM299.7 98.2l2 2-2 2-2-2zM296.8 93.6l2 2-2 2-2-2zM299.1 92.9l2 2-2 2-2-2zM296.9 87l2 2-2 2-2-2zM286.4 96.2l2 2-2 2-2-2zM299.6 95.6l2 2-2 2-2-2zM294.4 95.8l2 2-2 2-2-2zM300.1 84.6l2 2-2 2-2-2zM297.1 94.7l2 2-2 2-2-2zM301.2 94.5l2 2-2 2-2-2zM283.9 91.1l2 2-2 2-2-2zM295.7 96.7l2 2-2 2-2-2zM303.3 92.6l2 2-2 2-2-2zM294.3 107.5l2 2-2 2-2-2zM285.5 92.8l2 2-2 2-2-2zM297.7 90l2 2-2 2-2-2zM300.2 96.1l2 2-2 2-2-2zM288.9 100.2l2 2-2 2-2-2zM297.5 100.6l2 2-2 2-2-2zM304.3 101.8l2 2-2 2-2-2zM284.9 94.2l2 2-2 2-2-2zM285.1 82l2 2-2 2-2-2zM323.9 76.3l2 2-2 2-2-2zM331.5 78.9l2 2-2 2-2-2zM316.1 82.4l2 2-2 2-2-2zM342.7 72.8l2 2-2 2-2-2zM355.8 81.1l2 2-2 2-2-2zM339.6 76.2l2 2-2 2-2-2zM342.5 77.9l2 2-2 2-2-2zM341.3 73.2l2 2-2 2-2-2zM340.1 71.3l2 2-2 2-2-2zM332.2 71l2 2-2 2-2-2zM326.9 70.6l2 2-2 2-2-2zM306.2 76.1l2 2-2 2-2-2zM325.9 76.2l2 2-2 2-2-2zM344.4 73.8l2 2-2 2-2-2zM334.9 70.5l2 2-2 2-2-2zM293.7 107.3l2 2-2 2-2-2zM323.9 99.6l2 2-2 2-2-2zM287.7 99.5l2 2-2 2-2-2zM296.7 91.9l2 2-2 2-2-2zM320.2 105.5l2 2-2 2-2-2zM321.7 107.4l2 2-2 2-2-2zM318 97.9l2 2-2 2-2-2zM307.4 111.3l2 2-2 2-2-2zM305.8 117.1l2 2-2 2-2-2zM303 114.2l2 2-2 2-2-2zM321 108.3l2 2-2 2-2-2zM284 97.9l2 2-2 2-2-2zM312.4 105.2l2 2-2 2-2-2zM330.1 96.6l2 2-2 2-2-2zM309.3 106.1l2 2-2 2-2-2zM278.7 98.6l2 2-2 2-2-2zM318.4 105.8l2 2-2 2-2-2zM294.4 102.1l2 2-2 2-2-2zM291.7 101.8l2 2-2 2-2-2zM316.5 91.7l2 2-2 2-2-2zM300.1 98.7l2 2-2 2-2-2zM342.1 84.1l2 2-2 2-2-2zM321.3 83.6l2 2-2 2-2-2zM321.7 82.2l2 2-2 2-2-2zM305.3 106.1l2 2-2 2-2-2zM292.1 108l2 2-2 2-2-2zM308.5 103.1l2 2-2 2-2-2zM294.7 89.8l2 2-2 2-2-2zM342.4 82.4l2 2-2 2-2-2zM303.6 79.3l2 2-2 2-2-2zM298.3 104.7l2 2-2 2-2-2zM305.3 93l2 2-2 2-2-2zM326.8 91.6l2 2-2 2-2-2zM329 104.9l2 2-2 2-2-2zM340.3 95.5l2 2-2 2-2-2zM334.7 107.3l2 2-2 2-2-2zM334.5 99.9l2 2-2 2-2-2zM336 78.1l2 2-2 2-2-2zM325.8 98l2 2-2 2-2-2zM289 101.3l2 2-2 2-2-2zM293.5 114.1l2 2-2 2-2-2zM298.5 114.1l2 2-2 2-2-2zM303.6 114.1l2 2-2 2-2-2zM308.7 114.1l2 2-2 2-2-2zM313.7 114.1l2 2-2 2-2-2zM288.4 114.1l2 2-2 2-2-2zM288.4 106.3l2 2-2 2-2-2zM298.5 106.3l2 2-2 2-2-2zM308.7 106.3l2 2-2 2-2-2zM318.8 106.3l2 2-2 2-2-2zM328.9 106.3l2 2-2 2-2-2z" fill="#cc66f0"/>
<text x="224" y="12.2" font-size="11.2" font-weight="bold">B</text>
<text x="275.20" y="8.40" font-size="6.43" textLength="89.60" lengthAdjust="spacingAndGlyphs" font-weight="bold" fill="#111">Hashtag distribution in Dataset</text>
<path d="M247.8 28V139.5" stroke="#333" stroke-width="0.7" fill="none"/>
<path d="M247.8 139.5H245.2" stroke="#333" stroke-width="0.7"/>
<text x="241.6" y="139.5" font-size="5.8" text-anchor="middle" fill="#222" transform="rotate(-90 241.6 139.5)" stroke="#222" stroke-width="0.12">-1</text>
<path d="M247.8 117.2H245.2" stroke="#333" stroke-width="0.7"/>
<text x="241.6" y="117.2" font-size="5.8" text-anchor="middle" fill="#222" transform="rotate(-90 241.6 117.2)" stroke="#222" stroke-width="0.12">0</text>
<path d="M247.8 94.9H245.2" stroke="#333" stroke-width="0.7"/>
<text x="241.6" y="94.9" font-size="5.8" text-anchor="middle" fill="#222" transform="rotate(-90 241.6 94.9)" stroke="#222" stroke-width="0.12">1</text>
<path d="M247.8 72.6H245.2" stroke="#333" stroke-width="0.7"/>
<text x="241.6" y="72.6" font-size="5.8" text-anchor="middle" fill="#222" transform="rotate(-90 241.6 72.6)" stroke="#222" stroke-width="0.12">2</text>
<path d="M247.8 50.3H245.2" stroke="#333" stroke-width="0.7"/>
<text x="241.6" y="50.3" font-size="5.8" text-anchor="middle" fill="#222" transform="rotate(-90 241.6 50.3)" stroke="#222" stroke-width="0.12">3</text>
<path d="M247.8 28H245.2" stroke="#333" stroke-width="0.7"/>
<text x="241.6" y="28" font-size="5.8" text-anchor="middle" fill="#222" transform="rotate(-90 241.6 28)" stroke="#222" stroke-width="0.12">4</text>
<path d="M253 144.6H379.5" stroke="#333" stroke-width="0.7" fill="none"/>
<path d="M253 144.6V147.3" stroke="#333" stroke-width="0.7"/>
<text x="253" y="156" font-size="5.8" text-anchor="middle" fill="#222" stroke="#222" stroke-width="0.12">-1</text>
<path d="M278.3 144.6V147.3" stroke="#333" stroke-width="0.7"/>
<text x="278.3" y="156" font-size="5.8" text-anchor="middle" fill="#222" stroke="#222" stroke-width="0.12">0</text>
<path d="M303.6 144.6V147.3" stroke="#333" stroke-width="0.7"/>
<text x="303.6" y="156" font-size="5.8" text-anchor="middle" fill="#222" stroke="#222" stroke-width="0.12">1</text>
<path d="M328.9 144.6V147.3" stroke="#333" stroke-width="0.7"/>
<text x="328.9" y="156" font-size="5.8" text-anchor="middle" fill="#222" stroke="#222" stroke-width="0.12">2</text>
<path d="M354.2 144.6V147.3" stroke="#333" stroke-width="0.7"/>
<text x="354.2" y="156" font-size="5.8" text-anchor="middle" fill="#222" stroke="#222" stroke-width="0.12">3</text>
<path d="M379.5 144.6V147.3" stroke="#333" stroke-width="0.7"/>
<text x="379.5" y="156" font-size="5.8" text-anchor="middle" fill="#222" stroke="#222" stroke-width="0.12">4</text>
<text x="279.30" y="167.70" font-size="5.36" textLength="82.90" lengthAdjust="spacingAndGlyphs" fill="#222" stroke="#222" stroke-width="0.12">Log10 Counts of Hashtag-1 (Control)</text>
<text x="229.80" y="129.40" font-size="5.32" textLength="95.40" lengthAdjust="spacingAndGlyphs" transform="rotate(-90 229.80 129.40)" fill="#222" stroke="#222" stroke-width="0.12">Log10 Counts of Hashtag-2 (Panobinostat)</text>
<rect x="248.4" y="120.4" width="41.3" height="23.8" fill="#fdfde6" stroke="#333" stroke-width="0.6"/>
<path d="M250.9 126.8H254.7M252.8 124.9V128.7" stroke="#3b3bff" stroke-width="0.8"/>
<circle cx="252.8" cy="132.9" r="1.5" fill="none" stroke="#ff3030" stroke-width="0.7"/>
<path d="M252.8 136.9L255 139.1L252.8 141.3L250.6 139.1Z" fill="#d040ff"/>
<text x="257.10" y="128.60" font-size="5.36" textLength="19.80" lengthAdjust="spacingAndGlyphs" fill="#222" stroke="#222" stroke-width="0.12">ctr=1454</text>
<text x="257.10" y="134.60" font-size="5.04" textLength="21.30" lengthAdjust="spacingAndGlyphs" fill="#222" stroke="#222" stroke-width="0.12">pnb=1031</text>
<text x="257.10" y="140.90" font-size="5.36" textLength="30.20" lengthAdjust="spacingAndGlyphs" fill="#222" stroke="#222" stroke-width="0.12">multiplet=193</text>
</svg></body></html>
